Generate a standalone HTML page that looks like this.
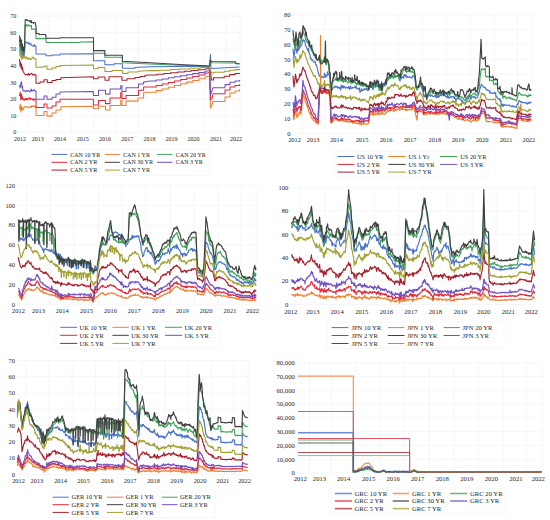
<!DOCTYPE html>
<html><head><meta charset="utf-8"><style>
html,body{margin:0;padding:0;background:#fff;}
svg{display:block;}
text{font-family:"Liberation Serif", serif;}
</style></head><body>
<svg width="550" height="520" viewBox="0 0 550 520">
<rect width="550" height="520" fill="#fff"/>
<line x1="19" y1="132.3" x2="240" y2="132.3" stroke="#f4f4f4" stroke-width="0.8"/>
<line x1="19" y1="115.7" x2="240" y2="115.7" stroke="#f4f4f4" stroke-width="0.8"/>
<line x1="19" y1="99.1" x2="240" y2="99.1" stroke="#f4f4f4" stroke-width="0.8"/>
<line x1="19" y1="82.5" x2="240" y2="82.5" stroke="#f4f4f4" stroke-width="0.8"/>
<line x1="19" y1="65.9" x2="240" y2="65.9" stroke="#f4f4f4" stroke-width="0.8"/>
<line x1="19" y1="49.3" x2="240" y2="49.3" stroke="#f4f4f4" stroke-width="0.8"/>
<line x1="19" y1="32.7" x2="240" y2="32.7" stroke="#f4f4f4" stroke-width="0.8"/>
<line x1="19" y1="16.1" x2="240" y2="16.1" stroke="#f4f4f4" stroke-width="0.8"/>
<line x1="48.9" y1="16.1" x2="48.9" y2="132.3" stroke="#f4f4f4" stroke-width="0.8"/>
<line x1="71.3" y1="16.1" x2="71.3" y2="132.3" stroke="#f4f4f4" stroke-width="0.8"/>
<line x1="93.9" y1="16.1" x2="93.9" y2="132.3" stroke="#f4f4f4" stroke-width="0.8"/>
<line x1="116.2" y1="16.1" x2="116.2" y2="132.3" stroke="#f4f4f4" stroke-width="0.8"/>
<line x1="138.4" y1="16.1" x2="138.4" y2="132.3" stroke="#f4f4f4" stroke-width="0.8"/>
<line x1="160.6" y1="16.1" x2="160.6" y2="132.3" stroke="#f4f4f4" stroke-width="0.8"/>
<line x1="182.5" y1="16.1" x2="182.5" y2="132.3" stroke="#f4f4f4" stroke-width="0.8"/>
<line x1="204.8" y1="16.1" x2="204.8" y2="132.3" stroke="#f4f4f4" stroke-width="0.8"/>
<line x1="226.0" y1="16.1" x2="226.0" y2="132.3" stroke="#f4f4f4" stroke-width="0.8"/>
<line x1="28.8" y1="16.1" x2="28.8" y2="132.3" stroke="#f4f4f4" stroke-width="0.8"/>
<line x1="240.0" y1="16.1" x2="240.0" y2="132.3" stroke="#f4f4f4" stroke-width="0.8"/>
<text x="16.2" y="134.4" text-anchor="end" font-size="6.05" fill="#1e1e1e">0</text>
<text x="16.2" y="117.8" text-anchor="end" font-size="6.05" fill="#1e1e1e">10</text>
<text x="16.2" y="101.2" text-anchor="end" font-size="6.05" fill="#1e1e1e">20</text>
<text x="16.2" y="84.6" text-anchor="end" font-size="6.05" fill="#1e1e1e">30</text>
<text x="16.2" y="68.0" text-anchor="end" font-size="6.05" fill="#1e1e1e">40</text>
<text x="16.2" y="51.4" text-anchor="end" font-size="6.05" fill="#1e1e1e">50</text>
<text x="16.2" y="34.8" text-anchor="end" font-size="6.05" fill="#1e1e1e">60</text>
<text x="16.2" y="18.2" text-anchor="end" font-size="6.05" fill="#1e1e1e">70</text>
<text x="20.0" y="140.6" text-anchor="middle" font-size="6.05" fill="#1e1e1e">2012</text>
<text x="37.7" y="140.6" text-anchor="middle" font-size="6.05" fill="#1e1e1e">2013</text>
<text x="60.0" y="140.6" text-anchor="middle" font-size="6.05" fill="#1e1e1e">2014</text>
<text x="82.7" y="140.6" text-anchor="middle" font-size="6.05" fill="#1e1e1e">2015</text>
<text x="105.1" y="140.6" text-anchor="middle" font-size="6.05" fill="#1e1e1e">2016</text>
<text x="127.3" y="140.6" text-anchor="middle" font-size="6.05" fill="#1e1e1e">2017</text>
<text x="149.6" y="140.6" text-anchor="middle" font-size="6.05" fill="#1e1e1e">2018</text>
<text x="171.5" y="140.6" text-anchor="middle" font-size="6.05" fill="#1e1e1e">2019</text>
<text x="193.5" y="140.6" text-anchor="middle" font-size="6.05" fill="#1e1e1e">2020</text>
<text x="216.0" y="140.6" text-anchor="middle" font-size="6.05" fill="#1e1e1e">2021</text>
<text x="236.0" y="140.6" text-anchor="middle" font-size="6.05" fill="#1e1e1e">2022</text>
<polyline points="19.5,44.0 20.0,50.0 20.5,45.0 21.0,54.0 21.5,47.0 22.0,55.0 22.5,50.0 23.0,56.0 23.5,52.0 24.0,57.0 24.6,52.0 25.2,42.5 25.2,42.5 25.9,41.7 26.6,42.7 27.3,43.0 28.0,42.5 28.0,43.5 28.6,43.9 29.2,42.8 29.8,44.2 30.4,44.0 31.0,43.5 31.0,45.0 31.7,45.5 32.3,45.5 33.0,45.8 33.7,46.6 34.3,44.6 35.0,45.0 35.0,46.3 36.0,46.3 36.0,53.9 46.0,53.9 46.0,55.8 52.0,55.8 52.0,55.0 60.0,55.0 60.0,53.9 93.5,53.7 93.5,60.7 104.9,60.7 104.9,64.7 114.0,64.7 114.0,63.8 122.4,63.8 122.4,68.3 135.0,68.3 135.0,67.5 150.0,66.7 180.0,66.5 209.6,66.5 210.4,54.6 211.0,68.0 211.5,68.5 239.6,66.9" fill="none" stroke="#4a72c8" stroke-width="1.05" stroke-linejoin="round" stroke-opacity="1.0"/>
<polyline points="19.5,109.4 20.2,104.0 20.8,112.0 21.5,106.0 22.0,110.0 22.5,108.0 23.0,110.0 23.7,108.3 24.3,106.4 25.0,106.7 25.0,106.7 25.6,107.1 26.2,107.2 26.9,106.5 27.5,107.0 28.1,107.9 28.8,107.4 29.4,107.2 30.0,107.2 30.6,106.1 31.2,107.4 31.9,105.5 32.5,106.5 33.1,106.4 33.8,105.5 34.4,106.6 35.0,106.7 35.0,106.7 36.0,106.7 36.0,115.5 44.0,115.5 44.0,111.4 47.0,111.4 47.0,116.1 52.0,116.1 52.0,113.0 56.0,113.0 56.0,110.0 61.0,110.0 61.0,106.7 93.4,106.2 93.4,108.7 98.5,108.7 98.5,106.2 105.5,106.2 105.5,110.0 110.0,110.0 110.0,105.5 120.7,105.5 120.7,100.5 122.0,100.5 122.0,105.5 126.0,105.5 126.0,101.1 138.0,101.1 138.0,97.9 143.6,97.9 143.6,92.8 150.0,92.3 156.1,92.3 156.1,90.6 162.2,90.6 162.2,88.9 168.3,88.9 168.3,87.2 174.4,87.2 174.4,85.5 180.6,85.5 180.6,83.8 186.7,83.8 186.7,82.1 192.8,82.1 192.8,80.4 198.9,80.4 198.9,78.7 205.0,78.7 205.0,77.0 209.6,76.0 210.5,108.0 211.5,106.2 213.0,101.5 213.0,101.5 225.0,101.5 225.0,96.9 230.0,96.9 230.0,93.0 235.0,93.0 235.0,91.0 239.6,91.0 239.6,89.2" fill="none" stroke="#ee8030" stroke-width="1.05" stroke-linejoin="round" stroke-opacity="1.0"/>
<polyline points="19.5,40.0 20.0,47.0 20.5,42.0 21.0,50.0 21.5,44.0 22.0,52.0 22.5,47.0 23.0,52.0 23.5,49.0 24.0,53.0 24.6,48.0 25.2,24.6 25.2,24.6 25.8,25.0 26.4,26.1 27.0,24.6 27.0,25.5 27.6,26.2 28.3,24.7 28.9,25.1 29.6,26.1 30.2,25.5 30.9,26.3 31.5,25.5 31.5,29.1 36.0,29.1 36.0,38.6 46.0,38.6 46.0,42.5 80.0,42.5 80.0,42.0 93.5,41.8 93.5,53.3 104.9,53.3 104.9,57.3 122.4,57.3 122.4,62.7 150.0,64.0 180.0,65.2 209.6,66.3 210.4,60.0 211.5,62.8 235.5,63.0 236.0,63.8 239.6,64.0" fill="none" stroke="#3fa45a" stroke-width="1.05" stroke-linejoin="round" stroke-opacity="1.0"/>
<polyline points="19.5,96.0 20.2,92.0 20.8,100.0 21.5,94.0 22.0,99.0 22.5,97.0 23.0,100.0 24.0,99.3 24.0,99.3 24.6,100.1 25.2,98.4 25.8,99.8 26.4,98.5 27.1,100.1 27.7,98.2 28.3,98.8 28.9,98.9 29.5,97.8 30.1,99.9 30.7,98.2 31.3,98.4 31.9,98.9 32.6,99.8 33.2,98.7 33.8,100.7 34.4,99.3 35.0,99.3 35.0,99.3 36.0,99.3 36.0,107.4 44.0,107.4 44.0,104.0 47.0,104.0 47.0,108.0 52.0,108.0 52.0,106.0 56.0,106.0 56.0,102.0 60.0,102.0 60.0,99.3 93.4,99.2 93.4,104.9 98.5,104.9 98.5,100.5 105.5,100.5 105.5,103.6 110.0,103.6 110.0,97.9 120.7,97.9 120.7,92.8 122.0,92.8 122.0,98.5 126.0,98.5 126.0,95.4 138.5,95.4 138.5,90.3 143.6,90.3 143.6,87.1 150.0,87.0 156.1,87.0 156.1,85.5 162.2,85.5 162.2,84.0 168.3,84.0 168.3,82.5 174.4,82.5 174.4,81.0 180.6,81.0 180.6,79.5 186.7,79.5 186.7,78.0 192.8,78.0 192.8,76.5 198.9,76.5 198.9,75.0 205.0,75.0 205.0,73.5 209.6,72.6 210.5,100.0 212.0,98.5 213.0,93.8 213.0,93.8 225.0,93.8 225.0,90.0 230.0,90.0 230.0,86.9 235.0,86.9 235.0,85.5 239.6,85.5 239.6,84.3" fill="none" stroke="#e0283a" stroke-width="1.05" stroke-linejoin="round" stroke-opacity="1.0"/>
<polyline points="19.5,35.5 20.0,42.0 20.5,38.0 21.0,47.0 21.5,40.0 22.0,50.0 22.5,44.0 23.0,51.0 23.5,47.0 24.0,52.0 24.6,46.0 25.2,19.5 25.8,19.9 26.4,19.9 27.0,19.5 27.0,20.8 27.6,20.4 28.3,20.8 28.9,20.8 29.6,20.8 30.2,22.3 30.9,20.6 31.5,20.8 31.5,22.7 32.1,22.5 32.8,22.4 33.5,23.4 34.1,22.4 34.8,22.6 35.4,22.7 35.4,25.3 36.0,25.3 36.0,33.5 39.0,33.5 39.0,34.5 45.5,34.5 45.5,35.5 46.0,35.5 46.0,38.3 60.0,38.3 60.0,37.8 93.5,37.8 93.5,38.2 93.5,50.6 104.9,50.6 104.9,55.3 122.4,55.3 122.4,61.3 150.0,62.7 180.0,64.4 209.6,66.0 210.4,60.0 211.5,61.5 235.5,61.7 236.0,63.5 239.6,63.8" fill="none" stroke="#404040" stroke-width="1.05" stroke-linejoin="round" stroke-opacity="1.0"/>
<polyline points="19.5,85.0 20.2,88.0 20.8,83.0 21.5,81.8 22.0,88.0 22.5,86.0 23.0,91.0 24.0,90.6 24.0,90.6 24.6,90.6 25.2,91.5 25.8,92.0 26.4,90.6 27.1,90.4 27.7,91.3 28.3,90.6 28.9,91.2 29.5,91.7 30.1,91.0 30.7,91.4 31.3,89.0 31.9,91.3 32.6,90.5 33.2,89.9 33.8,90.5 34.4,89.8 35.0,90.6 35.0,91.2 36.0,91.2 36.0,99.3 44.0,99.3 44.0,96.0 47.0,96.0 47.0,99.3 52.0,99.3 52.0,97.3 56.0,97.3 56.0,94.0 60.0,94.0 60.0,91.9 93.4,91.5 93.4,95.4 98.5,95.4 98.5,90.3 105.5,90.3 105.5,94.1 110.0,94.1 110.0,89.0 120.7,89.0 120.7,85.8 122.0,85.8 122.0,91.5 126.0,91.5 126.0,87.7 138.5,87.7 138.5,83.9 143.6,83.9 143.6,82.0 150.0,81.0 156.1,81.0 156.1,79.9 162.2,79.9 162.2,78.9 168.3,78.9 168.3,77.8 174.4,77.8 174.4,76.8 180.6,76.8 180.6,75.7 186.7,75.7 186.7,74.7 192.8,74.7 192.8,73.6 198.9,73.6 198.9,72.6 205.0,72.6 205.0,71.5 209.6,70.6 210.5,95.0 212.0,90.8 213.0,87.7 213.0,87.7 225.0,87.7 225.0,84.6 230.0,84.6 230.0,82.3 235.0,82.3 235.0,81.0 239.6,81.0 239.6,80.0" fill="none" stroke="#7050c0" stroke-width="1.05" stroke-linejoin="round" stroke-opacity="1.0"/>
<polyline points="19.5,59.0 20.0,66.0 20.5,62.0 21.0,68.0 21.5,64.0 22.0,70.0 22.5,67.0 23.0,71.0 24.0,73.0 25.0,74.4 25.0,74.4 25.6,75.0 26.2,74.6 26.8,74.7 27.4,74.3 28.0,75.1 28.6,73.3 29.2,75.2 29.8,74.2 30.4,74.3 31.0,73.7 31.6,73.3 32.2,74.1 32.8,74.9 33.4,74.6 34.0,75.0 34.6,74.2 35.2,74.4 35.2,75.0 36.0,75.0 36.0,83.2 40.0,83.2 40.0,82.0 44.0,82.0 44.0,79.8 47.3,79.8 47.3,82.5 52.0,82.5 52.0,80.5 56.0,80.5 56.0,79.5 60.8,79.5 60.8,77.8 93.5,76.8 93.5,78.8 98.0,78.8 98.0,77.0 105.0,77.0 105.0,80.2 109.0,80.2 109.0,76.8 122.0,76.8 122.0,80.2 127.0,80.2 127.0,78.8 135.0,78.8 135.0,77.5 140.0,77.5 140.0,76.5 145.0,76.5 145.0,75.3 150.0,75.0 156.9,75.0 156.9,74.2 163.8,74.2 163.8,73.5 170.6,73.5 170.6,72.8 177.5,72.8 177.5,72.0 184.4,72.0 184.4,71.2 191.2,71.2 191.2,70.5 198.1,70.5 198.1,69.8 205.0,69.8 205.0,69.0 209.6,68.5 210.4,70.0 211.5,80.0 211.5,80.0 213.5,80.0 213.5,77.7 224.2,77.7 224.2,76.2 229.6,76.2 229.6,74.6 235.0,74.6 235.0,73.5 239.6,73.5 239.6,73.0" fill="none" stroke="#a8202e" stroke-width="1.05" stroke-linejoin="round" stroke-opacity="1.0"/>
<polyline points="19.5,50.0 20.0,56.0 20.5,52.0 21.0,58.0 21.5,54.0 22.0,60.0 22.5,56.0 23.0,57.7 23.0,57.7 23.7,58.0 24.3,56.4 25.0,57.7 25.7,58.9 26.3,56.6 27.0,57.7 27.0,58.5 27.6,58.9 28.2,58.1 28.8,59.6 29.5,58.2 30.1,58.1 30.7,59.7 31.3,59.4 31.9,58.3 32.5,57.1 33.2,57.3 33.8,58.8 34.4,58.8 35.0,58.5 35.0,59.0 36.0,59.0 36.0,67.3 43.0,67.3 43.0,66.8 45.0,66.8 45.0,66.0 47.0,66.0 47.0,69.2 52.0,69.2 52.0,68.0 56.0,68.0 56.0,66.5 60.0,66.5 60.0,65.4 93.5,65.1 93.5,68.7 98.0,68.7 98.0,67.4 104.9,67.4 104.9,71.4 112.0,71.4 112.0,70.5 122.4,70.5 122.4,73.5 128.0,73.5 128.0,72.0 138.0,72.0 138.0,71.2 150.0,70.6 150.0,70.6 160.0,70.6 160.0,70.2 170.0,70.2 170.0,69.5 180.0,69.5 180.0,69.0 190.0,69.0 190.0,68.3 200.0,68.3 200.0,67.8 209.6,67.2 210.4,70.0 211.5,73.0 211.5,73.0 213.5,73.0 213.5,72.2 224.2,72.2 224.2,71.2 229.6,71.2 229.6,70.2 235.0,70.2 235.0,69.6 239.6,69.6 239.6,69.2" fill="none" stroke="#a0a030" stroke-width="1.05" stroke-linejoin="round" stroke-opacity="1.0"/>
<rect x="48" y="149.3" width="162" height="26.5" fill="none" stroke="#f4f4f4" stroke-width="0.8"/>
<line x1="51.5" y1="154.4" x2="67.2" y2="154.4" stroke="#4a72c8" stroke-width="1.0" stroke-opacity="1.0"/>
<text x="70.2" y="156.5" text-anchor="start" font-size="6.05" fill="#1e1e1e">CAN 10 YR</text>
<line x1="104.8" y1="154.4" x2="119.8" y2="154.4" stroke="#ee8030" stroke-width="1.0" stroke-opacity="1.0"/>
<text x="123.0" y="156.5" text-anchor="start" font-size="6.05" fill="#1e1e1e">CAN 1 YR</text>
<line x1="157" y1="154.4" x2="172.5" y2="154.4" stroke="#3fa45a" stroke-width="1.0" stroke-opacity="1.0"/>
<text x="175.8" y="156.5" text-anchor="start" font-size="6.05" fill="#1e1e1e">CAN 20 YR</text>
<line x1="51.5" y1="162.3" x2="67.2" y2="162.3" stroke="#e0283a" stroke-width="1.0" stroke-opacity="1.0"/>
<text x="70.2" y="164.4" text-anchor="start" font-size="6.05" fill="#1e1e1e">CAN 2 YR</text>
<line x1="104.8" y1="162.3" x2="119.8" y2="162.3" stroke="#404040" stroke-width="1.0" stroke-opacity="1.0"/>
<text x="123.0" y="164.4" text-anchor="start" font-size="6.05" fill="#1e1e1e">CAN 30 YR</text>
<line x1="157" y1="162.3" x2="172.5" y2="162.3" stroke="#7050c0" stroke-width="1.0" stroke-opacity="1.0"/>
<text x="175.8" y="164.4" text-anchor="start" font-size="6.05" fill="#1e1e1e">CAN 3 YR</text>
<line x1="51.5" y1="170.1" x2="67.2" y2="170.1" stroke="#a8202e" stroke-width="1.0" stroke-opacity="1.0"/>
<text x="70.2" y="172.2" text-anchor="start" font-size="6.05" fill="#1e1e1e">CAN 5 YR</text>
<line x1="104.8" y1="170.1" x2="119.8" y2="170.1" stroke="#a0a030" stroke-width="1.0" stroke-opacity="1.0"/>
<text x="123.0" y="172.2" text-anchor="start" font-size="6.05" fill="#1e1e1e">CAN 7 YR</text>
<line x1="293" y1="133.6" x2="532" y2="133.6" stroke="#f4f4f4" stroke-width="0.8"/>
<line x1="293" y1="118.8" x2="532" y2="118.8" stroke="#f4f4f4" stroke-width="0.8"/>
<line x1="293" y1="103.9" x2="532" y2="103.9" stroke="#f4f4f4" stroke-width="0.8"/>
<line x1="293" y1="89.0" x2="532" y2="89.0" stroke="#f4f4f4" stroke-width="0.8"/>
<line x1="293" y1="74.2" x2="532" y2="74.2" stroke="#f4f4f4" stroke-width="0.8"/>
<line x1="293" y1="59.3" x2="532" y2="59.3" stroke="#f4f4f4" stroke-width="0.8"/>
<line x1="293" y1="44.5" x2="532" y2="44.5" stroke="#f4f4f4" stroke-width="0.8"/>
<line x1="293" y1="29.6" x2="532" y2="29.6" stroke="#f4f4f4" stroke-width="0.8"/>
<line x1="293" y1="14.8" x2="532" y2="14.8" stroke="#f4f4f4" stroke-width="0.8"/>
<line x1="324.9" y1="14.8" x2="324.9" y2="133.6" stroke="#f4f4f4" stroke-width="0.8"/>
<line x1="349.2" y1="14.8" x2="349.2" y2="133.6" stroke="#f4f4f4" stroke-width="0.8"/>
<line x1="374.0" y1="14.8" x2="374.0" y2="133.6" stroke="#f4f4f4" stroke-width="0.8"/>
<line x1="398.0" y1="14.8" x2="398.0" y2="133.6" stroke="#f4f4f4" stroke-width="0.8"/>
<line x1="422.4" y1="14.8" x2="422.4" y2="133.6" stroke="#f4f4f4" stroke-width="0.8"/>
<line x1="446.4" y1="14.8" x2="446.4" y2="133.6" stroke="#f4f4f4" stroke-width="0.8"/>
<line x1="470.0" y1="14.8" x2="470.0" y2="133.6" stroke="#f4f4f4" stroke-width="0.8"/>
<line x1="494.0" y1="14.8" x2="494.0" y2="133.6" stroke="#f4f4f4" stroke-width="0.8"/>
<line x1="517.4" y1="14.8" x2="517.4" y2="133.6" stroke="#f4f4f4" stroke-width="0.8"/>
<line x1="302.5" y1="14.8" x2="302.5" y2="133.6" stroke="#f4f4f4" stroke-width="0.8"/>
<line x1="532.0" y1="14.8" x2="532.0" y2="133.6" stroke="#f4f4f4" stroke-width="0.8"/>
<text x="290.4" y="135.8" text-anchor="end" font-size="6.35" fill="#1e1e1e">0</text>
<text x="290.4" y="120.9" text-anchor="end" font-size="6.35" fill="#1e1e1e">10</text>
<text x="290.4" y="106.1" text-anchor="end" font-size="6.35" fill="#1e1e1e">20</text>
<text x="290.4" y="91.2" text-anchor="end" font-size="6.35" fill="#1e1e1e">30</text>
<text x="290.4" y="76.4" text-anchor="end" font-size="6.35" fill="#1e1e1e">40</text>
<text x="290.4" y="61.5" text-anchor="end" font-size="6.35" fill="#1e1e1e">50</text>
<text x="290.4" y="46.7" text-anchor="end" font-size="6.35" fill="#1e1e1e">60</text>
<text x="290.4" y="31.8" text-anchor="end" font-size="6.35" fill="#1e1e1e">70</text>
<text x="290.4" y="17.0" text-anchor="end" font-size="6.35" fill="#1e1e1e">80</text>
<text x="294.5" y="142.4" text-anchor="middle" font-size="6.35" fill="#1e1e1e">2012</text>
<text x="313.2" y="142.4" text-anchor="middle" font-size="6.35" fill="#1e1e1e">2013</text>
<text x="336.5" y="142.4" text-anchor="middle" font-size="6.35" fill="#1e1e1e">2014</text>
<text x="362.0" y="142.4" text-anchor="middle" font-size="6.35" fill="#1e1e1e">2015</text>
<text x="386.0" y="142.4" text-anchor="middle" font-size="6.35" fill="#1e1e1e">2016</text>
<text x="410.0" y="142.4" text-anchor="middle" font-size="6.35" fill="#1e1e1e">2017</text>
<text x="434.8" y="142.4" text-anchor="middle" font-size="6.35" fill="#1e1e1e">2018</text>
<text x="458.0" y="142.4" text-anchor="middle" font-size="6.35" fill="#1e1e1e">2019</text>
<text x="482.0" y="142.4" text-anchor="middle" font-size="6.35" fill="#1e1e1e">2020</text>
<text x="506.0" y="142.4" text-anchor="middle" font-size="6.35" fill="#1e1e1e">2021</text>
<text x="528.8" y="142.4" text-anchor="middle" font-size="6.35" fill="#1e1e1e">2022</text>
<polyline points="293.0,48.8 293.5,53.9 294.0,58.0 294.5,52.7 295.0,49.8 295.5,45.4 296.0,48.0 296.5,51.2 297.0,53.3 297.5,49.2 298.0,50.6 298.5,50.1 299.0,49.1 299.5,47.8 300.0,44.3 300.5,46.9 301.0,45.7 301.5,44.7 302.0,43.4 302.5,40.6 303.0,39.4 303.5,40.9 304.0,41.1 304.5,40.6 305.0,42.3 305.5,45.9 306.0,46.2 306.5,47.1 307.0,48.6 307.5,49.7 308.0,51.0 308.5,48.3 309.0,52.9 309.5,53.5 310.0,55.5 310.5,58.7 311.0,58.2 311.5,60.2 312.0,60.2 312.5,59.7 313.0,61.0 313.5,61.8 314.0,62.3 314.5,62.1 315.0,61.0 315.5,64.0 316.0,65.0 316.5,64.9 317.0,67.0 317.5,69.4 318.0,71.3 318.5,73.0 319.0,75.5 319.5,76.3 320.0,76.6 320.5,74.0 321.0,77.7 321.5,77.0 322.0,77.4 322.5,76.8 323.0,76.9 323.5,77.5 324.0,77.8 324.5,73.1 325.0,75.9 325.4,75.0 325.5,76.3 325.8,77.3 326.0,76.4 326.5,75.7 327.0,76.2 327.5,71.8 328.0,74.7 328.5,74.3 329.0,74.0 329.5,75.5 330.0,73.4 330.5,83.5 331.0,90.2 331.5,91.0 332.0,89.5 332.5,89.5 333.0,87.6 333.5,87.6 334.0,87.8 334.5,86.3 335.0,86.4 335.5,86.6 336.0,87.3 336.5,86.3 337.0,86.4 337.5,88.0 338.0,87.5 338.5,87.8 339.0,87.2 339.5,88.3 340.0,87.4 340.5,90.1 341.0,86.8 341.5,85.2 342.0,88.0 342.5,86.0 343.0,85.6 343.5,87.9 344.0,86.6 344.5,86.3 345.0,87.2 345.5,88.4 346.0,87.2 346.5,87.3 347.0,87.5 347.5,88.1 348.0,88.2 348.5,86.5 349.0,87.1 349.5,89.4 350.0,88.0 350.5,86.2 351.0,88.6 351.5,88.1 352.0,88.2 352.5,87.4 353.0,88.0 353.5,87.5 354.0,87.6 354.5,87.0 355.0,86.2 355.5,87.9 356.0,86.2 356.5,88.6 357.0,88.0 357.5,88.2 358.0,88.8 358.5,88.5 359.0,89.6 359.5,87.9 360.0,92.4 360.5,91.3 361.0,91.5 361.5,88.7 362.0,90.5 362.5,90.2 363.0,90.6 363.5,89.6 364.0,88.7 364.5,88.7 365.0,89.9 365.5,88.8 366.0,88.8 366.5,89.6 367.0,87.4 367.5,90.3 368.0,90.3 368.5,90.1 369.0,89.8 369.5,87.4 369.6,87.5 370.0,85.4 370.5,86.9 371.0,86.2 371.5,87.4 372.0,84.2 372.5,88.0 373.0,89.9 373.5,87.3 374.0,86.8 374.5,84.5 375.0,84.6 375.5,87.3 376.0,87.0 376.5,85.7 377.0,83.6 377.3,85.0 377.5,86.5 378.0,84.7 378.5,83.8 379.0,87.4 379.5,87.0 380.0,84.9 380.5,84.4 381.0,85.4 381.5,81.5 382.0,84.7 382.5,84.0 383.0,83.3 383.5,84.0 384.0,84.1 384.5,85.1 385.0,85.9 385.5,84.3 386.0,81.1 386.5,84.7 387.0,80.5 387.5,77.4 388.0,79.4 388.5,79.4 389.0,77.0 389.5,78.4 390.0,76.1 390.5,77.4 391.0,76.1 391.5,76.3 392.0,75.0 392.5,76.0 393.0,76.4 393.5,77.7 394.0,77.1 394.5,74.2 394.6,75.7 395.0,75.0 395.5,75.7 396.0,76.5 396.5,76.0 397.0,75.6 397.5,76.4 398.0,76.9 398.5,76.4 399.0,77.8 399.2,78.2 399.5,78.3 400.0,81.1 400.5,77.8 401.0,76.7 401.5,78.6 402.0,77.6 402.5,77.4 403.0,76.5 403.5,76.3 403.8,78.1 404.0,74.9 404.5,75.2 405.0,74.5 405.5,76.7 405.6,75.6 406.0,74.8 406.5,76.6 407.0,77.3 407.5,76.7 408.0,77.4 408.5,77.2 409.0,77.0 409.5,76.8 410.0,77.7 410.5,77.1 411.0,77.4 411.5,77.7 412.0,78.1 412.5,75.9 413.0,76.4 413.5,75.8 414.0,75.2 414.5,77.0 414.7,76.6 415.0,79.9 415.5,83.0 416.0,87.9 416.5,88.0 417.0,90.1 417.5,88.7 417.8,88.3 418.0,88.3 418.5,86.1 419.0,86.7 419.5,86.0 420.0,84.3 420.2,86.2 420.5,85.2 421.0,83.3 421.5,87.9 422.0,88.8 422.5,90.0 423.0,91.2 423.5,96.1 424.0,94.5 424.5,96.6 424.7,96.2 425.0,96.8 425.5,95.8 426.0,96.9 426.5,97.4 426.6,97.6 427.0,96.2 427.5,95.4 428.0,96.5 428.5,95.7 429.0,95.3 429.5,95.3 430.0,95.6 430.2,94.8 430.5,96.5 431.0,94.9 431.5,94.9 432.0,95.2 432.5,96.3 433.0,96.6 433.5,96.6 434.0,96.2 434.5,95.6 435.0,96.5 435.5,95.2 435.7,96.9 436.0,97.0 436.5,98.1 437.0,96.0 437.5,96.0 438.0,97.0 438.5,97.5 439.0,95.9 439.5,96.3 440.0,95.0 440.5,93.7 441.0,95.4 441.5,95.7 442.0,92.1 442.5,94.8 443.0,94.2 443.5,95.7 444.0,95.5 444.5,93.4 445.0,96.1 445.5,96.1 446.0,96.4 446.5,97.1 446.6,96.5 447.0,98.0 447.5,94.3 448.0,97.1 448.5,96.6 449.0,98.3 449.4,98.2 449.5,98.1 450.0,97.2 450.5,97.2 451.0,96.4 451.5,96.8 452.0,97.4 452.5,96.9 453.0,96.5 453.5,96.8 454.0,98.3 454.5,96.9 455.0,98.8 455.5,98.7 456.0,101.7 456.5,98.9 457.0,98.3 457.5,97.8 458.0,98.7 458.5,99.0 459.0,97.8 459.4,99.1 459.5,99.0 460.0,99.1 460.5,99.3 461.0,99.3 461.5,101.3 462.0,100.3 462.5,100.9 462.7,101.9 463.0,101.7 463.5,102.4 464.0,103.1 464.5,103.0 465.0,104.3 465.5,102.8 466.0,101.5 466.5,100.0 467.0,99.7 467.5,99.2 468.0,98.9 468.5,98.4 469.0,95.4 469.4,96.5 469.5,95.6 470.0,96.8 470.5,99.1 471.0,99.1 471.5,96.8 472.0,96.8 472.5,96.8 473.0,97.1 473.5,97.6 474.0,96.0 474.5,96.9 475.0,96.9 475.5,98.6 476.0,98.1 476.5,97.7 477.0,97.6 477.5,97.2 478.0,96.2 478.5,92.8 479.0,93.3 479.2,91.7 479.5,91.6 480.0,86.7 480.5,88.0 481.0,85.4 481.1,85.5 481.5,84.4 481.7,84.8 482.0,85.0 482.5,85.7 483.0,86.1 483.5,87.3 484.0,87.2 484.5,87.2 485.0,87.9 485.3,87.2 485.5,87.9 486.0,88.9 486.2,89.7 486.5,90.2 487.0,89.8 487.5,90.3 488.0,90.4 488.5,90.4 489.0,90.8 489.3,91.1 489.5,90.8 489.7,90.6 489.8,93.3 490.0,92.6 490.5,92.7 491.0,92.3 491.5,93.2 492.0,93.2 492.5,93.2 493.0,93.3 493.2,93.0 493.3,93.6 493.5,93.2 494.0,93.2 494.5,92.2 495.0,93.6 495.5,93.3 495.7,92.6 495.8,95.4 496.0,96.8 496.5,96.4 497.0,97.4 497.4,97.6 497.5,97.8 497.6,98.0 498.0,98.6 498.5,98.9 499.0,98.8 499.5,99.9 500.0,98.6 500.3,101.1 500.5,100.3 500.8,100.7 501.0,100.8 501.2,106.3 501.5,104.8 502.0,104.6 502.5,104.0 503.0,106.7 503.5,105.4 504.0,104.6 504.5,105.4 505.0,104.8 505.5,104.9 506.0,105.1 506.5,105.5 507.0,105.2 507.5,105.3 508.0,105.2 508.5,105.3 509.0,104.9 509.5,105.9 510.0,105.8 510.5,106.0 511.0,106.0 511.5,106.3 511.9,106.0 512.0,107.0 512.4,105.6 512.5,106.3 513.0,106.4 513.5,106.5 514.0,106.7 514.5,106.3 515.0,106.5 515.5,107.1 516.0,106.9 516.5,106.2 516.6,107.1 517.0,104.9 517.5,103.8 517.7,104.4 518.0,104.6 518.3,102.4 518.5,102.0 518.8,101.8 519.0,100.7 519.5,100.5 519.8,101.2 520.0,101.3 520.5,101.5 520.9,102.3 521.0,101.5 521.4,101.8 521.5,101.7 522.0,102.5 522.5,102.7 523.0,102.5 523.5,102.3 524.0,102.8 524.5,102.6 525.0,102.8 525.5,102.6 526.0,102.9 526.5,103.6 527.0,102.9 527.2,103.0 527.5,104.1 528.0,103.0 528.5,103.5 528.8,103.3 529.0,102.0 529.5,102.9 530.0,103.0 530.5,102.2 531.0,102.7 531.3,102.9" fill="none" stroke="#4a72c8" stroke-width="1.15" stroke-linejoin="round" stroke-opacity="1.0"/>
<polyline points="293.0,115.3 293.5,117.7 294.0,119.8 294.5,114.6 295.0,112.9 295.5,109.2 296.0,111.7 296.5,115.3 297.0,117.6 297.5,114.8 298.0,116.2 298.5,113.8 299.0,112.6 299.5,112.2 300.0,111.4 300.5,114.2 301.0,113.9 301.5,109.1 302.0,104.0 302.5,98.9 303.0,93.8 303.5,95.2 304.0,96.8 304.5,98.4 305.0,98.8 305.5,101.9 306.0,102.5 306.5,104.1 307.0,106.1 307.5,107.1 308.0,108.9 308.5,110.3 309.0,111.9 309.5,113.1 310.0,113.8 310.5,112.7 311.0,116.2 311.5,118.0 312.0,118.2 312.5,118.4 313.0,119.9 313.5,120.6 314.0,120.5 314.5,121.2 315.0,120.9 315.5,122.1 316.0,122.9 316.5,123.1 317.0,123.9 317.5,124.1 318.0,124.0 318.5,123.7 319.0,108.0 319.5,91.9 320.0,92.1 320.5,92.0 320.5,35.5 320.6,92.0 321.0,93.0 321.5,92.2 322.0,92.6 322.5,92.3 323.0,92.8 323.5,93.1 324.0,92.9 324.5,90.4 325.0,92.3 325.4,91.7 325.5,92.6 325.8,93.5 326.0,93.5 326.5,93.4 327.0,94.0 327.5,93.6 328.0,93.8 328.5,93.9 329.0,94.6 329.5,95.9 330.0,94.3 330.5,109.8 331.0,123.2 331.5,123.0 332.0,122.5 332.5,121.5 333.0,121.0 333.5,120.3 334.0,119.8 334.5,119.7 335.0,119.6 335.5,119.3 336.0,119.9 336.5,118.9 337.0,119.9 337.5,119.8 338.0,120.4 338.5,121.0 339.0,120.8 339.5,121.2 340.0,120.6 340.5,120.6 341.0,120.3 341.5,119.7 342.0,121.2 342.5,119.8 343.0,119.5 343.5,121.0 344.0,120.7 344.5,121.6 345.0,120.7 345.5,121.8 346.0,121.1 346.5,121.3 347.0,121.9 347.5,122.2 348.0,122.3 348.5,121.5 349.0,121.4 349.5,121.9 350.0,121.3 350.5,121.0 351.0,122.5 351.5,121.1 352.0,120.6 352.5,122.9 353.0,123.2 353.5,122.3 354.0,122.4 354.5,122.8 355.0,122.5 355.5,123.3 356.0,122.8 356.5,123.5 357.0,123.2 357.5,123.2 358.0,124.0 358.5,123.2 359.0,123.9 359.5,121.4 360.0,124.2 360.5,124.4 361.0,124.7 361.5,123.2 362.0,124.4 362.5,124.0 363.0,124.2 363.5,124.2 364.0,123.2 364.5,123.5 365.0,123.8 365.5,123.8 366.0,124.0 366.5,124.1 367.0,124.2 367.5,124.3 368.0,123.7 368.5,123.5 369.0,120.4 369.5,117.3 369.6,116.5 370.0,113.5 370.5,114.7 371.0,114.2 371.5,113.9 372.0,114.1 372.5,114.3 373.0,115.4 373.5,113.8 374.0,114.6 374.5,113.1 375.0,114.2 375.5,115.0 376.0,114.7 376.5,113.7 377.0,112.7 377.3,113.8 377.5,114.0 378.0,113.0 378.5,112.8 379.0,115.4 379.5,113.7 380.0,113.7 380.5,113.5 381.0,114.3 381.5,111.6 382.0,114.0 382.5,114.1 383.0,112.7 383.5,113.4 384.0,113.9 384.5,114.1 385.0,114.2 385.5,113.3 386.0,112.4 386.5,112.7 387.0,112.1 387.5,109.8 388.0,111.3 388.5,111.5 389.0,110.3 389.5,110.9 390.0,110.1 390.5,110.5 391.0,110.3 391.5,110.0 392.0,110.0 392.5,110.1 393.0,110.5 393.5,111.1 394.0,111.3 394.5,109.6 394.6,110.6 395.0,110.0 395.5,109.4 396.0,110.9 396.5,109.6 397.0,109.2 397.5,109.6 398.0,109.4 398.5,109.4 399.0,109.8 399.2,109.9 399.5,110.1 400.0,110.0 400.5,109.0 401.0,108.4 401.5,109.5 402.0,107.3 402.5,109.7 403.0,109.1 403.5,109.5 403.8,108.9 404.0,109.0 404.5,109.1 405.0,109.2 405.5,110.5 405.6,110.3 406.0,108.7 406.5,110.5 407.0,110.3 407.5,109.5 408.0,109.9 408.5,109.7 409.0,109.4 409.5,109.3 410.0,109.7 410.5,109.5 411.0,109.7 411.5,109.6 412.0,110.2 412.5,108.0 413.0,108.4 413.5,107.9 414.0,107.5 414.5,109.3 414.7,111.3 415.0,111.5 415.5,113.6 416.0,116.3 416.5,117.4 417.0,120.1 417.5,115.2 417.8,112.7 418.0,111.4 418.5,111.3 419.0,110.9 419.5,111.9 420.0,111.1 420.2,111.7 420.5,111.0 421.0,111.5 421.5,111.5 422.0,112.1 422.5,112.3 423.0,112.4 423.5,114.9 424.0,113.4 424.5,114.3 424.7,114.0 425.0,114.9 425.5,114.5 426.0,114.5 426.5,114.3 426.6,114.4 427.0,113.7 427.5,113.6 428.0,113.7 428.5,113.6 429.0,113.7 429.5,113.5 430.0,114.1 430.2,113.3 430.5,114.4 431.0,112.8 431.5,113.3 432.0,113.6 432.5,113.9 433.0,113.9 433.5,113.9 434.0,114.2 434.5,113.6 435.0,114.0 435.5,113.3 435.7,113.6 436.0,114.2 436.5,114.3 437.0,113.5 437.5,113.3 438.0,113.7 438.5,114.3 439.0,113.9 439.5,114.1 440.0,113.6 440.5,113.1 441.0,113.6 441.5,114.0 442.0,113.5 442.5,113.6 443.0,112.6 443.5,113.4 444.0,113.9 444.5,113.2 445.0,114.2 445.5,113.7 446.0,113.9 446.5,114.3 446.6,113.9 447.0,114.3 447.5,113.6 448.0,114.1 448.5,113.9 449.0,114.7 449.4,115.1 449.5,115.2 450.0,114.6 450.5,114.9 451.0,114.9 451.5,114.6 452.0,115.3 452.5,115.6 453.0,115.5 453.5,116.5 454.0,117.1 454.5,117.4 455.0,117.2 455.5,117.6 456.0,116.5 456.5,118.2 457.0,118.2 457.5,119.0 458.0,119.1 458.5,119.2 459.0,118.0 459.4,118.8 459.5,118.9 460.0,119.1 460.5,118.9 461.0,119.4 461.5,119.9 462.0,119.0 462.5,119.3 462.7,119.9 463.0,119.7 463.5,119.4 464.0,120.3 464.5,120.8 465.0,120.9 465.5,120.4 466.0,119.9 466.5,119.7 467.0,119.9 467.5,119.4 468.0,120.8 468.5,120.5 469.0,119.9 469.4,120.1 469.5,119.9 470.0,121.3 470.5,122.2 471.0,122.1 471.5,121.0 472.0,121.0 472.5,120.3 473.0,120.4 473.5,120.9 474.0,119.4 474.5,120.2 475.0,120.5 475.5,121.1 476.0,121.0 476.5,120.4 477.0,121.0 477.5,121.0 478.0,120.3 478.5,116.9 479.0,119.6 479.2,118.7 479.5,118.8 480.0,116.5 480.5,115.7 481.0,114.3 481.1,114.4 481.5,112.3 481.7,112.5 482.0,112.9 482.5,113.4 483.0,113.4 483.5,113.7 484.0,114.0 484.5,114.0 485.0,116.4 485.3,117.0 485.5,118.2 486.0,120.3 486.2,121.3 486.5,121.5 487.0,121.3 487.5,121.4 488.0,122.0 488.5,121.5 489.0,121.6 489.3,121.7 489.5,121.6 489.7,121.7 489.8,121.5 490.0,121.6 490.5,121.7 491.0,121.7 491.5,122.0 492.0,122.0 492.5,122.0 493.0,122.2 493.2,122.1 493.3,122.2 493.5,122.1 494.0,122.4 494.5,122.3 495.0,122.7 495.5,122.8 495.7,122.5 495.8,122.0 496.0,122.9 496.5,122.9 497.0,122.7 497.4,122.6 497.5,122.1 497.6,122.7 498.0,122.9 498.5,122.9 499.0,122.6 499.5,122.9 500.0,121.9 500.3,123.0 500.5,122.8 500.8,122.9 501.0,123.0 501.2,126.9 501.5,126.1 502.0,126.2 502.5,126.5 503.0,127.4 503.5,126.7 504.0,126.5 504.5,126.8 505.0,126.6 505.5,126.6 506.0,126.5 506.5,126.8 507.0,126.7 507.5,126.6 508.0,126.8 508.5,126.6 509.0,126.3 509.5,127.1 510.0,126.8 510.5,127.3 511.0,127.1 511.5,126.5 511.9,127.1 512.0,127.6 512.4,127.0 512.5,127.3 513.0,127.5 513.5,127.3 514.0,127.3 514.5,128.1 515.0,127.9 515.5,128.1 516.0,128.0 516.5,127.7 516.6,128.4 517.0,125.8 517.5,123.5 517.7,122.7 518.0,120.9 518.3,119.2 518.5,117.9 518.8,116.7 519.0,114.9 519.5,112.2 519.8,110.3 520.0,109.2 520.5,106.3 520.9,104.2 521.0,107.2 521.4,120.5 521.5,120.4 522.0,120.3 522.5,120.9 523.0,120.9 523.5,120.3 524.0,121.1 524.5,121.0 525.0,121.0 525.5,120.8 526.0,121.0 526.5,121.5 527.0,121.2 527.2,121.5 527.5,121.7 528.0,120.5 528.5,121.3 528.8,121.3 529.0,120.2 529.5,120.9 530.0,120.8 530.5,120.6 531.0,120.8 531.3,120.9" fill="none" stroke="#ee8030" stroke-width="1.15" stroke-linejoin="round" stroke-opacity="1.0"/>
<polyline points="293.0,38.3 293.5,41.6 294.0,44.1 294.5,46.6 295.0,49.4 295.5,46.1 296.0,43.9 296.5,45.7 297.0,39.6 297.5,38.5 298.0,42.0 298.5,43.3 299.0,45.2 299.5,43.6 300.0,40.6 300.5,43.1 301.0,41.4 301.5,39.0 302.0,36.0 302.5,33.0 303.0,30.2 303.5,32.5 304.0,34.6 304.5,35.2 305.0,35.4 305.5,40.0 306.0,39.9 306.5,40.7 307.0,42.3 307.5,41.9 308.0,43.4 308.5,43.8 309.0,44.8 309.5,45.4 310.0,46.7 310.5,48.0 311.0,48.6 311.5,51.1 312.0,50.7 312.5,51.8 313.0,53.1 313.5,54.3 314.0,55.3 314.5,55.4 315.0,55.3 315.5,58.5 316.0,58.5 316.5,59.0 317.0,60.1 317.5,59.8 318.0,59.8 318.5,60.1 319.0,59.6 319.5,58.9 320.0,59.8 320.5,57.8 321.0,60.7 321.5,60.4 322.0,61.2 322.5,60.5 323.0,60.6 323.5,60.1 324.0,62.4 324.5,56.6 325.0,60.9 325.4,59.8 325.5,63.6 325.8,64.5 326.0,61.1 326.5,64.8 327.0,61.2 327.5,60.3 328.0,61.1 328.5,64.8 329.0,69.9 329.5,75.9 330.0,77.4 330.5,84.6 331.0,88.4 331.5,87.9 332.0,84.1 332.1,84.0 332.3,84.0 332.5,83.0 333.0,82.1 333.5,80.6 334.0,80.4 334.5,79.8 335.0,79.4 335.5,79.5 335.6,78.1 335.8,78.1 336.0,80.2 336.5,78.8 337.0,80.7 337.5,81.0 338.0,80.4 338.5,81.1 339.0,80.3 339.5,80.1 340.0,76.3 340.1,78.2 340.3,78.2 340.5,80.7 341.0,78.9 341.5,78.6 342.0,81.8 342.5,78.7 343.0,78.9 343.5,82.4 344.0,79.7 344.5,81.1 345.0,79.3 345.1,79.7 345.3,79.7 345.5,81.6 346.0,80.1 346.5,80.9 347.0,81.3 347.5,82.9 348.0,82.3 348.5,81.8 349.0,82.3 349.5,81.3 349.6,80.6 349.8,80.6 350.0,81.6 350.5,81.1 351.0,83.4 351.5,82.7 352.0,83.1 352.5,82.6 352.6,82.4 352.8,82.4 353.0,82.6 353.5,81.4 354.0,82.7 354.5,82.1 355.0,81.0 355.5,83.6 356.0,82.7 356.5,83.4 356.6,85.0 356.8,85.0 357.0,83.2 357.5,83.8 358.0,83.8 358.5,83.1 359.0,84.9 359.5,83.2 360.0,85.1 360.1,84.8 360.3,84.8 360.5,85.7 361.0,85.8 361.5,83.7 362.0,85.5 362.5,85.1 363.0,86.6 363.5,85.3 363.6,83.1 363.8,83.1 364.0,84.9 364.5,84.8 365.0,86.4 365.5,86.1 366.0,85.7 366.1,83.9 366.3,83.9 366.5,86.5 367.0,86.4 367.5,85.4 368.0,85.7 368.5,86.4 369.0,86.7 369.5,86.1 369.6,86.2 370.0,85.8 370.5,87.1 371.0,85.5 371.5,86.4 372.0,85.5 372.5,86.2 373.0,88.5 373.5,86.2 374.0,86.1 374.5,83.7 375.0,84.0 375.5,87.0 376.0,86.1 376.5,85.4 377.0,82.5 377.3,84.3 377.5,85.6 378.0,85.2 378.5,85.5 379.0,90.5 379.5,88.7 380.0,89.1 380.5,89.2 381.0,90.7 381.5,87.3 382.0,90.0 382.5,88.8 383.0,87.1 383.5,86.3 384.0,86.0 384.5,85.7 385.0,85.1 385.5,83.5 386.0,81.0 386.5,81.8 387.0,81.1 387.5,77.4 388.0,80.2 388.5,78.9 389.0,76.6 389.5,78.6 390.0,78.0 390.5,78.5 391.0,77.5 391.5,76.9 392.0,76.2 392.5,76.2 393.0,77.8 393.5,78.3 394.0,76.9 394.5,74.4 394.6,76.8 395.0,75.3 395.5,77.5 396.0,77.0 396.5,76.3 397.0,76.5 397.5,76.6 398.0,74.0 398.5,76.6 399.0,79.3 399.2,80.0 399.5,78.8 400.0,77.6 400.5,76.1 401.0,74.2 401.5,75.5 402.0,72.8 402.5,72.9 403.0,70.9 403.5,70.1 403.8,69.9 404.0,69.7 404.5,70.0 405.0,69.8 405.5,70.9 405.6,71.5 406.0,69.1 406.5,72.1 407.0,72.2 407.5,71.1 408.0,71.5 408.5,71.4 409.0,70.6 409.5,70.6 410.0,72.2 410.5,70.5 411.0,70.9 411.5,71.3 412.0,72.4 412.5,70.9 413.0,72.0 413.5,72.6 414.0,72.8 414.5,73.2 414.7,75.4 415.0,76.5 415.5,80.8 416.0,87.5 416.5,88.6 417.0,89.3 417.5,87.6 417.8,86.2 418.0,86.4 418.5,85.8 419.0,85.0 419.5,85.2 420.0,83.1 420.2,84.2 420.5,82.4 421.0,83.4 421.5,82.9 422.0,83.9 422.5,84.8 423.0,85.2 423.5,92.5 424.0,87.1 424.5,88.6 424.7,88.5 425.0,90.5 425.5,91.9 426.0,95.4 426.5,97.4 426.6,100.0 427.0,99.6 427.5,95.6 428.0,94.6 428.5,94.1 429.0,94.2 429.5,93.2 430.0,92.3 430.2,91.1 430.5,93.0 431.0,90.9 431.5,91.9 432.0,91.1 432.5,92.4 433.0,93.8 433.5,92.3 434.0,93.1 434.5,93.2 435.0,93.6 435.5,93.7 435.7,93.6 436.0,91.7 436.5,95.6 437.0,92.5 437.5,93.2 438.0,94.7 438.5,95.5 439.0,94.3 439.5,93.4 440.0,93.6 440.5,93.5 441.0,93.7 441.5,93.9 442.0,93.6 442.5,92.8 443.0,91.4 443.5,92.9 444.0,92.5 444.5,91.3 445.0,93.0 445.5,93.4 446.0,93.8 446.5,94.4 446.6,94.2 447.0,94.1 447.5,93.3 448.0,93.7 448.5,92.9 449.0,94.0 449.4,94.9 449.5,95.7 450.0,94.2 450.5,93.4 451.0,92.9 451.5,91.8 452.0,92.4 452.5,93.0 453.0,91.6 453.5,92.4 454.0,93.2 454.5,94.9 455.0,95.4 455.5,95.9 456.0,96.6 456.5,96.1 457.0,95.7 457.5,95.5 458.0,96.6 458.5,98.2 459.0,96.4 459.4,96.6 459.5,96.6 460.0,96.6 460.5,96.8 461.0,97.1 461.5,97.6 462.0,96.9 462.5,97.5 462.7,98.4 463.0,98.1 463.5,98.7 464.0,99.8 464.5,100.4 465.0,100.6 465.5,98.6 466.0,98.8 466.5,97.3 467.0,99.7 467.5,96.5 468.0,95.6 468.5,96.6 469.0,94.7 469.4,93.6 469.5,93.7 470.0,94.7 470.5,96.8 471.0,96.4 471.5,95.4 472.0,95.0 472.5,94.2 473.0,94.1 473.5,93.6 474.0,93.3 474.5,93.5 475.0,94.0 475.5,95.1 476.0,95.0 476.5,94.7 477.0,95.2 477.5,92.8 478.0,90.2 478.5,84.8 479.0,85.0 479.2,82.8 479.5,85.8 480.0,77.3 480.5,74.3 481.0,70.2 481.1,70.1 481.5,68.8 481.7,68.8 482.0,69.2 482.5,69.6 483.0,69.3 483.5,69.7 484.0,69.1 484.5,68.9 485.0,69.9 485.3,68.5 485.5,76.1 486.0,76.3 486.2,76.9 486.5,77.2 487.0,76.4 487.5,76.4 488.0,76.6 488.5,76.7 489.0,76.9 489.3,77.0 489.5,80.6 489.7,80.7 489.8,80.0 490.0,80.1 490.5,80.2 491.0,80.0 491.5,80.5 492.0,80.6 492.5,80.6 493.0,80.6 493.2,80.3 493.3,80.7 493.5,84.0 494.0,84.3 494.5,84.2 495.0,84.5 495.5,84.4 495.7,83.8 495.8,83.0 496.0,84.1 496.5,84.3 497.0,84.0 497.4,83.9 497.5,87.4 497.6,90.3 498.0,90.9 498.5,91.9 499.0,91.9 499.5,93.3 500.0,92.3 500.3,94.2 500.5,94.4 500.8,94.3 501.0,94.3 501.2,95.2 501.5,94.1 502.0,94.6 502.5,95.2 503.0,98.3 503.5,96.2 504.0,96.3 504.5,97.1 505.0,96.1 505.5,96.9 506.0,97.4 506.5,98.9 507.0,97.7 507.5,98.0 508.0,97.8 508.5,97.8 509.0,96.9 509.5,98.3 510.0,97.8 510.5,98.4 511.0,98.0 511.5,98.5 511.9,98.8 512.0,99.5 512.4,98.6 512.5,98.9 513.0,99.3 513.5,99.3 514.0,99.3 514.5,99.6 515.0,100.0 515.5,100.4 516.0,100.3 516.5,100.3 516.6,101.1 517.0,98.6 517.5,97.2 517.7,96.8 518.0,95.7 518.3,94.2 518.5,93.7 518.8,93.3 519.0,92.2 519.5,92.9 519.8,93.2 520.0,93.7 520.5,94.0 520.9,94.7 521.0,94.3 521.4,94.4 521.5,94.4 522.0,95.5 522.5,95.3 523.0,95.0 523.5,95.1 524.0,95.2 524.5,95.0 525.0,95.0 525.5,94.8 526.0,95.4 526.5,96.1 527.0,95.7 527.2,96.0 527.5,96.9 528.0,95.8 528.5,95.9 528.8,96.3 529.0,94.5 529.5,95.1 530.0,95.5 530.5,94.8 531.0,95.3 531.3,96.0" fill="none" stroke="#3fa45a" stroke-width="1.15" stroke-linejoin="round" stroke-opacity="1.0"/>
<polyline points="293.0,108.8 293.5,112.3 294.0,115.4 294.5,111.2 295.0,107.5 295.5,102.7 296.0,105.9 296.5,109.6 297.0,111.7 297.5,108.4 298.0,109.0 298.5,107.3 299.0,106.6 299.5,106.9 300.0,106.3 300.5,110.1 301.0,110.5 301.5,105.3 302.0,100.5 302.5,94.9 303.0,90.0 303.5,90.9 304.0,92.5 304.5,93.7 305.0,93.8 305.5,97.4 306.0,97.4 306.5,99.4 307.0,101.1 307.5,102.4 308.0,104.8 308.5,106.2 309.0,107.4 309.5,108.2 310.0,109.3 310.5,110.5 311.0,111.6 311.5,113.8 312.0,114.8 312.5,115.2 313.0,116.3 313.5,117.7 314.0,117.5 314.5,118.5 315.0,117.7 315.5,119.9 316.0,120.5 316.5,121.1 317.0,121.9 317.5,122.0 318.0,122.1 318.5,111.5 319.0,101.4 319.5,90.6 320.0,90.7 320.5,89.3 321.0,91.2 321.5,91.2 322.0,90.7 322.5,90.8 323.0,91.0 323.5,91.2 324.0,90.9 324.5,88.0 325.0,90.7 325.4,90.7 325.5,91.1 325.8,92.3 326.0,91.6 326.5,92.5 327.0,92.2 327.5,92.2 328.0,92.4 328.5,92.4 329.0,93.1 329.5,94.0 330.0,92.7 330.5,108.5 331.0,121.8 331.5,121.9 332.0,120.8 332.5,119.7 333.0,118.3 333.5,117.9 334.0,118.4 334.5,118.0 335.0,117.9 335.5,117.5 336.0,118.5 336.5,117.6 337.0,119.0 337.5,119.5 338.0,119.4 338.5,120.2 339.0,119.9 339.5,119.9 340.0,119.0 340.5,119.2 341.0,118.8 341.5,117.4 342.0,120.0 342.5,118.3 343.0,118.5 343.5,119.2 344.0,118.9 344.5,118.8 345.0,119.3 345.5,120.1 346.0,119.2 346.5,119.2 347.0,119.6 347.5,120.3 348.0,120.0 348.5,118.7 349.0,119.1 349.5,119.5 350.0,119.7 350.5,119.5 351.0,121.0 351.5,121.3 352.0,121.3 352.5,120.8 353.0,122.0 353.5,121.2 354.0,121.5 354.5,121.0 355.0,120.7 355.5,120.8 356.0,120.1 356.5,120.7 357.0,120.8 357.5,120.4 358.0,121.2 358.5,120.4 359.0,121.5 359.5,120.3 360.0,121.8 360.5,122.0 361.0,122.5 361.5,120.6 362.0,121.5 362.5,121.0 363.0,121.9 363.5,122.6 364.0,120.4 364.5,120.4 365.0,121.3 365.5,120.9 366.0,120.8 366.5,121.1 367.0,121.1 367.5,120.3 368.0,120.7 368.5,121.1 369.0,117.9 369.5,114.1 369.6,113.4 370.0,110.6 370.5,112.1 371.0,111.2 371.5,111.7 372.0,111.3 372.5,111.7 373.0,113.3 373.5,111.2 374.0,110.7 374.5,109.4 375.0,109.9 375.5,112.1 376.0,111.6 376.5,110.8 377.0,109.5 377.3,110.5 377.5,111.2 378.0,110.2 378.5,110.1 379.0,112.3 379.5,110.8 380.0,110.8 380.5,110.4 381.0,111.0 381.5,108.4 382.0,110.7 382.5,111.0 383.0,109.7 383.5,109.0 384.0,110.4 384.5,110.9 385.0,111.1 385.5,110.5 386.0,108.6 386.5,109.5 387.0,108.8 387.5,106.2 388.0,108.0 388.5,108.4 389.0,107.7 389.5,108.4 390.0,107.2 390.5,110.6 391.0,107.5 391.5,107.9 392.0,107.9 392.5,107.9 393.0,108.6 393.5,108.7 394.0,108.3 394.5,106.7 394.6,108.2 395.0,107.0 395.5,105.8 396.0,107.2 396.5,106.9 397.0,106.3 397.5,106.7 398.0,107.2 398.5,107.0 399.0,107.9 399.2,108.3 399.5,107.3 400.0,107.3 400.5,106.8 401.0,106.3 401.5,106.9 402.0,106.8 402.5,107.5 403.0,106.8 403.5,107.1 403.8,106.9 404.0,106.6 404.5,106.6 405.0,106.4 405.5,107.5 405.6,107.4 406.0,105.8 406.5,107.5 407.0,107.2 407.5,107.2 408.0,107.4 408.5,107.5 409.0,106.7 409.5,107.3 410.0,107.7 410.5,107.6 411.0,104.9 411.5,107.2 412.0,107.8 412.5,105.5 413.0,105.8 413.5,105.4 414.0,104.6 414.5,105.9 414.7,107.1 415.0,107.3 415.5,109.0 416.0,111.5 416.5,111.0 417.0,112.7 417.5,111.6 417.8,110.9 418.0,111.5 418.5,110.1 419.0,110.0 419.5,110.3 420.0,108.7 420.2,109.6 420.5,109.2 421.0,109.5 421.5,109.8 422.0,110.1 422.5,110.3 423.0,110.5 423.5,114.2 424.0,111.8 424.5,112.9 424.7,112.4 425.0,112.9 425.5,112.4 426.0,112.3 426.5,112.4 426.6,112.8 427.0,112.2 427.5,112.1 428.0,111.5 428.5,111.3 429.0,112.4 429.5,112.0 430.0,112.5 430.2,111.6 430.5,112.6 431.0,111.4 431.5,111.6 432.0,112.0 432.5,112.8 433.0,113.0 433.5,113.4 434.0,112.9 434.5,112.4 435.0,112.6 435.5,111.7 435.7,112.4 436.0,112.8 436.5,113.8 437.0,112.0 437.5,111.8 438.0,112.3 438.5,112.6 439.0,112.1 439.5,112.6 440.0,109.9 440.5,111.1 441.0,112.6 441.5,112.6 442.0,112.0 442.5,111.9 443.0,110.7 443.5,112.2 444.0,111.9 444.5,110.8 445.0,111.7 445.5,111.4 446.0,112.0 446.5,112.2 446.6,112.2 447.0,112.6 447.5,112.1 448.0,112.9 448.5,112.3 449.0,113.7 449.4,114.1 449.5,114.1 450.0,113.9 450.5,114.1 451.0,113.5 451.5,113.8 452.0,114.6 452.5,114.3 453.0,113.8 453.5,114.6 454.0,115.2 454.5,115.6 455.0,115.6 455.5,116.1 456.0,116.6 456.5,116.4 457.0,115.6 457.5,116.3 458.0,116.5 458.5,117.1 459.0,116.5 459.4,117.0 459.5,116.9 460.0,116.4 460.5,115.9 461.0,116.6 461.5,116.8 462.0,114.2 462.5,116.2 462.7,117.1 463.0,119.3 463.5,117.3 464.0,117.8 464.5,117.6 465.0,118.1 465.5,117.2 466.0,117.3 466.5,117.0 467.0,116.5 467.5,116.6 468.0,117.5 468.5,118.2 469.0,117.3 469.4,117.2 469.5,117.4 470.0,117.9 470.5,119.0 471.0,118.6 471.5,118.4 472.0,115.8 472.5,117.1 473.0,116.9 473.5,118.7 474.0,116.0 474.5,116.5 475.0,116.6 475.5,119.5 476.0,117.5 476.5,117.1 477.0,118.1 477.5,118.6 478.0,117.7 478.5,115.9 479.0,117.0 479.2,116.3 479.5,116.9 480.0,115.4 480.5,113.9 481.0,112.3 481.1,113.0 481.5,110.2 481.7,110.4 482.0,110.8 482.5,111.2 483.0,111.3 483.5,112.0 484.0,111.7 484.5,111.9 485.0,113.9 485.3,114.0 485.5,115.0 486.0,117.0 486.2,117.8 486.5,118.2 487.0,118.1 487.5,117.9 488.0,117.7 488.5,118.0 489.0,118.1 489.3,118.2 489.5,118.0 489.7,118.0 489.8,117.9 490.0,117.6 490.5,117.7 491.0,117.6 491.5,117.9 492.0,118.4 492.5,118.0 493.0,118.2 493.2,120.1 493.3,120.1 493.5,118.9 494.0,120.1 494.5,120.1 495.0,120.3 495.5,120.4 495.7,119.9 495.8,119.2 496.0,120.2 496.5,120.5 497.0,120.5 497.4,120.4 497.5,120.5 497.6,120.5 498.0,120.7 498.5,120.9 499.0,120.5 499.5,121.3 500.0,119.9 500.3,121.3 500.5,120.9 500.8,121.2 501.0,121.4 501.2,125.4 501.5,124.6 502.0,124.4 502.5,124.7 503.0,125.4 503.5,124.3 504.0,124.0 504.5,124.4 505.0,124.0 505.5,123.6 506.0,123.9 506.5,124.0 507.0,123.6 507.5,123.1 508.0,123.3 508.5,122.9 509.0,122.6 509.5,123.4 510.0,123.1 510.5,123.6 511.0,123.4 511.5,123.6 511.9,123.6 512.0,124.3 512.4,123.6 512.5,123.8 513.0,124.1 513.5,124.2 514.0,124.0 514.5,124.3 515.0,124.5 515.5,124.8 516.0,124.5 516.5,124.3 516.6,124.9 517.0,117.9 517.5,110.4 517.7,112.7 518.0,115.7 518.3,118.2 518.5,118.4 518.8,118.7 519.0,118.0 519.5,118.2 519.8,118.2 520.0,118.4 520.5,118.5 520.9,118.6 521.0,117.9 521.4,118.1 521.5,118.3 522.0,118.8 522.5,119.5 523.0,118.9 523.5,118.9 524.0,119.1 524.5,119.0 525.0,118.9 525.5,118.8 526.0,119.2 526.5,119.7 527.0,119.3 527.2,119.6 527.5,120.2 528.0,119.6 528.5,119.6 528.8,119.9 529.0,118.7 529.5,119.3 530.0,119.3 530.5,118.9 531.0,119.2 531.3,119.3" fill="none" stroke="#e0283a" stroke-width="1.15" stroke-linejoin="round" stroke-opacity="1.0"/>
<polyline points="293.0,30.4 293.5,36.2 294.0,38.5 294.1,41.3 294.3,41.3 294.5,40.4 295.0,45.3 295.5,37.9 296.0,31.9 296.5,36.8 297.0,40.3 297.1,39.4 297.3,39.4 297.5,41.7 298.0,49.5 298.5,41.3 299.0,33.3 299.5,32.8 299.6,33.1 299.8,33.1 300.0,31.9 300.5,37.9 301.0,38.7 301.5,36.7 302.0,33.2 302.1,35.7 302.3,35.7 302.5,29.3 303.0,25.9 303.5,26.1 304.0,27.5 304.1,29.7 304.3,29.7 304.5,29.5 305.0,28.8 305.5,34.3 306.0,35.4 306.1,32.0 306.3,32.0 306.5,35.1 307.0,38.2 307.5,39.5 307.6,39.6 307.8,39.6 308.0,39.9 308.5,42.4 309.0,41.1 309.1,46.4 309.3,46.4 309.5,41.1 310.0,45.7 310.5,46.5 311.0,47.2 311.5,48.9 311.6,45.1 311.8,45.1 312.0,48.8 312.5,49.7 313.0,51.3 313.5,53.4 314.0,54.1 314.1,55.2 314.3,55.2 314.5,54.5 315.0,53.7 315.5,57.4 316.0,58.0 316.1,54.8 316.3,54.8 316.5,58.6 317.0,59.9 317.5,59.4 318.0,60.5 318.5,57.9 319.0,56.9 319.5,55.2 320.0,62.8 320.5,61.4 321.0,64.2 321.5,63.6 322.0,63.7 322.5,62.5 323.0,62.0 323.5,61.8 324.0,61.9 324.5,57.7 325.0,61.8 325.4,41.1 325.5,44.6 325.8,62.6 326.0,61.6 326.5,61.9 327.0,58.8 327.5,60.7 328.0,60.5 328.5,62.7 329.0,63.9 329.5,72.4 330.0,72.0 330.5,85.7 331.0,97.1 331.5,90.3 332.0,82.3 332.5,80.8 333.0,77.6 333.5,78.5 333.6,73.2 333.8,73.2 334.0,77.1 334.5,75.2 335.0,73.0 335.5,71.8 336.0,71.1 336.5,74.2 336.6,72.4 336.8,72.4 337.0,79.3 337.5,80.0 338.0,78.2 338.5,79.3 339.0,78.6 339.5,78.2 339.6,72.6 339.8,72.6 340.0,77.5 340.5,77.7 341.0,76.4 341.5,75.9 341.6,71.4 341.8,71.4 342.0,79.9 342.5,78.0 343.0,77.2 343.5,78.1 344.0,78.6 344.5,78.9 345.0,78.7 345.5,79.5 345.6,76.3 345.8,76.3 346.0,76.9 346.5,77.3 347.0,78.4 347.5,79.1 348.0,78.3 348.5,77.2 348.6,80.1 348.8,80.1 349.0,78.0 349.5,78.2 350.0,78.0 350.5,78.1 351.0,81.7 351.5,81.1 352.0,81.6 352.1,77.5 352.3,77.5 352.5,81.2 353.0,82.3 353.5,80.0 354.0,80.7 354.5,79.8 354.6,74.8 354.8,74.8 355.0,78.5 355.5,80.2 356.0,79.3 356.5,80.6 357.0,79.6 357.1,76.3 357.3,76.3 357.5,80.6 358.0,82.5 358.5,80.8 359.0,81.9 359.1,83.5 359.3,83.5 359.5,80.3 360.0,83.1 360.5,84.0 361.0,84.0 361.5,82.1 362.0,83.8 362.5,83.6 362.6,82.3 362.8,82.3 363.0,84.7 363.5,83.9 364.0,83.4 364.5,83.8 365.0,85.0 365.5,84.8 365.6,84.2 365.8,84.2 366.0,84.9 366.5,85.6 367.0,86.0 367.5,85.5 368.0,86.5 368.5,86.5 368.6,89.4 368.8,89.4 369.0,85.7 369.5,84.4 369.6,83.6 370.0,81.5 370.5,84.1 370.6,87.1 370.8,87.1 371.0,81.9 371.5,83.3 372.0,83.4 372.5,82.8 373.0,86.0 373.5,83.2 373.6,84.4 373.8,84.4 374.0,83.2 374.5,80.1 375.0,81.4 375.5,84.9 376.0,84.0 376.5,81.8 377.0,79.9 377.1,82.2 377.3,82.2 377.3,81.7 377.5,82.9 378.0,80.9 378.5,81.4 379.0,87.4 379.5,84.6 380.0,85.9 380.5,86.9 381.0,89.1 381.5,83.6 382.0,87.4 382.1,90.6 382.3,90.6 382.5,86.2 383.0,84.3 383.5,84.6 384.0,84.4 384.5,84.0 385.0,82.5 385.5,81.6 386.0,79.3 386.1,83.0 386.3,83.0 386.5,78.2 387.0,77.9 387.5,72.9 388.0,74.4 388.5,73.5 389.0,72.8 389.5,76.8 390.0,74.6 390.5,75.2 391.0,74.7 391.1,76.1 391.3,76.1 391.5,74.1 392.0,72.6 392.5,73.5 393.0,73.4 393.5,74.3 394.0,73.4 394.5,71.1 394.6,72.1 395.0,70.3 395.5,71.8 395.6,69.2 395.8,69.2 396.0,73.2 396.5,72.3 397.0,71.7 397.5,72.6 398.0,73.8 398.5,73.8 399.0,76.1 399.2,76.5 399.5,75.9 400.0,74.1 400.5,73.5 400.6,77.5 400.8,77.5 401.0,70.2 401.5,71.1 402.0,69.8 402.5,69.1 403.0,68.4 403.5,68.1 403.8,67.4 404.0,66.3 404.5,67.5 405.0,66.9 405.5,69.9 405.6,66.8 405.6,67.7 405.8,66.8 406.0,66.3 406.5,68.9 407.0,69.6 407.5,68.0 408.0,66.9 408.5,67.8 409.0,67.4 409.1,70.8 409.3,70.8 409.5,68.0 410.0,69.2 410.5,68.5 411.0,68.1 411.5,68.2 411.6,66.7 411.8,66.7 412.0,68.7 412.5,67.5 413.0,69.4 413.5,69.7 414.0,69.3 414.5,71.2 414.7,73.4 415.0,74.1 415.5,79.1 415.6,80.1 415.8,80.1 416.0,86.4 416.5,86.9 417.0,87.3 417.5,87.2 417.8,86.4 418.0,87.4 418.5,85.7 418.6,87.5 418.8,87.5 419.0,84.5 419.5,83.0 420.0,80.2 420.2,80.3 420.5,76.9 421.0,81.6 421.1,84.4 421.3,84.4 421.5,82.9 422.0,83.4 422.5,85.2 423.0,87.1 423.5,90.8 424.0,86.9 424.5,88.2 424.7,88.7 425.0,90.4 425.1,86.6 425.3,86.6 425.5,91.3 426.0,95.1 426.5,97.3 426.6,98.6 427.0,96.5 427.5,94.9 428.0,94.1 428.5,92.3 429.0,91.7 429.1,90.9 429.3,90.9 429.5,90.7 430.0,90.4 430.2,88.5 430.5,89.7 431.0,88.0 431.5,88.6 432.0,89.7 432.5,91.3 433.0,92.3 433.1,92.1 433.3,92.1 433.5,91.7 434.0,89.0 434.5,91.0 435.0,91.2 435.5,91.6 435.7,92.6 436.0,94.0 436.1,93.1 436.3,93.1 436.5,94.9 437.0,92.4 437.5,93.0 438.0,93.2 438.5,93.8 439.0,92.0 439.5,92.3 440.0,92.6 440.1,89.9 440.3,89.9 440.5,91.9 441.0,93.0 441.5,92.6 442.0,91.1 442.5,91.6 443.0,89.8 443.5,91.8 443.6,95.4 443.8,95.4 444.0,91.4 444.5,91.0 445.0,92.2 445.5,93.2 446.0,92.7 446.1,93.5 446.3,93.5 446.5,93.5 446.6,93.2 447.0,93.1 447.5,92.4 448.0,92.1 448.5,91.2 449.0,93.1 449.4,93.5 449.5,92.8 450.0,91.0 450.5,90.4 451.0,89.6 451.1,88.7 451.3,88.7 451.5,89.7 452.0,90.4 452.5,91.3 453.0,90.5 453.5,91.6 454.0,90.9 454.5,93.6 454.6,94.0 454.8,94.0 455.0,94.1 455.5,94.5 456.0,95.0 456.5,94.7 457.0,94.7 457.5,95.3 457.6,91.6 457.8,91.6 458.0,95.5 458.5,96.7 459.0,95.5 459.4,96.4 459.5,96.5 460.0,93.8 460.5,89.7 461.0,89.8 461.5,90.2 462.0,89.5 462.1,89.7 462.3,89.7 462.5,90.0 462.7,90.7 463.0,91.2 463.5,91.6 464.0,94.5 464.5,95.8 465.0,97.5 465.5,95.2 466.0,94.8 466.5,93.3 467.0,91.9 467.1,90.7 467.3,90.7 467.5,91.2 468.0,91.8 468.5,91.7 469.0,89.5 469.4,89.0 469.5,88.4 470.0,90.2 470.5,92.9 471.0,92.6 471.1,90.0 471.3,90.0 471.5,90.4 472.0,90.5 472.5,89.9 473.0,89.8 473.5,90.5 474.0,88.2 474.5,89.3 475.0,89.6 475.1,87.2 475.3,87.2 475.5,91.9 476.0,91.9 476.5,90.8 477.0,91.5 477.5,88.8 478.0,86.0 478.5,79.3 478.6,78.2 478.8,78.2 479.0,75.5 479.2,74.7 479.5,70.1 480.0,59.9 480.5,50.5 481.0,40.5 481.1,39.2 481.5,51.3 481.7,57.9 482.0,58.4 482.5,58.6 483.0,58.3 483.5,59.2 484.0,58.5 484.5,57.8 485.0,58.2 485.3,56.8 485.5,65.4 486.0,66.0 486.2,66.8 486.5,66.8 487.0,66.6 487.5,65.5 488.0,66.1 488.5,66.3 489.0,66.5 489.3,66.5 489.5,77.1 489.7,77.1 489.8,76.7 490.0,76.7 490.5,77.2 491.0,76.9 491.5,77.5 492.0,77.2 492.5,77.2 493.0,76.0 493.2,77.5 493.3,77.7 493.5,79.6 494.0,79.9 494.5,79.5 495.0,79.9 495.5,79.8 495.7,79.3 495.8,78.1 496.0,79.5 496.5,79.8 497.0,79.9 497.4,79.2 497.5,84.1 497.6,88.4 498.0,88.4 498.5,88.6 499.0,88.2 499.5,89.1 500.0,86.4 500.3,88.8 500.5,90.0 500.8,91.4 501.0,93.5 501.2,93.3 501.5,91.8 502.0,91.3 502.5,91.9 503.0,94.4 503.5,92.0 504.0,91.3 504.5,92.1 505.0,91.6 505.5,91.6 506.0,92.0 506.5,91.2 507.0,92.3 507.5,92.3 508.0,92.6 508.5,92.7 509.0,92.2 509.5,93.7 510.0,93.2 510.5,93.3 511.0,93.5 511.5,94.0 511.9,94.1 512.0,87.7 512.4,94.0 512.5,94.2 513.0,95.0 513.5,94.6 514.0,94.5 514.5,95.3 515.0,95.5 515.5,96.0 516.0,95.8 516.5,95.7 516.6,96.0 517.0,91.0 517.5,86.2 517.7,85.2 518.0,84.7 518.3,84.7 518.5,84.7 518.8,85.3 519.0,84.9 519.5,86.1 519.8,86.8 520.0,87.0 520.5,87.1 520.9,88.0 521.0,87.2 521.4,87.3 521.5,87.2 522.0,88.1 522.5,88.6 523.0,88.7 523.5,88.3 524.0,88.8 524.5,88.6 525.0,88.9 525.5,88.9 526.0,89.2 526.5,90.2 527.0,89.6 527.2,89.8 527.5,89.7 528.0,86.4 528.5,84.9 528.8,83.9 529.0,84.1 529.5,89.9 530.0,90.2 530.5,89.4 531.0,90.2 531.3,90.4" fill="none" stroke="#404040" stroke-width="1.15" stroke-linejoin="round" stroke-opacity="1.0"/>
<polyline points="293.0,101.9 293.5,106.2 294.0,110.1 294.5,105.2 295.0,100.7 295.5,95.9 296.0,99.4 296.5,103.1 297.0,105.7 297.5,102.2 298.0,102.7 298.5,101.6 299.0,100.4 299.5,100.0 300.0,99.6 300.5,103.6 301.0,103.8 301.5,98.9 302.0,92.8 302.5,88.0 303.0,80.4 303.5,84.0 304.0,85.7 304.5,86.8 305.0,87.1 305.5,90.3 306.0,90.8 306.5,92.3 307.0,94.8 307.5,96.3 308.0,98.4 308.5,99.0 309.0,100.8 309.5,102.3 310.0,103.4 310.5,104.8 311.0,106.8 311.5,107.6 312.0,108.8 312.5,110.0 313.0,111.7 313.5,113.4 314.0,113.3 314.5,114.4 315.0,114.3 315.5,116.8 316.0,118.0 316.5,118.8 317.0,119.5 317.5,119.5 318.0,119.9 318.5,108.5 319.0,97.6 319.5,86.7 320.0,86.8 320.5,86.6 321.0,88.2 321.5,88.1 322.0,88.7 322.5,88.1 323.0,88.3 323.5,89.5 324.0,89.3 324.5,86.6 325.0,91.8 325.4,88.7 325.5,89.5 325.8,90.8 326.0,90.2 326.5,89.9 327.0,90.9 327.5,90.8 328.0,91.1 328.5,90.7 329.0,91.0 329.5,92.1 330.0,90.5 330.5,105.7 331.0,118.9 331.5,119.5 332.0,118.0 332.5,117.1 333.0,116.0 333.5,116.0 334.0,113.9 334.5,114.7 335.0,116.7 335.5,114.6 336.0,115.3 336.5,114.6 337.0,115.6 337.5,116.4 338.0,116.4 338.5,116.9 339.0,116.2 339.5,116.2 340.0,116.2 340.5,116.1 341.0,115.1 341.5,114.5 342.0,116.9 342.5,114.9 343.0,114.6 343.5,115.9 344.0,115.4 344.5,117.6 345.0,115.1 345.5,116.4 346.0,115.4 346.5,115.8 347.0,116.4 347.5,117.4 348.0,117.5 348.5,117.0 349.0,116.3 349.5,116.7 350.0,116.4 350.5,115.7 351.0,117.1 351.5,117.4 352.0,117.5 352.5,116.9 353.0,117.4 353.5,116.6 354.0,116.5 354.5,116.3 355.0,116.2 355.5,117.2 356.0,116.7 356.5,117.4 357.0,117.0 357.5,116.6 358.0,117.6 358.5,117.0 359.0,118.6 359.5,116.7 360.0,119.0 360.5,118.8 361.0,119.8 361.5,117.7 362.0,118.3 362.5,118.8 363.0,119.7 363.5,118.7 364.0,120.4 364.5,118.0 365.0,118.7 365.5,118.1 366.0,118.3 366.5,118.4 367.0,118.8 367.5,117.5 368.0,117.7 368.5,117.6 369.0,115.0 369.5,111.8 369.6,111.2 370.0,107.8 370.5,108.7 371.0,107.9 371.5,108.6 372.0,108.8 372.5,109.5 373.0,111.1 373.5,109.2 374.0,108.9 374.5,107.4 375.0,107.7 375.5,109.9 376.0,109.6 376.5,108.7 377.0,107.3 377.3,109.3 377.5,109.0 378.0,108.5 378.5,106.6 379.0,110.3 379.5,107.8 380.0,108.8 380.5,107.8 381.0,109.2 381.5,106.1 382.0,108.4 382.5,108.4 383.0,107.3 383.5,107.9 384.0,108.8 384.5,108.5 385.0,109.4 385.5,107.9 386.0,106.3 386.5,107.2 387.0,106.4 387.5,104.1 388.0,105.4 388.5,105.4 389.0,104.3 389.5,104.9 390.0,104.2 390.5,105.2 391.0,104.7 391.5,104.7 392.0,102.6 392.5,104.5 393.0,105.8 393.5,106.3 394.0,106.1 394.5,104.2 394.6,105.6 395.0,104.4 395.5,105.0 396.0,104.8 396.5,104.1 397.0,103.5 397.5,103.7 398.0,104.1 398.5,104.0 399.0,104.7 399.2,104.9 399.5,104.6 400.0,104.0 400.5,103.8 401.0,102.8 401.5,103.6 402.0,103.7 402.5,104.1 403.0,105.9 403.5,104.0 403.8,103.1 404.0,103.2 404.5,103.3 405.0,103.7 405.5,105.0 405.6,103.3 406.0,103.4 406.5,104.9 407.0,106.0 407.5,105.5 408.0,105.7 408.5,107.4 409.0,105.3 409.5,105.8 410.0,105.6 410.5,105.0 411.0,104.8 411.5,105.8 412.0,105.5 412.5,103.1 413.0,103.5 413.5,102.9 414.0,101.9 414.5,103.0 414.7,104.2 415.0,104.2 415.5,106.2 416.0,108.8 416.5,107.8 417.0,110.1 417.5,108.8 417.8,108.2 418.0,108.6 418.5,107.9 419.0,108.1 419.5,107.1 420.0,106.4 420.2,105.3 420.5,106.9 421.0,107.3 421.5,107.5 422.0,108.0 422.5,107.8 423.0,108.1 423.5,111.1 424.0,109.0 424.5,109.8 424.7,110.1 425.0,110.7 425.5,110.6 426.0,110.3 426.5,109.7 426.6,110.3 427.0,109.4 427.5,109.6 428.0,109.2 428.5,108.8 429.0,108.9 429.5,109.5 430.0,109.2 430.2,108.1 430.5,109.5 431.0,108.4 431.5,108.6 432.0,108.8 432.5,109.4 433.0,109.9 433.5,109.0 434.0,109.1 434.5,108.4 435.0,109.4 435.5,109.1 435.7,110.3 436.0,110.2 436.5,111.1 437.0,109.3 437.5,109.4 438.0,110.0 438.5,110.4 439.0,109.3 439.5,109.8 440.0,109.4 440.5,108.3 441.0,108.9 441.5,109.5 442.0,109.5 442.5,109.5 443.0,108.9 443.5,109.9 444.0,109.9 444.5,109.1 445.0,110.3 445.5,110.5 446.0,110.7 446.5,110.8 446.6,110.6 447.0,110.8 447.5,114.0 448.0,113.3 448.5,114.9 449.0,117.4 449.4,120.1 449.5,119.0 450.0,112.1 450.5,114.1 451.0,111.6 451.5,111.5 452.0,112.5 452.5,112.0 453.0,112.0 453.5,112.4 454.0,113.5 454.5,113.7 455.0,113.6 455.5,113.9 456.0,114.4 456.5,114.5 457.0,114.2 457.5,114.4 458.0,115.2 458.5,115.9 459.0,115.1 459.4,115.8 459.5,115.9 460.0,115.5 460.5,115.2 461.0,113.4 461.5,115.8 462.0,114.8 462.5,114.9 462.7,115.2 463.0,115.2 463.5,115.7 464.0,116.8 464.5,116.2 465.0,116.2 465.5,115.6 466.0,115.0 466.5,114.5 467.0,114.4 467.5,116.2 468.0,115.3 468.5,115.0 469.0,116.2 469.4,114.9 469.5,113.9 470.0,115.5 470.5,116.5 471.0,116.3 471.5,115.0 472.0,114.5 472.5,114.3 473.0,115.6 473.5,115.3 474.0,114.6 474.5,114.9 475.0,114.7 475.5,115.8 476.0,115.8 476.5,115.3 477.0,115.5 477.5,116.5 478.0,116.4 478.5,114.6 479.0,116.5 479.2,115.9 479.5,116.4 480.0,114.7 480.5,112.2 481.0,110.3 481.1,111.1 481.5,107.7 481.7,107.9 482.0,108.3 482.5,108.6 483.0,108.7 483.5,109.6 484.0,109.3 484.5,109.2 485.0,111.4 485.3,111.4 485.5,112.3 486.0,114.1 486.2,114.5 486.5,115.5 487.0,115.1 487.5,115.0 488.0,114.8 488.5,115.8 489.0,115.2 489.3,115.5 489.5,115.2 489.7,115.1 489.8,117.2 490.0,117.9 490.5,117.7 491.0,117.4 491.5,117.9 492.0,117.8 492.5,117.9 493.0,117.8 493.2,118.0 493.3,118.6 493.5,118.2 494.0,118.3 494.5,118.3 495.0,118.4 495.5,118.2 495.7,117.7 495.8,117.1 496.0,118.5 496.5,118.3 497.0,118.4 497.4,118.3 497.5,118.5 497.6,118.6 498.0,118.7 498.5,118.9 499.0,118.5 499.5,119.2 500.0,118.1 500.3,119.4 500.5,119.3 500.8,119.3 501.0,119.6 501.2,123.4 501.5,123.2 502.0,122.0 502.5,122.4 503.0,123.4 503.5,122.6 504.0,122.2 504.5,122.5 505.0,122.2 505.5,122.0 506.0,122.3 506.5,122.3 507.0,122.0 507.5,122.1 508.0,121.9 508.5,120.8 509.0,120.8 509.5,122.0 510.0,121.8 510.5,122.4 511.0,122.3 511.5,122.7 511.9,122.4 512.0,123.1 512.4,122.6 512.5,122.7 513.0,122.9 513.5,123.2 514.0,122.9 514.5,123.0 515.0,123.4 515.5,123.7 516.0,123.7 516.5,123.5 516.6,124.1 517.0,122.2 517.5,120.4 517.7,120.2 518.0,119.0 518.3,117.9 518.5,117.0 518.8,116.3 519.0,115.6 519.5,115.7 519.8,116.0 520.0,116.3 520.5,116.2 520.9,116.6 521.0,116.1 521.4,116.2 521.5,116.3 522.0,116.7 522.5,116.8 523.0,116.7 523.5,116.5 524.0,116.6 524.5,116.5 525.0,116.6 525.5,116.6 526.0,116.9 526.5,117.4 527.0,116.7 527.2,117.0 527.5,117.5 528.0,117.1 528.5,117.3 528.8,117.3 529.0,116.1 529.5,117.0 530.0,116.8 530.5,115.9 531.0,116.8 531.3,116.4" fill="none" stroke="#7050c0" stroke-width="1.15" stroke-linejoin="round" stroke-opacity="1.0"/>
<polyline points="293.0,75.8 293.5,82.8 294.0,87.0 294.5,83.0 295.0,78.3 295.5,74.2 296.0,76.8 296.5,81.1 297.0,83.0 297.5,79.7 298.0,80.1 298.5,79.3 299.0,78.2 299.5,76.0 300.0,73.6 300.5,75.9 301.0,75.4 301.5,73.3 302.0,70.9 302.5,69.0 303.0,67.1 303.5,68.6 304.0,69.6 304.5,71.0 305.0,70.7 305.5,72.8 306.0,74.4 306.5,76.5 307.0,78.2 307.5,78.7 308.0,80.9 308.5,81.6 309.0,83.2 309.5,84.7 310.0,86.4 310.5,87.2 311.0,89.5 311.5,91.6 312.0,92.0 312.5,91.9 313.0,93.7 313.5,95.2 314.0,95.6 314.5,95.8 315.0,95.1 315.5,97.9 316.0,98.6 316.5,98.2 317.0,98.4 317.5,96.1 318.0,94.8 318.5,92.5 319.0,91.7 319.5,89.2 320.0,90.2 320.5,88.9 321.0,92.3 321.5,92.4 322.0,93.7 322.5,92.8 323.0,91.6 323.5,91.6 324.0,91.3 324.5,86.7 325.0,89.4 325.4,88.8 325.5,89.3 325.8,89.5 326.0,90.1 326.5,90.0 327.0,90.4 327.5,89.7 328.0,89.7 328.5,89.9 329.0,90.2 329.5,92.4 330.0,90.0 330.5,98.6 331.0,107.7 331.5,107.0 332.0,109.0 332.5,107.9 333.0,107.4 333.5,108.1 334.0,107.7 334.5,106.6 335.0,106.4 335.5,106.1 336.0,107.2 336.5,106.2 337.0,107.8 337.5,107.9 338.0,107.7 338.5,107.7 339.0,108.2 339.5,107.9 340.0,107.4 340.5,107.3 341.0,106.0 341.5,104.8 342.0,108.1 342.5,105.5 343.0,105.1 343.5,106.7 344.0,107.2 344.5,107.2 345.0,107.0 345.5,107.9 346.0,107.2 346.5,107.3 347.0,108.0 347.5,108.7 348.0,108.1 348.5,107.5 349.0,108.1 349.5,108.1 350.0,108.4 350.5,108.0 351.0,109.2 351.5,108.8 352.0,109.4 352.5,108.7 353.0,109.2 353.5,107.6 354.0,107.4 354.5,107.6 355.0,107.2 355.5,107.8 356.0,107.3 356.5,108.6 357.0,108.0 357.5,108.3 358.0,108.3 358.5,107.4 359.0,109.2 359.5,107.4 360.0,109.2 360.5,110.0 361.0,111.1 361.5,107.9 362.0,109.3 362.5,109.2 363.0,110.1 363.5,109.0 364.0,108.3 364.5,108.2 365.0,110.2 365.5,108.7 366.0,109.0 366.5,109.4 367.0,109.8 367.5,109.4 368.0,109.1 368.5,109.9 369.0,108.6 369.5,107.1 369.6,106.6 370.0,104.1 370.5,105.4 371.0,104.7 371.5,105.5 372.0,104.9 372.5,106.1 373.0,107.6 373.5,104.9 374.0,104.2 374.5,103.0 375.0,103.8 375.5,105.7 376.0,104.7 376.5,104.2 377.0,104.8 377.3,103.9 377.5,105.3 378.0,103.5 378.5,103.4 379.0,106.9 379.5,103.8 380.0,104.1 380.5,103.2 381.0,103.8 381.5,101.7 382.0,103.8 382.5,103.5 383.0,102.5 383.5,103.7 384.0,105.1 384.5,105.0 385.0,105.1 385.5,103.6 386.0,101.2 386.5,102.1 387.0,100.8 387.5,97.2 388.0,99.2 388.5,99.0 389.0,97.4 389.5,98.3 390.0,98.1 390.5,98.5 391.0,98.1 391.5,97.3 392.0,97.0 392.5,97.2 393.0,97.7 393.5,97.9 394.0,97.4 394.5,97.7 394.6,96.0 395.0,94.2 395.5,94.9 396.0,95.0 396.5,94.3 397.0,94.5 397.5,94.9 398.0,94.7 398.5,94.6 399.0,95.8 399.2,96.4 399.5,95.9 400.0,95.3 400.5,95.6 401.0,94.0 401.5,96.2 402.0,96.1 402.5,96.1 403.0,96.0 403.5,95.9 403.8,95.4 404.0,95.4 404.5,95.6 405.0,96.0 405.5,97.4 405.6,96.9 406.0,95.0 406.5,96.1 407.0,96.8 407.5,96.2 408.0,95.9 408.5,95.9 409.0,94.5 409.5,94.7 410.0,95.5 410.5,94.6 411.0,94.5 411.5,94.8 412.0,96.0 412.5,92.9 413.0,93.5 413.5,92.4 414.0,91.3 414.5,93.7 414.7,95.8 415.0,96.2 415.5,97.6 416.0,100.6 416.5,100.5 417.0,103.6 417.5,101.4 417.8,100.6 418.0,101.9 418.5,101.0 419.0,100.6 419.5,101.1 420.0,100.3 420.2,101.3 420.5,99.9 421.0,100.9 421.5,101.7 422.0,102.2 422.5,102.8 423.0,103.4 423.5,107.0 424.0,105.7 424.5,106.9 424.7,107.4 425.0,108.1 425.5,107.2 426.0,108.2 426.5,107.4 426.6,108.4 427.0,107.6 427.5,107.6 428.0,105.3 428.5,106.1 429.0,107.5 429.5,106.9 430.0,107.7 430.2,105.3 430.5,107.0 431.0,104.5 431.5,105.3 432.0,105.2 432.5,107.0 433.0,106.9 433.5,106.4 434.0,107.3 434.5,107.4 435.0,107.6 435.5,104.7 435.7,107.3 436.0,107.6 436.5,108.3 437.0,106.5 437.5,105.9 438.0,106.2 438.5,107.8 439.0,106.7 439.5,107.0 440.0,106.1 440.5,106.5 441.0,107.0 441.5,107.3 442.0,106.4 442.5,107.1 443.0,105.6 443.5,106.8 444.0,106.2 444.5,105.3 445.0,107.2 445.5,107.9 446.0,108.1 446.5,108.7 446.6,107.9 447.0,108.7 447.5,107.9 448.0,107.7 448.5,106.8 449.0,108.2 449.4,108.1 449.5,107.5 450.0,107.0 450.5,106.5 451.0,105.6 451.5,105.5 452.0,106.2 452.5,106.0 453.0,104.8 453.5,105.5 454.0,106.9 454.5,107.4 455.0,107.1 455.5,107.7 456.0,108.5 456.5,108.4 457.0,108.5 457.5,109.4 458.0,110.5 458.5,110.6 459.0,110.1 459.4,109.9 459.5,110.4 460.0,109.6 460.5,109.9 461.0,109.7 461.5,110.7 462.0,109.4 462.5,109.0 462.7,109.2 463.0,109.3 463.5,108.8 464.0,109.9 464.5,109.9 465.0,109.6 465.5,108.5 466.0,106.3 466.5,107.5 467.0,107.4 467.5,107.4 468.0,107.3 468.5,107.8 469.0,106.0 469.4,106.6 469.5,106.0 470.0,107.2 470.5,108.9 471.0,108.8 471.5,107.4 472.0,107.7 472.5,107.3 473.0,107.2 473.5,107.3 474.0,105.9 474.5,107.6 475.0,106.9 475.5,106.4 476.0,108.5 476.5,107.4 477.0,107.9 477.5,108.8 478.0,109.3 478.5,107.1 479.0,108.8 479.2,108.5 479.5,108.4 480.0,106.2 480.5,104.3 481.0,102.1 481.1,102.3 481.5,99.3 481.7,100.9 482.0,100.0 482.5,100.2 483.0,100.1 483.5,100.8 484.0,100.3 484.5,100.5 485.0,102.8 485.3,103.0 485.5,104.2 486.0,106.7 486.2,107.7 486.5,108.1 487.0,107.7 487.5,107.6 488.0,107.5 488.5,107.9 489.0,108.5 489.3,108.0 489.5,107.9 489.7,107.9 489.8,107.9 490.0,106.9 490.5,108.0 491.0,108.0 491.5,108.5 492.0,108.2 492.5,108.3 493.0,108.2 493.2,107.8 493.3,108.1 493.5,107.6 494.0,108.1 494.5,107.9 495.0,108.0 495.5,107.9 495.7,107.3 495.8,109.2 496.0,110.6 496.5,111.0 497.0,111.4 497.4,110.9 497.5,111.5 497.6,111.8 498.0,112.1 498.5,112.4 499.0,112.2 499.5,112.9 500.0,111.7 500.3,113.3 500.5,113.2 500.8,113.5 501.0,113.6 501.2,115.9 501.5,114.7 502.0,114.7 502.5,115.6 503.0,117.0 503.5,117.3 504.0,116.6 504.5,117.3 505.0,117.5 505.5,117.1 506.0,117.5 506.5,117.9 507.0,117.6 507.5,117.7 508.0,117.7 508.5,117.6 509.0,117.0 509.5,117.2 510.0,118.0 510.5,118.3 511.0,117.9 511.5,118.2 511.9,118.4 512.0,119.1 512.4,118.1 512.5,118.1 513.0,118.6 513.5,118.7 514.0,118.7 514.5,118.7 515.0,119.1 515.5,119.4 516.0,119.2 516.5,118.7 516.6,119.4 517.0,117.0 517.5,114.8 517.7,114.9 518.0,113.6 518.3,112.5 518.5,111.9 518.8,111.4 519.0,111.2 519.5,112.3 519.8,112.9 520.0,113.4 520.5,113.4 520.9,113.8 521.0,113.3 521.4,113.5 521.5,113.4 522.0,114.2 522.5,114.1 523.0,114.1 523.5,114.2 524.0,114.5 524.5,114.5 525.0,114.3 525.5,114.6 526.0,114.4 526.5,115.4 527.0,114.8 527.2,115.3 527.5,115.8 528.0,115.3 528.5,114.8 528.8,115.2 529.0,113.9 529.5,114.3 530.0,114.4 530.5,114.1 531.0,114.5 531.3,114.7" fill="none" stroke="#a8202e" stroke-width="1.15" stroke-linejoin="round" stroke-opacity="1.0"/>
<polyline points="293.0,57.3 293.5,61.5 294.0,67.4 294.5,63.3 295.0,60.3 295.5,56.5 296.0,59.0 296.5,61.2 297.0,63.0 297.5,59.3 298.0,61.1 298.5,60.9 299.0,60.6 299.5,58.1 300.0,54.5 300.5,58.1 301.0,57.5 301.5,55.4 302.0,54.9 302.5,51.7 303.0,50.7 303.5,51.1 304.0,52.7 304.5,53.3 305.0,53.2 305.5,56.4 306.0,58.0 306.5,58.1 307.0,60.6 307.5,61.9 308.0,63.2 308.5,64.3 309.0,65.4 309.5,66.5 310.0,68.2 310.5,68.5 311.0,69.9 311.5,70.7 312.0,72.2 312.5,72.5 313.0,74.6 313.5,75.9 314.0,75.9 314.5,76.3 315.0,75.5 315.5,76.8 316.0,78.5 316.5,78.8 317.0,80.8 317.5,82.1 318.0,83.8 318.5,82.8 319.0,85.0 319.5,85.5 320.0,83.8 320.5,84.9 321.0,86.4 321.5,85.4 322.0,87.0 322.5,85.3 323.0,84.3 323.5,84.7 324.0,84.8 324.5,80.6 325.0,84.5 325.4,86.7 325.5,84.5 325.8,85.2 326.0,84.7 326.5,84.9 327.0,85.4 327.5,84.0 328.0,85.0 328.5,84.6 329.0,84.3 329.5,87.4 330.0,84.6 330.5,92.1 331.0,96.7 331.5,97.2 332.0,97.2 332.5,96.0 333.0,95.6 333.5,96.5 334.0,96.8 334.5,95.7 335.0,95.5 335.5,96.6 336.0,97.2 336.5,95.4 337.0,96.7 337.5,96.4 338.0,96.6 338.5,97.2 339.0,98.1 339.5,97.0 340.0,96.5 340.5,97.0 341.0,95.5 341.5,95.2 342.0,98.0 342.5,96.7 343.0,95.8 343.5,97.4 344.0,96.4 344.5,97.0 345.0,96.3 345.5,98.2 346.0,99.3 346.5,97.1 347.0,97.7 347.5,98.5 348.0,98.1 348.5,97.3 349.0,97.7 349.5,97.9 350.0,97.6 350.5,95.7 351.0,100.2 351.5,98.3 352.0,98.5 352.5,97.0 353.0,98.1 353.5,97.1 354.0,97.2 354.5,97.2 355.0,96.8 355.5,98.4 356.0,98.1 356.5,99.0 357.0,98.2 357.5,98.1 358.0,99.7 358.5,99.3 359.0,100.3 359.5,98.2 360.0,99.8 360.5,100.4 361.0,101.3 361.5,99.4 362.0,100.3 362.5,99.7 363.0,100.6 363.5,99.3 364.0,99.5 364.5,99.1 365.0,100.2 365.5,100.4 366.0,100.9 366.5,101.3 367.0,101.8 367.5,101.2 368.0,102.1 368.5,103.1 369.0,101.2 369.5,99.0 369.6,98.7 370.0,96.4 370.5,97.9 371.0,96.8 371.5,97.8 372.0,97.2 372.5,97.8 373.0,100.0 373.5,96.8 374.0,96.2 374.5,95.1 375.0,95.7 375.5,98.1 376.0,97.2 376.5,96.7 377.0,94.7 377.3,95.7 377.5,96.6 378.0,94.6 378.5,94.2 379.0,96.9 379.5,94.2 380.0,95.6 380.5,93.8 381.0,94.8 381.5,91.7 382.0,94.9 382.5,94.7 383.0,92.5 383.5,93.8 384.0,93.7 384.5,93.9 385.0,95.2 385.5,93.3 386.0,90.6 386.5,91.6 387.0,90.7 387.5,87.1 388.0,88.6 388.5,89.0 389.0,87.5 389.5,88.5 390.0,86.3 390.5,86.9 391.0,86.7 391.5,85.6 392.0,84.6 392.5,85.1 393.0,85.6 393.5,86.7 394.0,85.0 394.5,83.6 394.6,85.4 395.0,83.2 395.5,84.8 396.0,85.2 396.5,85.6 397.0,85.2 397.5,85.6 398.0,85.8 398.5,86.7 399.0,88.8 399.2,89.4 399.5,88.5 400.0,89.7 400.5,88.2 401.0,86.7 401.5,87.8 402.0,86.7 402.5,86.5 403.0,86.1 403.5,86.4 403.8,85.4 404.0,84.9 404.5,85.4 405.0,84.7 405.5,86.6 405.6,86.0 406.0,84.9 406.5,86.8 407.0,88.2 407.5,87.0 408.0,86.8 408.5,87.3 409.0,86.1 409.5,88.0 410.0,88.9 410.5,87.8 411.0,88.8 411.5,89.2 412.0,89.6 412.5,87.1 413.0,88.0 413.5,87.4 414.0,87.6 414.5,89.4 414.7,91.2 415.0,91.4 415.5,93.1 416.0,96.1 416.5,96.9 417.0,100.1 417.5,97.6 417.8,96.5 418.0,96.5 418.5,95.1 419.0,95.1 419.5,93.7 420.0,92.1 420.2,93.5 420.5,93.4 421.0,94.1 421.5,94.9 422.0,95.8 422.5,96.6 423.0,97.6 423.5,102.4 424.0,100.8 424.5,102.3 424.7,102.5 425.0,102.7 425.5,102.0 426.0,104.0 426.5,103.1 426.6,103.8 427.0,103.3 427.5,102.8 428.0,101.9 428.5,101.2 429.0,101.1 429.5,100.9 430.0,100.3 430.2,99.9 430.5,100.5 431.0,100.1 431.5,100.0 432.0,100.5 432.5,101.9 433.0,102.3 433.5,102.0 434.0,103.0 434.5,102.9 435.0,102.6 435.5,103.0 435.7,103.0 436.0,103.6 436.5,104.8 437.0,102.9 437.5,102.6 438.0,102.9 438.5,103.8 439.0,102.6 439.5,102.8 440.0,101.5 440.5,101.2 441.0,101.6 441.5,101.5 442.0,101.0 442.5,101.8 443.0,101.2 443.5,102.4 444.0,101.9 444.5,101.4 445.0,102.4 445.5,103.0 446.0,103.6 446.5,103.6 446.6,103.0 447.0,103.3 447.5,102.2 448.0,102.0 448.5,101.8 449.0,103.6 449.4,104.0 449.5,103.8 450.0,102.9 450.5,103.2 451.0,102.7 451.5,101.6 452.0,101.5 452.5,102.1 453.0,100.6 453.5,101.6 454.0,102.6 454.5,102.7 455.0,101.2 455.5,101.9 456.0,105.4 456.5,103.4 457.0,103.4 457.5,104.6 458.0,104.8 458.5,106.6 459.0,104.7 459.4,105.0 459.5,104.5 460.0,104.4 460.5,103.6 461.0,106.2 461.5,104.4 462.0,102.1 462.5,103.2 462.7,103.2 463.0,103.2 463.5,102.7 464.0,103.7 464.5,104.2 465.0,104.0 465.5,103.7 466.0,103.1 466.5,102.1 467.0,101.4 467.5,101.6 468.0,101.2 468.5,101.9 469.0,100.5 469.4,100.8 469.5,99.7 470.0,101.8 470.5,103.6 471.0,103.5 471.5,104.4 472.0,101.8 472.5,102.0 473.0,101.7 473.5,102.4 474.0,101.0 474.5,101.7 475.0,102.0 475.5,103.1 476.0,103.9 476.5,102.3 477.0,103.1 477.5,102.9 478.0,101.9 478.5,100.0 479.0,101.5 479.2,101.2 479.5,102.0 480.0,99.1 480.5,97.0 481.0,95.3 481.1,95.3 481.5,92.7 481.7,92.7 482.0,94.2 482.5,93.5 483.0,93.5 483.5,94.8 484.0,94.3 484.5,94.1 485.0,96.1 485.3,95.5 485.5,96.6 486.0,98.4 486.2,99.3 486.5,99.6 487.0,99.4 487.5,99.3 488.0,99.0 488.5,99.6 489.0,99.7 489.3,99.9 489.5,99.5 489.7,99.5 489.8,99.3 490.0,99.3 490.5,99.3 491.0,99.2 491.5,99.7 492.0,99.5 492.5,99.8 493.0,99.7 493.2,99.4 493.3,99.7 493.5,99.1 494.0,99.2 494.5,99.1 495.0,99.3 495.5,99.1 495.7,98.9 495.8,101.8 496.0,103.1 496.5,103.4 497.0,103.8 497.4,104.0 497.5,103.4 497.6,104.5 498.0,105.0 498.5,105.4 499.0,105.3 499.5,106.3 500.0,105.2 500.3,108.3 500.5,107.0 500.8,107.1 501.0,107.6 501.2,111.6 501.5,110.4 502.0,110.3 502.5,111.1 503.0,112.3 503.5,111.5 504.0,111.7 504.5,111.0 505.0,110.9 505.5,110.8 506.0,111.4 506.5,112.0 507.0,111.5 507.5,111.6 508.0,111.3 508.5,111.3 509.0,110.6 509.5,111.6 510.0,111.3 510.5,111.4 511.0,111.5 511.5,111.7 511.9,111.6 512.0,112.1 512.4,111.2 512.5,111.4 513.0,110.7 513.5,112.1 514.0,111.9 514.5,112.0 515.0,112.1 515.5,112.3 516.0,111.9 516.5,111.9 516.6,112.5 517.0,110.5 517.5,109.3 517.7,109.8 518.0,108.9 518.3,108.0 518.5,107.3 518.8,107.2 519.0,106.6 519.5,107.9 519.8,107.9 520.0,108.5 520.5,109.0 520.9,109.3 521.0,108.6 521.4,109.3 521.5,109.1 522.0,109.5 522.5,109.6 523.0,109.7 523.5,109.8 524.0,110.2 524.5,110.0 525.0,110.1 525.5,110.1 526.0,110.6 526.5,111.3 527.0,111.0 527.2,111.0 527.5,111.8 528.0,111.2 528.5,111.1 528.8,111.0 529.0,109.1 529.5,110.0 530.0,110.1 530.5,109.6 531.0,109.8 531.3,109.8" fill="none" stroke="#a0a030" stroke-width="1.15" stroke-linejoin="round" stroke-opacity="1.0"/>
<rect x="334" y="151.2" width="154" height="25.80000000000001" fill="none" stroke="#f4f4f4" stroke-width="0.8"/>
<line x1="337.4" y1="156.5" x2="354.4" y2="156.5" stroke="#4a72c8" stroke-width="1.0" stroke-opacity="1.0"/>
<text x="357.0" y="158.7" text-anchor="start" font-size="6.35" fill="#1e1e1e">US 10 YR</text>
<line x1="388.3" y1="156.5" x2="405.6" y2="156.5" stroke="#ee8030" stroke-width="1.0" stroke-opacity="1.0"/>
<text x="408.4" y="158.7" text-anchor="start" font-size="6.35" fill="#1e1e1e">US 1 Yr</text>
<line x1="440" y1="156.5" x2="457.2" y2="156.5" stroke="#3fa45a" stroke-width="1.0" stroke-opacity="1.0"/>
<text x="460.2" y="158.7" text-anchor="start" font-size="6.35" fill="#1e1e1e">US 20 YR</text>
<line x1="337.4" y1="164.4" x2="354.4" y2="164.4" stroke="#e0283a" stroke-width="1.0" stroke-opacity="1.0"/>
<text x="357.0" y="166.6" text-anchor="start" font-size="6.35" fill="#1e1e1e">US 2 YR</text>
<line x1="388.3" y1="164.4" x2="405.6" y2="164.4" stroke="#404040" stroke-width="1.0" stroke-opacity="1.0"/>
<text x="408.4" y="166.6" text-anchor="start" font-size="6.35" fill="#1e1e1e">US 30 YR</text>
<line x1="440" y1="164.4" x2="457.2" y2="164.4" stroke="#7050c0" stroke-width="1.0" stroke-opacity="1.0"/>
<text x="460.2" y="166.6" text-anchor="start" font-size="6.35" fill="#1e1e1e">US 3 YR</text>
<line x1="337.4" y1="172.1" x2="354.4" y2="172.1" stroke="#a8202e" stroke-width="1.0" stroke-opacity="1.0"/>
<text x="357.0" y="174.3" text-anchor="start" font-size="6.35" fill="#1e1e1e">US 5 YR</text>
<line x1="388.3" y1="172.1" x2="405.6" y2="172.1" stroke="#a0a030" stroke-width="1.0" stroke-opacity="1.0"/>
<text x="408.4" y="174.3" text-anchor="start" font-size="6.35" fill="#1e1e1e">US 7 YR</text>
<line x1="18" y1="304.8" x2="256" y2="304.8" stroke="#f4f4f4" stroke-width="0.8"/>
<line x1="18" y1="284.9" x2="256" y2="284.9" stroke="#f4f4f4" stroke-width="0.8"/>
<line x1="18" y1="265.0" x2="256" y2="265.0" stroke="#f4f4f4" stroke-width="0.8"/>
<line x1="18" y1="245.1" x2="256" y2="245.1" stroke="#f4f4f4" stroke-width="0.8"/>
<line x1="18" y1="225.2" x2="256" y2="225.2" stroke="#f4f4f4" stroke-width="0.8"/>
<line x1="18" y1="205.3" x2="256" y2="205.3" stroke="#f4f4f4" stroke-width="0.8"/>
<line x1="18" y1="185.4" x2="256" y2="185.4" stroke="#f4f4f4" stroke-width="0.8"/>
<line x1="50.4" y1="185.4" x2="50.4" y2="304.8" stroke="#f4f4f4" stroke-width="0.8"/>
<line x1="74.3" y1="185.4" x2="74.3" y2="304.8" stroke="#f4f4f4" stroke-width="0.8"/>
<line x1="98.5" y1="185.4" x2="98.5" y2="304.8" stroke="#f4f4f4" stroke-width="0.8"/>
<line x1="122.3" y1="185.4" x2="122.3" y2="304.8" stroke="#f4f4f4" stroke-width="0.8"/>
<line x1="146.3" y1="185.4" x2="146.3" y2="304.8" stroke="#f4f4f4" stroke-width="0.8"/>
<line x1="170.4" y1="185.4" x2="170.4" y2="304.8" stroke="#f4f4f4" stroke-width="0.8"/>
<line x1="194.2" y1="185.4" x2="194.2" y2="304.8" stroke="#f4f4f4" stroke-width="0.8"/>
<line x1="218.1" y1="185.4" x2="218.1" y2="304.8" stroke="#f4f4f4" stroke-width="0.8"/>
<line x1="241.2" y1="185.4" x2="241.2" y2="304.8" stroke="#f4f4f4" stroke-width="0.8"/>
<line x1="26.5" y1="185.4" x2="26.5" y2="304.8" stroke="#f4f4f4" stroke-width="0.8"/>
<line x1="256.0" y1="185.4" x2="256.0" y2="304.8" stroke="#f4f4f4" stroke-width="0.8"/>
<text x="15.0" y="307.0" text-anchor="end" font-size="6.4" fill="#1e1e1e">0</text>
<text x="15.0" y="287.1" text-anchor="end" font-size="6.4" fill="#1e1e1e">20</text>
<text x="15.0" y="267.2" text-anchor="end" font-size="6.4" fill="#1e1e1e">40</text>
<text x="15.0" y="247.3" text-anchor="end" font-size="6.4" fill="#1e1e1e">60</text>
<text x="15.0" y="227.4" text-anchor="end" font-size="6.4" fill="#1e1e1e">80</text>
<text x="15.0" y="207.5" text-anchor="end" font-size="6.4" fill="#1e1e1e">100</text>
<text x="15.0" y="187.6" text-anchor="end" font-size="6.4" fill="#1e1e1e">120</text>
<text x="18.5" y="313.0" text-anchor="middle" font-size="6.4" fill="#1e1e1e">2012</text>
<text x="38.5" y="313.0" text-anchor="middle" font-size="6.4" fill="#1e1e1e">2013</text>
<text x="62.2" y="313.0" text-anchor="middle" font-size="6.4" fill="#1e1e1e">2014</text>
<text x="86.5" y="313.0" text-anchor="middle" font-size="6.4" fill="#1e1e1e">2015</text>
<text x="110.5" y="313.0" text-anchor="middle" font-size="6.4" fill="#1e1e1e">2016</text>
<text x="134.2" y="313.0" text-anchor="middle" font-size="6.4" fill="#1e1e1e">2017</text>
<text x="158.4" y="313.0" text-anchor="middle" font-size="6.4" fill="#1e1e1e">2018</text>
<text x="182.3" y="313.0" text-anchor="middle" font-size="6.4" fill="#1e1e1e">2019</text>
<text x="206.1" y="313.0" text-anchor="middle" font-size="6.4" fill="#1e1e1e">2020</text>
<text x="230.0" y="313.0" text-anchor="middle" font-size="6.4" fill="#1e1e1e">2021</text>
<text x="252.5" y="313.0" text-anchor="middle" font-size="6.4" fill="#1e1e1e">2022</text>
<polyline points="18.2,235.4 18.7,235.1 19.2,236.1 19.7,237.8 20.0,238.4 20.2,239.9 20.7,238.5 21.0,238.9 21.2,238.4 21.6,239.1 21.7,239.3 22.2,239.3 22.7,238.0 23.0,240.7 23.2,240.4 23.7,239.4 24.0,240.4 24.2,240.3 24.7,238.9 25.0,238.2 25.2,238.8 25.7,236.5 26.2,238.3 26.7,236.0 27.0,237.6 27.2,237.3 27.7,235.5 28.0,237.0 28.2,233.4 28.7,235.9 29.0,234.8 29.2,234.6 29.4,234.8 29.7,235.9 30.2,235.4 30.7,236.0 31.0,234.2 31.2,237.5 31.7,237.9 32.2,238.4 32.7,239.7 33.0,240.3 33.2,239.7 33.7,239.9 34.0,240.2 34.2,240.5 34.7,241.1 35.0,241.2 35.2,240.9 35.7,241.0 36.0,239.6 36.2,239.6 36.7,239.3 37.0,240.0 37.2,238.9 37.7,239.0 38.0,239.3 38.2,239.8 38.7,240.9 39.2,243.0 39.7,241.7 40.0,244.4 40.2,245.3 40.7,246.1 41.2,246.8 41.7,247.3 42.2,248.2 42.7,250.1 43.0,248.5 43.2,249.3 43.7,252.7 44.2,249.7 44.7,249.6 45.0,249.1 45.2,248.4 45.7,248.9 46.2,249.4 46.7,249.4 47.0,249.5 47.2,250.2 47.7,249.5 48.2,249.9 48.7,250.1 49.2,250.9 49.7,250.1 50.0,251.6 50.2,250.7 50.7,250.3 51.2,251.4 51.7,249.2 52.2,250.8 52.7,251.5 53.0,252.0 53.2,253.3 53.7,252.6 54.2,251.9 54.7,254.1 54.8,251.4 55.0,252.3 55.2,252.1 55.7,255.9 55.8,253.6 56.2,254.9 56.7,254.7 57.0,253.7 57.2,255.5 57.7,253.9 58.2,256.5 58.7,255.7 59.0,253.4 59.0,257.8 59.2,255.8 59.3,257.8 59.7,255.7 60.0,256.4 60.2,256.8 60.6,254.7 60.7,259.8 61.2,258.4 61.2,260.6 61.5,260.6 61.7,256.6 62.0,258.8 62.2,257.8 62.7,259.3 63.2,260.2 63.7,260.4 64.2,261.9 64.2,264.3 64.5,264.3 64.7,262.2 65.0,262.1 65.2,261.4 65.7,261.5 66.2,262.0 66.7,263.3 67.2,262.3 67.2,265.3 67.5,265.3 67.7,262.0 68.2,260.3 68.7,261.7 69.2,261.3 69.7,261.9 69.8,266.8 70.0,266.8 70.0,262.2 70.2,262.3 70.7,261.6 71.2,262.4 71.7,262.8 72.2,262.6 72.7,263.7 73.2,262.2 73.2,266.8 73.5,266.8 73.7,263.3 74.2,263.1 74.7,262.3 75.0,261.6 75.2,263.0 75.7,263.3 76.2,264.1 76.2,268.9 76.5,268.9 76.7,263.4 77.2,263.0 77.7,263.4 78.2,263.8 78.2,268.5 78.5,268.5 78.7,263.0 79.2,263.8 79.7,263.0 80.0,262.9 80.2,262.9 80.7,262.8 80.8,265.5 81.0,265.5 81.2,262.2 81.7,261.4 82.2,261.9 82.7,263.1 83.2,262.3 83.7,262.7 83.8,267.5 84.0,267.5 84.2,263.7 84.7,261.7 85.0,262.8 85.2,263.8 85.7,263.2 86.2,263.6 86.2,268.4 86.5,268.4 86.7,264.0 87.2,263.0 87.7,263.8 88.2,263.0 88.7,263.3 88.8,268.2 89.0,268.2 89.0,264.5 89.2,263.7 89.7,262.7 90.2,262.8 90.4,261.2 90.7,265.9 91.0,270.9 91.2,270.1 91.7,270.8 92.2,272.6 92.7,271.2 93.0,272.3 93.2,273.9 93.7,271.3 94.0,273.1 94.2,270.7 94.7,267.6 95.0,265.6 95.2,266.1 95.7,267.7 96.2,267.9 96.7,268.6 97.0,269.4 97.2,266.5 97.5,262.7 97.7,262.0 98.2,259.5 98.7,258.6 99.2,256.5 99.4,255.3 99.7,253.3 100.2,250.5 100.7,248.3 101.2,246.3 101.6,243.3 101.7,243.2 102.2,241.8 102.7,245.1 103.2,242.9 103.7,243.8 104.0,244.2 104.2,244.2 104.7,245.0 105.2,244.9 105.7,244.0 106.0,244.1 106.2,244.9 106.7,243.8 107.2,242.5 107.7,239.0 108.0,240.2 108.2,239.5 108.7,238.2 109.2,240.2 109.7,236.7 110.2,235.6 110.5,235.6 110.7,235.2 111.2,235.7 111.7,235.2 112.0,235.4 112.2,234.3 112.7,233.2 113.2,233.7 113.7,233.1 113.8,232.4 114.2,232.9 114.7,232.1 115.2,231.9 115.7,232.2 116.2,232.3 116.7,232.3 117.0,233.0 117.2,233.0 117.7,232.8 118.2,234.1 118.7,235.4 119.2,234.2 119.7,234.5 120.0,235.4 120.2,234.7 120.7,236.8 121.2,236.3 121.7,234.3 122.2,238.4 122.7,240.7 123.0,239.7 123.2,241.0 123.7,242.4 124.2,243.1 124.7,243.9 125.2,241.1 125.7,246.4 126.0,245.1 126.2,245.0 126.7,244.7 127.2,244.3 127.7,243.6 128.2,242.3 128.7,241.3 129.2,240.8 129.3,240.1 129.7,239.7 130.2,238.7 130.7,239.7 131.0,239.5 131.2,239.6 131.7,237.4 132.2,235.1 132.6,238.5 132.7,236.9 133.2,236.9 133.7,236.0 134.2,237.7 134.7,236.2 134.8,236.9 135.2,236.4 135.7,236.3 136.0,236.3 136.2,237.1 136.7,236.0 137.2,235.6 137.7,236.1 138.2,236.9 138.7,235.8 139.2,239.1 139.7,240.9 140.2,242.3 140.7,243.7 141.2,250.0 141.7,250.9 142.2,253.3 142.6,256.6 142.7,255.6 143.2,256.1 143.7,255.6 144.2,252.0 144.7,251.2 145.2,250.4 145.7,248.3 145.9,247.9 146.2,248.2 146.7,247.5 147.2,247.5 147.7,251.9 148.2,251.0 148.7,250.4 149.2,251.5 149.7,252.5 150.2,253.4 150.3,252.2 150.7,252.9 151.2,254.5 151.7,252.4 152.2,255.7 152.7,256.3 153.2,257.7 153.7,258.0 154.2,260.6 154.7,261.1 155.2,264.4 155.7,262.1 156.2,263.2 156.7,260.6 157.2,260.5 157.7,260.5 158.2,260.1 158.7,261.5 159.2,260.7 159.7,259.5 160.2,259.3 160.7,256.6 161.2,256.0 161.7,256.2 162.2,255.0 162.5,254.5 162.7,252.9 163.2,253.7 163.7,254.0 164.2,254.7 164.7,253.3 165.2,253.6 165.7,253.3 166.0,252.7 166.2,253.3 166.7,253.5 167.2,252.7 167.7,251.8 168.2,248.6 168.7,251.4 169.2,251.3 169.7,253.9 170.2,250.6 170.7,248.6 171.2,250.3 171.7,250.1 172.2,247.9 172.7,247.5 173.2,247.5 173.7,246.3 174.0,246.4 174.2,247.2 174.7,248.2 175.2,246.4 175.7,245.4 176.2,245.1 176.7,248.7 176.9,244.6 177.2,246.2 177.7,246.6 178.0,247.5 178.2,248.0 178.7,249.2 179.2,250.2 179.7,250.1 180.2,251.3 180.7,253.0 181.2,254.8 181.6,253.7 181.7,254.1 182.2,253.7 182.7,256.9 183.2,253.7 183.5,254.1 183.7,254.1 184.2,253.9 184.7,253.2 185.2,255.9 185.7,253.9 186.0,255.4 186.2,254.3 186.7,255.2 187.2,253.6 187.7,252.4 188.2,252.5 188.7,250.7 189.2,250.3 189.7,250.5 190.2,249.8 190.7,248.8 191.2,248.7 191.6,249.5 191.7,248.6 192.2,248.4 192.7,251.3 193.2,249.8 193.7,250.4 194.2,249.2 194.7,250.4 195.2,250.9 195.7,250.0 196.0,250.7 196.2,253.4 196.7,260.1 197.0,264.7 197.2,263.5 197.7,271.3 198.2,272.2 198.7,272.3 199.2,271.9 199.7,273.4 200.2,273.7 200.4,273.4 200.7,273.5 201.2,274.2 201.7,275.1 202.2,276.0 202.7,274.6 203.2,273.2 203.7,274.6 203.8,274.1 204.2,267.4 204.7,261.6 205.2,253.9 205.7,244.9 206.0,242.4 206.2,242.2 206.7,243.0 207.2,243.8 207.7,243.8 208.2,247.3 208.7,248.8 209.2,250.2 209.7,251.1 210.2,253.5 210.4,253.3 210.7,252.9 211.2,253.4 211.7,254.6 212.2,255.7 212.6,256.4 212.7,257.3 213.2,260.0 213.7,262.3 214.2,266.2 214.7,269.3 214.8,269.9 215.2,268.3 215.7,269.3 216.0,268.3 216.2,267.5 216.7,264.8 217.2,263.8 217.7,263.9 218.1,263.2 218.2,262.9 218.7,262.0 219.0,262.1 219.2,261.9 219.7,261.8 220.2,262.5 220.7,261.9 221.2,262.1 221.5,262.1 221.7,263.2 222.2,263.1 222.7,263.2 223.2,264.0 223.7,263.8 224.2,264.1 224.7,264.7 225.2,265.0 225.7,264.8 225.9,265.6 226.2,267.9 226.7,269.6 227.2,268.3 227.7,268.3 228.2,272.2 228.7,271.4 229.2,273.7 229.7,274.7 230.2,275.4 230.3,276.0 230.7,274.9 231.2,275.9 231.7,276.2 232.2,276.1 232.7,276.9 233.2,277.3 233.7,277.0 234.2,276.8 234.7,276.8 235.2,278.0 235.7,278.8 236.0,279.0 236.2,278.4 236.7,280.3 237.2,280.4 237.7,279.6 238.0,279.9 238.2,280.2 238.7,280.2 239.0,279.9 239.2,281.6 239.7,281.8 240.2,282.4 240.7,281.6 241.2,282.9 241.4,281.7 241.7,283.1 242.2,282.6 242.7,283.4 243.2,283.8 243.7,283.0 244.2,282.5 244.7,281.8 245.0,281.0 245.2,282.4 245.7,282.1 246.2,282.5 246.7,282.9 247.2,281.8 247.7,282.0 248.2,283.4 248.7,282.8 249.2,283.0 249.7,281.2 250.2,283.6 250.7,283.7 251.2,284.3 251.7,284.1 252.2,283.1 252.4,282.4 252.7,283.1 253.2,282.2 253.7,280.7 254.2,278.7 254.6,280.6 254.7,278.1 255.2,280.1 255.7,280.9 255.8,279.5" fill="none" stroke="#4a72c8" stroke-width="1.15" stroke-linejoin="round" stroke-opacity="1.0"/>
<polyline points="18.2,294.4 18.7,295.0 19.2,295.7 19.7,297.0 20.0,297.6 20.2,298.0 20.7,298.1 21.0,298.8 21.2,298.8 21.6,300.0 21.7,299.7 22.2,298.3 22.7,296.3 23.0,296.1 23.2,295.7 23.7,294.4 24.0,294.1 24.2,293.4 24.7,292.6 25.0,291.9 25.2,292.1 25.7,290.7 26.2,291.0 26.7,289.9 27.0,290.3 27.2,289.6 27.7,289.0 28.0,289.0 28.2,288.7 28.7,288.9 29.0,289.1 29.2,288.7 29.4,289.6 29.7,289.8 30.2,289.6 30.7,290.1 31.0,289.0 31.2,290.4 31.7,290.3 32.2,290.4 32.7,290.4 33.0,290.9 33.2,290.2 33.7,289.9 34.0,289.8 34.2,289.7 34.7,289.7 35.0,290.1 35.2,289.8 35.7,289.0 36.0,288.0 36.2,287.7 36.7,287.4 37.0,287.3 37.2,287.0 37.7,287.5 38.0,287.8 38.2,288.1 38.7,288.7 39.2,289.6 39.7,289.1 40.0,290.5 40.2,291.5 40.7,291.1 41.2,291.3 41.7,291.4 42.2,290.6 42.7,292.6 43.0,292.0 43.2,292.4 43.7,293.1 44.2,292.6 44.7,292.8 45.0,293.5 45.2,292.7 45.7,293.0 46.2,293.6 46.7,293.3 47.0,293.9 47.2,294.0 47.7,294.0 48.2,294.0 48.7,294.3 49.2,294.6 49.7,294.6 50.0,295.2 50.2,295.1 50.7,294.8 51.2,295.1 51.7,294.5 52.2,294.8 52.7,295.2 53.0,295.4 53.2,295.6 53.7,295.4 54.2,295.5 54.7,295.7 54.8,295.6 55.0,295.7 55.2,295.6 55.7,296.7 55.8,295.6 56.2,296.4 56.7,296.9 57.0,296.3 57.2,297.3 57.7,296.9 58.2,298.1 58.7,297.7 59.0,298.3 59.2,298.2 59.7,297.9 60.0,298.6 60.2,299.1 60.6,298.7 60.7,300.0 61.2,298.8 61.7,298.1 62.0,299.0 62.2,298.5 62.7,299.2 63.2,299.0 63.7,298.7 64.2,298.6 64.7,298.6 65.0,298.9 65.2,298.7 65.7,298.6 66.2,298.8 66.7,299.2 67.2,299.3 67.7,299.3 68.2,298.2 68.7,298.9 69.2,298.9 69.7,298.9 70.0,298.8 70.2,299.2 70.7,299.1 71.2,299.1 71.7,299.2 72.2,299.1 72.7,299.8 73.2,298.8 73.7,299.4 74.2,299.4 74.7,299.0 75.0,299.0 75.2,299.3 75.7,299.3 76.2,299.3 76.7,299.6 77.2,300.1 77.7,299.9 78.2,300.4 78.7,299.8 79.2,299.9 79.7,299.7 80.0,299.6 80.2,299.7 80.7,299.4 81.2,299.6 81.7,299.3 82.2,299.8 82.7,300.0 83.2,299.9 83.7,299.9 84.2,300.6 84.7,299.6 85.0,299.9 85.2,300.2 85.7,300.1 86.2,300.3 86.7,299.7 87.2,300.2 87.7,300.1 88.2,299.8 88.7,300.0 89.0,300.6 89.2,300.2 89.7,299.6 90.2,299.8 90.4,299.0 90.7,299.6 91.0,299.6 91.2,299.8 91.7,300.6 92.2,301.0 92.7,301.5 93.0,302.1 93.2,302.4 93.7,300.5 94.0,300.1 94.2,299.5 94.7,298.3 95.0,297.1 95.2,297.5 95.7,297.5 96.2,297.6 96.7,296.7 97.0,296.9 97.2,296.8 97.5,296.2 97.7,296.2 98.2,295.7 98.7,295.7 99.2,295.0 99.4,294.8 99.7,294.4 100.2,293.9 100.7,293.7 101.2,293.5 101.6,293.3 101.7,292.9 102.2,292.4 102.7,293.9 103.2,293.2 103.7,293.9 104.0,293.8 104.2,294.1 104.7,294.9 105.2,294.4 105.7,295.1 106.0,294.5 106.2,294.5 106.7,294.7 107.2,294.0 107.7,293.1 108.0,293.8 108.2,293.7 108.7,293.5 109.2,294.0 109.7,293.0 110.2,293.0 110.5,292.9 110.7,292.8 111.2,293.1 111.7,293.1 112.0,293.2 112.2,293.4 112.7,293.0 113.2,293.8 113.7,293.5 113.8,293.2 114.2,293.7 114.7,293.5 115.2,293.8 115.7,294.5 116.2,294.7 116.7,294.8 117.0,295.6 117.2,295.2 117.7,295.0 118.2,295.8 118.7,296.1 119.2,295.8 119.7,296.1 120.0,296.1 120.2,296.1 120.7,296.7 121.2,296.5 121.7,295.6 122.2,297.5 122.7,297.3 123.0,297.7 123.2,298.0 123.7,298.0 124.2,298.1 124.7,298.1 125.2,297.5 125.7,298.3 126.0,298.0 126.2,297.8 126.7,298.2 127.2,298.4 127.7,298.2 128.2,297.9 128.7,297.2 129.2,296.8 129.3,296.3 129.7,296.0 130.2,295.9 130.7,296.1 131.0,295.9 131.2,296.1 131.7,295.6 132.2,295.8 132.6,295.1 132.7,295.3 133.2,295.3 133.7,294.9 134.2,295.4 134.7,294.8 134.8,295.1 135.2,293.9 135.7,295.1 136.0,295.2 136.2,295.4 136.7,295.3 137.2,294.8 137.7,294.9 138.2,295.1 138.7,295.1 139.2,295.8 139.7,296.3 140.2,296.0 140.7,296.7 141.2,297.7 141.7,296.8 142.2,296.5 142.6,297.2 142.7,297.0 143.2,297.6 143.7,298.1 144.2,297.0 144.7,297.4 145.2,297.7 145.7,297.3 145.9,296.9 146.2,297.3 146.7,297.1 147.2,296.5 147.7,298.3 148.2,297.7 148.7,297.5 149.2,297.6 149.7,297.7 150.2,298.1 150.3,297.5 150.7,298.0 151.2,298.3 151.7,298.5 152.2,298.4 152.7,298.7 153.2,298.6 153.7,298.5 154.2,299.1 154.7,299.0 155.2,300.4 155.7,299.0 156.2,298.9 156.7,298.2 157.2,298.0 157.7,298.3 158.2,297.5 158.7,297.8 159.2,297.3 159.7,296.7 160.2,296.8 160.7,296.2 161.2,295.5 161.7,296.1 162.2,295.8 162.5,295.6 162.7,295.5 163.2,295.4 163.7,294.8 164.2,294.7 164.7,293.9 165.2,294.1 165.7,294.5 166.0,293.7 166.2,293.8 166.7,294.0 167.2,293.2 167.7,292.8 168.2,292.3 168.7,292.6 169.2,292.1 169.7,293.5 170.2,291.7 170.7,290.5 171.2,291.2 171.7,291.5 172.2,289.7 172.7,289.2 173.2,289.1 173.7,288.0 174.0,288.1 174.2,288.1 174.7,287.5 175.2,287.5 175.7,286.8 176.2,286.3 176.7,286.7 176.9,286.3 177.2,287.0 177.7,286.9 178.0,287.5 178.2,287.3 178.7,287.9 179.2,288.5 179.7,288.0 180.2,288.0 180.7,288.9 181.2,289.8 181.6,289.3 181.7,289.8 182.2,289.6 182.7,289.9 183.2,290.0 183.5,289.8 183.7,288.7 184.2,290.0 184.7,291.2 185.2,290.7 185.7,290.2 186.0,291.2 186.2,290.5 186.7,291.1 187.2,291.0 187.7,290.5 188.2,290.9 188.7,290.7 189.2,290.5 189.7,290.7 190.2,290.8 190.7,290.9 191.2,291.0 191.6,290.2 191.7,290.8 192.2,290.5 192.7,290.9 193.2,291.4 193.7,290.9 194.2,290.8 194.7,290.9 195.2,291.1 195.7,291.2 196.0,292.2 196.2,291.7 196.7,292.3 197.0,292.6 197.2,292.8 197.7,294.7 198.2,294.1 198.7,293.7 199.2,293.8 199.7,294.3 200.2,294.3 200.4,294.6 200.7,294.3 201.2,294.1 201.7,294.9 202.2,294.9 202.7,294.6 203.2,294.1 203.7,294.8 203.8,294.7 204.2,293.1 204.7,292.1 205.2,291.7 205.7,289.0 206.0,288.5 206.2,288.6 206.7,289.1 207.2,289.0 207.7,290.1 208.2,290.6 208.7,291.4 209.2,292.1 209.7,292.3 210.2,293.2 210.4,293.4 210.7,292.8 211.2,293.0 211.7,293.7 212.2,293.6 212.6,293.7 212.7,294.1 213.2,294.4 213.7,295.0 214.2,295.5 214.7,295.9 214.8,295.7 215.2,295.0 215.7,296.2 216.0,295.5 216.2,295.4 216.7,294.8 217.2,295.1 217.7,295.5 218.1,295.2 218.2,295.3 218.7,295.4 219.0,295.4 219.2,295.1 219.7,295.1 220.2,295.2 220.7,295.6 221.2,295.5 221.5,296.2 221.7,295.7 222.2,296.1 222.7,296.0 223.2,295.9 223.7,295.7 224.2,296.1 224.7,296.2 225.2,295.9 225.7,296.0 225.9,296.2 226.2,296.5 226.7,296.9 227.2,296.8 227.7,296.7 228.2,297.8 228.7,297.1 229.2,297.3 229.7,297.1 230.2,297.2 230.3,297.3 230.7,297.1 231.2,297.5 231.7,297.9 232.2,297.4 232.7,297.7 233.2,298.0 233.7,297.9 234.2,297.8 234.7,297.9 235.2,298.5 235.7,298.4 236.0,298.8 236.2,298.5 236.7,298.9 237.2,299.3 237.7,298.7 238.0,298.5 238.2,298.5 238.7,298.8 239.0,299.0 239.2,299.4 239.7,299.8 240.2,299.6 240.7,299.6 241.2,299.9 241.4,299.8 241.7,300.2 242.2,299.8 242.7,299.8 243.2,300.1 243.7,299.7 244.2,299.9 244.7,300.1 245.0,300.0 245.2,300.2 245.7,299.6 246.2,300.0 246.7,300.1 247.2,299.7 247.7,300.0 248.2,300.4 248.7,300.3 249.2,300.1 249.7,299.9 250.2,300.7 250.7,300.7 251.2,300.8 251.7,300.7 252.2,300.4 252.4,299.9 252.7,300.5 253.2,300.3 253.7,300.0 254.2,299.6 254.6,300.6 254.7,299.3 255.2,299.7 255.7,300.1 255.8,299.6" fill="none" stroke="#ee8030" stroke-width="1.15" stroke-linejoin="round" stroke-opacity="1.0"/>
<polyline points="18.2,224.4 18.7,224.6 19.2,225.3 19.2,238.9 19.5,238.9 19.7,226.9 20.0,227.6 20.2,228.5 20.7,227.7 21.0,227.4 21.2,227.9 21.6,227.8 21.7,228.3 22.2,228.0 22.2,235.4 22.5,235.4 22.7,226.5 23.0,228.6 23.2,229.5 23.7,229.0 24.0,229.7 24.2,230.1 24.7,229.8 25.0,229.8 25.2,230.5 25.7,227.9 25.8,235.7 26.0,235.7 26.2,229.7 26.7,228.0 27.0,229.0 27.2,228.5 27.7,227.1 28.0,229.3 28.2,226.3 28.7,225.5 29.0,223.3 29.2,224.4 29.4,224.6 29.7,225.1 29.8,232.0 30.0,232.0 30.2,224.3 30.7,225.2 31.0,223.0 31.2,226.2 31.7,228.9 32.2,226.9 32.7,228.5 33.0,228.4 33.2,227.9 33.7,228.0 34.0,228.3 34.2,228.3 34.7,229.4 34.8,242.2 35.0,242.2 35.0,229.8 35.2,229.2 35.7,229.7 36.0,229.2 36.2,228.6 36.7,229.1 37.0,229.9 37.0,240.2 37.2,228.7 37.3,240.2 37.7,231.4 38.0,229.1 38.2,229.3 38.7,229.8 39.2,230.4 39.7,228.9 39.8,237.0 40.0,237.0 40.0,231.2 40.2,232.2 40.7,232.6 41.2,232.6 41.7,231.7 42.2,232.7 42.7,233.7 43.0,232.2 43.0,241.8 43.2,232.8 43.3,241.8 43.7,233.8 44.2,231.7 44.7,232.1 45.0,231.7 45.2,230.4 45.7,230.1 46.2,230.9 46.7,230.4 46.8,243.8 47.0,243.8 47.0,232.4 47.2,232.5 47.7,232.1 48.2,232.5 48.7,232.5 49.2,233.1 49.7,232.9 49.8,240.4 50.0,240.4 50.0,234.3 50.2,233.8 50.7,234.1 51.2,234.4 51.7,232.5 52.2,233.4 52.7,234.6 53.0,234.5 53.2,236.1 53.7,237.6 53.8,251.2 54.0,251.2 54.2,238.4 54.7,240.4 54.8,239.8 55.0,242.3 55.2,245.5 55.7,254.7 55.8,253.5 56.2,256.0 56.7,256.6 57.0,256.0 57.2,258.0 57.7,255.5 58.2,259.3 58.7,258.3 59.0,259.1 59.2,259.7 59.7,258.1 60.0,258.3 60.2,259.4 60.6,259.4 60.7,262.3 61.2,259.7 61.7,258.5 62.0,260.4 62.2,259.5 62.7,260.7 63.2,261.0 63.7,260.0 64.2,260.1 64.7,260.1 65.0,259.9 65.2,259.3 65.7,259.9 66.2,259.7 66.7,261.1 67.2,260.3 67.7,259.9 68.2,258.5 68.7,260.5 69.2,259.4 69.7,261.0 70.0,261.2 70.2,261.3 70.7,260.3 71.2,260.2 71.7,260.7 72.2,260.4 72.7,261.4 73.2,259.6 73.7,261.2 74.2,261.2 74.7,258.7 75.0,260.2 75.2,260.8 75.7,261.0 76.2,260.5 76.7,260.7 77.2,261.5 77.7,262.7 78.2,262.9 78.7,261.4 79.2,262.0 79.7,261.6 80.0,261.0 80.2,261.7 80.7,262.2 81.2,262.1 81.7,261.3 82.2,261.0 82.7,263.3 83.2,261.9 83.7,262.7 84.2,263.8 84.7,261.0 85.0,262.0 85.2,261.6 85.7,262.0 86.2,262.3 86.7,261.7 87.2,261.3 87.7,262.4 88.2,261.5 88.7,263.0 89.0,264.3 89.2,263.6 89.7,263.4 90.2,264.1 90.4,262.0 90.7,267.1 91.0,270.0 91.2,269.2 91.7,269.9 92.2,270.5 92.7,270.1 93.0,271.7 93.2,273.8 93.7,271.3 94.0,272.3 94.2,271.5 94.7,271.2 95.0,269.7 95.2,270.5 95.7,270.6 96.2,270.7 96.7,270.6 97.0,270.6 97.2,269.9 97.5,268.7 97.7,267.4 98.2,262.9 98.7,259.9 99.2,255.4 99.4,253.6 99.7,251.0 100.2,248.7 100.7,248.0 101.2,245.7 101.6,243.8 101.7,244.1 102.2,241.6 102.7,244.8 103.2,242.6 103.7,243.8 104.0,244.1 104.2,244.0 104.7,244.8 105.2,244.2 105.7,244.2 106.0,243.4 106.2,243.8 106.7,242.3 107.2,239.2 107.7,236.4 108.0,236.4 108.2,235.9 108.7,234.1 109.2,233.0 109.7,229.7 110.2,227.0 110.5,225.9 110.7,225.5 111.2,228.8 111.7,231.1 112.0,232.7 112.2,233.0 112.7,234.1 113.2,237.5 113.7,239.4 113.8,239.7 114.2,240.2 114.7,239.1 115.2,239.1 115.7,240.8 116.2,240.6 116.7,241.2 117.0,242.2 117.2,241.7 117.7,241.7 118.2,242.0 118.7,243.0 119.2,241.6 119.7,242.0 120.0,242.8 120.2,241.8 120.7,242.6 121.2,241.1 121.7,238.3 122.2,242.6 122.7,242.0 123.0,240.3 123.2,243.4 123.7,242.7 124.2,241.8 124.7,242.8 125.2,242.1 125.7,243.2 126.0,241.3 126.2,241.7 126.7,241.7 127.2,241.3 127.7,240.9 128.2,240.2 128.7,229.2 129.2,219.0 129.3,216.7 129.7,216.2 130.2,215.8 130.7,216.4 131.0,215.9 131.2,216.4 131.7,214.5 132.2,215.2 132.6,213.0 132.7,214.1 133.2,214.2 133.7,213.8 134.2,214.3 134.7,213.1 134.8,213.8 135.2,214.3 135.7,214.4 136.0,215.0 136.2,215.7 136.7,217.5 137.2,217.4 137.7,219.3 138.2,220.8 138.7,221.5 139.2,225.1 139.7,228.4 140.2,230.9 140.7,234.6 141.2,237.0 141.7,239.4 142.2,242.2 142.6,244.9 142.7,244.3 143.2,245.3 143.7,242.3 144.2,240.3 144.7,241.3 145.2,240.3 145.7,238.7 145.9,238.1 146.2,238.9 146.7,238.5 147.2,238.4 147.7,243.1 148.2,241.5 148.7,242.3 149.2,242.9 149.7,245.0 150.2,246.1 150.3,244.9 150.7,246.7 151.2,248.2 151.7,249.3 152.2,250.9 152.7,252.0 153.2,252.8 153.7,253.1 154.2,255.9 154.7,255.9 155.2,259.9 155.7,257.9 156.2,257.9 156.7,256.4 157.2,257.1 157.7,256.8 158.2,255.5 158.7,257.3 159.2,256.8 159.7,255.0 160.2,254.8 160.7,253.0 161.2,251.1 161.7,251.7 162.2,250.4 162.5,250.2 162.7,248.8 163.2,249.3 163.7,248.6 164.2,248.9 164.7,247.3 165.2,246.7 165.7,247.4 166.0,247.1 166.2,246.8 166.7,247.2 167.2,246.0 167.7,244.7 168.2,243.8 168.7,244.8 169.2,244.0 169.7,247.4 170.2,243.4 170.7,240.7 171.2,241.5 171.7,242.0 172.2,239.0 172.7,237.4 173.2,237.6 173.7,235.5 174.0,236.0 174.2,236.4 174.7,234.8 175.2,234.6 175.7,234.2 176.2,233.0 176.7,233.6 176.9,232.3 177.2,233.4 177.7,234.5 178.0,236.8 178.2,236.5 178.7,238.1 179.2,239.6 179.7,240.5 180.2,241.1 180.7,243.1 181.2,245.0 181.6,244.9 181.7,245.1 182.2,245.8 182.7,246.9 183.2,246.9 183.5,246.8 183.7,246.7 184.2,246.4 184.7,245.8 185.2,247.5 185.7,246.0 186.0,247.7 186.2,246.3 186.7,250.2 187.2,246.0 187.7,244.3 188.2,243.8 188.7,242.3 189.2,241.2 189.7,241.5 190.2,239.3 190.7,239.9 191.2,239.1 191.6,240.1 191.7,237.3 192.2,237.7 192.7,237.0 193.2,238.2 193.7,237.5 194.2,237.2 194.7,237.7 195.2,238.1 195.7,237.9 196.0,238.0 196.2,243.7 196.7,254.0 197.0,261.5 197.2,263.5 197.7,269.9 198.2,270.9 198.7,270.5 199.2,269.9 199.7,271.8 200.2,272.0 200.4,271.2 200.7,271.9 201.2,273.0 201.7,272.8 202.2,272.5 202.7,273.7 203.2,270.1 203.7,271.6 203.8,271.9 204.2,263.1 204.7,255.6 205.2,245.4 205.7,238.4 206.0,231.0 206.2,231.0 206.7,232.2 207.2,232.6 207.7,234.0 208.2,235.4 208.7,240.7 209.2,239.3 209.7,241.3 210.2,244.6 210.4,245.0 210.7,244.1 211.2,245.1 211.7,246.2 212.2,246.1 212.6,247.6 212.7,248.9 213.2,252.3 213.7,256.0 214.2,260.1 214.7,267.3 214.8,265.6 215.2,262.3 215.7,263.2 216.0,261.2 216.2,260.0 216.7,256.4 217.2,254.6 217.7,253.6 218.1,252.6 218.2,252.1 218.7,252.8 219.0,252.9 219.2,252.7 219.7,252.0 220.2,251.2 220.7,253.3 221.2,253.1 221.5,254.6 221.7,255.3 222.2,256.0 222.7,256.5 223.2,256.7 223.7,256.1 224.2,258.2 224.7,258.2 225.2,258.2 225.7,258.7 225.9,259.6 226.2,261.1 226.7,262.3 227.2,263.5 227.7,264.5 228.2,268.9 228.7,268.3 229.2,270.5 229.7,270.8 230.2,272.5 230.3,271.2 230.7,271.1 231.2,271.1 231.7,271.8 232.2,270.8 232.7,271.7 233.2,273.3 233.7,272.7 234.2,272.8 234.7,273.4 235.2,274.4 235.7,274.6 236.0,274.9 236.2,274.8 236.7,276.4 237.2,276.0 237.7,275.2 238.0,275.5 238.2,275.3 238.7,276.0 239.0,275.6 239.2,277.2 239.7,277.7 240.2,277.1 240.7,277.9 241.2,278.3 241.4,276.9 241.7,278.2 242.2,278.5 242.7,279.1 243.2,280.4 243.7,279.5 244.2,279.0 244.7,278.4 245.0,279.7 245.2,277.9 245.7,279.6 246.2,280.0 246.7,280.2 247.2,279.6 247.7,280.2 248.2,281.5 248.7,281.3 249.2,280.8 249.7,280.0 250.2,281.7 250.7,281.9 251.2,282.3 251.7,281.2 252.2,280.3 252.4,279.8 252.7,278.1 253.2,278.2 253.7,276.2 254.2,273.8 254.6,276.0 254.7,272.5 255.2,276.3 255.7,274.3 255.8,272.9" fill="none" stroke="#3fa45a" stroke-width="1.15" stroke-linejoin="round" stroke-opacity="1.0"/>
<polyline points="18.2,291.2 18.7,291.5 19.2,292.4 19.7,294.1 20.0,294.8 20.2,295.3 20.7,296.0 21.0,296.4 21.2,297.1 21.6,298.5 21.7,297.7 22.2,295.5 22.7,292.3 23.0,291.4 23.2,291.7 23.7,290.7 24.0,289.6 24.2,289.2 24.7,287.7 25.0,286.6 25.2,287.1 25.7,285.7 26.2,285.9 26.7,284.7 27.0,285.1 27.2,284.3 27.7,282.8 28.0,282.8 28.2,282.4 28.7,281.4 29.0,283.0 29.2,283.3 29.4,284.0 29.7,284.2 30.2,284.1 30.7,285.1 31.0,283.7 31.2,285.6 31.7,285.5 32.2,285.3 32.7,285.4 33.0,285.6 33.2,285.1 33.7,285.1 34.0,285.0 34.2,284.9 34.7,285.2 35.0,285.5 35.2,284.8 35.7,283.5 36.0,282.8 36.2,282.6 36.7,281.8 37.0,281.1 37.2,280.9 37.7,281.6 38.0,282.1 38.2,282.3 38.7,283.5 39.2,284.8 39.7,284.6 40.0,286.1 40.2,286.4 40.7,287.2 41.2,287.4 41.7,287.4 42.2,287.6 42.7,288.7 43.0,288.1 43.2,288.7 43.7,289.3 44.2,288.7 44.7,289.5 45.0,289.4 45.2,288.5 45.7,288.7 46.2,289.4 46.7,289.2 47.0,290.3 47.2,290.2 47.7,290.1 48.2,290.1 48.7,290.3 49.2,290.6 49.7,290.4 50.0,291.4 50.2,291.2 50.7,291.3 51.2,291.6 51.7,290.7 52.2,291.9 52.7,291.8 53.0,292.2 53.2,293.0 53.7,292.7 54.2,292.6 54.7,293.1 54.8,293.0 55.0,293.3 55.2,293.2 55.7,294.6 55.8,293.2 56.2,294.2 56.7,294.3 57.0,293.9 57.2,295.2 57.7,294.6 58.2,296.1 58.7,295.6 59.0,296.1 59.2,296.1 59.7,295.6 60.0,295.7 60.2,296.8 60.6,296.7 60.7,298.2 61.2,297.0 61.7,296.2 62.0,298.5 62.2,297.0 62.7,297.2 63.2,298.4 63.7,297.7 64.2,296.8 64.7,296.9 65.0,296.7 65.2,296.3 65.7,296.0 66.2,297.3 66.7,297.6 67.2,296.9 67.7,296.9 68.2,295.9 68.7,296.4 69.2,296.5 69.7,295.3 70.0,297.1 70.2,297.2 70.7,296.8 71.2,296.7 71.7,297.2 72.2,297.1 72.7,297.3 73.2,296.7 73.7,297.4 74.2,297.7 74.7,297.1 75.0,296.9 75.2,297.6 75.7,297.7 76.2,297.7 76.7,297.8 77.2,297.5 77.7,298.1 78.2,298.0 78.7,297.3 79.2,297.5 79.7,297.6 80.0,297.5 80.2,297.6 80.7,297.4 81.2,297.8 81.7,297.4 82.2,297.3 82.7,297.8 83.2,297.1 83.7,297.6 84.2,297.9 84.7,296.7 85.0,297.3 85.2,297.3 85.7,298.0 86.2,297.7 86.7,297.4 87.2,297.2 87.7,297.6 88.2,297.3 88.7,297.5 89.0,298.0 89.2,298.3 89.7,297.5 90.2,297.7 90.4,296.2 90.7,297.4 91.0,297.4 91.2,297.3 91.7,298.3 92.2,299.6 92.7,299.8 93.0,300.6 93.2,301.2 93.7,298.1 94.0,297.2 94.2,296.3 94.7,293.5 95.0,292.2 95.2,292.8 95.7,292.9 96.2,292.4 96.7,291.8 97.0,291.5 97.2,291.4 97.5,289.1 97.7,290.1 98.2,289.4 98.7,289.3 99.2,288.6 99.4,288.3 99.7,288.2 100.2,287.2 100.7,287.1 101.2,286.7 101.6,286.0 101.7,286.1 102.2,285.3 102.7,286.9 103.2,285.7 103.7,286.3 104.0,286.5 104.2,286.8 104.7,287.3 105.2,287.4 105.7,287.3 106.0,287.2 106.2,287.6 106.7,287.3 107.2,286.5 107.7,285.4 108.0,286.5 108.2,285.7 108.7,285.7 109.2,286.1 109.7,285.1 110.2,284.6 110.5,284.3 110.7,284.5 111.2,285.3 111.7,285.7 112.0,285.6 112.2,285.5 112.7,285.3 113.2,286.2 113.7,286.0 113.8,285.6 114.2,286.6 114.7,286.4 115.2,286.5 115.7,287.7 116.2,287.7 116.7,288.6 117.0,288.9 117.2,289.2 117.7,289.1 118.2,289.1 118.7,289.8 119.2,289.5 119.7,290.1 120.0,290.5 120.2,290.1 120.7,291.0 121.2,290.6 121.7,289.8 122.2,291.6 122.7,291.8 123.0,292.2 123.2,292.4 123.7,292.4 124.2,292.6 124.7,292.8 125.2,292.3 125.7,293.8 126.0,293.0 126.2,293.0 126.7,293.2 127.2,293.8 127.7,293.5 128.2,293.2 128.7,291.7 129.2,290.7 129.3,290.2 129.7,289.0 130.2,291.6 130.7,290.5 131.0,289.8 131.2,290.5 131.7,289.9 132.2,289.4 132.6,289.0 132.7,289.2 133.2,289.3 133.7,289.2 134.2,289.4 134.7,288.8 134.8,289.5 135.2,289.1 135.7,289.5 136.0,289.7 136.2,289.8 136.7,289.5 137.2,288.8 137.7,289.0 138.2,289.0 138.7,288.9 139.2,290.2 139.7,290.4 140.2,290.0 140.7,291.7 141.2,292.3 141.7,291.2 142.2,291.7 142.6,292.1 142.7,292.2 143.2,293.7 143.7,294.2 144.2,292.8 144.7,293.3 145.2,293.3 145.7,293.0 145.9,293.2 146.2,293.4 146.7,292.9 147.2,291.9 147.7,294.6 148.2,293.7 148.7,293.5 149.2,293.9 149.7,293.9 150.2,294.3 150.3,293.6 150.7,293.7 151.2,294.4 151.7,294.5 152.2,294.7 152.7,295.1 153.2,295.4 153.7,296.7 154.2,296.0 154.7,295.6 155.2,297.1 155.7,295.2 156.2,294.0 156.7,294.2 157.2,294.4 157.7,294.6 158.2,293.8 158.7,294.2 159.2,293.6 159.7,292.9 160.2,292.9 160.7,291.9 161.2,291.7 161.7,291.8 162.2,291.6 162.5,291.6 162.7,291.3 163.2,291.2 163.7,290.9 164.2,290.8 164.7,290.2 165.2,290.2 165.7,290.5 166.0,290.0 166.2,290.0 166.7,290.0 167.2,288.8 167.7,288.7 168.2,288.3 168.7,288.6 169.2,288.0 169.7,289.8 170.2,287.4 170.7,285.9 171.2,286.3 171.7,286.6 172.2,285.0 172.7,286.0 173.2,284.5 173.7,283.1 174.0,283.1 174.2,283.9 174.7,283.2 175.2,282.8 175.7,282.4 176.2,283.6 176.7,283.0 176.9,281.7 177.2,283.0 177.7,284.2 178.0,283.4 178.2,283.5 178.7,284.1 179.2,284.2 179.7,284.0 180.2,283.9 180.7,285.0 181.2,286.1 181.6,285.2 181.7,286.1 182.2,286.1 182.7,286.6 183.2,286.4 183.5,286.7 183.7,286.5 184.2,286.6 184.7,286.3 185.2,287.4 185.7,286.7 186.0,287.6 186.2,286.0 186.7,287.8 187.2,287.3 187.7,286.4 188.2,286.9 188.7,286.3 189.2,286.5 189.7,286.7 190.2,286.5 190.7,287.0 191.2,286.9 191.6,287.5 191.7,287.0 192.2,286.9 192.7,286.5 193.2,287.6 193.7,287.0 194.2,286.9 194.7,287.0 195.2,287.3 195.7,287.0 196.0,287.2 196.2,287.8 196.7,288.5 197.0,289.1 197.2,289.6 197.7,291.5 198.2,291.3 198.7,290.7 199.2,290.7 199.7,291.6 200.2,291.2 200.4,291.4 200.7,291.6 201.2,291.9 201.7,291.6 202.2,291.6 202.7,292.4 203.2,290.4 203.7,291.1 203.8,291.4 204.2,289.7 204.7,288.6 205.2,286.7 205.7,284.5 206.0,283.4 206.2,283.8 206.7,284.2 207.2,284.3 207.7,285.2 208.2,286.2 208.7,286.8 209.2,287.4 209.7,288.3 210.2,288.9 210.4,289.8 210.7,289.3 211.2,289.8 211.7,290.0 212.2,290.2 212.6,290.9 212.7,290.8 213.2,290.9 213.7,291.5 214.2,292.4 214.7,293.7 214.8,293.5 215.2,292.2 215.7,293.4 216.0,292.8 216.2,292.3 216.7,291.4 217.2,292.0 217.7,292.0 218.1,292.7 218.2,291.8 218.7,292.2 219.0,291.9 219.2,291.8 219.7,291.6 220.2,292.1 220.7,292.1 221.2,292.0 221.5,292.8 221.7,292.8 222.2,292.5 222.7,292.5 223.2,292.1 223.7,291.9 224.2,292.7 224.7,292.8 225.2,293.2 225.7,293.0 225.9,293.2 226.2,293.6 226.7,293.9 227.2,293.9 227.7,293.8 228.2,295.5 228.7,294.1 229.2,295.2 229.7,295.0 230.2,295.3 230.3,295.0 230.7,294.7 231.2,295.3 231.7,294.9 232.2,294.6 232.7,295.0 233.2,295.3 233.7,295.2 234.2,295.5 234.7,295.1 235.2,295.8 235.7,295.9 236.0,296.2 236.2,295.9 236.7,296.8 237.2,296.7 237.7,296.4 238.0,296.3 238.2,296.6 238.7,296.5 239.0,296.7 239.2,297.6 239.7,297.8 240.2,297.2 240.7,297.1 241.2,297.5 241.4,297.3 241.7,297.9 242.2,297.7 242.7,297.6 243.2,298.1 243.7,297.5 244.2,297.9 244.7,297.7 245.0,297.6 245.2,297.7 245.7,297.4 246.2,297.8 246.7,297.9 247.2,297.1 247.7,297.0 248.2,297.6 248.7,297.6 249.2,297.4 249.7,297.1 250.2,298.1 250.7,298.2 251.2,298.2 251.7,297.9 252.2,297.6 252.4,299.0 252.7,298.1 253.2,298.0 253.7,297.5 254.2,297.1 254.6,298.3 254.7,296.6 255.2,297.2 255.7,297.5 255.8,296.9" fill="none" stroke="#e0283a" stroke-width="1.15" stroke-linejoin="round" stroke-opacity="1.0"/>
<polyline points="18.2,220.5 18.7,219.8 18.8,241.3 19.0,241.3 19.2,220.0 19.7,221.0 20.0,221.3 20.2,222.5 20.7,220.9 21.0,221.6 21.2,221.0 21.6,221.4 21.7,222.0 22.2,221.3 22.7,218.7 23.0,221.0 23.2,220.8 23.2,237.1 23.5,237.1 23.7,220.7 24.0,220.5 24.2,221.1 24.7,222.1 25.0,221.1 25.2,222.3 25.7,219.8 26.2,222.2 26.2,248.4 26.5,248.4 26.7,221.3 27.0,223.0 27.2,221.8 27.7,219.8 28.0,221.7 28.2,220.8 28.7,220.3 29.0,219.2 29.1,236.6 29.2,219.4 29.3,236.6 29.4,220.9 29.7,221.2 30.2,220.1 30.7,220.0 31.0,217.5 31.2,220.1 31.7,220.1 32.2,222.3 32.7,221.1 33.0,221.7 33.2,220.5 33.7,221.1 34.0,221.4 34.2,220.7 34.7,220.8 34.8,243.6 35.0,243.6 35.0,222.5 35.2,221.9 35.7,221.8 36.0,221.1 36.2,220.2 36.7,221.6 37.0,222.8 37.2,221.1 37.7,221.8 38.0,221.5 38.2,221.9 38.7,222.3 38.8,243.9 39.0,243.9 39.2,223.8 39.7,221.6 40.0,223.9 40.2,225.0 40.7,225.6 41.2,225.5 41.7,224.4 42.2,224.7 42.7,225.8 43.0,223.9 43.2,224.4 43.7,225.5 43.8,244.6 44.0,244.6 44.2,223.4 44.7,222.9 45.0,223.5 45.2,222.2 45.7,221.7 46.2,222.8 46.7,222.6 46.8,247.3 47.0,247.3 47.0,223.9 47.2,224.4 47.7,223.5 48.2,223.7 48.7,223.7 49.2,224.3 49.7,227.2 50.0,224.6 50.2,223.9 50.7,224.7 51.2,225.2 51.7,222.3 51.8,244.0 52.0,244.0 52.2,223.9 52.7,224.3 53.0,225.6 53.2,226.6 53.7,227.5 54.2,227.6 54.7,228.9 54.8,228.0 55.0,232.2 55.2,234.1 55.7,254.1 55.8,250.2 56.2,254.0 56.7,255.4 57.0,256.0 57.2,258.9 57.7,257.9 58.2,257.9 58.7,255.2 59.0,256.8 59.0,264.1 59.2,257.3 59.3,264.1 59.7,256.7 60.0,257.3 60.2,258.2 60.6,258.7 60.7,261.9 61.2,260.0 61.7,257.8 62.0,259.9 62.0,264.2 62.2,259.5 62.3,264.2 62.7,260.0 63.2,260.0 63.7,258.6 63.8,266.3 64.0,266.3 64.2,259.4 64.7,260.0 65.0,259.3 65.2,259.4 65.7,260.0 66.2,259.1 66.2,262.1 66.5,262.1 66.7,260.7 67.2,260.5 67.7,259.8 68.2,257.2 68.7,258.9 69.2,258.4 69.2,266.3 69.5,266.3 69.7,259.4 70.0,259.9 70.2,260.4 70.7,259.8 71.2,260.9 71.2,267.9 71.5,267.9 71.7,261.5 72.2,260.7 72.7,261.8 72.8,267.0 73.0,267.0 73.2,260.4 73.7,261.4 74.2,263.6 74.7,260.4 75.0,259.5 75.2,260.0 75.7,260.6 75.8,265.7 76.0,265.7 76.2,260.6 76.7,260.6 77.2,260.7 77.7,261.2 78.2,261.6 78.2,265.1 78.5,265.1 78.7,261.0 79.2,261.0 79.7,261.9 80.0,263.8 80.2,261.6 80.7,260.9 81.2,260.3 81.2,265.8 81.5,265.8 81.7,259.9 82.2,259.2 82.7,260.2 83.2,260.5 83.2,267.4 83.5,267.4 83.7,260.2 84.2,262.0 84.7,259.9 85.0,261.2 85.2,261.9 85.7,261.3 86.2,261.8 86.7,262.0 86.8,267.7 87.0,267.7 87.2,261.8 87.7,262.5 88.2,261.9 88.7,262.7 89.0,264.0 89.2,263.1 89.7,263.3 89.8,271.3 90.0,271.3 90.2,263.0 90.4,260.4 90.7,264.6 91.0,270.9 91.2,267.6 91.7,267.8 92.2,269.0 92.7,268.2 93.0,270.1 93.2,271.5 93.7,270.6 94.0,271.4 94.2,270.9 94.7,270.1 95.0,269.1 95.2,269.8 95.7,269.8 96.2,269.2 96.7,269.3 97.0,270.0 97.2,270.5 97.5,269.4 97.7,267.7 98.2,261.8 98.7,258.0 99.2,252.7 99.4,249.7 99.7,249.1 100.2,245.7 100.7,244.2 101.2,241.9 101.6,240.1 101.7,238.8 102.2,236.9 102.7,240.6 103.2,236.8 103.7,238.7 104.0,238.3 104.2,238.7 104.7,240.4 105.2,241.5 105.7,242.3 106.0,243.2 106.2,242.7 106.7,239.8 107.2,236.9 107.7,231.9 108.0,231.8 108.2,230.7 108.7,228.9 109.2,226.9 109.7,224.4 110.2,222.1 110.5,220.7 110.7,220.8 111.2,226.0 111.7,229.8 112.0,231.5 112.2,232.6 112.7,233.3 113.2,235.8 113.7,237.8 113.8,236.3 114.2,237.6 114.7,237.2 115.2,236.4 115.7,237.8 116.2,236.9 116.7,235.8 117.0,237.2 117.2,235.7 117.7,235.8 118.2,236.9 118.7,240.6 119.2,237.9 119.7,238.0 120.0,238.6 120.2,238.3 120.7,239.2 121.2,237.8 121.7,234.2 122.2,237.2 122.7,236.5 123.0,236.0 123.2,237.6 123.7,238.9 124.2,238.8 124.7,240.0 125.2,240.1 125.7,243.3 126.0,242.1 126.2,242.1 126.7,241.4 127.2,240.1 127.7,239.2 128.2,239.3 128.7,226.2 129.2,215.9 129.3,213.0 129.7,212.9 130.2,213.9 130.7,212.7 131.0,215.0 131.2,215.3 131.7,213.3 132.2,211.6 132.6,210.2 132.7,209.7 133.2,209.1 133.7,206.6 134.2,206.8 134.7,204.7 134.8,205.9 135.2,205.9 135.7,209.2 136.0,209.6 136.2,211.8 136.7,213.7 137.2,213.8 137.7,214.7 138.2,217.8 138.7,218.9 139.2,223.1 139.7,226.4 140.2,228.4 140.7,234.8 141.2,236.2 141.7,237.4 142.2,240.1 142.6,243.0 142.7,241.7 143.2,243.0 143.7,242.1 144.2,238.5 144.7,237.5 145.2,237.0 145.7,235.4 145.9,234.3 146.2,235.6 146.7,236.1 147.2,235.3 147.7,240.7 148.2,239.5 148.7,237.7 149.2,241.9 149.7,242.3 150.2,244.2 150.3,243.0 150.7,244.3 151.2,246.3 151.7,247.3 152.2,248.5 152.7,250.8 153.2,252.2 153.7,252.9 154.2,255.7 154.7,256.7 155.2,260.0 155.7,257.1 156.2,257.2 156.7,255.8 157.2,255.3 157.7,255.4 158.2,254.0 158.7,255.5 159.2,254.0 159.7,252.3 160.2,251.1 160.7,249.5 161.2,249.6 161.7,247.6 162.2,246.0 162.5,245.3 162.7,244.0 163.2,244.6 163.7,243.6 164.2,243.7 164.7,242.7 165.2,243.1 165.7,242.9 166.0,242.0 166.2,241.8 166.7,243.0 167.2,240.9 167.7,240.0 168.2,240.6 168.7,241.0 169.2,239.9 169.7,243.5 170.2,237.6 170.7,237.0 171.2,237.2 171.7,235.9 172.2,233.4 172.7,231.9 173.2,231.6 173.7,228.9 174.0,228.0 174.2,229.2 174.7,228.4 175.2,228.6 175.7,227.6 176.2,227.3 176.7,228.1 176.9,226.6 177.2,229.1 177.7,228.2 178.0,229.3 178.2,230.1 178.7,231.6 179.2,232.7 179.7,233.2 180.2,234.6 180.7,237.1 181.2,240.7 181.6,240.0 181.7,240.8 182.2,240.2 182.7,240.4 183.2,239.1 183.5,239.1 183.7,239.4 184.2,240.4 184.7,240.9 185.2,243.3 185.7,242.4 186.0,244.4 186.2,243.1 186.7,244.8 187.2,241.6 187.7,240.2 188.2,239.4 188.7,237.5 189.2,237.0 189.7,237.2 190.2,235.0 190.7,235.0 191.2,233.5 191.6,233.8 191.7,232.5 192.2,232.3 192.7,232.8 193.2,233.0 193.7,232.4 194.2,231.7 194.7,232.6 195.2,232.7 195.7,232.5 196.0,232.2 196.2,237.4 196.7,250.7 197.0,258.3 197.2,260.7 197.7,266.4 198.2,268.5 198.7,268.0 199.2,268.4 199.7,270.2 200.2,270.0 200.4,270.6 200.7,270.2 201.2,270.6 201.7,272.0 202.2,272.0 202.7,273.6 203.2,268.8 203.7,269.5 203.8,270.4 204.2,259.3 204.7,248.4 205.2,236.6 205.7,223.8 206.0,216.8 206.2,218.7 206.7,221.5 207.2,223.5 207.7,227.9 208.2,231.2 208.7,233.5 209.2,236.1 209.7,237.7 210.2,237.7 210.4,240.9 210.7,240.2 211.2,240.8 211.7,242.7 212.2,242.2 212.6,243.6 212.7,244.6 213.2,247.9 213.7,252.8 214.2,257.6 214.7,262.0 214.8,262.5 215.2,256.7 215.7,253.9 216.0,249.3 216.2,248.8 216.7,245.0 217.2,245.1 217.7,244.7 218.1,243.7 218.2,242.8 218.7,244.2 219.0,244.7 219.2,244.2 219.7,244.1 220.2,245.0 220.7,245.3 221.2,245.4 221.5,246.0 221.7,246.4 222.2,247.3 222.7,248.7 223.2,248.9 223.7,249.3 224.2,251.2 224.7,251.2 225.2,251.5 225.7,252.0 225.9,253.4 226.2,255.6 226.7,258.0 227.2,259.6 227.7,261.5 228.2,264.0 228.7,263.0 229.2,265.5 229.7,265.8 230.2,267.2 230.3,266.9 230.7,266.4 231.2,266.7 231.7,267.1 232.2,266.8 232.7,268.3 233.2,268.8 233.7,268.6 234.2,269.5 234.7,269.3 235.2,268.5 235.7,267.8 236.0,266.4 236.2,267.0 236.7,270.0 237.2,272.0 237.7,272.5 238.0,273.7 238.2,272.0 238.7,267.8 239.0,266.0 239.2,267.3 239.7,269.8 240.2,270.1 240.7,271.9 241.2,274.0 241.4,273.7 241.7,275.5 242.2,275.6 242.7,275.9 243.2,277.6 243.7,276.5 244.2,277.2 244.7,276.7 245.0,277.7 245.2,277.8 245.7,277.0 246.2,278.5 246.7,278.6 247.2,278.0 247.7,277.2 248.2,278.6 248.7,277.7 249.2,276.9 249.7,276.7 250.2,278.2 250.7,278.5 251.2,279.6 251.7,278.8 252.2,277.6 252.4,277.1 252.7,277.3 253.2,274.3 253.7,270.6 254.2,267.2 254.6,268.2 254.7,265.4 255.2,267.4 255.7,269.8 255.8,267.4" fill="none" stroke="#404040" stroke-width="1.15" stroke-linejoin="round" stroke-opacity="1.0"/>
<polyline points="18.2,288.3 18.7,288.3 19.2,289.9 19.7,291.0 20.0,292.2 20.2,292.9 20.7,293.6 21.0,294.4 21.2,295.2 21.6,296.7 21.7,296.2 22.2,293.6 22.7,289.7 23.0,289.3 23.2,289.0 23.7,287.2 24.0,286.3 24.2,285.3 24.7,284.3 25.0,282.9 25.2,283.3 25.7,281.2 26.2,281.9 26.7,279.9 27.0,280.5 27.2,279.8 27.7,278.2 28.0,279.9 28.2,277.8 28.7,278.3 29.0,278.2 29.2,279.0 29.4,279.5 29.7,279.5 30.2,279.3 30.7,281.1 31.0,278.2 31.2,280.1 31.7,280.3 32.2,279.9 32.7,279.6 33.0,280.4 33.2,280.0 33.7,279.9 34.0,279.4 34.2,279.5 34.7,279.7 35.0,280.1 35.2,279.5 35.7,277.9 36.0,276.9 36.2,276.0 36.7,275.1 37.0,274.7 37.2,274.3 37.7,275.3 38.0,276.9 38.2,276.0 38.7,277.0 39.2,278.8 39.7,278.4 40.0,281.0 40.2,281.6 40.7,282.1 41.2,282.5 41.7,282.4 42.2,282.6 42.7,284.0 43.0,283.1 43.2,283.6 43.7,284.9 44.2,284.9 44.7,285.5 45.0,285.7 45.2,285.1 45.7,286.1 46.2,286.3 46.7,286.4 47.0,287.2 47.2,287.3 47.7,286.7 48.2,287.0 48.7,287.8 49.2,288.2 49.7,288.4 50.0,289.1 50.2,288.4 50.7,288.5 51.2,289.4 51.7,286.0 52.2,289.4 52.7,289.1 53.0,289.8 53.2,290.1 53.7,289.7 54.2,289.9 54.7,290.3 54.8,289.9 55.0,290.4 55.2,289.9 55.7,292.1 55.8,290.7 56.2,291.5 56.7,291.7 57.0,289.9 57.2,292.6 57.7,291.5 58.2,293.9 58.7,293.2 59.0,294.1 59.2,294.2 59.7,293.7 60.0,294.4 60.2,295.3 60.6,294.6 60.7,297.1 61.2,295.3 61.7,293.9 62.0,295.6 62.2,294.9 62.7,295.1 63.2,295.8 63.7,295.3 64.2,295.0 64.7,295.2 65.0,294.9 65.2,294.7 65.7,295.2 66.2,295.3 66.7,296.1 67.2,296.1 67.7,295.3 68.2,293.4 68.7,294.9 69.2,293.9 69.7,294.2 70.0,294.3 70.2,294.6 70.7,294.5 71.2,294.4 71.7,294.8 72.2,294.5 72.7,294.9 73.2,293.9 73.7,294.6 74.2,294.6 74.7,294.6 75.0,294.0 75.2,294.7 75.7,294.6 76.2,294.3 76.7,294.8 77.2,294.7 77.7,294.7 78.2,294.8 78.7,294.3 79.2,293.9 79.7,293.8 80.0,294.1 80.2,295.6 80.7,294.2 81.2,293.8 81.7,293.9 82.2,294.1 82.7,294.2 83.2,294.4 83.7,294.8 84.2,295.3 84.7,293.8 85.0,294.4 85.2,294.1 85.7,294.7 86.2,295.5 86.7,295.0 87.2,295.1 87.7,294.4 88.2,294.6 88.7,294.8 89.0,295.9 89.2,296.9 89.7,295.4 90.2,294.7 90.4,293.6 90.7,294.3 91.0,294.6 91.2,294.4 91.7,296.0 92.2,297.4 92.7,298.1 93.0,299.8 93.2,299.8 93.7,295.7 94.0,294.6 94.2,293.0 94.7,290.1 95.0,286.0 95.2,287.8 95.7,287.6 96.2,286.7 96.7,286.7 97.0,286.4 97.2,285.8 97.5,285.4 97.7,285.0 98.2,284.0 98.7,283.7 99.2,282.7 99.4,282.0 99.7,281.6 100.2,279.9 100.7,280.1 101.2,279.4 101.6,278.0 101.7,278.1 102.2,277.5 102.7,279.6 103.2,277.9 103.7,279.5 104.0,278.9 104.2,279.2 104.7,280.0 105.2,280.0 105.7,279.9 106.0,279.7 106.2,280.0 106.7,279.8 107.2,278.7 107.7,276.8 108.0,277.7 108.2,277.2 108.7,276.7 109.2,276.2 109.7,273.0 110.2,273.7 110.5,274.3 110.7,273.0 111.2,275.0 111.7,275.1 112.0,275.5 112.2,275.6 112.7,275.2 113.2,276.6 113.7,276.8 113.8,275.9 114.2,277.2 114.7,276.8 115.2,277.0 115.7,278.1 116.2,278.3 116.7,279.5 117.0,280.0 117.2,280.2 117.7,279.7 118.2,280.5 118.7,281.3 119.2,281.3 119.7,282.2 120.0,282.4 120.2,282.0 120.7,283.5 121.2,285.0 121.7,281.5 122.2,284.4 122.7,284.1 123.0,284.4 123.2,287.3 123.7,287.4 124.2,285.9 124.7,286.5 125.2,286.0 125.7,287.4 126.0,286.3 126.2,286.4 126.7,286.7 127.2,287.1 127.7,286.8 128.2,286.7 128.7,285.2 129.2,282.9 129.3,283.0 129.7,282.3 130.2,282.1 130.7,283.9 131.0,281.8 131.2,282.4 131.7,281.9 132.2,282.2 132.6,281.6 132.7,281.9 133.2,282.0 133.7,282.0 134.2,282.4 134.7,283.1 134.8,282.3 135.2,281.4 135.7,281.9 136.0,282.1 136.2,282.6 136.7,282.2 137.2,281.7 137.7,281.5 138.2,282.5 138.7,282.4 139.2,284.0 139.7,284.6 140.2,284.2 140.7,285.8 141.2,287.4 141.7,286.0 142.2,287.0 142.6,288.0 142.7,287.2 143.2,289.0 143.7,289.8 144.2,288.3 144.7,288.5 145.2,289.2 145.7,290.3 145.9,288.4 146.2,288.4 146.7,288.1 147.2,287.0 147.7,290.0 148.2,289.2 148.7,289.1 149.2,290.1 149.7,289.9 150.2,290.3 150.3,289.0 150.7,289.8 151.2,290.4 151.7,290.4 152.2,290.4 152.7,291.0 153.2,291.2 153.7,291.2 154.2,292.1 154.7,291.7 155.2,294.0 155.7,291.9 156.2,291.7 156.7,290.6 157.2,290.7 157.7,291.1 158.2,290.3 158.7,290.0 159.2,288.5 159.7,289.0 160.2,289.0 160.7,287.9 161.2,287.7 161.7,290.2 162.2,288.4 162.5,288.0 162.7,287.6 163.2,287.5 163.7,287.3 164.2,287.2 164.7,286.3 165.2,286.2 165.7,286.0 166.0,286.0 166.2,286.0 166.7,286.3 167.2,285.0 167.7,284.2 168.2,283.5 168.7,283.9 169.2,283.0 169.7,285.7 170.2,282.7 170.7,281.3 171.2,281.5 171.7,281.7 172.2,280.3 172.7,279.7 173.2,279.4 173.7,278.6 174.0,278.1 174.2,278.5 174.7,277.9 175.2,277.8 175.7,277.1 176.2,276.8 176.7,277.1 176.9,276.1 177.2,276.8 177.7,276.8 178.0,277.8 178.2,277.7 178.7,278.1 179.2,278.6 179.7,278.4 180.2,278.9 180.7,280.7 181.2,282.3 181.6,280.7 181.7,281.2 182.2,281.4 182.7,282.2 183.2,281.9 183.5,282.0 183.7,281.5 184.2,282.1 184.7,281.6 185.2,283.0 185.7,282.1 186.0,283.5 186.2,282.8 186.7,284.0 187.2,283.1 187.7,282.2 188.2,282.5 188.7,281.7 189.2,281.9 189.7,282.2 190.2,281.9 190.7,282.6 191.2,282.3 191.6,283.4 191.7,282.1 192.2,282.1 192.7,283.3 193.2,282.9 193.7,283.2 194.2,282.4 194.7,282.3 195.2,283.9 195.7,282.6 196.0,282.7 196.2,282.8 196.7,283.7 197.0,284.4 197.2,285.1 197.7,285.9 198.2,287.0 198.7,286.4 199.2,286.6 199.7,287.7 200.2,286.7 200.4,287.3 200.7,287.2 201.2,287.8 201.7,288.5 202.2,288.6 202.7,289.1 203.2,286.4 203.7,287.0 203.8,287.5 204.2,284.6 204.7,283.2 205.2,280.4 205.7,277.5 206.0,276.6 206.2,276.9 206.7,278.1 207.2,278.3 207.7,279.8 208.2,280.9 208.7,282.3 209.2,282.7 209.7,283.5 210.2,284.9 210.4,284.9 210.7,284.3 211.2,284.9 211.7,285.4 212.2,285.1 212.6,285.6 212.7,285.9 213.2,286.3 213.7,286.9 214.2,288.0 214.7,289.2 214.8,289.1 215.2,287.7 215.7,289.8 216.0,288.8 216.2,288.6 216.7,287.2 217.2,287.7 217.7,287.9 218.1,288.2 218.2,287.3 218.7,288.0 219.0,289.5 219.2,287.7 219.7,287.5 220.2,288.1 220.7,288.3 221.2,288.3 221.5,288.5 221.7,288.9 222.2,288.7 222.7,288.9 223.2,288.9 223.7,288.7 224.2,289.1 224.7,289.1 225.2,289.5 225.7,289.1 225.9,289.6 226.2,290.1 226.7,290.3 227.2,291.1 227.7,290.5 228.2,292.9 228.7,291.5 229.2,292.4 229.7,292.3 230.2,292.0 230.3,292.1 230.7,291.8 231.2,292.7 231.7,292.5 232.2,291.6 232.7,292.1 233.2,293.1 233.7,292.8 234.2,292.8 234.7,293.3 235.2,293.6 235.7,294.2 236.0,294.7 236.2,294.2 236.7,294.8 237.2,295.0 237.7,294.5 238.0,294.2 238.2,294.3 238.7,294.9 239.0,294.4 239.2,295.3 239.7,295.2 240.2,294.8 240.7,295.2 241.2,296.1 241.4,295.2 241.7,296.4 242.2,295.7 242.7,295.3 243.2,296.1 243.7,296.1 244.2,296.3 244.7,295.5 245.0,295.9 245.2,296.0 245.7,295.5 246.2,296.1 246.7,296.1 247.2,295.7 247.7,295.5 248.2,296.0 248.7,296.0 249.2,295.4 249.7,295.2 250.2,296.6 250.7,296.5 251.2,297.0 251.7,296.7 252.2,295.9 252.4,295.3 252.7,296.4 253.2,295.6 253.7,295.2 254.2,294.7 254.6,296.3 254.7,294.0 255.2,295.1 255.7,296.1 255.8,294.7" fill="none" stroke="#7050c0" stroke-width="1.15" stroke-linejoin="round" stroke-opacity="1.0"/>
<polyline points="18.2,257.1 18.7,260.0 19.2,261.5 19.7,263.6 20.0,264.7 20.2,266.2 20.7,266.7 21.0,266.9 21.2,267.7 21.6,267.8 21.7,267.5 22.2,266.7 22.7,265.4 23.0,266.5 23.2,266.6 23.7,265.5 24.0,265.8 24.2,265.4 24.7,265.2 25.0,266.8 25.2,265.3 25.7,263.0 26.2,263.9 26.7,262.6 27.0,263.4 27.2,262.4 27.7,261.0 28.0,261.3 28.2,260.7 28.7,261.6 29.0,262.0 29.2,262.1 29.4,263.1 29.7,263.6 30.2,263.3 30.7,263.8 31.0,262.2 31.2,264.7 31.7,265.2 32.2,265.9 32.7,267.0 33.0,267.5 33.2,266.6 33.7,267.6 34.0,267.7 34.2,268.0 34.7,268.1 35.0,269.3 35.2,268.7 35.7,269.0 36.0,268.7 36.2,268.6 36.7,268.8 37.0,269.5 37.2,268.8 37.7,268.7 38.0,269.0 38.2,268.9 38.7,269.3 39.2,268.9 39.7,268.2 40.0,270.7 40.2,270.6 40.7,271.3 41.2,271.4 41.7,271.5 42.2,271.9 42.7,272.7 43.0,272.3 43.2,273.2 43.7,273.5 44.2,272.7 44.7,273.1 45.0,273.5 45.2,271.8 45.7,272.2 46.2,273.1 46.7,272.9 47.0,274.1 47.2,274.7 47.7,274.1 48.2,274.9 48.7,275.7 49.2,276.8 49.7,276.9 50.0,278.0 50.2,277.5 50.7,277.9 51.2,278.9 51.7,277.5 52.2,278.5 52.7,279.9 53.0,280.5 53.2,281.8 53.7,282.2 54.2,281.4 54.7,282.1 54.8,282.0 55.0,282.1 55.2,281.7 55.7,283.6 55.8,282.0 56.2,283.0 56.7,282.6 57.0,281.8 57.2,283.1 57.7,281.2 58.2,283.4 58.7,282.7 59.0,283.1 59.2,283.0 59.7,282.9 60.0,283.1 60.2,283.8 60.6,283.7 60.7,286.1 61.2,284.4 61.7,282.3 62.0,284.3 62.2,283.9 62.7,283.9 63.2,284.1 63.7,284.1 64.2,284.0 64.7,284.5 65.0,284.3 65.2,284.2 65.7,284.3 66.2,284.3 66.7,285.4 67.2,285.0 67.7,284.6 68.2,282.3 68.7,284.3 69.2,283.4 69.7,283.9 70.0,284.4 70.2,284.6 70.7,284.1 71.2,284.7 71.7,285.0 72.2,284.9 72.7,285.8 73.2,284.9 73.7,285.7 74.2,285.7 74.7,284.8 75.0,284.4 75.2,284.7 75.7,284.6 76.2,284.8 76.7,284.9 77.2,284.6 77.7,286.1 78.2,286.2 78.7,285.3 79.2,285.3 79.7,285.6 80.0,285.0 80.2,285.5 80.7,284.8 81.2,284.5 81.7,284.1 82.2,284.0 82.7,285.1 83.2,284.6 83.7,285.8 84.2,286.1 84.7,284.9 85.0,285.5 85.2,285.6 85.7,285.9 86.2,286.2 86.7,286.8 87.2,285.9 87.7,285.8 88.2,285.8 88.7,286.0 89.0,287.0 89.2,286.7 89.7,286.2 90.2,285.7 90.4,283.1 90.7,287.6 91.0,289.6 91.2,289.1 91.7,290.3 92.2,290.5 92.7,289.8 93.0,291.6 93.2,293.1 93.7,291.4 94.0,292.2 94.2,291.2 94.7,290.5 95.0,289.4 95.2,288.7 95.7,289.7 96.2,290.0 96.7,289.4 97.0,289.5 97.2,285.7 97.5,280.6 97.7,279.9 98.2,277.1 98.7,275.5 99.2,272.8 99.4,271.9 99.7,270.7 100.2,269.1 100.7,269.5 101.2,268.5 101.6,267.4 101.7,267.2 102.2,266.3 102.7,268.3 103.2,266.6 103.7,267.3 104.0,267.1 104.2,267.2 104.7,267.4 105.2,268.2 105.7,267.1 106.0,267.3 106.2,267.7 106.7,266.9 107.2,266.6 107.7,264.9 108.0,265.5 108.2,265.6 108.7,265.2 109.2,265.2 109.7,265.3 110.2,263.2 110.5,263.0 110.7,262.3 111.2,263.9 111.7,263.7 112.0,264.3 112.2,263.8 112.7,264.2 113.2,265.3 113.7,265.7 113.8,265.7 114.2,266.2 114.7,266.4 115.2,266.6 115.7,267.4 116.2,268.7 116.7,268.8 117.0,269.6 117.2,269.1 117.7,269.2 118.2,269.5 118.7,272.5 119.2,270.3 119.7,270.4 120.0,270.4 120.2,270.3 120.7,271.3 121.2,270.9 121.7,269.3 122.2,272.8 122.7,273.1 123.0,273.6 123.2,274.5 123.7,274.5 124.2,275.3 124.7,275.7 125.2,275.5 125.7,277.5 126.0,276.2 126.2,277.1 126.7,277.3 127.2,278.0 127.7,278.1 128.2,278.5 128.7,275.3 129.2,272.9 129.3,272.3 129.7,271.9 130.2,271.2 130.7,271.9 131.0,271.1 131.2,272.4 131.7,271.3 132.2,270.9 132.6,270.3 132.7,270.5 133.2,271.0 133.7,268.7 134.2,270.8 134.7,269.8 134.8,271.6 135.2,272.8 135.7,271.5 136.0,271.3 136.2,271.7 136.7,271.5 137.2,270.7 137.7,270.9 138.2,271.9 138.7,271.6 139.2,273.5 139.7,274.2 140.2,274.0 140.7,275.6 141.2,277.4 141.7,276.5 142.2,276.9 142.6,278.1 142.7,278.1 143.2,280.2 143.7,280.4 144.2,278.6 144.7,278.8 145.2,279.9 145.7,279.5 145.9,279.3 146.2,279.8 146.7,279.0 147.2,276.5 147.7,281.2 148.2,280.4 148.7,279.8 149.2,280.1 149.7,280.4 150.2,281.4 150.3,280.6 150.7,281.3 151.2,281.3 151.7,282.2 152.2,281.9 152.7,282.3 153.2,283.1 153.7,282.3 154.2,283.5 154.7,283.3 155.2,286.4 155.7,283.5 156.2,283.9 156.7,282.6 157.2,282.2 157.7,281.9 158.2,281.7 158.7,282.1 159.2,280.7 159.7,279.9 160.2,279.4 160.7,277.5 161.2,276.2 161.7,276.2 162.2,275.9 162.5,275.3 162.7,274.7 163.2,275.6 163.7,274.7 164.2,274.9 164.7,274.1 165.2,274.3 165.7,274.0 166.0,275.4 166.2,274.0 166.7,273.7 167.2,273.0 167.7,271.7 168.2,271.8 168.7,272.1 169.2,271.8 169.7,274.8 170.2,271.3 170.7,269.5 171.2,270.6 171.7,269.6 172.2,268.5 172.7,268.0 173.2,268.5 173.7,266.7 174.0,266.4 174.2,267.2 174.7,266.4 175.2,266.5 175.7,265.7 176.2,265.4 176.7,266.3 176.9,265.1 177.2,265.9 177.7,266.0 178.0,266.4 178.2,266.7 178.7,266.8 179.2,268.1 179.7,267.9 180.2,268.3 180.7,270.1 181.2,272.0 181.6,270.9 181.7,272.1 182.2,271.1 182.7,271.9 183.2,272.0 183.5,271.2 183.7,271.0 184.2,270.8 184.7,270.2 185.2,271.4 185.7,270.6 186.0,272.3 186.2,271.4 186.7,272.4 187.2,271.3 187.7,270.5 188.2,271.0 188.7,270.3 189.2,270.1 189.7,270.2 190.2,270.3 190.7,270.4 191.2,269.4 191.6,270.5 191.7,269.2 192.2,268.7 192.7,269.2 193.2,269.7 193.7,269.7 194.2,268.3 194.7,268.8 195.2,268.9 195.7,268.9 196.0,268.7 196.2,269.9 196.7,272.9 197.0,275.2 197.2,276.2 197.7,279.7 198.2,278.8 198.7,278.2 199.2,278.5 199.7,279.8 200.2,279.5 200.4,279.5 200.7,279.8 201.2,280.5 201.7,280.9 202.2,280.9 202.7,282.4 203.2,279.2 203.7,280.3 203.8,280.4 204.2,276.0 204.7,272.9 205.2,267.8 205.7,263.2 206.0,260.6 206.2,261.4 206.7,262.8 207.2,263.2 207.7,264.7 208.2,266.3 208.7,267.8 209.2,268.5 209.7,269.0 210.2,271.0 210.4,271.0 210.7,270.6 211.2,270.8 211.7,271.4 212.2,271.2 212.6,271.5 212.7,272.1 213.2,273.5 213.7,276.0 214.2,278.0 214.7,277.8 214.8,281.0 215.2,278.8 215.7,280.5 216.0,279.4 216.2,278.7 216.7,277.3 217.2,277.7 217.7,278.2 218.1,278.0 218.2,277.4 218.7,277.1 219.0,276.6 219.2,276.7 219.7,276.6 220.2,278.2 220.7,277.3 221.2,277.6 221.5,277.8 221.7,277.8 222.2,278.4 222.7,278.4 223.2,278.5 223.7,278.7 224.2,279.6 224.7,279.8 225.2,279.8 225.7,280.5 225.9,281.1 226.2,281.5 226.7,282.5 227.2,282.6 227.7,282.8 228.2,285.5 228.7,285.0 229.2,285.6 229.7,285.7 230.2,286.3 230.3,286.2 230.7,285.2 231.2,286.3 231.7,286.3 232.2,286.2 232.7,286.3 233.2,287.0 233.7,287.0 234.2,287.9 234.7,287.8 235.2,288.4 235.7,288.5 236.0,289.3 236.2,288.6 236.7,290.4 237.2,291.2 237.7,290.7 238.0,290.4 238.2,290.2 238.7,290.3 239.0,290.4 239.2,291.0 239.7,292.0 240.2,291.4 240.7,292.2 241.2,292.9 241.4,291.7 241.7,292.9 242.2,291.8 242.7,292.7 243.2,293.3 243.7,291.6 244.2,292.2 244.7,292.0 245.0,292.5 245.2,292.1 245.7,291.1 246.2,291.8 246.7,292.5 247.2,292.0 247.7,291.8 248.2,292.5 248.7,292.5 249.2,291.6 249.7,291.5 250.2,293.0 250.7,292.7 251.2,293.3 251.7,295.2 252.2,293.1 252.4,292.6 252.7,293.1 253.2,292.7 253.7,291.6 254.2,290.3 254.6,291.9 254.7,289.9 255.2,290.4 255.7,291.0 255.8,290.1" fill="none" stroke="#a8202e" stroke-width="1.15" stroke-linejoin="round" stroke-opacity="1.0"/>
<polyline points="18.2,243.7 18.7,246.0 19.2,248.6 19.7,251.7 20.0,253.5 20.2,254.4 20.7,256.2 21.0,257.9 21.2,257.5 21.6,256.8 21.7,256.9 22.2,255.6 22.7,252.5 23.0,253.0 23.2,252.8 23.7,250.7 24.0,250.2 24.2,249.4 24.7,249.5 25.0,248.5 25.2,249.2 25.7,245.7 26.2,247.0 26.7,244.9 27.0,245.9 27.2,245.9 27.7,244.7 28.0,245.8 28.2,244.8 28.7,245.3 29.0,244.9 29.2,245.5 29.4,246.7 29.7,247.4 30.2,247.2 30.7,248.5 31.0,247.1 31.2,249.7 31.7,250.8 32.2,250.9 32.7,252.2 33.0,253.3 33.2,251.8 33.7,251.2 34.0,251.4 34.2,250.4 34.7,252.0 35.0,251.1 35.2,251.0 35.7,251.4 36.0,250.6 36.2,251.2 36.7,251.6 37.0,252.7 37.2,251.6 37.7,252.6 38.0,253.2 38.2,253.1 38.7,254.4 39.2,256.7 39.7,255.4 40.0,257.9 40.2,259.7 40.7,258.5 41.2,258.2 41.7,257.3 42.2,257.9 42.7,258.9 43.0,257.1 43.2,258.0 43.7,258.6 44.2,256.5 44.7,256.3 45.0,254.3 45.2,255.1 45.7,255.9 46.2,256.6 46.7,257.4 47.0,259.5 47.2,259.0 47.7,259.2 48.2,260.1 48.7,260.6 49.2,261.3 49.7,261.6 50.0,262.5 50.2,262.0 50.7,261.8 51.2,262.3 51.7,260.3 52.2,262.0 52.7,262.6 53.0,262.9 53.2,264.0 53.7,264.4 54.2,264.0 54.7,264.7 54.8,264.0 55.0,264.3 55.2,264.1 55.7,266.5 55.8,264.3 56.2,265.8 56.7,266.2 57.0,264.7 57.2,266.4 57.7,265.5 58.2,267.8 58.7,267.0 58.8,271.4 59.0,271.4 59.0,268.1 59.2,268.3 59.7,267.7 60.0,268.4 60.2,269.9 60.6,270.6 60.7,272.2 61.2,270.8 61.2,277.2 61.5,277.2 61.7,269.3 62.0,272.0 62.2,271.3 62.7,271.5 63.2,272.4 63.7,271.6 63.8,276.8 64.0,276.8 64.2,271.4 64.7,271.6 65.0,271.8 65.2,271.5 65.7,272.2 66.2,272.5 66.2,278.3 66.5,278.3 66.7,272.9 67.2,272.9 67.7,272.0 68.2,270.6 68.2,275.8 68.5,275.8 68.7,272.3 69.2,271.2 69.7,272.5 70.0,272.9 70.2,272.6 70.7,272.2 70.8,275.5 71.0,275.5 71.2,272.4 71.7,273.0 72.2,273.1 72.7,273.7 73.2,273.1 73.2,279.0 73.5,279.0 73.7,273.9 74.2,273.3 74.7,272.5 75.0,272.0 75.0,277.1 75.2,273.3 75.3,277.1 75.7,273.1 76.2,272.9 76.7,273.5 76.8,279.1 77.0,279.1 77.2,273.7 77.7,274.5 78.2,274.2 78.7,273.6 79.2,273.6 79.2,277.8 79.5,277.8 79.7,273.4 80.0,274.1 80.2,273.2 80.7,272.8 81.2,273.0 81.2,279.6 81.5,279.6 81.7,274.7 82.2,273.1 82.7,273.6 83.2,273.0 83.2,277.6 83.5,277.6 83.7,273.8 84.2,273.0 84.7,272.4 85.0,273.4 85.2,273.8 85.7,274.1 85.8,277.2 86.0,277.2 86.2,274.2 86.7,274.4 87.2,274.1 87.2,280.5 87.5,280.5 87.7,273.9 88.2,273.8 88.7,273.7 88.8,276.8 89.0,276.8 89.0,274.9 89.2,274.9 89.7,272.8 90.2,274.0 90.4,271.9 90.7,277.5 91.0,281.6 91.2,281.0 91.7,282.1 92.2,282.6 92.7,281.9 93.0,283.7 93.2,285.4 93.7,284.0 94.0,284.6 94.2,284.1 94.7,283.6 95.0,281.6 95.2,282.2 95.7,282.8 96.2,281.9 96.7,281.8 97.0,281.8 97.2,277.4 97.5,271.0 97.7,270.1 98.2,266.6 98.7,264.8 99.2,260.7 99.4,260.0 99.7,258.7 100.2,256.1 100.7,254.7 101.2,253.7 101.6,251.4 101.6,255.1 101.7,251.0 101.9,255.1 102.2,250.3 102.7,253.6 103.2,251.9 103.7,253.5 103.8,256.9 104.0,256.9 104.0,253.2 104.2,254.9 104.7,255.3 105.2,255.8 105.7,255.8 106.0,256.1 106.2,255.6 106.7,254.6 106.8,256.7 107.0,256.7 107.2,253.3 107.7,250.1 108.0,250.9 108.2,251.0 108.7,249.6 109.2,249.8 109.7,247.6 110.2,246.3 110.2,251.7 110.5,251.7 110.5,246.0 110.7,245.2 111.2,246.5 111.7,246.4 112.0,246.9 112.0,252.1 112.2,246.7 112.3,252.1 112.7,246.6 113.2,248.0 113.7,248.3 113.8,248.3 114.2,249.0 114.2,253.8 114.5,253.8 114.7,248.0 115.2,248.4 115.7,249.7 116.2,247.4 116.2,252.1 116.5,252.1 116.7,250.8 117.0,250.4 117.2,251.4 117.7,250.7 118.2,252.6 118.7,254.0 119.2,253.3 119.7,254.4 119.8,260.3 120.0,260.3 120.0,254.6 120.2,254.5 120.7,255.8 121.2,255.6 121.7,254.4 122.2,258.3 122.7,258.7 122.8,261.4 123.0,261.4 123.0,259.2 123.2,259.5 123.7,260.6 124.2,260.6 124.7,258.9 125.2,259.9 125.2,263.0 125.5,263.0 125.7,262.2 126.0,260.5 126.2,260.5 126.7,260.7 127.2,261.5 127.7,261.0 128.2,260.2 128.7,257.4 129.2,256.3 129.3,255.9 129.7,255.5 130.2,254.8 130.7,255.8 131.0,254.9 131.2,255.5 131.7,254.1 132.2,253.7 132.6,252.6 132.7,253.8 133.2,253.2 133.7,253.2 134.2,253.7 134.7,251.7 134.8,252.4 135.2,251.6 135.7,252.5 136.0,253.0 136.2,253.8 136.7,253.8 137.2,253.3 137.7,253.9 138.2,254.3 138.7,254.6 139.2,257.0 139.7,259.0 140.2,258.4 140.7,260.1 141.2,262.7 141.7,262.2 142.2,263.6 142.6,264.7 142.7,264.9 143.2,267.0 143.7,267.5 144.2,264.8 144.7,265.7 145.2,266.0 145.7,265.7 145.9,266.0 146.2,265.9 146.7,265.2 147.2,264.0 147.7,268.1 148.2,265.8 148.7,265.3 149.2,265.7 149.7,266.3 150.2,267.6 150.3,265.8 150.7,267.3 151.2,268.4 151.7,268.7 152.2,268.7 152.7,269.1 153.2,269.1 153.7,268.9 154.2,270.5 154.7,269.4 155.2,272.7 155.7,269.8 156.2,269.4 156.7,268.5 157.2,268.4 157.7,269.1 158.2,267.8 158.7,268.9 159.2,267.7 159.7,266.2 160.2,265.9 160.7,264.3 161.2,263.3 161.7,264.4 162.2,262.8 162.5,263.0 162.7,261.9 163.2,263.3 163.7,262.3 164.2,263.2 164.7,261.6 165.2,261.8 165.7,262.2 166.0,262.2 166.2,262.3 166.7,263.3 167.2,262.6 167.7,261.8 168.2,259.1 168.7,261.0 169.2,261.2 169.7,263.8 170.2,260.8 170.7,258.9 171.2,260.1 171.7,259.7 172.2,257.6 172.7,257.0 173.2,257.8 173.7,256.3 174.0,255.9 174.2,257.9 174.7,255.1 175.2,255.9 175.7,255.0 176.2,254.6 176.7,255.9 176.9,254.2 177.2,255.6 177.7,255.5 178.0,256.1 178.2,255.6 178.7,256.5 179.2,260.1 179.7,255.3 180.2,257.8 180.7,259.2 181.2,261.5 181.6,260.5 181.7,261.4 182.2,260.9 182.7,261.4 183.2,261.7 183.5,261.8 183.7,260.8 184.2,260.7 184.7,261.1 185.2,262.7 185.7,262.1 186.0,264.1 186.2,262.7 186.7,263.9 187.2,262.1 187.7,261.6 188.2,261.5 188.7,260.2 189.2,260.6 189.7,260.7 190.2,260.5 190.7,261.1 191.2,259.6 191.6,260.8 191.7,259.5 192.2,259.3 192.7,259.3 193.2,259.8 193.7,259.1 194.2,259.1 194.7,259.9 195.2,259.3 195.7,259.7 196.0,259.5 196.2,260.9 196.7,265.4 197.0,269.4 197.2,270.2 197.7,275.6 198.2,275.8 198.7,275.3 199.2,275.3 199.7,275.9 200.2,276.1 200.4,276.0 200.7,275.9 201.2,276.2 201.7,276.0 202.2,276.9 202.7,277.6 203.2,274.2 203.7,273.2 203.8,275.7 204.2,270.5 204.7,265.6 205.2,262.2 205.7,252.9 206.0,250.6 206.2,250.3 206.7,251.3 207.2,251.3 207.7,254.4 208.2,256.3 208.7,257.6 209.2,259.1 209.7,260.8 210.2,263.0 210.4,264.1 210.7,263.3 211.2,263.3 211.7,263.9 212.2,263.5 212.6,263.7 212.7,264.9 213.2,267.0 213.7,270.1 214.2,273.8 214.7,276.4 214.8,276.8 215.2,274.9 215.7,277.1 216.0,275.0 216.2,274.3 216.7,271.3 217.2,272.0 217.7,272.2 218.1,271.7 218.2,271.2 218.7,271.3 219.0,270.5 219.2,269.9 219.7,270.0 220.2,270.7 220.7,271.4 221.2,271.0 221.5,271.7 221.7,271.8 222.2,271.6 222.7,272.1 223.2,272.1 223.7,271.9 224.2,273.2 224.7,274.2 225.2,274.3 225.7,274.1 225.9,275.2 226.2,275.9 226.7,276.3 227.2,276.7 227.7,276.8 228.2,279.5 228.7,277.9 229.2,280.0 229.7,279.5 230.2,279.8 230.3,280.3 230.7,280.5 231.2,280.9 231.7,281.2 232.2,280.9 232.7,281.7 233.2,283.4 233.7,281.9 234.2,282.0 234.7,282.2 235.2,283.5 235.7,283.5 236.0,282.8 236.2,282.8 236.7,284.0 237.2,283.8 237.7,283.1 238.0,284.9 238.2,283.2 238.7,283.9 239.0,284.1 239.2,284.4 239.7,284.7 240.2,284.5 240.7,285.2 241.2,285.7 241.4,284.8 241.7,286.3 242.2,285.7 242.7,285.8 243.2,286.8 243.7,283.1 244.2,286.1 244.7,285.8 245.0,286.0 245.2,285.8 245.7,285.4 246.2,286.0 246.7,286.3 247.2,286.2 247.7,285.6 248.2,286.6 248.7,285.7 249.2,285.4 249.7,284.1 250.2,285.6 250.7,286.6 251.2,286.7 251.7,286.6 252.2,285.9 252.4,286.0 252.7,286.7 253.2,285.2 253.7,284.1 254.2,282.9 254.6,283.2 254.7,282.6 255.2,284.5 255.7,285.2 255.8,283.7" fill="none" stroke="#a0a030" stroke-width="1.15" stroke-linejoin="round" stroke-opacity="1.0"/>
<rect x="56" y="322" width="163" height="26.5" fill="none" stroke="#f4f4f4" stroke-width="0.8"/>
<line x1="60.2" y1="327.3" x2="77.2" y2="327.3" stroke="#4a72c8" stroke-width="1.0" stroke-opacity="1.0"/>
<text x="79.6" y="329.5" text-anchor="start" font-size="6.4" fill="#1e1e1e">UK 10 YR</text>
<line x1="112.4" y1="327.3" x2="128.8" y2="327.3" stroke="#ee8030" stroke-width="1.0" stroke-opacity="1.0"/>
<text x="131.3" y="329.5" text-anchor="start" font-size="6.4" fill="#1e1e1e">UK 1 YR</text>
<line x1="165" y1="327.3" x2="182" y2="327.3" stroke="#3fa45a" stroke-width="1.0" stroke-opacity="1.0"/>
<text x="184.5" y="329.5" text-anchor="start" font-size="6.4" fill="#1e1e1e">UK 20 YR</text>
<line x1="60.2" y1="335.3" x2="77.2" y2="335.3" stroke="#e0283a" stroke-width="1.0" stroke-opacity="1.0"/>
<text x="79.6" y="337.5" text-anchor="start" font-size="6.4" fill="#1e1e1e">UK 2 YR</text>
<line x1="112.4" y1="335.3" x2="128.8" y2="335.3" stroke="#404040" stroke-width="1.0" stroke-opacity="1.0"/>
<text x="131.3" y="337.5" text-anchor="start" font-size="6.4" fill="#1e1e1e">UK 30 YR</text>
<line x1="165" y1="335.3" x2="182" y2="335.3" stroke="#7050c0" stroke-width="1.0" stroke-opacity="1.0"/>
<text x="184.5" y="337.5" text-anchor="start" font-size="6.4" fill="#1e1e1e">UK 3 YR</text>
<line x1="60.2" y1="343.4" x2="77.2" y2="343.4" stroke="#a8202e" stroke-width="1.0" stroke-opacity="1.0"/>
<text x="79.6" y="345.6" text-anchor="start" font-size="6.4" fill="#1e1e1e">UK 5 YR</text>
<line x1="112.4" y1="343.4" x2="128.8" y2="343.4" stroke="#a0a030" stroke-width="1.0" stroke-opacity="1.0"/>
<text x="131.3" y="345.6" text-anchor="start" font-size="6.4" fill="#1e1e1e">UK 7 YR</text>
<line x1="291" y1="304.5" x2="535" y2="304.5" stroke="#f4f4f4" stroke-width="0.8"/>
<line x1="291" y1="281.1" x2="535" y2="281.1" stroke="#f4f4f4" stroke-width="0.8"/>
<line x1="291" y1="257.7" x2="535" y2="257.7" stroke="#f4f4f4" stroke-width="0.8"/>
<line x1="291" y1="234.3" x2="535" y2="234.3" stroke="#f4f4f4" stroke-width="0.8"/>
<line x1="291" y1="210.9" x2="535" y2="210.9" stroke="#f4f4f4" stroke-width="0.8"/>
<line x1="291" y1="187.5" x2="535" y2="187.5" stroke="#f4f4f4" stroke-width="0.8"/>
<line x1="325.0" y1="187.5" x2="325.0" y2="304.5" stroke="#f4f4f4" stroke-width="0.8"/>
<line x1="349.5" y1="187.5" x2="349.5" y2="304.5" stroke="#f4f4f4" stroke-width="0.8"/>
<line x1="374.1" y1="187.5" x2="374.1" y2="304.5" stroke="#f4f4f4" stroke-width="0.8"/>
<line x1="398.6" y1="187.5" x2="398.6" y2="304.5" stroke="#f4f4f4" stroke-width="0.8"/>
<line x1="423.1" y1="187.5" x2="423.1" y2="304.5" stroke="#f4f4f4" stroke-width="0.8"/>
<line x1="447.9" y1="187.5" x2="447.9" y2="304.5" stroke="#f4f4f4" stroke-width="0.8"/>
<line x1="472.0" y1="187.5" x2="472.0" y2="304.5" stroke="#f4f4f4" stroke-width="0.8"/>
<line x1="496.0" y1="187.5" x2="496.0" y2="304.5" stroke="#f4f4f4" stroke-width="0.8"/>
<line x1="519.8" y1="187.5" x2="519.8" y2="304.5" stroke="#f4f4f4" stroke-width="0.8"/>
<line x1="300.5" y1="187.5" x2="300.5" y2="304.5" stroke="#f4f4f4" stroke-width="0.8"/>
<line x1="535.0" y1="187.5" x2="535.0" y2="304.5" stroke="#f4f4f4" stroke-width="0.8"/>
<text x="288.3" y="306.7" text-anchor="end" font-size="6.6" fill="#1e1e1e">0</text>
<text x="288.3" y="283.3" text-anchor="end" font-size="6.6" fill="#1e1e1e">20</text>
<text x="288.3" y="259.9" text-anchor="end" font-size="6.6" fill="#1e1e1e">40</text>
<text x="288.3" y="236.5" text-anchor="end" font-size="6.6" fill="#1e1e1e">60</text>
<text x="288.3" y="213.1" text-anchor="end" font-size="6.6" fill="#1e1e1e">80</text>
<text x="288.3" y="189.7" text-anchor="end" font-size="6.6" fill="#1e1e1e">100</text>
<text x="290.8" y="313.5" text-anchor="middle" font-size="6.6" fill="#1e1e1e">2012</text>
<text x="312.9" y="313.5" text-anchor="middle" font-size="6.6" fill="#1e1e1e">2013</text>
<text x="337.1" y="313.5" text-anchor="middle" font-size="6.6" fill="#1e1e1e">2014</text>
<text x="361.8" y="313.5" text-anchor="middle" font-size="6.6" fill="#1e1e1e">2015</text>
<text x="386.4" y="313.5" text-anchor="middle" font-size="6.6" fill="#1e1e1e">2016</text>
<text x="410.9" y="313.5" text-anchor="middle" font-size="6.6" fill="#1e1e1e">2017</text>
<text x="435.4" y="313.5" text-anchor="middle" font-size="6.6" fill="#1e1e1e">2018</text>
<text x="460.4" y="313.5" text-anchor="middle" font-size="6.6" fill="#1e1e1e">2019</text>
<text x="483.7" y="313.5" text-anchor="middle" font-size="6.6" fill="#1e1e1e">2020</text>
<text x="508.3" y="313.5" text-anchor="middle" font-size="6.6" fill="#1e1e1e">2021</text>
<text x="531.3" y="313.5" text-anchor="middle" font-size="6.6" fill="#1e1e1e">2022</text>
<polyline points="291.6,227.7 292.0,227.2 292.1,227.1 292.6,225.9 293.1,224.6 293.6,224.8 294.0,225.0 294.1,224.6 294.6,226.2 295.0,226.3 295.1,226.6 295.6,226.5 296.1,227.3 296.5,226.7 296.6,227.3 297.1,229.3 297.6,226.9 298.0,230.4 298.1,231.4 298.6,228.9 299.0,229.1 299.1,229.4 299.6,225.4 300.1,227.3 300.6,227.0 301.1,225.1 301.2,225.0 301.6,225.5 302.1,226.3 302.6,227.8 303.0,228.8 303.1,229.1 303.6,228.0 304.1,227.9 304.6,227.9 305.0,229.8 305.1,230.3 305.6,230.7 305.8,230.4 306.1,229.9 306.6,229.4 307.1,229.2 307.6,229.3 308.0,229.2 308.1,227.4 308.6,228.5 309.1,227.0 309.6,227.9 310.1,226.6 310.6,226.7 311.1,224.8 311.5,223.3 311.6,225.0 312.1,226.6 312.6,228.1 313.0,228.2 313.1,228.1 313.6,229.0 314.1,229.8 314.6,230.3 315.0,232.2 315.1,232.8 315.6,231.3 316.1,231.5 316.6,228.9 317.0,231.4 317.1,232.5 317.6,232.4 318.1,233.0 318.6,231.4 319.1,231.1 319.6,228.0 320.0,232.4 320.1,236.0 320.6,236.1 321.1,237.2 321.6,233.6 322.0,236.7 322.1,239.3 322.6,240.4 323.1,242.1 323.6,246.5 324.1,244.4 324.2,240.6 324.6,244.1 325.1,243.3 325.6,240.6 326.1,242.5 326.5,237.8 326.6,236.8 327.1,235.7 327.6,237.4 328.1,237.6 328.6,237.0 329.1,238.3 329.6,238.8 330.1,240.4 330.6,239.8 331.0,240.6 331.1,241.4 331.6,241.6 332.1,246.0 332.6,242.6 333.1,244.8 333.6,244.3 334.1,244.5 334.6,245.2 335.0,246.4 335.1,246.3 335.6,245.0 336.0,247.1 336.1,242.8 336.6,240.7 337.1,240.1 337.6,238.3 338.0,237.5 338.1,238.4 338.6,240.2 339.1,239.4 339.6,243.9 340.1,244.9 340.4,245.0 340.6,246.3 341.0,245.8 341.1,245.5 341.6,244.4 342.1,243.2 342.6,242.9 343.0,242.3 343.1,242.7 343.6,241.2 344.1,240.5 344.6,240.5 345.0,240.5 345.1,242.4 345.6,234.8 346.1,230.7 346.6,226.4 347.0,224.7 347.1,223.0 347.6,220.6 348.1,216.6 348.5,212.2 348.6,212.5 349.1,215.9 349.6,218.9 350.1,221.8 350.6,221.6 350.8,222.8 351.1,228.2 351.6,234.2 352.0,234.4 352.1,234.7 352.6,237.9 353.1,239.5 353.6,244.3 354.1,249.4 354.2,251.3 354.6,248.6 355.1,249.6 355.6,249.0 356.0,250.2 356.1,251.5 356.6,248.7 357.1,246.6 357.6,245.8 358.1,245.9 358.6,244.4 358.8,244.0 359.1,241.7 359.6,242.6 360.1,244.5 360.6,245.2 361.0,249.9 361.1,245.9 361.6,246.5 362.1,250.1 362.6,247.0 363.0,247.4 363.1,246.8 363.5,248.8 363.6,247.9 364.1,249.8 364.6,244.2 365.1,247.8 365.6,243.1 366.1,245.8 366.6,245.4 367.0,246.2 367.1,247.1 367.6,244.8 368.1,243.7 368.6,242.5 369.1,239.7 369.6,239.5 370.0,236.3 370.1,237.9 370.4,236.0 370.6,237.2 371.1,238.0 371.6,239.0 372.0,238.6 372.1,238.1 372.6,237.5 373.1,236.6 373.6,235.8 374.1,236.1 374.6,234.7 375.1,236.0 375.6,235.5 375.8,236.3 376.1,236.5 376.6,240.7 377.1,238.1 377.6,240.2 378.0,240.4 378.1,238.4 378.6,239.9 379.1,244.2 379.6,243.3 380.1,244.9 380.4,246.2 380.6,246.2 381.1,247.1 381.6,247.5 382.1,247.1 382.6,249.0 383.0,246.0 383.1,246.6 383.6,245.0 384.1,248.7 384.6,248.7 385.1,247.2 385.6,248.9 386.1,248.5 386.2,248.9 386.6,251.3 387.1,254.0 387.6,255.4 388.1,254.9 388.5,256.6 388.6,257.7 389.1,257.6 389.6,256.0 390.1,257.3 390.6,258.9 391.1,259.3 391.6,259.3 392.0,261.5 392.1,260.5 392.6,262.5 393.1,264.0 393.6,263.7 394.1,264.7 394.6,267.1 395.1,262.9 395.4,265.7 395.6,265.0 396.1,267.4 396.6,266.1 397.1,265.6 397.6,266.4 398.1,265.9 398.6,266.8 399.1,266.4 399.6,269.8 400.0,266.6 400.1,262.7 400.6,267.4 401.1,265.5 401.6,266.3 402.1,270.6 402.6,268.8 403.1,269.0 403.6,266.0 404.1,270.0 404.6,268.2 405.1,255.8 405.6,246.2 405.8,241.7 406.1,245.9 406.6,244.2 407.0,244.1 407.1,248.3 407.6,244.9 408.1,248.7 408.6,249.8 409.1,248.1 409.2,250.5 409.6,248.2 410.1,249.4 410.6,249.7 411.1,250.2 411.6,250.0 412.1,250.3 412.6,251.2 413.0,254.3 413.1,248.7 413.6,253.1 414.1,250.6 414.6,250.9 415.1,251.2 415.6,250.4 416.1,249.8 416.2,250.2 416.6,251.0 417.1,246.7 417.6,246.2 418.1,244.9 418.6,243.0 419.1,242.2 419.6,240.1 420.1,238.0 420.6,236.3 421.1,236.0 421.6,235.1 422.0,233.8 422.1,232.3 422.6,229.3 423.1,229.7 423.6,228.0 424.1,225.8 424.2,226.5 424.6,226.6 425.1,224.8 425.6,227.5 426.0,229.0 426.1,228.8 426.6,230.1 427.1,231.6 427.6,232.7 427.7,231.8 428.1,235.9 428.6,236.3 429.1,241.0 429.6,242.0 430.0,245.2 430.1,245.8 430.6,248.8 431.1,250.5 431.6,255.0 432.1,255.0 432.3,258.1 432.6,257.0 433.1,261.4 433.6,254.5 434.0,252.2 434.1,251.9 434.6,251.2 435.1,251.8 435.6,250.5 436.1,250.1 436.6,247.6 436.9,247.0 437.1,248.5 437.6,248.8 438.1,250.5 438.5,250.0 438.6,253.3 439.0,251.6 439.1,252.6 439.6,252.9 440.1,251.7 440.4,251.8 440.6,251.0 441.1,250.6 441.6,252.5 442.0,249.4 442.1,250.4 442.6,248.6 443.1,247.5 443.6,246.7 443.9,246.3 444.1,244.7 444.6,244.9 445.1,245.2 445.6,246.4 446.0,242.5 446.1,247.0 446.6,248.6 447.1,246.0 447.6,246.2 448.1,246.1 448.5,248.1 448.6,248.9 449.1,250.7 449.6,252.6 450.0,253.9 450.1,257.1 450.6,260.1 451.1,260.0 451.6,263.6 451.9,263.6 452.1,261.8 452.6,261.9 453.1,258.6 453.6,261.6 454.1,265.6 454.6,261.3 455.0,261.7 455.1,261.5 455.4,261.1 455.6,261.4 456.1,259.3 456.6,261.4 457.0,262.2 457.1,261.7 457.6,261.9 458.1,261.7 458.6,263.0 459.1,262.8 459.6,262.3 460.0,262.1 460.1,262.3 460.6,262.4 461.1,262.4 461.6,261.3 462.0,261.8 462.1,261.7 462.6,260.8 463.1,261.9 463.6,260.0 464.1,260.9 464.2,261.4 464.6,257.5 465.1,258.3 465.6,257.6 466.1,258.5 466.5,259.4 466.6,258.0 467.1,257.0 467.6,258.1 468.1,257.8 468.6,257.8 469.0,256.3 469.1,257.3 469.6,256.9 470.1,256.9 470.6,253.5 471.1,256.1 471.6,254.8 472.0,255.7 472.1,257.2 472.6,256.6 473.1,256.1 473.6,255.4 474.0,256.8 474.1,256.2 474.6,256.0 475.1,256.0 475.6,257.9 476.0,257.7 476.1,256.4 476.6,256.5 477.1,256.6 477.6,257.0 478.0,256.8 478.1,260.3 478.6,259.6 479.1,261.0 479.6,259.4 480.1,264.0 480.4,258.9 480.6,260.7 481.1,256.6 481.6,255.2 482.1,252.6 482.5,249.0 482.6,248.0 483.1,240.6 483.6,232.8 483.8,228.9 484.1,232.3 484.4,237.1 484.6,240.5 485.0,244.7 485.1,242.7 485.6,242.6 486.1,243.1 486.6,244.0 487.1,244.3 487.6,244.5 488.1,244.8 488.5,245.0 488.6,248.4 489.1,261.9 489.2,263.6 489.6,265.9 490.1,266.4 490.6,267.2 490.8,267.2 491.1,266.9 491.6,266.7 492.1,267.2 492.6,266.9 493.1,268.5 493.6,267.1 494.1,267.2 494.2,267.4 494.6,266.9 495.1,268.7 495.6,268.5 496.1,269.4 496.6,269.1 497.1,269.5 497.6,269.2 498.1,268.9 498.6,269.7 499.1,269.8 499.6,269.1 500.1,269.9 500.6,270.2 501.1,268.9 501.2,268.2 501.6,269.7 502.1,270.1 502.6,269.5 503.1,269.4 503.6,269.5 504.1,269.9 504.6,268.8 505.1,269.2 505.6,269.3 506.1,268.8 506.6,269.2 507.1,269.3 507.6,268.9 508.1,268.6 508.6,268.8 509.1,268.8 509.6,268.1 510.0,266.8 510.1,267.4 510.6,268.4 511.1,269.4 511.6,267.8 512.1,267.8 512.6,268.6 513.1,268.2 513.6,268.2 514.1,267.8 514.6,268.1 515.1,268.5 515.6,268.2 516.1,267.9 516.6,268.0 517.1,267.7 517.3,267.6 517.6,267.2 518.1,266.7 518.6,265.9 519.1,264.9 519.6,264.2 520.1,265.1 520.6,263.9 521.1,264.1 521.6,263.7 522.0,263.8 522.1,264.2 522.6,264.3 523.1,264.1 523.6,264.4 524.1,264.8 524.6,264.4 525.1,265.0 525.6,263.9 526.1,265.3 526.6,264.0 527.1,265.1 527.6,264.8 528.1,265.0 528.6,265.7 528.8,265.1 529.1,265.4 529.6,264.3 530.1,264.4 530.6,265.0 531.1,264.8 531.2,265.1 531.6,261.5 532.1,256.9 532.6,252.9 533.1,247.7 533.5,244.8 533.6,246.4 534.1,250.7 534.6,254.7" fill="none" stroke="#4a72c8" stroke-width="1.15" stroke-linejoin="round" stroke-opacity="1.0"/>
<polyline points="291.6,294.7 292.0,295.0 292.1,294.3 292.6,294.8 293.1,294.8 293.6,294.3 294.0,295.2 294.1,295.8 294.6,296.2 295.0,296.2 295.1,296.3 295.6,294.3 296.1,295.4 296.5,294.6 296.6,294.8 297.1,294.8 297.6,293.5 298.0,294.8 298.1,295.8 298.6,294.7 299.0,295.0 299.1,295.7 299.6,295.2 300.1,295.1 300.6,294.7 301.1,294.7 301.2,294.7 301.6,294.9 302.1,295.1 302.6,295.8 303.0,296.6 303.1,296.5 303.6,295.8 304.1,296.0 304.6,295.6 305.0,296.0 305.1,296.4 305.6,296.1 305.8,296.0 306.1,295.5 306.6,294.5 307.1,294.8 307.6,295.2 308.0,294.6 308.1,293.8 308.6,294.5 309.1,294.5 309.6,294.2 310.1,293.8 310.6,293.4 311.1,292.5 311.5,291.9 311.6,293.9 312.1,293.0 312.6,293.7 313.0,292.5 313.1,294.0 313.6,293.9 314.1,294.2 314.6,295.0 315.0,295.5 315.1,295.0 315.6,295.1 316.1,295.0 316.6,295.3 317.0,295.6 317.1,295.4 317.6,295.6 318.1,296.4 318.6,296.1 319.1,295.3 319.6,294.3 320.0,295.5 320.1,298.2 320.6,297.6 321.1,297.4 321.6,295.3 322.0,296.0 322.1,296.9 322.6,297.2 323.1,297.7 323.6,299.0 324.1,296.7 324.2,295.8 324.6,297.8 325.1,298.1 325.6,296.8 326.1,298.8 326.5,296.4 326.6,296.5 327.1,296.0 327.6,297.0 328.1,296.3 328.6,296.0 329.1,297.1 329.6,296.8 330.1,297.2 330.6,296.4 331.0,296.3 331.1,296.9 331.6,297.1 332.1,297.7 332.6,296.1 333.1,297.7 333.6,297.0 334.1,297.6 334.6,297.3 335.0,297.5 335.1,297.0 335.6,297.2 336.0,299.2 336.1,297.1 336.6,296.5 337.1,296.4 337.6,296.4 338.0,296.9 338.1,296.6 338.6,297.2 339.1,295.3 339.6,297.0 340.1,297.2 340.4,296.6 340.6,297.7 341.0,297.1 341.1,297.0 341.6,296.7 342.1,296.3 342.6,296.6 343.0,296.0 343.1,296.8 343.6,296.4 344.1,296.2 344.6,296.9 345.0,296.9 345.1,298.0 345.6,295.7 346.1,295.3 346.6,294.7 347.0,294.6 347.1,294.6 347.6,295.9 348.1,295.3 348.5,293.7 348.6,293.7 349.1,294.6 349.6,294.7 350.1,294.7 350.6,294.9 350.8,294.3 351.1,295.7 351.6,297.3 352.0,296.6 352.1,296.9 352.6,296.9 353.1,296.2 353.6,296.7 354.1,297.5 354.2,298.6 354.6,296.8 355.1,298.0 355.6,296.9 356.0,298.7 356.1,299.7 356.6,297.8 357.1,297.2 357.6,297.5 358.1,298.0 358.6,297.0 358.8,297.9 359.1,296.5 359.6,296.9 360.1,297.4 360.6,297.6 361.0,298.1 361.1,298.1 361.6,297.7 362.1,299.7 362.6,297.6 363.0,297.3 363.1,297.3 363.5,297.6 363.6,297.2 364.1,296.9 364.6,295.3 365.1,298.2 365.6,297.4 366.1,297.8 366.6,296.9 367.0,297.7 367.1,298.4 367.6,298.0 368.1,298.4 368.6,299.0 369.1,298.4 369.6,298.9 370.0,297.7 370.1,298.0 370.4,297.3 370.6,297.1 371.1,297.5 371.6,296.4 372.0,298.5 372.1,297.9 372.6,297.4 373.1,297.3 373.6,297.4 374.1,297.4 374.6,297.0 375.1,297.8 375.6,297.5 375.8,298.0 376.1,298.1 376.6,299.1 377.1,296.8 377.6,297.4 378.0,297.3 378.1,296.5 378.6,296.9 379.1,298.3 379.6,297.6 380.1,298.3 380.4,297.8 380.6,298.3 381.1,297.9 381.6,298.2 382.1,298.2 382.6,298.7 383.0,298.4 383.1,298.3 383.6,298.3 384.1,298.8 384.6,298.4 385.1,298.0 385.6,298.3 386.1,298.2 386.2,298.4 386.6,298.9 387.1,299.9 387.6,299.8 388.1,299.2 388.5,299.1 388.6,299.8 389.1,299.7 389.6,299.4 390.1,299.8 390.6,302.0 391.1,300.0 391.6,300.2 392.0,300.4 392.1,300.0 392.6,300.6 393.1,300.8 393.6,300.7 394.1,301.1 394.6,302.0 395.1,301.3 395.4,301.4 395.6,300.5 396.1,301.9 396.6,301.1 397.1,300.9 397.6,300.9 398.1,300.2 398.6,300.9 399.1,301.2 399.6,303.1 400.0,301.1 400.1,299.6 400.6,301.2 401.1,299.1 401.6,300.9 402.1,301.4 402.6,301.5 403.1,301.5 403.6,299.9 404.1,301.0 404.6,301.1 405.1,300.1 405.6,299.3 405.8,299.5 406.1,301.0 406.6,299.1 407.0,299.0 407.1,300.2 407.6,299.9 408.1,299.8 408.6,300.4 409.1,299.0 409.2,300.0 409.6,299.4 410.1,299.6 410.6,299.5 411.1,299.9 411.6,299.1 412.1,299.2 412.6,301.5 413.0,301.3 413.1,298.6 413.6,300.6 414.1,299.2 414.6,299.5 415.1,299.7 415.6,299.7 416.1,299.1 416.2,299.5 416.6,299.8 417.1,298.3 417.6,298.7 418.1,298.6 418.6,298.4 419.1,298.9 419.6,298.4 420.1,298.4 420.6,298.4 421.1,298.2 421.6,298.0 422.0,298.1 422.1,296.7 422.6,295.6 423.1,297.1 423.6,296.6 424.1,296.3 424.2,296.3 424.6,296.3 425.1,295.0 425.6,296.5 426.0,297.0 426.1,297.0 426.6,297.1 427.1,297.0 427.6,298.0 427.7,296.6 428.1,297.7 428.6,297.2 429.1,298.1 429.6,297.9 430.0,298.3 430.1,298.5 430.6,299.0 431.1,298.8 431.6,299.3 432.1,299.2 432.3,300.0 432.6,299.5 433.1,300.7 433.6,298.6 434.0,298.9 434.1,298.6 434.6,298.9 435.1,298.8 435.6,298.7 436.1,299.0 436.6,298.8 436.9,300.3 437.1,299.2 437.6,298.7 438.1,299.0 438.5,298.8 438.6,300.1 439.0,299.1 439.1,299.8 439.6,299.5 440.1,298.5 440.4,298.9 440.6,299.0 441.1,299.2 441.6,300.3 442.0,299.2 442.1,300.1 442.6,299.5 443.1,299.7 443.6,300.0 443.9,299.7 444.1,299.5 444.6,299.3 445.1,298.9 445.6,299.8 446.0,300.4 446.1,300.0 446.6,300.9 447.1,299.7 447.6,299.2 448.1,299.2 448.5,299.7 448.6,299.7 449.1,299.4 449.6,299.1 450.0,299.0 450.1,300.3 450.6,301.0 451.1,300.1 451.6,300.8 451.9,300.6 452.1,300.1 452.6,300.5 453.1,299.9 453.6,299.7 454.1,301.5 454.6,299.2 455.0,299.3 455.1,299.7 455.4,299.4 455.6,299.8 456.1,299.0 456.6,299.7 457.0,300.0 457.1,298.8 457.6,298.9 458.1,299.5 458.6,299.4 459.1,299.5 459.6,298.9 460.0,298.8 460.1,299.2 460.6,299.2 461.1,299.4 461.6,298.8 462.0,299.2 462.1,299.5 462.6,299.2 463.1,299.5 463.6,298.8 464.1,299.6 464.2,299.4 464.6,298.1 465.1,298.8 465.6,298.7 466.1,299.1 466.5,298.5 466.6,299.0 467.1,298.3 467.6,299.0 468.1,298.6 468.6,298.8 469.0,298.5 469.1,298.5 469.6,298.0 470.1,298.2 470.6,297.4 471.1,298.2 471.6,297.5 472.0,297.0 472.1,298.2 472.6,297.8 473.1,298.0 473.6,297.6 474.0,297.9 474.1,296.8 474.6,297.3 475.1,297.5 475.6,298.8 476.0,297.8 476.1,297.9 476.6,297.6 477.1,297.1 477.6,297.5 478.0,297.5 478.1,299.5 478.6,298.7 479.1,298.4 479.6,298.6 480.1,300.7 480.4,299.3 480.6,299.9 481.1,299.0 481.6,299.4 482.1,299.1 482.5,298.4 482.6,298.2 483.1,296.5 483.6,295.8 483.8,294.3 484.1,293.7 484.4,294.3 484.6,295.3 485.0,296.4 485.1,295.5 485.6,295.1 486.1,296.5 486.6,297.2 487.1,297.0 487.6,298.4 488.1,297.0 488.5,297.1 488.6,297.5 489.1,298.9 489.2,298.8 489.6,299.7 490.1,299.9 490.6,299.9 490.8,299.8 491.1,299.7 491.6,299.8 492.1,299.7 492.6,299.2 493.1,300.2 493.6,299.3 494.1,299.5 494.2,299.5 494.6,299.2 495.1,300.1 495.6,300.6 496.1,300.2 496.6,300.1 497.1,300.2 497.6,300.0 498.1,300.4 498.6,300.1 499.1,300.1 499.6,300.3 500.1,300.2 500.6,300.4 501.1,300.3 501.2,299.7 501.6,300.1 502.1,300.1 502.6,300.0 503.1,300.1 503.6,300.1 504.1,300.3 504.6,299.7 505.1,299.9 505.6,300.2 506.1,299.7 506.6,300.1 507.1,299.9 507.6,299.9 508.1,299.7 508.6,299.8 509.1,299.7 509.6,299.5 510.0,299.0 510.1,299.7 510.6,299.8 511.1,300.4 511.6,299.7 512.1,299.8 512.6,299.9 513.1,299.6 513.6,299.5 514.1,299.4 514.6,299.6 515.1,299.8 515.6,299.7 516.1,299.8 516.6,299.7 517.1,299.5 517.3,299.7 517.6,299.5 518.1,299.5 518.6,299.1 519.1,298.9 519.6,298.5 520.1,299.3 520.6,298.6 521.1,298.9 521.6,298.7 522.0,298.8 522.1,299.7 522.6,299.1 523.1,298.9 523.6,299.2 524.1,299.4 524.6,299.2 525.1,299.5 525.6,298.8 526.1,299.5 526.6,299.5 527.1,299.7 527.6,299.6 528.1,299.7 528.6,299.5 528.8,299.8 529.1,300.0 529.6,299.4 530.1,299.5 530.6,299.6 531.1,299.8 531.2,299.9 531.6,299.6 532.1,298.9 532.6,298.2 533.1,297.4 533.5,296.4 533.6,297.3 534.1,297.8 534.6,298.4" fill="none" stroke="#ee8030" stroke-width="1.15" stroke-linejoin="round" stroke-opacity="1.0"/>
<polyline points="291.6,228.2 292.0,226.5 292.1,224.8 292.6,224.9 293.1,224.1 293.6,221.8 294.0,222.0 294.1,221.9 294.6,221.6 295.0,221.0 295.1,221.3 295.6,222.1 296.1,221.9 296.5,221.9 296.6,223.0 297.1,224.7 297.6,221.7 298.0,225.3 298.1,226.6 298.6,220.0 299.0,221.5 299.1,222.8 299.6,219.1 300.1,218.6 300.6,217.3 301.1,215.6 301.2,215.9 301.6,216.3 302.1,218.8 302.6,221.3 303.0,223.2 303.1,222.6 303.6,223.3 304.1,223.6 304.6,223.1 305.0,225.2 305.1,224.1 305.6,227.2 305.8,227.1 306.1,225.7 306.6,224.0 307.1,222.9 307.6,223.2 308.0,222.0 308.1,220.4 308.6,219.9 309.1,218.5 309.6,218.5 310.1,216.6 310.6,215.3 311.1,211.7 311.5,209.3 311.6,212.3 312.1,216.6 312.6,220.6 313.0,223.1 313.1,224.0 313.6,225.9 314.1,227.4 314.6,228.2 315.0,229.8 315.1,229.4 315.6,227.6 316.1,227.6 316.6,223.6 317.0,225.5 317.1,225.8 317.6,227.4 318.1,226.4 318.6,225.9 319.1,223.9 319.6,224.6 320.0,225.8 320.1,231.0 320.6,230.7 321.1,232.0 321.6,229.0 322.0,233.1 322.1,236.9 322.6,237.4 323.1,239.8 323.6,245.3 324.1,243.5 324.2,241.3 324.6,242.6 325.1,241.4 325.6,236.1 326.1,236.6 326.5,230.9 326.6,231.8 327.1,230.2 327.6,231.8 328.1,232.3 328.6,232.0 329.1,233.8 329.6,236.8 330.1,234.9 330.6,233.6 331.0,234.0 331.1,236.0 331.6,234.8 332.1,236.8 332.6,237.2 333.1,237.6 333.6,236.3 334.1,237.2 334.6,237.1 335.0,237.3 335.1,237.4 335.6,235.9 336.0,238.4 336.1,234.1 336.6,232.9 337.1,231.8 337.6,231.7 338.0,230.8 338.1,231.2 338.6,233.7 339.1,232.2 339.6,237.5 340.1,239.5 340.4,238.6 340.6,239.9 341.0,239.3 341.1,239.6 341.6,237.4 342.1,236.9 342.6,236.2 343.0,236.2 343.1,234.1 343.6,232.0 344.1,230.9 344.6,230.2 345.0,229.2 345.1,231.1 345.6,225.7 346.1,223.4 346.6,220.1 347.0,219.1 347.1,218.1 347.6,214.4 348.1,209.7 348.5,203.7 348.6,204.5 349.1,205.9 349.6,208.0 350.1,210.0 350.6,210.2 350.8,210.5 351.1,215.9 351.6,224.0 352.0,225.1 352.1,226.1 352.6,229.6 353.1,234.9 353.6,240.5 354.1,246.5 354.2,248.5 354.6,242.7 355.1,243.2 355.6,242.6 356.0,241.3 356.1,244.6 356.6,239.1 357.1,236.4 357.6,234.6 358.1,234.6 358.6,230.4 358.8,231.4 359.1,230.3 359.6,231.9 360.1,233.3 360.6,234.9 361.0,236.0 361.1,236.6 361.6,236.9 362.1,240.3 362.6,237.9 363.0,237.7 363.1,237.5 363.5,239.1 363.6,238.1 364.1,236.5 364.6,233.6 365.1,235.0 365.6,234.7 366.1,235.6 366.6,233.5 367.0,235.1 367.1,234.6 367.6,234.6 368.1,235.0 368.6,235.0 369.1,233.0 369.6,234.5 370.0,232.0 370.1,232.5 370.4,230.7 370.6,230.0 371.1,230.0 371.6,230.1 372.0,230.2 372.1,229.7 372.6,228.4 373.1,228.0 373.6,227.8 374.1,227.4 374.6,225.1 375.1,225.3 375.6,226.0 375.8,227.5 376.1,227.1 376.6,230.4 377.1,228.0 377.6,230.5 378.0,230.9 378.1,229.6 378.6,232.0 379.1,237.8 379.6,238.1 380.1,240.6 380.4,244.5 380.6,241.4 381.1,241.0 381.6,240.9 382.1,239.2 382.6,240.8 383.0,239.2 383.1,239.7 383.6,239.0 384.1,240.7 384.6,239.5 385.1,237.2 385.6,238.9 386.1,237.5 386.2,237.6 386.6,241.5 387.1,245.6 387.6,249.4 388.1,251.1 388.5,253.8 388.6,254.2 389.1,254.0 389.6,253.3 390.1,254.8 390.6,252.1 391.1,255.4 391.6,256.4 392.0,256.2 392.1,255.5 392.6,256.0 393.1,258.2 393.6,257.5 394.1,259.6 394.6,261.2 395.1,259.6 395.4,259.5 395.6,259.4 396.1,261.9 396.6,260.4 397.1,261.1 397.6,261.7 398.1,260.2 398.6,261.3 399.1,259.7 399.6,266.8 400.0,261.7 400.1,257.8 400.6,262.0 401.1,259.3 401.6,263.0 402.1,263.9 402.6,266.1 403.1,266.2 403.6,264.0 404.1,267.3 404.6,266.3 405.1,247.4 405.6,230.4 405.8,222.4 406.1,227.1 406.6,224.0 407.0,224.5 407.1,226.7 407.6,228.2 408.1,231.1 408.6,234.4 409.1,233.6 409.2,235.2 409.6,232.8 410.1,235.0 410.6,233.7 411.1,234.8 411.6,234.4 412.1,232.4 412.6,234.0 413.0,236.6 413.1,232.4 413.6,237.4 414.1,234.9 414.6,233.7 415.1,235.7 415.6,236.0 416.1,235.6 416.2,236.4 416.6,237.4 417.1,233.6 417.6,233.7 418.1,233.0 418.6,230.9 419.1,230.3 419.6,227.0 420.1,224.8 420.6,222.1 421.1,219.8 421.6,218.6 422.0,216.7 422.1,214.4 422.6,208.8 423.1,209.4 423.6,206.5 424.1,203.9 424.2,203.1 424.6,201.2 425.1,203.3 425.6,207.4 426.0,209.0 426.1,209.5 426.6,212.9 427.1,215.8 427.6,219.2 427.7,217.9 428.1,224.2 428.6,227.9 429.1,230.9 429.6,233.7 430.0,237.0 430.1,237.2 430.6,241.3 431.1,243.4 431.6,248.4 432.1,249.1 432.3,250.0 432.6,249.5 433.1,249.4 433.6,243.5 434.0,240.4 434.1,240.7 434.6,239.9 435.1,239.0 435.6,236.7 436.1,235.3 436.6,232.0 436.9,232.3 437.1,234.1 437.6,234.3 438.1,235.0 438.5,236.0 438.6,238.5 439.0,238.7 439.1,239.4 439.6,241.2 440.1,241.6 440.4,243.3 440.6,241.3 441.1,240.4 441.6,237.9 442.0,234.3 442.1,234.6 442.6,231.8 443.1,230.2 443.6,228.7 443.9,227.1 444.1,227.0 444.6,227.0 445.1,226.2 445.6,227.6 446.0,228.2 446.1,225.6 446.6,229.5 447.1,228.8 447.6,229.7 448.1,229.1 448.5,231.5 448.6,232.0 449.1,236.5 449.6,238.8 450.0,242.5 450.1,245.6 450.6,249.1 451.1,250.6 451.6,254.8 451.9,257.2 452.1,255.3 452.6,256.0 453.1,256.5 453.6,255.7 454.1,259.7 454.6,255.9 455.0,256.4 455.1,257.3 455.4,257.1 455.6,256.4 456.1,253.8 456.6,255.9 457.0,255.6 457.1,254.5 457.6,255.5 458.1,255.7 458.6,256.6 459.1,256.0 459.6,255.1 460.0,253.8 460.1,253.0 460.6,253.4 461.1,250.5 461.6,249.8 462.0,249.1 462.1,248.7 462.6,248.4 463.1,249.2 463.6,247.3 464.1,247.1 464.2,247.3 464.6,245.4 465.1,246.7 465.6,247.4 466.1,248.4 466.5,248.5 466.6,248.9 467.1,247.4 467.6,248.8 468.1,247.7 468.6,247.3 469.0,246.2 469.1,246.8 469.6,247.2 470.1,247.1 470.6,245.2 471.1,247.4 471.6,247.6 472.0,251.1 472.1,249.8 472.6,247.6 473.1,247.7 473.6,246.1 474.0,245.5 474.1,244.6 474.6,244.1 475.1,244.8 475.6,246.8 476.0,246.0 476.1,245.7 476.6,246.0 477.1,245.8 477.6,248.9 478.0,249.7 478.1,254.9 478.6,250.2 479.1,250.9 479.6,251.3 480.1,256.8 480.4,253.2 480.6,254.3 481.1,249.7 481.6,248.5 482.1,244.9 482.5,241.1 482.6,239.7 483.1,226.4 483.6,213.2 483.8,206.2 484.1,214.2 484.4,222.9 484.6,227.8 485.0,235.6 485.1,234.4 485.6,234.0 486.1,235.7 486.6,237.4 487.1,237.7 487.6,238.1 488.1,237.9 488.5,238.1 488.6,241.7 489.1,258.8 489.2,261.1 489.6,263.3 490.1,264.0 490.6,264.7 490.8,264.8 491.1,264.5 491.6,263.9 492.1,263.1 492.6,263.2 493.1,264.8 493.6,262.9 494.1,262.8 494.2,262.7 494.6,262.1 495.1,264.3 495.6,264.4 496.1,265.2 496.6,264.8 497.1,265.2 497.6,264.2 498.1,265.2 498.6,265.5 499.1,265.9 499.6,266.4 500.1,266.6 500.6,266.6 501.1,267.9 501.2,265.7 501.6,266.8 502.1,267.2 502.6,266.4 503.1,266.7 503.6,266.6 504.1,266.3 504.6,265.5 505.1,265.7 505.6,266.1 506.1,265.7 506.6,266.0 507.1,266.2 507.6,265.9 508.1,265.7 508.6,265.9 509.1,265.6 509.6,265.2 510.0,264.2 510.1,265.5 510.6,265.9 511.1,266.4 511.6,264.6 512.1,264.7 512.6,265.4 513.1,264.9 513.6,265.1 514.1,264.8 514.6,264.6 515.1,265.2 515.6,264.8 516.1,264.8 516.6,264.8 517.1,264.8 517.3,264.8 517.6,262.6 518.1,260.4 518.6,257.1 519.1,254.1 519.6,252.0 520.1,253.6 520.6,253.4 521.1,255.0 521.6,255.9 522.0,256.7 522.1,257.4 522.6,257.1 523.1,256.8 523.6,257.2 524.1,257.8 524.6,257.3 525.1,257.8 525.6,256.6 526.1,258.2 526.6,256.7 527.1,258.1 527.6,257.7 528.1,257.8 528.6,257.5 528.8,258.0 529.1,259.1 529.6,259.0 530.1,258.8 530.6,259.6 531.1,259.8 531.2,259.9 531.6,256.5 532.1,251.5 532.6,247.1 533.1,241.5 533.5,237.9 533.6,239.3 534.1,242.3 534.6,245.8" fill="none" stroke="#3fa45a" stroke-width="1.15" stroke-linejoin="round" stroke-opacity="1.0"/>
<polyline points="291.6,287.7 292.0,288.3 292.1,287.7 292.6,288.3 293.1,287.8 293.6,287.4 294.0,288.9 294.1,288.4 294.6,289.9 295.0,290.2 295.1,290.0 295.6,289.5 296.1,289.3 296.5,288.9 296.6,288.9 297.1,289.4 297.6,286.8 298.0,288.0 298.1,289.0 298.6,287.9 299.0,287.5 299.1,288.5 299.6,287.6 300.1,287.2 300.6,286.6 301.1,286.8 301.2,286.1 301.6,287.0 302.1,287.8 302.6,288.9 303.0,289.5 303.1,289.0 303.6,289.2 304.1,290.2 304.6,289.9 305.0,289.7 305.1,290.2 305.6,289.6 305.8,288.8 306.1,288.0 306.6,287.0 307.1,287.1 307.6,286.9 308.0,286.6 308.1,285.3 308.6,285.9 309.1,285.3 309.6,285.3 310.1,284.8 310.6,283.4 311.1,282.0 311.5,281.5 311.6,281.8 312.1,282.1 312.6,284.3 313.0,284.5 313.1,284.9 313.6,285.9 314.1,286.3 314.6,284.8 315.0,288.4 315.1,288.1 315.6,288.2 316.1,288.3 316.6,286.9 317.0,288.9 317.1,289.2 317.6,288.6 318.1,289.9 318.6,289.6 319.1,289.1 319.6,287.9 320.0,289.5 320.1,292.3 320.6,290.8 321.1,290.5 321.6,288.3 322.0,289.5 322.1,291.0 322.6,290.3 323.1,290.4 323.6,292.7 324.1,290.6 324.2,288.2 324.6,291.3 325.1,291.4 325.6,290.0 326.1,292.3 326.5,291.9 326.6,290.3 327.1,289.6 327.6,290.3 328.1,289.9 328.6,288.2 329.1,290.6 329.6,290.3 330.1,291.0 330.6,291.0 331.0,290.4 331.1,290.9 331.6,291.2 332.1,291.6 332.6,292.0 333.1,292.4 333.6,291.9 334.1,292.2 334.6,292.2 335.0,291.5 335.1,291.5 335.6,292.1 336.0,294.2 336.1,291.4 336.6,290.6 337.1,290.8 337.6,291.3 338.0,290.8 338.1,291.2 338.6,290.8 339.1,289.1 339.6,290.6 340.1,290.8 340.4,289.5 340.6,291.2 341.0,291.1 341.1,291.3 341.6,290.3 342.1,290.2 342.6,290.8 343.0,290.0 343.1,290.3 343.6,289.0 344.1,289.4 344.6,288.5 345.0,289.7 345.1,291.1 345.6,288.9 346.1,288.4 346.6,287.8 347.0,287.4 347.1,287.8 347.6,288.0 348.1,287.7 348.5,286.3 348.6,286.3 349.1,286.8 349.6,286.8 350.1,286.8 350.6,286.6 350.8,286.9 351.1,288.9 351.6,290.9 352.0,289.8 352.1,290.1 352.6,290.2 353.1,290.0 353.6,291.4 354.1,291.6 354.2,292.6 354.6,289.5 355.1,291.8 355.6,292.3 356.0,293.3 356.1,294.5 356.6,292.4 357.1,292.0 357.6,291.9 358.1,290.6 358.6,291.4 358.8,291.6 359.1,291.0 359.6,290.7 360.1,291.4 360.6,292.1 361.0,292.3 361.1,292.6 361.6,291.8 362.1,294.7 362.6,292.5 363.0,291.9 363.1,291.8 363.5,292.6 363.6,292.4 364.1,291.7 364.6,290.7 365.1,293.5 365.6,291.9 366.1,292.2 366.6,291.7 367.0,292.3 367.1,292.9 367.6,292.9 368.1,293.2 368.6,293.7 369.1,292.9 369.6,291.5 370.0,292.1 370.1,292.5 370.4,291.7 370.6,291.8 371.1,292.6 371.6,293.2 372.0,293.3 372.1,293.1 372.6,291.6 373.1,292.4 373.6,292.1 374.1,292.3 374.6,291.6 375.1,292.1 375.6,292.6 375.8,293.0 376.1,292.7 376.6,294.4 377.1,292.4 377.6,293.2 378.0,293.2 378.1,291.4 378.6,291.7 379.1,293.8 379.6,292.9 380.1,295.5 380.4,293.5 380.6,294.2 381.1,292.9 381.6,293.7 382.1,293.7 382.6,294.6 383.0,293.8 383.1,294.0 383.6,293.9 384.1,294.4 384.6,295.0 385.1,293.4 385.6,294.4 386.1,294.1 386.2,294.6 386.6,295.4 387.1,296.1 387.6,296.8 388.1,295.7 388.5,296.3 388.6,297.1 389.1,296.6 389.6,295.9 390.1,296.4 390.6,296.5 391.1,296.5 391.6,296.7 392.0,296.8 392.1,296.6 392.6,299.2 393.1,297.8 393.6,297.8 394.1,298.4 394.6,298.8 395.1,298.3 395.4,297.3 395.6,296.6 396.1,298.1 396.6,297.4 397.1,297.3 397.6,297.7 398.1,297.3 398.6,298.6 399.1,299.5 399.6,299.9 400.0,297.9 400.1,295.9 400.6,298.5 401.1,295.9 401.6,298.1 402.1,298.5 402.6,299.1 403.1,299.0 403.6,296.9 404.1,298.8 404.6,298.7 405.1,297.0 405.6,295.9 405.8,295.7 406.1,296.0 406.6,295.6 407.0,296.0 407.1,296.6 407.6,296.3 408.1,296.8 408.6,296.8 409.1,295.6 409.2,295.6 409.6,294.5 410.1,295.0 410.6,293.3 411.1,296.1 411.6,295.9 412.1,294.1 412.6,295.3 413.0,297.0 413.1,294.5 413.6,296.9 414.1,294.5 414.6,294.5 415.1,295.3 415.6,295.3 416.1,295.0 416.2,296.8 416.6,296.2 417.1,296.4 417.6,294.6 418.1,294.9 418.6,294.0 419.1,294.1 419.6,294.0 420.1,293.1 420.6,292.2 421.1,292.1 421.6,291.8 422.0,291.6 422.1,291.0 422.6,289.2 423.1,290.6 423.6,289.9 424.1,289.7 424.2,290.0 424.6,289.9 425.1,288.3 425.6,290.0 426.0,290.2 426.1,290.7 426.6,290.9 427.1,291.4 427.6,292.0 427.7,290.5 428.1,292.1 428.6,291.7 429.1,293.1 429.6,293.2 430.0,292.1 430.1,293.7 430.6,294.6 431.1,294.3 431.6,295.7 432.1,295.8 432.3,296.3 432.6,296.3 433.1,300.0 433.6,295.2 434.0,295.3 434.1,295.2 434.6,293.3 435.1,294.0 435.6,294.8 436.1,295.4 436.6,294.6 436.9,295.4 437.1,295.4 437.6,294.8 438.1,294.6 438.5,294.4 438.6,296.3 439.0,294.6 439.1,295.4 439.6,295.2 440.1,293.7 440.4,294.4 440.6,294.1 441.1,294.1 441.6,295.4 442.0,294.6 442.1,295.9 442.6,294.6 443.1,296.0 443.6,295.7 443.9,295.9 444.1,295.6 444.6,294.4 445.1,294.4 445.6,294.9 446.0,295.0 446.1,295.5 446.6,295.1 447.1,294.7 447.6,294.8 448.1,294.2 448.5,294.7 448.6,295.0 449.1,295.5 449.6,295.4 450.0,295.1 450.1,296.6 450.6,297.8 451.1,295.6 451.6,296.0 451.9,296.4 452.1,295.9 452.6,296.3 453.1,296.1 453.6,295.4 454.1,297.2 454.6,294.5 455.0,294.6 455.1,294.6 455.4,294.8 455.6,295.1 456.1,293.6 456.6,295.0 457.0,295.3 457.1,294.5 457.6,295.2 458.1,294.6 458.6,294.7 459.1,293.9 459.6,294.3 460.0,293.7 460.1,293.8 460.6,294.5 461.1,294.2 461.6,294.3 462.0,294.8 462.1,294.2 462.6,294.2 463.1,295.6 463.6,294.8 464.1,294.9 464.2,294.1 464.6,293.1 465.1,294.2 465.6,293.7 466.1,293.5 466.5,294.1 466.6,294.1 467.1,293.1 467.6,294.1 468.1,293.8 468.6,294.3 469.0,293.9 469.1,293.8 469.6,293.5 470.1,293.0 470.6,291.1 471.1,292.1 471.6,291.8 472.0,292.2 472.1,291.0 472.6,293.1 473.1,292.9 473.6,292.4 474.0,292.5 474.1,292.4 474.6,291.7 475.1,292.2 475.6,293.1 476.0,292.8 476.1,292.5 476.6,292.4 477.1,292.6 477.6,293.8 478.0,293.4 478.1,295.2 478.6,293.1 479.1,293.1 479.6,293.6 480.1,296.7 480.4,294.7 480.6,295.7 481.1,294.7 481.6,294.4 482.1,294.2 482.5,293.4 482.6,293.5 483.1,291.4 483.6,288.5 483.8,286.9 484.1,286.5 484.4,287.5 484.6,288.9 485.0,290.2 485.1,288.7 485.6,288.4 486.1,289.4 486.6,290.0 487.1,289.7 487.6,290.4 488.1,290.8 488.5,290.8 488.6,291.6 489.1,294.5 489.2,294.3 489.6,295.6 490.1,295.9 490.6,296.0 490.8,296.2 491.1,296.0 491.6,295.9 492.1,296.0 492.6,295.8 493.1,296.9 493.6,296.2 494.1,296.1 494.2,296.2 494.6,295.4 495.1,296.7 495.6,296.4 496.1,297.3 496.6,296.6 497.1,297.0 497.6,296.6 498.1,296.5 498.6,296.4 499.1,296.6 499.6,296.6 500.1,296.6 500.6,296.6 501.1,296.4 501.2,295.9 501.6,296.2 502.1,296.5 502.6,296.2 503.1,296.1 503.6,296.3 504.1,296.4 504.6,295.9 505.1,296.1 505.6,296.4 506.1,296.1 506.6,296.4 507.1,296.4 507.6,296.2 508.1,295.9 508.6,296.2 509.1,296.1 509.6,295.8 510.0,295.3 510.1,295.9 510.6,296.1 511.1,296.5 511.6,295.7 512.1,295.8 512.6,295.5 513.1,296.0 513.6,296.3 514.1,296.0 514.6,296.2 515.1,295.7 515.6,296.3 516.1,296.2 516.6,296.3 517.1,296.1 517.3,295.8 517.6,295.6 518.1,295.5 518.6,295.0 519.1,294.6 519.6,294.2 520.1,294.8 520.6,294.1 521.1,294.3 521.6,294.3 522.0,294.3 522.1,294.7 522.6,294.7 523.1,294.6 523.6,294.8 524.1,295.0 524.6,294.9 525.1,295.4 525.6,294.7 526.1,295.7 526.6,294.9 527.1,295.8 527.6,295.5 528.1,295.8 528.6,295.6 528.8,295.6 529.1,296.2 529.6,295.5 530.1,295.9 530.6,296.1 531.1,296.0 531.2,296.2 531.6,295.2 532.1,294.0 532.6,293.1 533.1,291.5 533.5,290.8 533.6,291.3 534.1,292.3 534.6,293.5" fill="none" stroke="#e0283a" stroke-width="1.15" stroke-linejoin="round" stroke-opacity="1.0"/>
<polyline points="291.6,224.1 292.0,222.7 292.1,222.2 292.6,222.1 293.1,221.3 293.6,218.2 294.0,219.5 294.1,218.6 294.6,218.2 295.0,216.5 295.1,217.5 295.6,218.6 296.1,219.3 296.5,219.7 296.6,220.3 297.1,222.3 297.6,219.9 298.0,220.6 298.1,224.5 298.6,219.9 299.0,220.3 299.1,220.5 299.6,217.3 300.1,217.4 300.6,215.7 301.1,213.5 301.2,213.1 301.6,213.6 302.1,216.3 302.6,218.6 303.0,222.5 303.1,220.7 303.6,221.5 304.1,222.3 304.6,222.5 305.0,224.0 305.1,224.2 305.6,221.0 305.8,223.4 306.1,223.5 306.6,221.5 307.1,217.8 307.6,219.3 308.0,218.6 308.1,216.1 308.6,216.0 309.1,214.7 309.6,213.6 310.1,212.0 310.6,212.1 311.1,207.9 311.5,206.2 311.6,207.3 312.1,212.1 312.6,217.6 313.0,221.1 313.1,220.7 313.6,222.4 314.1,223.5 314.6,225.8 315.0,227.1 315.1,225.7 315.6,223.6 316.1,226.6 316.6,219.6 317.0,222.0 317.1,222.9 317.6,222.3 318.1,222.4 318.6,223.3 319.1,221.0 319.6,217.1 320.0,222.0 320.1,226.5 320.6,225.6 321.1,230.8 321.6,225.3 322.0,229.6 322.1,232.8 322.6,233.1 323.1,236.2 323.6,241.7 324.1,240.1 324.2,235.6 324.6,239.7 325.1,236.0 325.6,232.3 326.1,234.0 326.5,227.2 326.6,227.7 327.1,225.9 327.6,223.9 328.1,228.8 328.6,228.4 329.1,230.7 329.6,229.2 330.1,229.1 330.6,229.6 331.0,229.4 331.1,230.4 331.6,230.6 332.1,233.8 332.6,234.9 333.1,236.4 333.6,234.9 334.1,236.1 334.6,236.5 335.0,237.2 335.1,236.5 335.6,234.9 336.0,237.2 336.1,232.3 336.6,229.8 337.1,229.0 337.6,228.3 338.0,227.9 338.1,228.3 338.6,231.0 339.1,230.1 339.6,234.6 340.1,232.2 340.4,235.6 340.6,238.7 341.0,233.5 341.1,236.4 341.6,238.6 342.1,233.3 342.6,235.3 343.0,230.8 343.1,231.5 343.6,228.6 344.1,228.2 344.6,228.2 345.0,228.2 345.1,229.5 345.6,222.7 346.1,218.9 346.6,215.9 347.0,215.2 347.1,212.8 347.6,205.6 348.1,198.3 348.5,193.2 348.6,189.7 349.1,195.2 349.6,199.3 350.1,202.6 350.6,205.3 350.8,206.8 351.1,212.0 351.6,219.8 352.0,220.7 352.1,222.6 352.6,227.5 353.1,231.0 353.6,237.6 354.1,244.0 354.2,246.9 354.6,240.2 355.1,241.1 355.6,238.7 356.0,239.9 356.1,242.0 356.6,237.2 357.1,238.0 357.6,233.3 358.1,232.9 358.6,229.9 358.8,228.7 359.1,227.3 359.6,228.1 360.1,229.6 360.6,231.9 361.0,232.1 361.1,233.8 361.6,233.1 362.1,237.4 362.6,234.0 363.0,234.2 363.1,234.3 363.5,236.5 363.6,233.7 364.1,233.3 364.6,230.1 365.1,234.7 365.6,230.1 366.1,228.2 366.6,228.8 367.0,230.7 367.1,231.5 367.6,230.9 368.1,230.7 368.6,231.8 369.1,230.3 369.6,230.8 370.0,227.6 370.1,229.1 370.4,226.3 370.6,226.7 371.1,227.0 371.6,227.5 372.0,227.8 372.1,227.6 372.6,225.7 373.1,224.9 373.6,224.1 374.1,223.1 374.6,226.2 375.1,222.3 375.6,222.1 375.8,223.5 376.1,222.8 376.6,227.1 377.1,223.8 377.6,226.0 378.0,226.5 378.1,224.1 378.6,227.5 379.1,233.9 379.6,233.4 380.1,236.7 380.4,237.1 380.6,238.0 381.1,236.3 381.6,237.8 382.1,236.8 382.6,241.9 383.0,235.7 383.1,235.8 383.6,233.3 384.1,234.2 384.6,234.2 385.1,231.5 385.6,233.3 386.1,232.9 386.2,232.0 386.6,236.0 387.1,240.4 387.6,244.2 388.1,245.2 388.5,249.8 388.6,251.2 389.1,250.4 389.6,247.1 390.1,250.5 390.6,251.6 391.1,251.2 391.6,252.0 392.0,248.8 392.1,252.0 392.6,253.4 393.1,254.3 393.6,254.8 394.1,256.0 394.6,257.9 395.1,256.0 395.4,256.5 395.6,256.6 396.1,260.2 396.6,258.1 397.1,257.2 397.6,258.5 398.1,257.1 398.6,259.2 399.1,259.8 399.6,263.6 400.0,258.7 400.1,255.9 400.6,260.4 401.1,256.8 401.6,259.9 402.1,261.7 402.6,262.7 403.1,261.5 403.6,258.7 404.1,262.9 404.6,263.1 405.1,243.3 405.6,225.0 405.8,218.9 406.1,223.7 406.6,220.6 407.0,222.1 407.1,224.9 407.6,225.5 408.1,228.4 408.6,231.4 409.1,231.3 409.2,233.1 409.6,230.2 410.1,232.7 410.6,231.4 411.1,232.7 411.6,231.3 412.1,228.4 412.6,230.1 413.0,233.4 413.1,228.3 413.6,233.6 414.1,231.0 414.6,230.8 415.1,230.8 415.6,230.9 416.1,231.3 416.2,231.4 416.6,233.4 417.1,229.2 417.6,228.5 418.1,229.3 418.6,226.8 419.1,227.3 419.6,224.8 420.1,222.7 420.6,219.1 421.1,219.3 421.6,215.6 422.0,214.2 422.1,211.4 422.6,205.6 423.1,204.9 423.6,203.4 424.1,198.6 424.2,197.9 424.6,203.0 425.1,198.6 425.6,204.3 426.0,206.4 426.1,206.6 426.6,210.0 427.1,212.1 427.6,216.1 427.7,215.5 428.1,220.5 428.6,222.0 429.1,228.2 429.6,230.5 430.0,232.8 430.1,233.7 430.6,237.9 431.1,240.3 431.6,245.1 432.1,245.7 432.3,247.0 432.6,246.0 433.1,247.0 433.6,241.0 434.0,239.1 434.1,239.0 434.6,236.2 435.1,236.0 435.6,233.5 436.1,234.1 436.6,230.6 436.9,229.9 437.1,230.1 437.6,231.3 438.1,233.2 438.5,233.5 438.6,236.4 439.0,234.6 439.1,237.1 439.6,239.0 440.1,237.7 440.4,239.3 440.6,238.1 441.1,234.9 441.6,234.6 442.0,229.7 442.1,229.2 442.6,226.9 443.1,226.3 443.6,224.3 443.9,222.6 444.1,222.2 444.6,226.0 445.1,222.7 445.6,225.7 446.0,225.5 446.1,226.1 446.6,226.7 447.1,226.9 447.6,227.7 448.1,226.2 448.5,228.3 448.6,229.5 449.1,233.2 449.6,235.3 450.0,238.2 450.1,241.7 450.6,247.0 451.1,248.6 451.6,252.1 451.9,255.0 452.1,252.5 452.6,252.0 453.1,251.4 453.6,251.6 454.1,255.4 454.6,252.5 455.0,252.8 455.1,254.2 455.4,254.8 455.6,254.8 456.1,250.7 456.6,251.8 457.0,251.1 457.1,249.8 457.6,251.8 458.1,251.5 458.6,252.7 459.1,252.4 459.6,251.7 460.0,250.8 460.1,250.0 460.6,248.8 461.1,247.9 461.6,246.1 462.0,245.8 462.1,246.0 462.6,245.0 463.1,245.1 463.6,242.9 464.1,243.9 464.2,247.2 464.6,244.8 465.1,244.9 465.6,244.2 466.1,245.7 466.5,246.7 466.6,245.7 467.1,244.4 467.6,245.0 468.1,243.4 468.6,243.1 469.0,241.6 469.1,242.1 469.6,241.3 470.1,241.9 470.6,240.1 471.1,242.9 471.6,242.9 472.0,243.5 472.1,243.7 472.6,244.0 473.1,244.0 473.6,242.5 474.0,238.8 474.1,240.2 474.6,241.6 475.1,242.0 475.6,244.1 476.0,243.2 476.1,242.6 476.6,244.4 477.1,239.4 477.6,244.1 478.0,246.1 478.1,245.4 478.6,247.1 479.1,247.9 479.6,248.4 480.1,253.5 480.4,250.0 480.6,250.1 481.1,247.4 481.6,246.3 482.1,243.0 482.5,239.1 482.6,236.8 483.1,220.7 483.6,199.0 483.8,189.4 484.1,200.7 484.4,214.1 484.6,220.0 485.0,233.5 485.1,230.0 485.6,228.4 486.1,230.0 486.6,231.3 487.1,231.4 487.6,232.1 488.1,231.7 488.5,231.7 488.6,235.3 489.1,252.7 489.2,255.0 489.6,257.5 490.1,258.5 490.6,259.0 490.8,259.0 491.1,258.8 491.6,258.4 492.1,258.5 492.6,257.5 493.1,259.3 493.6,257.5 494.1,257.3 494.2,255.7 494.6,256.7 495.1,259.3 495.6,259.2 496.1,259.7 496.6,259.3 497.1,259.9 497.6,258.5 498.1,259.7 498.6,260.2 499.1,260.5 499.6,260.6 500.1,261.0 500.6,260.7 501.1,260.8 501.2,259.4 501.6,260.7 502.1,260.8 502.6,260.5 503.1,260.5 503.6,260.9 504.1,260.9 504.6,260.0 505.1,260.2 505.6,261.0 506.1,260.6 506.6,259.7 507.1,260.8 507.6,260.5 508.1,260.0 508.6,260.1 509.1,260.4 509.6,259.7 510.0,258.3 510.1,259.9 510.6,260.4 511.1,260.5 511.6,260.0 512.1,259.4 512.6,259.9 513.1,259.6 513.6,259.6 514.1,258.9 514.6,258.9 515.1,259.1 515.6,258.9 516.1,258.8 516.6,258.6 517.1,258.4 517.3,258.4 517.6,256.8 518.1,254.2 518.6,251.3 519.1,248.5 519.6,245.8 520.1,247.9 520.6,247.8 521.1,249.0 521.6,249.9 522.0,251.1 522.1,251.3 522.6,252.1 523.1,251.5 523.6,252.1 524.1,252.5 524.6,251.9 525.1,252.4 525.6,251.1 526.1,252.6 526.6,251.5 527.1,253.1 527.6,252.8 528.1,253.0 528.6,254.3 528.8,252.9 529.1,253.9 529.6,252.9 530.1,253.4 530.6,254.1 531.1,253.9 531.2,254.0 531.6,250.1 532.1,245.2 532.6,240.6 533.1,234.8 533.5,231.1 533.6,232.2 534.1,236.3 534.6,240.0" fill="none" stroke="#404040" stroke-width="1.15" stroke-linejoin="round" stroke-opacity="1.0"/>
<polyline points="291.6,279.1 292.0,280.7 292.1,281.4 292.6,280.4 293.1,282.6 293.6,280.0 294.0,282.3 294.1,281.3 294.6,282.9 295.0,283.5 295.1,283.4 295.6,282.4 296.1,281.6 296.5,280.6 296.6,281.0 297.1,281.3 297.6,278.9 298.0,279.7 298.1,281.0 298.6,279.7 299.0,280.0 299.1,281.0 299.6,278.8 300.1,279.3 300.6,279.2 301.1,278.0 301.2,278.3 301.6,278.7 302.1,278.8 302.6,280.2 303.0,280.5 303.1,280.3 303.6,279.9 304.1,280.9 304.6,281.0 305.0,283.9 305.1,281.6 305.6,280.5 305.8,280.2 306.1,279.4 306.6,278.0 307.1,278.1 307.6,278.3 308.0,276.7 308.1,276.3 308.6,276.5 309.1,276.0 309.6,276.1 310.1,275.1 310.6,274.7 311.1,272.5 311.5,271.6 311.6,272.6 312.1,273.6 312.6,272.4 313.0,275.9 313.1,275.8 313.6,276.6 314.1,277.3 314.6,279.1 315.0,281.3 315.1,280.0 315.6,280.5 316.1,280.4 316.6,278.5 317.0,281.4 317.1,281.8 317.6,281.6 318.1,282.7 318.6,281.9 319.1,282.3 319.6,280.6 320.0,282.6 320.1,286.2 320.6,284.4 321.1,284.7 321.6,281.1 322.0,282.7 322.1,283.7 322.6,283.3 323.1,283.5 323.6,286.5 324.1,283.4 324.2,281.6 324.6,284.2 325.1,285.0 325.6,282.8 326.1,286.9 326.5,283.1 326.6,283.8 327.1,282.9 327.6,284.3 328.1,283.6 328.6,283.3 329.1,284.9 329.6,284.7 330.1,284.2 330.6,283.8 331.0,284.2 331.1,284.6 331.6,284.0 332.1,285.8 332.6,285.4 333.1,286.0 333.6,285.9 334.1,285.6 334.6,285.4 335.0,286.3 335.1,286.3 335.6,286.6 336.0,288.8 336.1,285.3 336.6,282.9 337.1,287.0 337.6,285.0 338.0,285.4 338.1,285.1 338.6,285.6 339.1,283.3 339.6,285.2 340.1,284.8 340.4,283.9 340.6,284.6 341.0,284.7 341.1,285.0 341.6,281.4 342.1,282.8 342.6,283.4 343.0,282.6 343.1,283.0 343.6,281.6 344.1,281.9 344.6,282.6 345.0,282.9 345.1,284.3 345.6,281.4 346.1,280.5 346.6,279.8 347.0,279.3 347.1,279.4 347.6,279.2 348.1,278.8 348.5,276.8 348.6,276.4 349.1,277.9 349.6,278.4 350.1,279.1 350.6,278.5 350.8,279.0 351.1,280.5 351.6,283.7 352.0,282.1 352.1,282.3 352.6,283.1 353.1,282.8 353.6,284.0 354.1,285.8 354.2,286.0 354.6,283.1 355.1,285.3 355.6,286.1 356.0,286.8 356.1,288.3 356.6,286.4 357.1,285.7 357.6,285.0 358.1,285.3 358.6,284.2 358.8,285.4 359.1,285.0 359.6,284.8 360.1,283.3 360.6,285.8 361.0,286.0 361.1,285.8 361.6,285.2 362.1,287.6 362.6,285.1 363.0,285.2 363.1,285.4 363.5,286.4 363.6,286.1 364.1,285.0 364.6,283.7 365.1,287.2 365.6,285.4 366.1,286.3 366.6,285.5 367.0,286.2 367.1,287.7 367.6,286.8 368.1,287.1 368.6,287.5 369.1,287.7 369.6,287.2 370.0,286.0 370.1,286.8 370.4,285.8 370.6,285.8 371.1,286.7 371.6,287.4 372.0,286.7 372.1,288.0 372.6,287.2 373.1,287.5 373.6,289.5 374.1,287.5 374.6,285.9 375.1,287.4 375.6,287.0 375.8,288.0 376.1,287.8 376.6,289.7 377.1,287.3 377.6,287.3 378.0,287.6 378.1,285.9 378.6,285.7 379.1,288.5 379.6,287.5 380.1,288.4 380.4,288.8 380.6,290.8 381.1,289.1 381.6,288.6 382.1,289.4 382.6,290.3 383.0,289.2 383.1,289.7 383.6,289.1 384.1,290.7 384.6,290.3 385.1,288.8 385.6,289.7 386.1,289.4 386.2,289.8 386.6,290.4 387.1,291.5 387.6,292.4 388.1,291.2 388.5,291.1 388.6,292.0 389.1,291.3 389.6,291.8 390.1,292.7 390.6,293.5 391.1,292.8 391.6,291.4 392.0,295.9 392.1,293.3 392.6,293.3 393.1,294.5 393.6,294.6 394.1,294.5 394.6,295.7 395.1,294.0 395.4,292.8 395.6,292.7 396.1,294.6 396.6,294.0 397.1,293.9 397.6,294.3 398.1,293.7 398.6,294.6 399.1,294.3 399.6,297.4 400.0,294.2 400.1,292.7 400.6,295.3 401.1,291.9 401.6,294.9 402.1,295.3 402.6,296.2 403.1,296.1 403.6,294.1 404.1,296.1 404.6,296.0 405.1,293.4 405.6,291.9 405.8,291.3 406.1,293.9 406.6,291.3 407.0,291.6 407.1,292.4 407.6,291.4 408.1,292.6 408.6,291.9 409.1,289.8 409.2,290.7 409.6,289.5 410.1,290.8 410.6,290.2 411.1,291.6 411.6,290.9 412.1,290.3 412.6,291.2 413.0,292.7 413.1,289.3 413.6,292.7 414.1,290.3 414.6,289.7 415.1,290.6 415.6,289.6 416.1,289.4 416.2,289.5 416.6,290.9 417.1,289.2 417.6,289.1 418.1,290.0 418.6,287.9 419.1,288.6 419.6,287.5 420.1,286.6 420.6,286.5 421.1,287.0 421.6,286.1 422.0,286.1 422.1,284.9 422.6,282.1 423.1,282.9 423.6,280.7 424.1,282.2 424.2,281.5 424.6,279.3 425.1,280.4 425.6,282.6 426.0,283.4 426.1,284.2 426.6,283.9 427.1,284.0 427.6,285.1 427.7,283.4 428.1,285.0 428.6,284.5 429.1,286.7 429.6,286.5 430.0,287.3 430.1,288.3 430.6,288.7 431.1,288.5 431.6,290.4 432.1,288.1 432.3,291.1 432.6,290.9 433.1,292.7 433.6,290.3 434.0,289.5 434.1,290.0 434.6,290.3 435.1,290.7 435.6,290.3 436.1,290.6 436.6,289.0 436.9,289.5 437.1,289.9 437.6,290.3 438.1,293.2 438.5,290.8 438.6,292.2 439.0,290.7 439.1,292.2 439.6,292.5 440.1,290.8 440.4,290.9 440.6,290.7 441.1,291.4 441.6,292.9 442.0,292.1 442.1,292.3 442.6,290.8 443.1,291.8 443.6,292.0 443.9,291.4 444.1,291.0 444.6,290.9 445.1,290.6 445.6,291.5 446.0,291.5 446.1,291.6 446.6,292.5 447.1,291.6 447.6,290.7 448.1,293.4 448.5,291.0 448.6,291.2 449.1,291.7 449.6,291.7 450.0,291.4 450.1,292.8 450.6,294.2 451.1,290.0 451.6,292.2 451.9,292.7 452.1,291.8 452.6,292.6 453.1,292.0 453.6,292.1 454.1,294.0 454.6,291.4 455.0,290.9 455.1,291.4 455.4,291.5 455.6,291.5 456.1,289.5 456.6,291.2 457.0,291.4 457.1,290.3 457.6,290.7 458.1,291.1 458.6,291.4 459.1,290.9 459.6,290.0 460.0,289.8 460.1,290.6 460.6,290.5 461.1,290.2 461.6,289.8 462.0,290.2 462.1,288.1 462.6,290.1 463.1,290.7 463.6,289.7 464.1,289.6 464.2,290.5 464.6,288.4 465.1,288.6 465.6,288.6 466.1,288.4 466.5,288.4 466.6,288.3 467.1,287.9 467.6,288.0 468.1,288.3 468.6,288.4 469.0,287.8 469.1,287.8 469.6,288.2 470.1,287.7 470.6,285.7 471.1,287.1 471.6,287.5 472.0,287.3 472.1,290.0 472.6,288.8 473.1,288.9 473.6,288.3 474.0,289.0 474.1,287.8 474.6,288.0 475.1,288.1 475.6,289.1 476.0,288.7 476.1,288.5 476.6,288.1 477.1,288.4 477.6,288.9 478.0,289.0 478.1,290.9 478.6,288.8 479.1,288.9 479.6,289.2 480.1,293.0 480.4,290.4 480.6,290.8 481.1,290.0 481.6,290.2 482.1,289.8 482.5,289.2 482.6,287.8 483.1,285.0 483.6,281.7 483.8,279.7 484.1,279.0 484.4,280.3 484.6,281.2 485.0,284.0 485.1,282.7 485.6,282.6 486.1,283.1 486.6,284.3 487.1,285.0 487.6,284.8 488.1,284.8 488.5,284.8 488.6,285.9 489.1,289.8 489.2,289.9 489.6,291.4 490.1,291.6 490.6,292.0 490.8,292.2 491.1,291.9 491.6,292.0 492.1,292.2 492.6,291.8 493.1,293.0 493.6,292.1 494.1,292.1 494.2,292.2 494.6,291.8 495.1,293.0 495.6,293.1 496.1,293.2 496.6,293.1 497.1,293.4 497.6,293.0 498.1,292.9 498.6,292.8 499.1,292.8 499.6,292.9 500.1,293.0 500.6,293.0 501.1,292.7 501.2,292.0 501.6,292.7 502.1,292.7 502.6,292.5 503.1,292.4 503.6,292.6 504.1,292.8 504.6,292.3 505.1,292.6 505.6,292.8 506.1,292.4 506.6,292.7 507.1,292.8 507.6,292.6 508.1,292.4 508.6,292.6 509.1,292.9 509.6,292.2 510.0,290.2 510.1,292.2 510.6,292.1 511.1,293.0 511.6,291.8 512.1,291.9 512.6,292.4 513.1,291.8 513.6,291.9 514.1,291.4 514.6,291.7 515.1,292.2 515.6,291.4 516.1,292.0 516.6,292.1 517.1,291.9 517.3,291.8 517.6,291.2 518.1,290.9 518.6,290.4 519.1,289.9 519.6,289.3 520.1,290.3 520.6,289.5 521.1,289.4 521.6,289.3 522.0,289.5 522.1,289.7 522.6,289.7 523.1,289.9 523.6,290.2 524.1,290.6 524.6,290.4 525.1,290.8 525.6,290.2 526.1,291.1 526.6,290.4 527.1,291.1 527.6,291.4 528.1,291.2 528.6,291.2 528.8,291.5 529.1,292.2 529.6,291.2 530.1,291.6 530.6,291.8 531.1,292.0 531.2,292.0 531.6,290.7 532.1,288.9 532.6,287.7 533.1,285.6 533.5,284.2 533.6,285.1 534.1,286.1 534.6,288.3" fill="none" stroke="#7050c0" stroke-width="1.15" stroke-linejoin="round" stroke-opacity="1.0"/>
<polyline points="291.6,254.2 292.0,256.3 292.1,255.5 292.6,257.6 293.1,257.2 293.6,258.1 294.0,260.0 294.1,259.8 294.6,260.7 295.0,259.9 295.1,260.5 295.6,260.0 296.1,258.8 296.5,258.9 296.6,259.5 297.1,261.4 297.6,259.0 298.0,261.0 298.1,263.2 298.6,261.6 299.0,262.4 299.1,262.6 299.6,257.1 300.1,260.1 300.6,260.2 301.1,258.4 301.2,258.5 301.6,259.3 302.1,260.3 302.6,261.5 303.0,262.7 303.1,261.2 303.6,262.7 304.1,263.5 304.6,264.3 305.0,265.1 305.1,264.8 305.6,265.0 305.8,264.3 306.1,263.3 306.6,262.6 307.1,262.6 307.6,262.1 308.0,262.0 308.1,261.1 308.6,261.7 309.1,261.2 309.6,261.5 310.1,260.9 310.6,259.7 311.1,257.1 311.5,254.9 311.6,257.9 312.1,258.8 312.6,260.9 313.0,261.7 313.1,260.8 313.6,261.6 314.1,262.0 314.6,260.5 315.0,261.9 315.1,263.6 315.6,263.6 316.1,264.9 316.6,263.3 317.0,265.8 317.1,263.4 317.6,266.0 318.1,267.5 318.6,267.9 319.1,266.8 319.6,264.4 320.0,268.5 320.1,272.3 320.6,271.1 321.1,271.6 321.6,270.2 322.0,269.9 322.1,272.7 322.6,271.3 323.1,272.7 323.6,276.5 324.1,272.9 324.2,270.9 324.6,273.5 325.1,274.0 325.6,271.8 326.1,274.7 326.5,270.0 326.6,270.7 327.1,270.0 327.6,270.9 328.1,269.4 328.6,268.9 329.1,270.0 329.6,268.1 330.1,268.9 330.6,268.1 331.0,268.6 331.1,268.6 331.6,268.8 332.1,270.8 332.6,271.3 333.1,272.5 333.6,272.0 334.1,273.1 334.6,272.5 335.0,272.9 335.1,273.4 335.6,273.7 336.0,277.8 336.1,274.4 336.6,274.0 337.1,274.6 337.6,276.2 338.0,276.7 338.1,276.7 338.6,277.6 339.1,273.3 339.6,275.9 340.1,274.8 340.4,273.2 340.6,275.3 341.0,274.1 341.1,274.4 341.6,272.7 342.1,272.0 342.6,272.3 343.0,270.8 343.1,270.9 343.6,268.8 344.1,269.4 344.6,269.6 345.0,269.4 345.1,270.5 345.6,267.9 346.1,267.7 346.6,266.9 347.0,265.2 347.1,266.0 347.6,265.6 348.1,264.1 348.5,262.2 348.6,263.3 349.1,265.2 349.6,265.7 350.1,263.7 350.6,266.5 350.8,266.8 351.1,269.0 351.6,273.6 352.0,272.1 352.1,272.1 352.6,273.3 353.1,272.8 353.6,274.6 354.1,276.7 354.2,278.1 354.6,273.6 355.1,275.9 355.6,275.8 356.0,277.4 356.1,279.2 356.6,275.5 357.1,273.3 357.6,275.2 358.1,274.3 358.6,272.9 358.8,273.6 359.1,273.1 359.6,273.1 360.1,273.8 360.6,274.1 361.0,274.4 361.1,274.7 361.6,273.7 362.1,277.0 362.6,273.0 363.0,273.1 363.1,272.5 363.5,273.5 363.6,273.1 364.1,271.8 364.6,269.4 365.1,272.9 365.6,271.1 366.1,271.1 366.6,270.0 367.0,271.8 367.1,272.2 367.6,270.5 368.1,271.0 368.6,271.4 369.1,270.3 369.6,269.8 370.0,267.1 370.1,268.7 370.4,266.9 370.6,267.0 371.1,268.2 371.6,269.5 372.0,268.8 372.1,268.2 372.6,267.4 373.1,267.9 373.6,267.8 374.1,267.6 374.6,266.1 375.1,267.0 375.6,267.1 375.8,268.1 376.1,267.5 376.6,271.5 377.1,268.4 377.6,269.0 378.0,269.0 378.1,267.5 378.6,267.8 379.1,271.1 379.6,269.9 380.1,271.4 380.4,270.2 380.6,270.8 381.1,270.4 381.6,271.7 382.1,273.6 382.6,273.8 383.0,272.4 383.1,272.2 383.6,272.4 384.1,273.7 384.6,273.9 385.1,272.9 385.6,274.5 386.1,275.6 386.2,274.3 386.6,275.7 387.1,277.5 387.6,278.6 388.1,275.5 388.5,278.6 388.6,279.9 389.1,278.1 389.6,278.2 390.1,279.1 390.6,280.4 391.1,278.8 391.6,280.0 392.0,280.8 392.1,280.7 392.6,280.8 393.1,281.9 393.6,281.8 394.1,281.5 394.6,284.3 395.1,282.3 395.4,281.8 395.6,280.8 396.1,282.4 396.6,281.1 397.1,281.2 397.6,282.2 398.1,280.8 398.6,282.6 399.1,282.0 399.6,285.3 400.0,281.7 400.1,278.2 400.6,282.6 401.1,279.0 401.6,282.3 402.1,283.2 402.6,283.9 403.1,283.7 403.6,281.2 404.1,284.4 404.6,284.7 405.1,278.5 405.6,274.5 405.8,272.2 406.1,275.6 406.6,272.6 407.0,273.0 407.1,274.1 407.6,274.2 408.1,275.5 408.6,276.2 409.1,274.7 409.2,275.5 409.6,273.7 410.1,274.9 410.6,274.6 411.1,274.6 411.6,274.2 412.1,273.1 412.6,274.2 413.0,276.3 413.1,272.5 413.6,276.0 414.1,273.1 414.6,273.4 415.1,273.2 415.6,273.3 416.1,272.5 416.2,272.9 416.6,273.7 417.1,271.1 417.6,272.1 418.1,272.4 418.6,270.7 419.1,271.1 419.6,268.8 420.1,268.3 420.6,270.4 421.1,266.7 421.6,266.7 422.0,265.8 422.1,264.0 422.6,261.5 423.1,262.7 423.6,260.4 424.1,259.2 424.2,259.4 424.6,259.3 425.1,257.7 425.6,261.3 426.0,261.8 426.1,262.8 426.6,262.7 427.1,263.6 427.6,264.1 427.7,262.7 428.1,266.7 428.6,265.5 429.1,268.3 429.6,269.8 430.0,271.3 430.1,271.2 430.6,272.9 431.1,272.7 431.6,275.0 432.1,276.3 432.3,276.4 432.6,277.4 433.1,280.0 433.6,276.7 434.0,276.8 434.1,275.2 434.6,275.4 435.1,276.9 435.6,275.2 436.1,276.0 436.6,275.3 436.9,275.1 437.1,276.7 437.6,275.5 438.1,276.0 438.5,275.4 438.6,277.5 439.0,275.5 439.1,276.7 439.6,276.5 440.1,274.9 440.4,275.6 440.6,274.6 441.1,275.7 441.6,276.8 442.0,275.1 442.1,275.6 442.6,278.4 443.1,275.1 443.6,275.6 443.9,275.9 444.1,273.4 444.6,274.7 445.1,275.0 445.6,275.4 446.0,276.7 446.1,276.6 446.6,277.3 447.1,277.1 447.6,276.6 448.1,276.6 448.5,279.9 448.6,276.5 449.1,276.0 449.6,276.6 450.0,276.9 450.1,278.3 450.6,279.8 451.1,277.0 451.6,278.2 451.9,278.1 452.1,276.8 452.6,277.3 453.1,276.4 453.6,278.1 454.1,277.1 454.6,275.0 455.0,275.6 455.1,276.7 455.4,276.8 455.6,277.6 456.1,274.8 456.6,276.3 457.0,276.0 457.1,275.3 457.6,276.4 458.1,276.1 458.6,276.1 459.1,276.4 459.6,274.9 460.0,274.6 460.1,274.6 460.6,275.3 461.1,275.4 461.6,274.9 462.0,275.5 462.1,275.8 462.6,275.6 463.1,277.4 463.6,276.3 464.1,276.7 464.2,276.5 464.6,274.3 465.1,275.6 465.6,274.6 466.1,275.5 466.5,275.6 466.6,272.7 467.1,274.9 467.6,275.9 468.1,274.4 468.6,275.2 469.0,273.8 469.1,275.2 469.6,274.6 470.1,274.8 470.6,272.5 471.1,273.8 471.6,273.5 472.0,273.3 472.1,274.3 472.6,273.6 473.1,273.9 473.6,273.6 474.0,274.6 474.1,273.4 474.6,273.6 475.1,274.0 475.6,274.3 476.0,274.0 476.1,273.2 476.6,273.3 477.1,273.4 477.6,274.1 478.0,273.6 478.1,275.7 478.6,274.6 479.1,274.8 479.6,275.9 480.1,279.8 480.4,276.7 480.6,276.9 481.1,274.2 481.6,273.2 482.1,270.6 482.5,267.4 482.6,266.9 483.1,260.2 483.6,255.4 483.8,251.4 484.1,252.8 484.4,257.9 484.6,259.6 485.0,263.6 485.1,261.9 485.6,261.6 486.1,263.3 486.6,264.2 487.1,264.1 487.6,264.5 488.1,264.6 488.5,264.9 488.6,267.4 489.1,278.6 489.2,279.5 489.6,281.6 490.1,282.3 490.6,281.6 490.8,283.2 491.1,283.3 491.6,283.3 492.1,283.3 492.6,282.8 493.1,285.4 493.6,283.3 494.1,283.3 494.2,282.9 494.6,282.5 495.1,283.9 495.6,284.0 496.1,284.1 496.6,283.8 497.1,284.2 497.6,284.1 498.1,283.9 498.6,284.2 499.1,284.3 499.6,283.5 500.1,284.3 500.6,284.3 501.1,284.3 501.2,283.4 501.6,284.1 502.1,285.0 502.6,283.9 503.1,284.8 503.6,284.1 504.1,284.1 504.6,283.3 505.1,283.9 505.6,284.0 506.1,283.6 506.6,283.9 507.1,284.0 507.6,283.6 508.1,283.2 508.6,283.4 509.1,283.6 509.6,283.1 510.0,282.2 510.1,284.3 510.6,283.5 511.1,284.3 511.6,283.2 512.1,283.2 512.6,283.8 513.1,282.9 513.6,283.6 514.1,283.0 514.6,283.1 515.1,283.7 515.6,283.6 516.1,283.1 516.6,283.1 517.1,281.8 517.3,282.6 517.6,282.3 518.1,281.8 518.6,280.5 519.1,279.9 519.6,279.2 520.1,280.1 520.6,279.1 521.1,279.3 521.6,279.4 522.0,279.4 522.1,279.7 522.6,279.8 523.1,279.6 523.6,279.9 524.1,279.7 524.6,280.2 525.1,280.1 525.6,279.8 526.1,281.1 526.6,280.2 527.1,281.2 527.6,281.4 528.1,281.2 528.6,281.1 528.8,281.4 529.1,282.0 529.6,280.8 530.1,281.1 530.6,281.7 531.1,281.9 531.2,282.1 531.6,279.9 532.1,277.2 532.6,275.2 533.1,272.2 533.5,270.3 533.6,271.4 534.1,274.0 534.6,276.2" fill="none" stroke="#a8202e" stroke-width="1.15" stroke-linejoin="round" stroke-opacity="1.0"/>
<polyline points="291.6,233.1 292.0,234.1 292.1,234.2 292.6,235.9 293.1,235.4 293.6,235.3 294.0,238.0 294.1,237.9 294.6,239.5 295.0,239.1 295.1,238.9 295.6,239.7 296.1,240.4 296.5,240.2 296.6,240.1 297.1,240.9 297.6,237.8 298.0,239.8 298.1,240.4 298.6,238.3 299.0,239.1 299.1,237.0 299.6,238.1 300.1,238.3 300.6,237.7 301.1,237.0 301.2,237.7 301.6,237.6 302.1,238.3 302.6,238.4 303.0,239.8 303.1,239.4 303.6,238.9 304.1,239.1 304.6,239.0 305.0,239.2 305.1,240.3 305.6,240.6 305.8,240.0 306.1,239.1 306.6,238.0 307.1,238.4 307.6,238.9 308.0,239.4 308.1,237.7 308.6,238.4 309.1,238.3 309.6,238.4 310.1,236.5 310.6,237.0 311.1,236.0 311.5,234.0 311.6,235.4 312.1,236.9 312.6,238.9 313.0,239.2 313.1,239.8 313.6,241.5 314.1,242.8 314.6,243.5 315.0,245.1 315.1,244.4 315.6,244.9 316.1,247.8 316.6,243.5 317.0,245.8 317.1,246.9 317.6,246.5 318.1,248.0 318.6,247.0 319.1,246.4 319.6,244.2 320.0,247.3 320.1,251.4 320.6,250.3 321.1,250.9 321.6,247.9 322.0,249.3 322.1,252.4 322.6,252.5 323.1,253.5 323.6,257.7 324.1,257.2 324.2,252.2 324.6,254.7 325.1,253.2 325.6,250.7 326.1,253.0 326.5,247.8 326.6,248.6 327.1,248.3 327.6,249.6 328.1,248.9 328.6,248.8 329.1,249.8 329.6,249.6 330.1,250.7 330.6,250.0 331.0,250.2 331.1,250.8 331.6,250.6 332.1,251.8 332.6,251.8 333.1,253.2 333.6,251.4 334.1,251.9 334.6,252.0 335.0,252.1 335.1,248.1 335.6,250.8 336.0,254.6 336.1,250.5 336.6,250.5 337.1,251.4 337.6,252.8 338.0,253.3 338.1,252.9 338.6,255.1 339.1,252.7 339.6,256.6 340.1,256.6 340.4,255.5 340.6,257.7 341.0,256.5 341.1,256.8 341.6,255.2 342.1,254.7 342.6,254.9 343.0,252.9 343.1,253.2 343.6,252.1 344.1,251.7 344.6,251.9 345.0,251.1 345.1,253.0 345.6,248.3 346.1,244.6 346.6,241.4 347.0,238.9 347.1,239.0 347.6,236.3 348.1,234.8 348.5,230.1 348.6,229.9 349.1,233.0 349.6,234.3 350.1,237.1 350.6,237.5 350.8,238.3 351.1,242.4 351.6,249.1 352.0,249.1 352.1,249.8 352.6,252.6 353.1,255.7 353.6,257.5 354.1,264.2 354.2,265.6 354.6,261.1 355.1,262.7 355.6,262.0 356.0,262.6 356.1,264.3 356.6,260.7 357.1,258.9 357.6,257.6 358.1,257.6 358.6,255.3 358.8,255.0 359.1,254.5 359.6,255.6 360.1,257.4 360.6,258.1 361.0,259.3 361.1,259.0 361.6,258.1 362.1,261.2 362.6,258.4 363.0,258.0 363.1,258.6 363.5,259.4 363.6,258.3 364.1,256.5 364.6,253.7 365.1,257.8 365.6,254.7 366.1,255.7 366.6,254.3 367.0,255.5 367.1,255.9 367.6,254.7 368.1,255.1 368.6,255.0 369.1,253.5 369.6,253.3 370.0,251.2 370.1,251.6 370.4,250.1 370.6,250.0 371.1,251.7 371.6,253.0 372.0,254.0 372.1,253.5 372.6,252.7 373.1,252.7 373.6,252.4 374.1,253.7 374.6,252.7 375.1,253.6 375.6,253.7 375.8,254.9 376.1,254.5 376.6,256.8 377.1,253.2 377.6,254.5 378.0,254.5 378.1,253.0 378.6,253.6 379.1,257.5 379.6,255.7 380.1,256.9 380.4,257.1 380.6,256.6 381.1,256.9 381.6,256.8 382.1,257.7 382.6,258.8 383.0,258.1 383.1,257.8 383.6,257.4 384.1,259.2 384.6,259.4 385.1,258.9 385.6,259.4 386.1,260.3 386.2,260.4 386.6,262.0 387.1,263.5 387.6,263.5 388.1,263.2 388.5,263.8 388.6,265.5 389.1,265.3 389.6,265.1 390.1,266.9 390.6,267.6 391.1,268.3 391.6,269.3 392.0,269.0 392.1,269.8 392.6,270.5 393.1,270.7 393.6,271.6 394.1,272.7 394.6,274.3 395.1,272.9 395.4,272.0 395.6,270.6 396.1,273.9 396.6,273.1 397.1,273.1 397.6,273.3 398.1,272.3 398.6,274.3 399.1,272.5 399.6,277.7 400.0,273.6 400.1,270.5 400.6,274.3 401.1,271.8 401.6,274.4 402.1,276.1 402.6,276.5 403.1,276.2 403.6,274.9 404.1,278.1 404.6,277.7 405.1,267.2 405.6,258.1 405.8,253.4 406.1,257.6 406.6,254.4 407.0,255.5 407.1,257.9 407.6,256.4 408.1,259.7 408.6,260.4 409.1,259.7 409.2,260.4 409.6,258.6 410.1,260.0 410.6,259.5 411.1,260.3 411.6,259.3 412.1,258.5 412.6,259.9 413.0,262.0 413.1,257.1 413.6,260.5 414.1,258.5 414.6,258.1 415.1,259.1 415.6,257.8 416.1,257.6 416.2,258.3 416.6,258.7 417.1,256.0 417.6,255.1 418.1,256.9 418.6,256.2 419.1,256.9 419.6,254.9 420.1,251.8 420.6,251.6 421.1,250.4 421.6,249.1 422.0,249.1 422.1,247.0 422.6,243.9 423.1,245.5 423.6,243.4 424.1,242.2 424.2,243.2 424.6,243.5 425.1,242.1 425.6,244.2 426.0,245.2 426.1,246.4 426.6,245.9 427.1,245.8 427.6,248.1 427.7,246.9 428.1,251.4 428.6,251.0 429.1,254.8 429.6,255.9 430.0,257.8 430.1,258.2 430.6,264.3 431.1,261.0 431.6,266.7 432.1,265.6 432.3,266.8 432.6,264.2 433.1,266.6 433.6,262.5 434.0,261.3 434.1,261.1 434.6,260.2 435.1,260.5 435.6,259.7 436.1,259.5 436.6,257.9 436.9,257.7 437.1,258.4 437.6,256.9 438.1,256.5 438.5,256.1 438.6,258.2 439.0,254.6 439.1,255.3 439.6,256.7 440.1,252.0 440.4,255.2 440.6,255.1 441.1,255.4 441.6,258.4 442.0,259.4 442.1,258.6 442.6,257.5 443.1,261.0 443.6,258.8 443.9,257.9 444.1,258.4 444.6,257.3 445.1,257.0 445.6,258.3 446.0,259.0 446.1,259.0 446.6,260.1 447.1,259.0 447.6,259.5 448.1,259.8 448.5,260.0 448.6,260.4 449.1,261.7 449.6,262.3 450.0,263.3 450.1,265.7 450.6,268.8 451.1,267.5 451.6,269.1 451.9,270.6 452.1,269.2 452.6,270.2 453.1,270.3 453.6,269.9 454.1,272.4 454.6,269.1 455.0,269.8 455.1,270.1 455.4,269.8 455.6,270.5 456.1,267.7 456.6,269.2 457.0,268.5 457.1,268.0 457.6,267.7 458.1,268.3 458.6,269.3 459.1,268.1 459.6,264.4 460.0,267.2 460.1,267.1 460.6,266.7 461.1,267.3 461.6,267.3 462.0,267.3 462.1,267.6 462.6,267.3 463.1,267.1 463.6,265.6 464.1,267.0 464.2,267.5 464.6,264.1 465.1,265.7 465.6,264.9 466.1,266.1 466.5,265.9 466.6,265.2 467.1,264.7 467.6,265.4 468.1,264.7 468.6,264.3 469.0,264.4 469.1,264.7 469.6,264.4 470.1,263.8 470.6,261.5 471.1,263.5 471.6,263.1 472.0,265.1 472.1,264.8 472.6,263.1 473.1,262.9 473.6,262.5 474.0,263.4 474.1,262.7 474.6,262.7 475.1,264.7 475.6,264.9 476.0,263.8 476.1,263.6 476.6,263.2 477.1,263.6 477.6,264.0 478.0,264.1 478.1,267.5 478.6,265.6 479.1,265.7 479.6,266.7 480.1,271.3 480.4,268.5 480.6,268.0 481.1,264.4 481.6,262.4 482.1,260.6 482.5,257.1 482.6,257.3 483.1,252.0 483.6,246.3 483.8,243.3 484.1,245.0 484.4,248.2 484.6,249.9 485.0,253.5 485.1,251.3 485.6,250.3 486.1,251.6 486.6,252.7 487.1,253.3 487.6,253.4 488.1,253.6 488.5,253.8 488.6,256.8 489.1,269.5 489.2,270.8 489.6,273.2 490.1,274.3 490.6,275.2 490.8,275.6 491.1,275.7 491.6,275.3 492.1,275.9 492.6,275.6 493.1,276.8 493.6,275.7 494.1,275.6 494.2,275.7 494.6,275.2 495.1,276.6 495.6,276.7 496.1,277.2 496.6,276.8 497.1,277.0 497.6,277.2 498.1,276.9 498.6,277.1 499.1,277.3 499.6,277.2 500.1,276.6 500.6,277.5 501.1,277.5 501.2,276.1 501.6,277.0 502.1,277.5 502.6,276.8 503.1,277.0 503.6,277.2 504.1,277.1 504.6,276.6 505.1,276.8 505.6,277.1 506.1,276.6 506.6,276.6 507.1,276.5 507.6,276.4 508.1,276.4 508.6,276.3 509.1,276.7 509.6,276.1 510.0,275.2 510.1,276.3 510.6,276.9 511.1,277.9 511.6,276.3 512.1,276.2 512.6,276.8 513.1,276.3 513.6,276.5 514.1,276.0 514.6,275.8 515.1,276.3 515.6,276.0 516.1,276.1 516.6,275.9 517.1,275.7 517.3,275.7 517.6,275.3 518.1,274.6 518.6,273.9 519.1,272.7 519.6,272.1 520.1,272.7 520.6,271.8 521.1,272.4 521.6,272.0 522.0,272.1 522.1,272.3 522.6,272.4 523.1,272.1 523.6,272.4 524.1,272.8 524.6,272.6 525.1,273.0 525.6,271.7 526.1,273.2 526.6,272.2 527.1,273.1 527.6,273.2 528.1,273.4 528.6,273.3 528.8,274.0 529.1,274.5 529.6,273.3 530.1,273.8 530.6,274.4 531.1,274.2 531.2,274.1 531.6,270.4 532.1,266.3 532.6,262.2 533.1,257.5 533.5,254.4 533.6,255.6 534.1,258.8 534.6,262.3" fill="none" stroke="#a0a030" stroke-width="1.15" stroke-linejoin="round" stroke-opacity="1.0"/>
<rect x="327" y="322" width="177" height="26.5" fill="none" stroke="#f4f4f4" stroke-width="0.8"/>
<line x1="331.6" y1="327.6" x2="348.4" y2="327.6" stroke="#4a72c8" stroke-width="1.0" stroke-opacity="1.0"/>
<text x="351.4" y="329.8" text-anchor="start" font-size="6.6" fill="#1e1e1e">JPN 10 YR</text>
<line x1="387.8" y1="327.6" x2="404.4" y2="327.6" stroke="#ee8030" stroke-width="1.0" stroke-opacity="1.0"/>
<text x="407.3" y="329.8" text-anchor="start" font-size="6.6" fill="#1e1e1e">JPN 1 YR</text>
<line x1="443.6" y1="327.6" x2="459.8" y2="327.6" stroke="#3fa45a" stroke-width="1.0" stroke-opacity="1.0"/>
<text x="462.5" y="329.8" text-anchor="start" font-size="6.6" fill="#1e1e1e">JPN 20 YR</text>
<line x1="331.6" y1="335.5" x2="348.4" y2="335.5" stroke="#e0283a" stroke-width="1.0" stroke-opacity="1.0"/>
<text x="351.4" y="337.7" text-anchor="start" font-size="6.6" fill="#1e1e1e">JPN 2 YR</text>
<line x1="387.8" y1="335.5" x2="404.4" y2="335.5" stroke="#404040" stroke-width="1.0" stroke-opacity="1.0"/>
<text x="407.3" y="337.7" text-anchor="start" font-size="6.6" fill="#1e1e1e">JPN 30 YR</text>
<line x1="443.6" y1="335.5" x2="459.8" y2="335.5" stroke="#7050c0" stroke-width="1.0" stroke-opacity="1.0"/>
<text x="462.5" y="337.7" text-anchor="start" font-size="6.6" fill="#1e1e1e">JPN 3 YR</text>
<line x1="331.6" y1="343.5" x2="348.4" y2="343.5" stroke="#a8202e" stroke-width="1.0" stroke-opacity="1.0"/>
<text x="351.4" y="345.7" text-anchor="start" font-size="6.6" fill="#1e1e1e">JPN 5 YR</text>
<line x1="387.8" y1="343.5" x2="404.4" y2="343.5" stroke="#a0a030" stroke-width="1.0" stroke-opacity="1.0"/>
<text x="407.3" y="345.7" text-anchor="start" font-size="6.6" fill="#1e1e1e">JPN 7 YR</text>
<line x1="17.5" y1="474.5" x2="248" y2="474.5" stroke="#f4f4f4" stroke-width="0.8"/>
<line x1="17.5" y1="458.2" x2="248" y2="458.2" stroke="#f4f4f4" stroke-width="0.8"/>
<line x1="17.5" y1="441.9" x2="248" y2="441.9" stroke="#f4f4f4" stroke-width="0.8"/>
<line x1="17.5" y1="425.6" x2="248" y2="425.6" stroke="#f4f4f4" stroke-width="0.8"/>
<line x1="17.5" y1="409.3" x2="248" y2="409.3" stroke="#f4f4f4" stroke-width="0.8"/>
<line x1="17.5" y1="393.0" x2="248" y2="393.0" stroke="#f4f4f4" stroke-width="0.8"/>
<line x1="17.5" y1="376.7" x2="248" y2="376.7" stroke="#f4f4f4" stroke-width="0.8"/>
<line x1="17.5" y1="360.4" x2="248" y2="360.4" stroke="#f4f4f4" stroke-width="0.8"/>
<line x1="48.7" y1="360.4" x2="48.7" y2="474.5" stroke="#f4f4f4" stroke-width="0.8"/>
<line x1="72.0" y1="360.4" x2="72.0" y2="474.5" stroke="#f4f4f4" stroke-width="0.8"/>
<line x1="95.4" y1="360.4" x2="95.4" y2="474.5" stroke="#f4f4f4" stroke-width="0.8"/>
<line x1="118.8" y1="360.4" x2="118.8" y2="474.5" stroke="#f4f4f4" stroke-width="0.8"/>
<line x1="141.8" y1="360.4" x2="141.8" y2="474.5" stroke="#f4f4f4" stroke-width="0.8"/>
<line x1="165.1" y1="360.4" x2="165.1" y2="474.5" stroke="#f4f4f4" stroke-width="0.8"/>
<line x1="188.3" y1="360.4" x2="188.3" y2="474.5" stroke="#f4f4f4" stroke-width="0.8"/>
<line x1="211.4" y1="360.4" x2="211.4" y2="474.5" stroke="#f4f4f4" stroke-width="0.8"/>
<line x1="233.7" y1="360.4" x2="233.7" y2="474.5" stroke="#f4f4f4" stroke-width="0.8"/>
<line x1="26.0" y1="360.4" x2="26.0" y2="474.5" stroke="#f4f4f4" stroke-width="0.8"/>
<line x1="248.0" y1="360.4" x2="248.0" y2="474.5" stroke="#f4f4f4" stroke-width="0.8"/>
<text x="14.8" y="476.7" text-anchor="end" font-size="6.35" fill="#1e1e1e">0</text>
<text x="14.8" y="460.4" text-anchor="end" font-size="6.35" fill="#1e1e1e">10</text>
<text x="14.8" y="444.1" text-anchor="end" font-size="6.35" fill="#1e1e1e">20</text>
<text x="14.8" y="427.8" text-anchor="end" font-size="6.35" fill="#1e1e1e">30</text>
<text x="14.8" y="411.5" text-anchor="end" font-size="6.35" fill="#1e1e1e">40</text>
<text x="14.8" y="395.2" text-anchor="end" font-size="6.35" fill="#1e1e1e">50</text>
<text x="14.8" y="378.9" text-anchor="end" font-size="6.35" fill="#1e1e1e">60</text>
<text x="14.8" y="362.6" text-anchor="end" font-size="6.35" fill="#1e1e1e">70</text>
<text x="18.5" y="483.4" text-anchor="middle" font-size="6.35" fill="#1e1e1e">2012</text>
<text x="36.9" y="483.4" text-anchor="middle" font-size="6.35" fill="#1e1e1e">2013</text>
<text x="60.5" y="483.4" text-anchor="middle" font-size="6.35" fill="#1e1e1e">2014</text>
<text x="83.6" y="483.4" text-anchor="middle" font-size="6.35" fill="#1e1e1e">2015</text>
<text x="107.3" y="483.4" text-anchor="middle" font-size="6.35" fill="#1e1e1e">2016</text>
<text x="130.2" y="483.4" text-anchor="middle" font-size="6.35" fill="#1e1e1e">2017</text>
<text x="153.5" y="483.4" text-anchor="middle" font-size="6.35" fill="#1e1e1e">2018</text>
<text x="176.7" y="483.4" text-anchor="middle" font-size="6.35" fill="#1e1e1e">2019</text>
<text x="200.0" y="483.4" text-anchor="middle" font-size="6.35" fill="#1e1e1e">2020</text>
<text x="222.9" y="483.4" text-anchor="middle" font-size="6.35" fill="#1e1e1e">2021</text>
<text x="244.5" y="483.4" text-anchor="middle" font-size="6.35" fill="#1e1e1e">2022</text>
<polyline points="17.4,415.2 17.9,408.3 18.4,402.6 18.5,400.7 18.9,402.4 19.3,403.2 19.4,403.5 19.9,406.4 20.0,407.9 20.4,410.9 20.5,412.2 20.9,416.7 21.0,416.6 21.3,419.7 21.4,420.8 21.9,425.3 22.0,425.4 22.3,429.2 22.4,428.6 22.9,424.6 23.0,423.0 23.4,421.9 23.9,417.1 24.0,416.9 24.4,416.5 24.9,413.6 25.0,411.8 25.4,409.4 25.9,408.7 26.4,408.1 26.9,404.3 27.2,403.4 27.4,407.0 27.5,401.7 27.9,404.5 28.4,407.7 28.8,408.0 28.9,408.9 29.4,410.9 29.9,412.4 30.0,412.3 30.4,415.7 30.9,413.8 31.4,415.1 31.9,418.2 32.4,418.3 32.9,420.6 33.0,421.4 33.4,422.0 33.5,422.4 33.9,424.3 34.4,424.2 34.9,426.1 35.0,425.4 35.4,426.3 35.9,427.1 36.4,427.6 36.9,427.8 37.4,429.3 37.5,428.6 37.9,430.6 38.4,430.5 38.9,430.2 39.4,432.1 39.9,434.2 40.0,434.2 40.4,435.7 40.9,436.8 41.0,437.7 41.4,439.1 41.9,439.7 42.0,441.0 42.4,439.9 42.9,442.4 43.0,441.6 43.4,441.4 43.9,442.4 44.0,443.4 44.4,441.6 44.9,441.7 45.0,442.0 45.4,440.3 45.9,439.5 46.4,438.6 46.9,433.3 47.0,436.5 47.4,435.7 47.9,435.5 48.4,433.5 48.9,434.3 49.0,431.8 49.4,432.3 49.9,432.2 50.0,431.8 50.4,432.5 50.9,432.7 51.0,431.9 51.4,431.1 51.9,431.4 52.4,429.6 52.9,427.8 53.0,427.9 53.4,427.9 53.9,428.0 54.4,428.0 54.9,428.0 55.0,427.9 55.4,427.4 55.9,428.1 56.4,427.8 56.9,426.9 57.0,427.2 57.4,427.5 57.9,426.9 58.4,429.5 58.9,428.6 59.4,428.3 59.9,430.0 60.0,428.9 60.4,430.6 60.9,430.3 61.4,430.5 61.9,430.2 62.3,429.3 62.4,429.3 62.9,431.0 63.4,431.7 63.9,432.4 64.0,431.7 64.4,431.4 64.6,432.1 64.9,432.1 65.0,432.7 65.4,434.2 65.5,435.6 65.9,435.5 66.0,434.5 66.4,434.5 66.9,435.8 67.4,436.0 67.9,436.0 68.4,436.3 68.8,437.1 68.9,438.7 69.2,437.8 69.4,437.9 69.9,437.4 70.0,435.9 70.4,438.1 70.9,438.8 71.4,438.7 71.9,440.2 72.0,439.7 72.4,440.2 72.9,440.9 73.0,442.6 73.2,442.6 73.4,442.9 73.9,440.0 74.4,441.3 74.9,441.3 75.0,436.7 75.0,441.2 75.2,436.7 75.4,441.6 75.9,440.8 76.4,440.8 76.9,440.7 77.4,440.6 77.5,444.9 77.7,444.9 77.9,441.1 78.4,441.0 78.9,441.2 79.4,440.7 79.5,437.3 79.7,437.3 79.9,441.9 80.0,442.0 80.4,442.5 80.9,441.9 81.4,441.2 81.9,441.4 82.4,441.6 82.5,441.2 82.7,441.2 82.9,442.3 83.4,441.8 83.9,442.3 84.4,441.3 84.9,442.2 85.0,440.4 85.0,442.3 85.2,440.4 85.4,442.9 85.9,442.7 86.4,443.8 86.5,443.3 86.7,443.3 86.9,444.3 87.4,444.4 87.9,443.7 88.4,443.9 88.5,442.6 88.7,442.6 88.9,445.5 89.4,443.8 89.9,443.3 90.0,442.8 90.4,443.9 90.9,444.1 91.0,446.3 91.2,446.3 91.4,444.2 91.9,443.2 92.4,443.1 92.9,443.4 93.4,442.8 93.5,445.7 93.7,445.7 93.9,442.8 94.4,443.3 94.9,443.6 95.0,445.4 95.2,445.4 95.4,442.7 95.9,441.9 96.0,442.4 96.4,439.8 96.9,434.7 97.0,431.4 97.4,433.6 97.5,437.8 97.7,437.8 97.9,432.4 98.4,432.5 98.9,431.9 99.4,433.0 99.9,433.1 100.4,434.6 100.5,428.8 100.7,428.8 100.9,432.8 101.4,433.6 101.9,433.2 102.4,434.4 102.9,433.5 103.4,434.1 103.5,431.1 103.7,431.1 103.9,433.8 104.4,434.6 104.9,433.8 105.0,433.6 105.4,436.7 105.9,434.3 106.0,437.5 106.2,437.5 106.4,434.2 106.9,433.7 107.4,434.2 107.9,433.7 108.4,434.1 108.9,434.4 109.0,439.7 109.2,439.7 109.4,434.2 109.9,434.7 110.0,434.9 110.4,435.3 110.9,435.1 111.4,434.4 111.5,438.7 111.7,438.7 111.9,433.8 112.4,434.1 112.9,434.1 113.4,435.9 113.9,436.3 114.0,433.1 114.2,433.1 114.4,435.4 114.9,435.0 115.0,435.2 115.4,434.7 115.9,435.5 116.0,435.5 116.2,435.5 116.4,434.7 116.9,435.3 117.4,434.8 117.9,434.8 118.4,434.2 118.9,435.1 119.0,434.5 119.2,434.5 119.4,436.1 119.9,435.7 120.4,435.2 120.9,435.8 121.4,436.6 121.9,436.3 122.0,431.8 122.2,431.8 122.4,433.7 122.9,436.9 123.4,437.0 123.8,438.0 123.9,433.9 124.4,419.3 124.9,404.3 125.0,401.6 125.4,401.7 125.9,401.4 126.4,402.6 126.9,404.6 127.3,404.6 127.4,405.0 127.9,405.6 128.0,405.4 128.4,406.2 128.9,407.4 129.4,408.6 129.6,407.5 129.9,407.9 130.4,410.4 130.9,410.5 131.0,410.2 131.4,411.6 131.9,411.9 132.4,411.2 132.9,411.9 133.1,411.5 133.4,412.7 133.9,413.9 134.4,413.9 134.9,414.4 135.0,412.9 135.4,414.0 135.9,413.4 136.4,414.2 136.5,411.3 136.9,417.3 137.4,421.3 137.5,423.0 137.9,429.9 138.4,432.1 138.8,436.4 138.9,434.6 139.4,429.3 139.9,426.4 140.0,425.5 140.4,425.0 140.9,425.0 141.4,425.9 141.9,426.8 142.3,424.5 142.4,425.4 142.9,424.5 143.4,424.4 143.5,425.4 143.9,425.3 144.4,426.4 144.6,426.2 144.9,426.9 145.0,426.9 145.4,426.7 145.9,427.6 146.0,427.8 146.4,428.2 146.9,427.6 147.4,429.0 147.9,429.7 148.0,428.6 148.4,429.9 148.9,428.1 149.4,430.3 149.9,431.7 150.4,431.8 150.9,431.0 151.4,431.9 151.9,432.5 152.4,431.5 152.9,432.6 153.0,432.6 153.4,432.2 153.9,431.1 154.4,429.6 154.9,432.5 155.0,433.4 155.4,433.8 155.9,434.1 156.4,434.8 156.9,435.8 157.3,435.1 157.4,433.0 157.9,435.0 158.4,435.4 158.9,437.8 159.0,435.9 159.4,435.8 159.9,436.0 160.4,437.0 160.9,436.1 161.4,435.8 161.9,436.5 162.4,437.0 162.9,436.1 163.0,437.5 163.4,437.1 163.9,436.3 164.4,438.4 164.9,437.6 165.4,436.8 165.9,436.8 166.4,436.2 166.9,435.0 167.0,434.3 167.4,434.7 167.9,433.3 168.4,432.2 168.8,431.2 168.9,432.9 169.4,432.8 169.9,432.6 170.4,432.5 170.9,435.0 171.0,432.1 171.4,432.5 171.9,431.5 172.4,432.5 172.9,431.8 173.4,429.8 173.5,430.8 173.9,431.3 174.4,432.4 174.9,433.4 175.4,433.9 175.9,434.2 176.0,433.4 176.4,435.5 176.9,434.6 177.4,435.3 177.9,435.0 178.1,435.5 178.4,434.7 178.9,435.7 179.4,435.1 179.9,436.0 180.0,435.7 180.4,434.1 180.9,435.8 181.4,435.3 181.9,434.6 182.0,437.9 182.4,435.4 182.9,436.9 183.4,436.6 183.9,436.0 184.4,435.8 184.9,438.0 185.0,435.8 185.4,436.6 185.9,436.6 186.4,435.4 186.9,437.3 187.0,437.6 187.4,437.4 187.9,435.2 188.4,437.7 188.9,437.0 189.4,437.3 189.9,437.8 190.0,438.0 190.4,438.7 190.9,439.1 191.4,438.7 191.9,439.2 192.4,440.4 192.9,439.1 193.4,439.4 193.5,439.9 193.9,441.1 194.4,441.7 194.9,441.6 195.0,440.9 195.4,441.3 195.9,441.2 196.4,442.6 196.9,441.6 197.0,442.6 197.4,437.8 197.9,428.7 198.0,427.6 198.4,419.7 198.9,412.7 199.2,407.0 199.4,406.7 199.9,407.8 200.3,407.6 200.4,409.3 200.9,408.9 201.4,410.8 201.5,411.6 201.9,412.9 202.4,412.9 202.5,416.6 202.9,417.1 203.4,419.9 203.8,421.0 203.9,419.9 204.4,423.4 204.9,427.4 205.0,428.2 205.4,430.4 205.9,434.2 206.2,434.6 206.4,434.7 206.9,435.3 207.0,436.3 207.4,437.4 207.9,437.3 208.4,437.5 208.5,437.1 208.9,437.7 209.4,438.2 209.9,438.0 210.0,438.4 210.4,438.6 210.8,437.7 210.9,438.6 211.4,438.9 211.9,437.6 212.0,438.7 212.4,440.0 212.9,438.9 213.4,439.2 213.9,439.4 214.0,438.9 214.4,440.0 214.9,439.9 215.4,439.9 215.9,439.7 216.4,439.6 216.9,439.7 217.4,439.5 217.9,439.5 218.0,439.8 218.1,436.4 218.4,436.9 218.9,436.9 219.4,437.0 219.9,436.8 220.4,437.0 220.6,436.9 220.9,441.1 221.0,442.5 221.4,442.3 221.9,442.0 222.4,442.5 222.9,442.3 223.4,442.5 223.9,442.4 224.4,442.6 224.9,442.6 225.4,442.6 225.9,442.5 226.4,442.7 226.9,442.5 227.4,442.6 227.9,442.5 228.4,442.4 228.9,442.4 229.4,442.0 229.9,442.3 230.4,442.4 230.9,442.3 231.4,442.6 231.9,442.0 232.0,442.6 232.4,440.3 232.5,439.9 232.9,439.9 233.4,439.9 233.9,439.9 234.4,440.1 234.9,444.1 235.0,444.9 235.4,444.9 235.9,444.8 236.4,444.5 236.9,444.6 237.4,444.9 237.9,444.6 238.4,444.6 238.9,444.9 239.4,444.8 239.9,444.7 240.4,445.1 240.9,444.3 241.4,444.8 241.9,444.8 242.0,444.9 242.4,436.1 242.5,433.3 242.9,433.8 243.4,434.3 243.5,434.7 243.9,435.1 244.4,435.6 244.9,436.0 245.0,436.0 245.4,436.5 245.9,436.2 246.4,436.4 246.9,436.4 247.4,436.7 247.7,436.7" fill="none" stroke="#4a72c8" stroke-width="1.15" stroke-linejoin="round" stroke-opacity="1.0"/>
<polyline points="17.4,466.2 17.9,464.4 18.4,463.2 18.5,462.3 18.9,463.6 19.3,465.2 19.4,465.8 19.9,464.9 20.0,465.5 20.4,466.2 20.5,466.9 20.9,467.5 21.0,467.3 21.3,468.3 21.4,467.8 21.9,469.7 22.0,469.8 22.3,469.2 22.4,469.7 22.9,468.4 23.0,467.8 23.4,467.7 23.9,466.4 24.0,466.4 24.4,466.2 24.9,465.3 25.0,463.9 25.4,462.7 25.9,463.2 26.4,462.5 26.9,461.1 27.2,460.7 27.4,462.1 27.5,459.0 27.9,460.4 28.4,461.4 28.8,461.2 28.9,461.5 29.4,462.3 29.9,462.8 30.0,462.5 30.4,462.7 30.9,463.0 31.4,463.5 31.9,464.2 32.4,464.8 32.9,464.9 33.0,467.1 33.4,466.0 33.5,466.1 33.9,466.5 34.4,466.0 34.9,466.8 35.0,466.6 35.4,467.2 35.9,467.2 36.4,467.0 36.9,466.8 37.4,467.6 37.5,467.3 37.9,468.0 38.4,467.5 38.9,467.2 39.4,468.0 39.9,468.6 40.0,468.9 40.4,469.1 40.9,469.1 41.0,469.5 41.4,469.6 41.9,469.2 42.0,469.7 42.4,469.2 42.9,470.5 43.0,469.6 43.4,469.7 43.9,470.1 44.0,472.2 44.4,470.1 44.9,470.7 45.0,470.7 45.4,470.7 45.9,470.1 46.4,469.4 46.9,466.9 47.0,468.8 47.4,468.5 47.9,468.7 48.4,467.8 48.9,468.5 49.0,467.6 49.4,467.6 49.9,467.6 50.0,467.1 50.4,467.2 50.9,467.7 51.0,467.2 51.4,467.2 51.9,467.5 52.4,466.5 52.9,466.4 53.0,466.5 53.4,466.6 53.9,466.6 54.4,467.0 54.9,467.0 55.0,466.8 55.4,467.0 55.9,466.9 56.4,467.3 56.9,466.7 57.0,467.6 57.4,467.4 57.9,467.1 58.4,468.3 58.9,467.7 59.4,467.5 59.9,468.1 60.0,467.3 60.4,468.2 60.9,468.0 61.4,467.8 61.9,467.7 62.3,468.3 62.4,466.7 62.9,468.6 63.4,468.8 63.9,468.6 64.0,468.4 64.4,468.3 64.6,468.6 64.9,468.6 65.0,468.9 65.4,469.4 65.5,470.2 65.9,468.7 66.0,469.3 66.4,469.4 66.9,471.2 67.4,469.7 67.9,469.6 68.4,469.1 68.8,469.3 68.9,470.3 69.2,469.5 69.4,469.3 69.9,469.1 70.0,468.2 70.4,469.0 70.9,469.4 71.4,470.5 71.9,469.7 72.0,469.2 72.4,468.8 72.9,469.9 73.4,471.0 73.9,469.5 74.4,469.7 74.9,470.0 75.0,469.7 75.4,469.6 75.9,469.3 76.4,469.9 76.9,469.2 77.4,469.1 77.9,469.2 78.4,469.3 78.9,469.2 79.4,469.3 79.9,469.9 80.0,469.5 80.4,469.5 80.9,469.2 81.4,469.1 81.9,469.2 82.4,469.4 82.9,469.8 83.4,469.6 83.9,470.2 84.4,469.8 84.9,469.8 85.0,470.1 85.4,469.8 85.9,470.2 86.4,470.8 86.9,471.2 87.4,471.1 87.9,470.4 88.4,470.6 88.9,470.2 89.4,470.4 89.9,469.7 90.0,469.7 90.4,470.1 90.9,470.2 91.4,470.6 91.9,470.4 92.4,470.2 92.9,470.6 93.4,470.0 93.9,470.1 94.4,470.8 94.9,471.2 95.4,470.7 95.9,470.4 96.0,470.6 96.4,469.7 96.9,469.8 97.0,468.1 97.4,469.6 97.9,468.9 98.4,468.6 98.9,468.5 99.4,468.8 99.9,469.2 100.4,469.0 100.9,469.2 101.4,469.1 101.9,469.4 102.4,469.6 102.9,470.0 103.4,469.1 103.9,468.7 104.4,469.4 104.9,468.5 105.0,468.5 105.4,470.1 105.9,469.2 106.4,468.9 106.9,468.6 107.4,468.6 107.9,468.3 108.4,468.8 108.9,468.5 109.4,468.6 109.9,469.2 110.0,468.9 110.4,469.1 110.9,469.1 111.4,468.3 111.9,468.4 112.4,468.4 112.9,468.5 113.4,469.4 113.9,469.4 114.4,469.5 114.9,469.3 115.0,469.1 115.4,469.0 115.9,469.6 116.4,469.2 116.9,469.5 117.4,469.1 117.9,468.2 118.4,468.5 118.9,469.3 119.4,469.4 119.9,468.8 120.4,468.8 120.9,468.4 121.4,469.9 121.9,469.4 122.4,468.0 122.9,469.4 123.4,469.4 123.8,469.8 123.9,468.8 124.4,467.4 124.9,465.8 125.0,466.2 125.4,465.9 125.9,466.0 126.4,466.5 126.9,466.3 127.3,466.8 127.4,467.3 127.9,467.2 128.0,466.9 128.4,467.1 128.9,467.7 129.4,467.8 129.6,467.2 129.9,468.1 130.4,468.1 130.9,468.5 131.0,468.5 131.4,468.9 131.9,469.8 132.4,468.1 132.9,468.5 133.1,468.4 133.4,468.4 133.9,469.4 134.4,469.2 134.9,470.6 135.0,469.0 135.4,469.5 135.9,469.4 136.4,469.4 136.5,467.7 136.9,469.7 137.4,470.3 137.5,470.6 137.9,472.6 138.4,472.2 138.8,472.8 138.9,472.8 139.4,471.7 139.9,471.3 140.0,471.3 140.4,471.5 140.9,471.2 141.4,471.5 141.9,471.8 142.3,471.1 142.4,471.5 142.9,471.0 143.4,470.7 143.5,470.7 143.9,470.3 144.4,470.8 144.6,470.8 144.9,471.1 145.0,471.5 145.4,471.7 145.9,471.3 146.0,471.4 146.4,471.3 146.9,470.9 147.4,470.8 147.9,471.4 148.0,470.7 148.4,470.8 148.9,470.2 149.4,470.8 149.9,471.2 150.4,471.8 150.9,470.9 151.4,471.1 151.9,471.4 152.4,471.0 152.9,471.0 153.0,471.2 153.4,471.1 153.9,470.8 154.4,469.3 154.9,470.3 155.0,470.9 155.4,471.5 155.9,470.9 156.4,471.4 156.9,471.8 157.3,471.8 157.4,470.6 157.9,471.3 158.4,471.4 158.9,472.5 159.0,471.4 159.4,471.8 159.9,471.7 160.4,471.6 160.9,471.3 161.4,470.5 161.9,471.3 162.4,470.9 162.9,470.9 163.0,471.1 163.4,470.9 163.9,470.5 164.4,471.1 164.9,471.0 165.4,470.8 165.9,471.2 166.4,471.2 166.9,471.1 167.0,470.9 167.4,470.8 167.9,471.0 168.4,470.8 168.8,470.8 168.9,471.5 169.4,470.7 169.9,470.6 170.4,470.5 170.9,472.2 171.0,471.1 171.4,471.6 171.9,471.2 172.4,471.4 172.9,471.0 173.4,469.9 173.5,470.4 173.9,470.3 174.4,470.8 174.9,471.1 175.4,471.2 175.9,471.4 176.0,470.6 176.4,471.5 176.9,471.1 177.4,470.8 177.9,470.9 178.1,471.3 178.4,470.8 178.9,471.5 179.4,471.2 179.9,471.8 180.0,471.4 180.4,470.6 180.9,471.5 181.4,471.0 181.9,471.0 182.0,472.8 182.4,471.4 182.9,472.1 183.4,472.2 183.9,471.9 184.4,471.8 184.9,472.6 185.0,471.3 185.4,472.9 185.9,471.4 186.4,471.2 186.9,472.1 187.0,472.0 187.4,472.2 187.9,471.8 188.4,472.2 188.9,471.7 189.4,471.7 189.9,471.1 190.0,471.9 190.4,472.0 190.9,472.4 191.4,473.2 191.9,472.1 192.4,472.2 192.9,471.8 193.4,471.5 193.5,472.2 193.9,473.0 194.4,472.8 194.9,472.4 195.0,472.7 195.4,472.2 195.9,472.2 196.4,472.7 196.9,471.9 197.0,471.9 197.4,472.2 197.9,470.4 198.0,470.4 198.4,468.6 198.9,467.1 199.2,466.0 199.4,465.4 199.9,466.4 200.3,466.2 200.4,466.8 200.9,466.3 201.4,466.6 201.5,466.9 201.9,466.9 202.4,466.5 202.5,467.8 202.9,468.0 203.4,467.9 203.8,469.4 203.9,468.5 204.4,468.3 204.9,469.2 205.0,469.6 205.4,469.9 205.9,469.9 206.2,469.7 206.4,469.4 206.9,470.0 207.0,470.7 207.4,471.0 207.9,470.8 208.4,470.9 208.5,471.2 208.9,471.0 209.4,471.0 209.9,470.8 210.0,471.0 210.4,471.1 210.8,469.5 210.9,471.1 211.4,469.7 211.9,470.2 212.0,470.2 212.4,471.0 212.9,470.5 213.4,470.2 213.9,470.9 214.0,470.5 214.4,471.1 214.9,471.1 215.4,471.1 215.9,471.1 216.4,471.0 216.9,471.1 217.4,471.3 217.9,471.2 218.0,471.4 218.1,470.9 218.4,471.1 218.9,471.1 219.4,471.2 219.9,471.2 220.4,471.2 220.6,471.1 220.9,471.4 221.0,471.4 221.4,471.3 221.9,471.4 222.4,471.5 222.9,471.3 223.4,471.4 223.9,471.4 224.4,471.5 224.9,471.6 225.4,471.5 225.9,471.4 226.4,471.6 226.9,471.5 227.4,471.5 227.9,471.5 228.4,471.4 228.9,471.5 229.4,471.3 229.9,471.5 230.4,471.5 230.9,471.5 231.4,471.6 231.9,471.5 232.0,471.5 232.4,471.3 232.5,471.5 232.9,471.5 233.4,471.5 233.9,471.5 234.4,471.6 234.9,471.4 235.0,471.4 235.4,471.4 235.9,471.4 236.4,471.3 236.9,471.2 237.4,471.3 237.9,471.3 238.4,471.2 238.9,471.3 239.4,471.3 239.9,471.3 240.4,471.4 240.9,471.3 241.4,471.2 241.9,471.3 242.0,471.3 242.4,470.2 242.5,469.6 242.9,469.8 243.4,469.9 243.5,470.1 243.9,470.1 244.4,470.3 244.9,470.4 245.0,470.3 245.4,470.5 245.9,470.5 246.4,470.5 246.9,470.4 247.4,470.6 247.7,470.6" fill="none" stroke="#ee8030" stroke-width="1.15" stroke-linejoin="round" stroke-opacity="1.0"/>
<polyline points="17.4,415.2 17.9,408.0 18.4,403.3 18.5,401.7 18.9,403.0 19.3,404.4 19.4,404.1 19.9,406.4 20.0,408.1 20.4,411.1 20.5,410.5 20.9,416.4 21.0,416.3 21.3,419.8 21.4,419.4 21.9,426.2 22.0,426.2 22.3,428.6 22.4,429.5 22.9,425.2 23.0,423.9 23.4,422.6 23.9,417.0 24.0,417.3 24.4,417.4 24.9,414.9 25.0,412.9 25.4,409.8 25.9,411.4 26.4,411.0 26.9,407.8 27.2,407.0 27.4,411.2 27.5,405.8 27.9,410.2 28.4,411.5 28.8,412.3 28.9,413.2 29.4,415.0 29.9,415.8 30.0,415.4 30.4,415.6 30.9,416.7 31.4,417.3 31.9,420.0 32.4,418.7 32.9,420.6 33.0,422.3 33.4,422.9 33.5,423.8 33.9,424.4 34.4,423.9 34.9,425.1 35.0,424.6 35.4,425.7 35.9,426.4 36.4,427.1 36.9,426.4 37.4,428.2 37.5,427.8 37.9,429.1 38.4,428.1 38.9,427.9 39.4,429.6 39.9,431.3 40.0,432.9 40.4,431.9 40.9,435.3 41.0,435.9 41.4,437.1 41.9,436.8 42.0,438.1 42.4,437.9 42.9,440.4 43.0,438.7 43.4,436.8 43.9,439.1 44.0,440.0 44.4,438.7 44.9,438.6 45.0,439.1 45.4,438.5 45.9,436.9 46.4,436.1 46.9,431.3 47.0,434.6 47.4,434.0 47.9,433.5 48.4,432.7 48.9,434.2 49.0,431.0 49.4,431.2 49.9,430.4 50.0,430.2 50.4,429.6 50.9,429.9 51.0,428.8 51.4,428.5 51.9,428.9 52.4,427.6 52.9,425.5 53.0,425.2 53.4,425.0 53.9,424.2 54.4,423.8 54.9,423.6 55.0,423.0 55.4,423.1 55.9,422.6 56.4,421.9 56.9,420.1 57.0,420.6 57.4,420.9 57.9,420.5 58.4,423.1 58.9,421.8 59.4,421.1 59.9,422.2 60.0,421.3 60.4,421.9 60.9,421.4 61.4,420.8 61.9,420.4 62.3,419.7 62.4,419.1 62.9,421.5 63.4,422.9 63.9,424.0 64.0,424.2 64.4,424.2 64.6,426.5 64.9,426.4 65.0,428.2 65.4,430.0 65.5,432.0 65.9,429.2 66.0,430.0 66.4,429.8 66.9,431.0 67.4,431.8 67.9,432.3 68.4,431.6 68.8,432.3 68.9,433.3 69.2,432.7 69.4,432.6 69.9,432.0 70.0,431.1 70.4,433.4 70.9,432.6 71.4,430.3 71.9,430.4 72.0,429.2 72.4,430.0 72.9,430.3 73.4,431.9 73.9,427.8 74.4,430.1 74.9,430.3 75.0,430.1 75.4,429.6 75.9,429.5 76.4,429.1 76.9,428.7 77.4,428.3 77.9,429.1 78.4,429.0 78.9,428.7 79.4,428.3 79.9,429.0 80.0,429.7 80.4,429.8 80.9,429.0 81.4,428.2 81.9,429.5 82.4,429.9 82.9,430.0 83.4,429.9 83.9,430.0 84.4,428.9 84.9,428.9 85.0,430.2 85.4,430.6 85.9,430.4 86.4,432.2 86.9,432.2 87.4,431.6 87.9,431.8 88.4,432.7 88.9,431.3 89.4,431.9 89.9,430.8 90.0,430.6 90.4,431.3 90.9,431.2 91.4,432.1 91.9,432.1 92.4,432.5 92.9,432.4 93.4,431.9 93.9,432.1 94.4,433.2 94.9,433.4 95.4,433.2 95.9,432.8 96.0,433.4 96.4,428.5 96.9,424.8 97.0,421.0 97.4,423.0 97.9,422.2 98.4,421.7 98.5,429.7 98.7,429.7 98.9,421.8 99.4,421.4 99.9,423.4 100.4,422.2 100.5,434.7 100.7,434.7 100.9,421.1 101.4,422.4 101.9,422.9 102.4,423.5 102.9,422.8 103.4,423.2 103.5,439.1 103.7,439.1 103.9,421.7 104.4,423.2 104.9,422.1 105.0,421.5 105.4,424.8 105.9,422.4 106.4,423.4 106.9,421.5 107.0,435.9 107.2,435.9 107.4,422.1 107.9,421.8 108.4,422.3 108.9,422.0 109.0,433.5 109.2,433.5 109.4,420.5 109.9,425.0 110.0,422.5 110.4,423.3 110.9,423.2 111.4,422.3 111.9,422.4 112.0,428.9 112.2,428.9 112.4,421.8 112.9,421.9 113.4,423.5 113.9,422.6 114.4,423.2 114.9,422.3 115.0,431.6 115.0,423.0 115.2,431.6 115.4,422.2 115.9,423.1 116.4,422.7 116.9,423.7 117.4,423.5 117.5,437.5 117.7,437.5 117.9,424.0 118.4,423.3 118.9,424.5 119.4,424.7 119.9,424.1 120.0,431.1 120.2,431.1 120.4,423.6 120.9,424.9 121.4,425.2 121.9,424.4 122.4,421.6 122.5,436.7 122.7,436.7 122.9,424.5 123.4,424.9 123.8,425.8 123.9,421.3 124.4,402.1 124.9,382.6 125.0,379.5 125.4,379.5 125.9,379.1 126.4,380.0 126.9,380.8 127.3,380.5 127.4,380.2 127.9,381.7 128.0,382.0 128.4,381.9 128.9,383.2 129.4,383.9 129.6,383.7 129.9,385.9 130.4,385.5 130.9,387.2 131.0,388.1 131.4,388.4 131.9,388.8 132.4,389.4 132.9,389.8 133.1,390.0 133.4,390.5 133.9,392.9 134.4,393.7 134.9,395.8 135.0,394.1 135.4,396.9 135.9,397.8 136.4,398.7 136.5,395.2 136.9,402.7 137.4,409.9 137.5,411.4 137.9,419.6 138.4,424.2 138.8,429.6 138.9,428.2 139.4,418.9 139.9,412.1 140.0,410.4 140.4,409.7 140.9,409.3 141.4,408.6 141.9,408.4 142.3,405.9 142.4,406.6 142.9,407.8 143.4,409.0 143.5,408.7 143.9,409.1 144.4,411.3 144.6,411.3 144.9,411.9 145.0,412.1 145.4,413.3 145.9,413.5 146.0,414.3 146.4,414.7 146.9,413.7 147.4,415.2 147.9,416.8 148.0,415.7 148.4,416.7 148.9,415.5 149.4,417.7 149.9,419.3 150.4,420.1 150.9,419.5 151.4,419.9 151.9,420.6 152.4,421.1 152.9,421.2 153.0,420.4 153.4,420.6 153.9,419.4 154.4,417.2 154.9,419.5 155.0,420.5 155.4,421.1 155.9,421.1 156.4,421.3 156.9,422.8 157.3,422.7 157.4,420.0 157.9,422.6 158.4,423.1 158.9,426.1 159.0,425.4 159.4,424.4 159.9,425.0 160.4,425.9 160.9,425.2 161.4,424.3 161.9,424.9 162.4,426.3 162.9,425.5 163.0,426.4 163.4,426.0 163.9,424.8 164.4,427.3 164.9,427.2 165.4,426.5 165.9,426.3 166.4,426.5 166.9,425.9 167.0,423.1 167.4,425.1 167.9,423.5 168.4,422.3 168.8,422.2 168.9,424.1 169.4,422.7 169.9,423.7 170.4,423.3 170.9,426.1 171.0,423.8 171.4,424.0 171.9,423.6 172.4,423.2 172.9,422.7 173.4,421.5 173.5,422.3 173.9,422.8 174.4,424.6 174.9,425.6 175.4,425.9 175.9,426.5 176.0,425.2 176.4,426.9 176.9,427.2 177.4,427.1 177.9,427.6 178.1,429.2 178.4,427.4 178.9,427.8 179.4,427.5 179.9,428.1 180.0,428.1 180.4,427.5 180.9,429.1 181.4,428.1 181.9,427.9 182.0,430.9 182.4,429.2 182.9,429.7 183.4,430.2 183.9,428.6 184.4,429.5 184.9,431.0 185.0,429.3 185.4,429.5 185.9,429.1 186.4,428.7 186.9,429.7 187.0,429.9 187.4,430.9 187.9,432.4 188.4,431.0 188.9,430.2 189.4,429.5 189.9,429.2 190.0,429.4 190.4,430.6 190.9,431.4 191.4,431.0 191.9,431.7 192.4,432.7 192.9,431.6 193.4,431.4 193.5,432.6 193.9,434.3 194.4,435.9 194.9,435.9 195.0,435.9 195.4,435.9 195.9,436.2 196.4,438.1 196.9,437.0 197.0,436.5 197.4,429.9 197.9,418.1 198.0,416.4 198.4,406.6 198.9,395.3 199.2,387.5 199.4,388.2 199.9,391.4 200.3,389.6 200.4,390.4 200.9,390.6 201.4,391.9 201.5,392.2 201.9,394.0 202.4,394.4 202.5,398.1 202.9,399.2 203.4,400.6 203.8,404.3 203.9,402.6 204.4,404.6 204.9,408.1 205.0,408.8 205.4,409.9 205.9,412.9 206.2,411.9 206.4,411.9 206.9,414.1 207.0,415.1 207.4,416.9 207.9,418.0 208.4,419.4 208.5,419.9 208.9,421.5 209.4,423.3 209.9,425.5 210.0,425.2 210.4,427.5 210.8,428.7 210.9,428.6 211.4,428.5 211.9,426.8 212.0,427.1 212.4,427.9 212.9,427.9 213.4,426.5 213.9,428.4 214.0,427.8 214.4,429.1 214.9,428.9 215.4,429.1 215.9,429.0 216.4,429.0 216.9,429.2 217.4,429.2 217.9,429.1 218.0,429.4 218.1,425.5 218.4,426.1 218.9,426.0 219.4,426.1 219.9,426.0 220.4,426.2 220.6,426.1 220.9,430.4 221.0,432.0 221.4,431.6 221.9,431.6 222.4,431.4 222.9,431.6 223.4,431.8 223.9,431.7 224.4,432.0 224.9,432.0 225.4,431.9 225.9,431.8 226.4,432.0 226.9,432.1 227.4,431.9 227.9,431.9 228.4,431.9 228.9,431.8 229.4,431.7 229.9,431.9 230.4,431.9 230.9,431.9 231.4,432.1 231.9,432.0 232.0,432.2 232.4,429.6 232.5,429.6 232.9,429.5 233.4,429.4 233.9,429.5 234.4,429.6 234.9,434.6 235.0,435.5 235.4,435.6 235.9,435.6 236.4,435.3 236.9,435.4 237.4,435.6 237.9,435.4 238.4,435.2 238.9,435.4 239.4,435.5 239.9,435.3 240.4,435.7 240.9,435.6 241.4,435.6 241.9,435.6 242.0,435.5 242.4,425.4 242.5,422.5 242.9,422.9 243.4,423.4 243.5,423.9 243.9,424.6 244.4,425.2 244.9,426.0 245.0,426.1 245.4,426.2 245.9,426.2 246.4,426.5 246.9,426.3 247.4,426.7 247.7,426.7" fill="none" stroke="#3fa45a" stroke-width="1.15" stroke-linejoin="round" stroke-opacity="1.0"/>
<polyline points="17.4,463.2 17.9,460.8 18.4,459.4 18.5,458.4 18.9,459.9 19.3,461.4 19.4,460.6 19.9,461.7 20.0,462.3 20.4,463.5 20.5,464.1 20.9,466.0 21.0,465.3 21.3,467.5 21.4,466.0 21.9,468.2 22.0,468.1 22.3,467.5 22.4,467.8 22.9,465.9 23.0,465.6 23.4,465.2 23.9,463.2 24.0,463.6 24.4,463.7 24.9,461.9 25.0,460.6 25.4,459.6 25.9,459.5 26.4,458.9 26.9,457.1 27.2,456.7 27.4,458.1 27.5,455.0 27.9,457.1 28.4,457.7 28.8,458.0 28.9,458.0 29.4,459.3 29.9,459.6 30.0,458.8 30.4,459.4 30.9,460.1 31.4,460.3 31.9,461.5 32.4,461.5 32.9,462.0 33.0,462.5 33.4,462.6 33.5,462.4 33.9,461.5 34.4,463.0 34.9,463.4 35.0,463.7 35.4,464.0 35.9,464.0 36.4,464.6 36.9,464.0 37.4,464.9 37.5,464.6 37.9,465.3 38.4,464.7 38.9,464.5 39.4,465.8 39.9,466.4 40.0,466.6 40.4,467.1 40.9,466.7 41.0,467.0 41.4,467.2 41.9,467.2 42.0,467.4 42.4,467.2 42.9,468.1 43.0,467.4 43.4,467.5 43.9,467.7 44.0,468.5 44.4,467.4 44.9,468.2 45.0,468.5 45.4,468.3 45.9,467.8 46.4,467.4 46.9,465.7 47.0,466.7 47.4,465.9 47.9,466.5 48.4,465.3 48.9,465.9 49.0,464.1 49.4,464.9 49.9,464.8 50.0,464.5 50.4,465.2 50.9,465.3 51.0,464.8 51.4,464.4 51.9,464.5 52.4,463.6 52.9,463.0 53.0,463.4 53.4,463.6 53.9,464.7 54.4,463.8 54.9,464.0 55.0,462.9 55.4,464.0 55.9,464.5 56.4,464.6 56.9,464.2 57.0,464.7 57.4,464.6 57.9,464.3 58.4,465.5 58.9,464.3 59.4,464.6 59.9,465.1 60.0,465.2 60.4,466.3 60.9,465.9 61.4,467.3 61.9,465.7 62.3,465.9 62.4,465.2 62.9,466.3 63.4,466.3 63.9,466.5 64.0,466.5 64.4,466.5 64.6,466.6 64.9,466.9 65.0,467.5 65.4,468.1 65.5,468.6 65.9,467.6 66.0,467.8 66.4,468.0 66.9,467.9 67.4,467.9 67.9,468.0 68.4,467.5 68.8,467.8 68.9,468.8 69.2,467.7 69.4,467.5 69.9,467.3 70.0,466.6 70.4,467.5 70.9,467.6 71.4,466.7 71.9,468.2 72.0,467.7 72.4,468.4 72.9,468.3 73.4,469.5 73.9,468.0 74.4,468.5 74.9,468.6 75.0,468.6 75.4,468.5 75.9,467.9 76.4,467.8 76.9,467.9 77.4,467.2 77.9,467.8 78.4,468.2 78.9,468.2 79.4,467.8 79.9,468.3 80.0,468.6 80.4,468.6 80.9,468.5 81.4,468.3 81.9,468.3 82.4,468.2 82.9,468.4 83.4,468.1 83.9,468.5 84.4,468.0 84.9,469.4 85.0,468.7 85.4,468.8 85.9,468.9 86.4,470.0 86.9,469.9 87.4,469.9 87.9,469.3 88.4,470.0 88.9,469.0 89.4,469.1 89.9,467.1 90.0,468.6 90.4,468.8 90.9,468.7 91.4,469.0 91.9,469.1 92.4,468.7 92.9,468.8 93.4,468.7 93.9,468.8 94.4,469.5 94.9,469.8 95.4,469.4 95.9,469.3 96.0,469.3 96.4,469.1 96.9,467.9 97.0,465.4 97.4,466.9 97.9,466.1 98.4,466.8 98.9,466.5 99.4,466.4 99.9,466.8 100.4,466.7 100.9,466.5 101.4,466.8 101.9,467.4 102.4,467.3 102.9,467.2 103.4,467.2 103.9,466.7 104.4,468.3 104.9,466.6 105.0,466.3 105.4,468.9 105.9,467.3 106.4,467.1 106.9,466.5 107.4,466.7 107.9,465.1 108.4,466.7 108.9,467.2 109.4,466.3 109.9,467.3 110.0,467.1 110.4,467.3 110.9,467.2 111.4,466.8 111.9,466.6 112.4,466.8 112.9,466.8 113.4,468.4 113.9,467.3 114.4,467.4 114.9,467.5 115.0,467.5 115.4,467.1 115.9,467.9 116.4,467.1 116.9,467.3 117.4,467.5 117.9,467.7 118.4,466.3 118.9,466.4 119.4,466.9 119.9,466.5 120.4,466.4 120.9,467.4 121.4,467.7 121.9,468.9 122.4,465.6 122.9,467.2 123.4,466.9 123.8,467.3 123.9,465.7 124.4,462.5 124.9,458.7 125.0,458.4 125.4,458.5 125.9,458.7 126.4,459.1 126.9,459.9 127.3,460.1 127.4,460.6 127.9,461.3 128.0,460.4 128.4,460.9 128.9,461.3 129.4,462.0 129.6,461.0 129.9,462.4 130.4,462.2 130.9,462.6 131.0,463.2 131.4,463.5 131.9,463.9 132.4,463.5 132.9,463.7 133.1,463.9 133.4,464.0 133.9,464.7 134.4,464.7 134.9,465.7 135.0,464.7 135.4,465.2 135.9,465.1 136.4,465.1 136.5,463.6 136.9,465.9 137.4,467.0 137.5,467.7 137.9,470.3 138.4,470.9 138.8,471.7 138.9,471.0 139.4,469.1 139.9,468.4 140.0,468.6 140.4,468.2 140.9,468.2 141.4,468.4 141.9,468.9 142.3,467.9 142.4,468.3 142.9,467.4 143.4,467.4 143.5,467.7 143.9,467.2 144.4,468.2 144.6,468.0 144.9,468.2 145.0,468.3 145.4,468.4 145.9,468.0 146.0,468.5 146.4,468.4 146.9,468.2 147.4,468.3 147.9,468.9 148.0,468.0 148.4,468.5 148.9,467.1 149.4,468.1 149.9,468.8 150.4,468.7 150.9,468.3 151.4,468.6 151.9,468.6 152.4,468.1 152.9,468.3 153.0,468.0 153.4,468.0 153.9,467.5 154.4,466.1 154.9,467.4 155.0,467.8 155.4,468.3 155.9,468.2 156.4,468.3 156.9,469.2 157.3,468.9 157.4,467.2 157.9,468.4 158.4,468.4 158.9,469.8 159.0,468.6 159.4,468.8 159.9,469.0 160.4,468.8 160.9,468.5 161.4,467.6 161.9,468.0 162.4,467.6 162.9,467.6 163.0,468.4 163.4,467.8 163.9,467.9 164.4,469.0 164.9,468.4 165.4,467.7 165.9,468.0 166.4,468.3 166.9,467.8 167.0,467.4 167.4,467.7 167.9,467.1 168.4,467.0 168.8,467.2 168.9,468.0 169.4,467.9 169.9,467.6 170.4,468.1 170.9,469.3 171.0,468.3 171.4,468.8 171.9,468.1 172.4,468.3 172.9,468.0 173.4,467.4 173.5,467.4 173.9,467.8 174.4,468.5 174.9,468.3 175.4,468.3 175.9,468.3 176.0,467.0 176.4,468.4 176.9,468.2 177.4,468.7 177.9,468.6 178.1,468.7 178.4,467.7 178.9,468.6 179.4,468.3 179.9,468.9 180.0,468.4 180.4,468.0 180.9,469.2 181.4,468.7 181.9,468.2 182.0,470.0 182.4,469.0 182.9,469.4 183.4,469.9 183.9,469.0 184.4,468.9 184.9,470.1 185.0,468.8 185.4,469.4 185.9,468.9 186.4,468.5 186.9,469.3 187.0,469.7 187.4,469.7 187.9,469.4 188.4,470.1 188.9,469.7 189.4,469.5 189.9,469.4 190.0,469.6 190.4,469.9 190.9,470.3 191.4,469.8 191.9,469.9 192.4,470.2 192.9,468.0 193.4,469.6 193.5,469.6 193.9,470.4 194.4,470.7 194.9,470.3 195.0,470.2 195.4,470.2 195.9,470.0 196.4,470.5 196.9,470.5 197.0,470.6 197.4,469.3 197.9,465.6 198.0,465.2 198.4,462.5 198.9,460.0 199.2,457.8 199.4,458.4 199.9,457.9 200.3,458.8 200.4,459.2 200.9,459.2 201.4,460.3 201.5,460.6 201.9,461.1 202.4,460.7 202.5,462.0 202.9,461.5 203.4,463.2 203.8,465.0 203.9,463.9 204.4,464.3 204.9,465.7 205.0,465.7 205.4,466.2 205.9,467.0 206.2,466.4 206.4,466.0 206.9,466.7 207.0,467.2 207.4,467.3 207.9,467.7 208.4,467.6 208.5,467.3 208.9,467.9 209.4,468.0 209.9,468.1 210.0,467.7 210.4,468.1 210.8,467.5 210.9,468.4 211.4,468.4 211.9,467.5 212.0,467.6 212.4,469.4 212.9,467.0 213.4,467.1 213.9,468.2 214.0,466.5 214.4,468.4 214.9,468.2 215.4,468.3 215.9,468.3 216.4,468.3 216.9,468.4 217.4,468.5 217.9,468.3 218.0,468.5 218.1,467.9 218.4,468.3 218.9,468.2 219.4,468.2 219.9,468.1 220.4,468.2 220.6,468.2 220.9,468.7 221.0,468.9 221.4,468.9 221.9,468.8 222.4,468.9 222.9,468.8 223.4,468.8 223.9,468.8 224.4,468.9 224.9,469.0 225.4,468.9 225.9,468.9 226.4,469.0 226.9,469.0 227.4,469.0 227.9,468.9 228.4,469.1 228.9,469.0 229.4,468.8 229.9,468.9 230.4,468.9 230.9,468.9 231.4,469.1 231.9,469.0 232.0,469.1 232.4,468.7 232.5,469.0 232.9,468.8 233.4,468.8 233.9,468.9 234.4,468.9 234.9,468.8 235.0,468.8 235.4,468.6 235.9,468.8 236.4,468.8 236.9,468.6 237.4,468.7 237.9,468.7 238.4,468.7 238.9,468.8 239.4,468.7 239.9,468.9 240.4,468.9 240.9,468.8 241.4,468.7 241.9,469.0 242.0,468.9 242.4,466.7 242.5,465.9 242.9,466.1 243.4,466.2 243.5,466.4 243.9,466.6 244.4,466.8 244.9,467.2 245.0,467.1 245.4,467.2 245.9,467.2 246.4,467.2 246.9,467.2 247.4,467.4 247.7,467.3" fill="none" stroke="#e0283a" stroke-width="1.15" stroke-linejoin="round" stroke-opacity="1.0"/>
<polyline points="17.4,412.3 17.9,407.1 18.4,401.5 18.5,400.9 18.9,401.8 19.3,402.1 19.4,402.0 19.9,402.6 20.0,403.8 20.4,408.0 20.5,409.6 20.9,415.1 21.0,415.9 21.3,419.6 21.4,418.9 21.9,425.4 22.0,425.5 22.3,428.5 22.4,428.1 22.9,421.0 23.0,418.8 23.4,418.7 23.9,415.0 24.0,415.6 24.4,414.2 24.9,411.8 25.0,410.8 25.4,407.0 25.9,408.2 26.4,408.2 26.9,406.3 27.2,405.7 27.4,409.8 27.5,404.4 27.9,407.8 28.4,409.0 28.8,410.0 28.9,411.3 29.4,413.5 29.9,415.5 30.0,415.6 30.4,415.8 30.9,416.1 31.4,416.4 31.9,417.0 32.4,421.3 32.9,419.8 33.0,421.4 33.4,422.6 33.5,422.7 33.9,424.0 34.4,423.5 34.9,425.0 35.0,425.1 35.4,425.1 35.9,425.7 36.4,426.1 36.9,425.3 37.4,427.1 37.5,426.5 37.9,426.3 38.4,426.8 38.9,427.0 39.4,429.6 39.9,430.6 40.0,431.5 40.4,430.8 40.9,428.9 40.9,434.3 41.0,429.3 41.2,434.3 41.4,432.3 41.9,435.0 41.9,443.3 42.0,436.6 42.2,443.3 42.4,434.3 42.9,434.3 43.0,431.6 43.4,433.5 43.9,436.9 43.9,444.2 44.0,439.4 44.2,444.2 44.4,436.8 44.9,436.0 45.0,435.9 45.4,435.4 45.4,440.4 45.7,440.4 45.9,434.8 46.4,434.2 46.9,429.1 47.0,433.2 47.4,430.8 47.9,430.2 48.4,429.3 48.9,431.0 49.0,428.2 49.4,428.0 49.9,428.0 50.0,428.5 50.4,428.4 50.9,427.7 51.0,427.0 51.4,426.0 51.9,425.6 52.4,423.9 52.9,421.7 53.0,422.1 53.4,422.4 53.9,422.1 54.4,421.7 54.9,421.6 55.0,418.8 55.4,420.9 55.9,420.2 56.4,421.3 56.9,417.8 57.0,420.1 57.4,419.3 57.9,416.8 58.4,421.8 58.9,419.6 59.4,419.4 59.9,420.6 60.0,419.4 60.4,420.3 60.9,418.9 61.4,418.0 61.9,416.2 62.3,416.0 62.4,415.9 62.9,418.4 63.4,419.5 63.9,421.3 64.0,421.0 64.4,423.0 64.6,424.1 64.9,425.4 65.0,426.5 65.4,428.9 65.5,430.7 65.9,427.5 66.0,428.9 66.4,428.2 66.9,428.8 67.4,430.2 67.9,428.4 68.4,429.8 68.8,430.2 68.9,432.4 69.2,430.9 69.4,431.3 69.9,430.7 70.0,429.3 70.4,431.4 70.9,431.0 71.4,429.1 71.9,429.9 72.0,428.7 72.4,428.9 72.9,429.7 73.0,445.0 73.2,445.0 73.4,432.1 73.9,429.3 74.4,429.3 74.9,429.1 75.0,428.5 75.4,428.5 75.5,437.6 75.7,437.6 75.9,426.9 76.4,427.9 76.9,426.4 77.4,426.5 77.9,426.8 78.0,446.6 78.2,446.6 78.4,426.7 78.9,426.6 79.4,427.9 79.9,426.8 80.0,436.1 80.0,427.8 80.2,436.1 80.4,427.7 80.9,428.6 81.4,427.6 81.9,428.2 82.4,427.8 82.9,426.5 83.0,442.6 83.2,442.6 83.4,427.3 83.9,427.2 84.4,427.2 84.9,426.8 85.0,442.8 85.0,428.8 85.2,442.8 85.4,428.9 85.9,429.0 86.4,430.7 86.9,430.3 87.4,430.8 87.9,429.9 88.0,440.4 88.2,440.4 88.4,431.0 88.9,429.3 89.4,430.5 89.9,429.5 90.0,428.8 90.4,429.8 90.9,430.4 91.0,446.7 91.2,446.7 91.4,430.1 91.9,430.1 92.4,429.6 92.9,429.9 93.0,440.1 93.2,440.1 93.4,429.9 93.9,429.6 94.4,431.0 94.9,431.8 95.4,431.6 95.9,431.4 96.0,443.5 96.0,431.3 96.2,443.5 96.4,429.0 96.9,423.3 97.0,418.9 97.4,421.0 97.9,418.9 98.0,434.7 98.2,434.7 98.4,419.5 98.9,418.2 99.4,418.4 99.9,419.6 100.0,427.6 100.2,427.6 100.4,418.7 100.9,417.6 101.4,419.6 101.9,419.2 102.0,432.9 102.2,432.9 102.4,418.6 102.9,418.4 103.4,418.8 103.9,417.0 104.4,418.3 104.5,433.6 104.7,433.6 104.9,417.6 105.0,414.8 105.4,421.1 105.9,418.9 106.4,418.6 106.5,428.8 106.7,428.8 106.9,417.5 107.4,418.8 107.9,417.8 108.4,418.2 108.9,418.5 109.0,428.8 109.2,428.8 109.4,417.7 109.9,418.7 110.0,419.0 110.4,419.7 110.9,418.9 111.4,418.2 111.5,432.2 111.7,432.2 111.9,418.6 112.4,418.9 112.9,418.5 113.4,420.5 113.9,420.7 114.0,433.3 114.2,433.3 114.4,420.3 114.9,419.9 115.0,419.8 115.4,419.7 115.9,420.3 116.0,430.3 116.2,430.3 116.4,420.6 116.9,421.1 117.4,422.6 117.9,421.2 118.4,419.1 118.5,430.4 118.7,430.4 118.9,420.8 119.4,421.9 119.9,420.4 120.0,430.8 120.2,430.8 120.4,421.1 120.9,421.8 121.4,422.4 121.9,421.9 122.4,418.9 122.9,421.7 123.0,438.2 123.2,438.2 123.4,422.1 123.8,422.9 123.9,417.2 124.4,395.2 124.9,374.4 125.0,370.3 125.4,370.0 125.9,369.4 126.4,370.2 126.9,372.3 127.3,372.0 127.4,373.1 127.9,377.9 128.0,377.4 128.4,377.7 128.9,379.3 129.4,380.2 129.6,379.1 129.9,382.1 130.4,383.6 130.9,385.8 131.0,386.2 131.4,386.3 131.9,385.3 132.4,385.2 132.9,384.6 133.1,384.5 133.4,384.9 133.9,387.0 134.4,386.8 134.9,388.3 135.0,387.0 135.4,388.2 135.9,388.0 136.4,388.2 136.5,385.0 136.9,390.7 137.4,392.7 137.5,393.6 137.9,406.8 138.4,417.8 138.8,429.6 138.9,427.9 139.4,416.9 139.9,407.3 140.0,404.9 140.4,403.2 140.9,401.8 141.4,401.0 141.9,399.3 142.3,396.1 142.4,397.5 142.9,399.3 143.4,402.4 143.5,402.5 143.9,405.2 144.4,410.5 144.6,411.5 144.9,412.1 145.0,414.8 145.4,413.2 145.9,412.8 146.0,413.6 146.4,413.7 146.9,412.0 147.4,413.0 147.9,413.7 148.0,412.4 148.4,414.0 148.9,413.9 149.4,417.0 149.9,418.8 150.4,420.6 150.9,419.2 151.4,419.9 151.9,420.2 152.4,419.3 152.9,418.2 153.0,418.5 153.4,417.3 153.9,416.3 154.4,412.5 154.9,414.0 155.0,415.6 155.4,416.9 155.9,416.5 156.4,419.0 156.9,418.6 157.3,419.0 157.4,416.7 157.9,419.1 158.4,420.2 158.9,423.4 159.0,421.0 159.4,421.0 159.9,421.9 160.4,422.0 160.9,421.9 161.4,421.2 161.9,423.3 162.4,423.0 162.9,422.7 163.0,423.7 163.4,423.2 163.9,422.6 164.4,424.6 164.9,424.6 165.4,423.7 165.9,423.1 166.4,422.2 166.9,421.2 167.0,420.6 167.4,420.2 167.9,418.2 168.4,416.1 168.8,414.5 168.9,416.7 169.4,415.4 169.9,415.7 170.4,415.8 170.9,419.5 171.0,415.6 171.4,416.0 171.9,414.6 172.4,415.2 172.9,414.0 173.4,411.8 173.5,412.3 173.9,413.3 174.4,415.0 174.9,416.1 175.4,417.4 175.9,418.2 176.0,417.0 176.4,419.3 176.9,420.7 177.4,421.6 177.9,422.1 178.1,423.1 178.4,422.2 178.9,423.4 179.4,422.8 179.9,424.0 180.0,423.9 180.4,422.4 180.9,422.0 181.4,423.0 181.9,422.7 182.0,426.1 182.4,423.8 182.9,424.9 183.4,425.8 183.9,424.5 184.4,425.3 184.9,427.1 185.0,423.6 185.4,424.5 185.9,423.8 186.4,425.2 186.9,424.7 187.0,425.1 187.4,425.0 187.9,424.5 188.4,424.9 188.9,424.4 189.4,425.4 189.9,424.1 190.0,424.8 190.4,426.4 190.9,426.2 191.4,426.1 191.9,427.1 192.4,427.8 192.9,427.1 193.4,426.4 193.5,427.3 193.9,428.3 194.4,430.3 194.9,431.0 195.0,431.3 195.4,429.2 195.9,433.0 196.4,435.9 196.9,436.7 197.0,437.0 197.4,424.7 197.9,405.1 198.0,401.1 198.4,391.3 198.9,381.3 199.2,374.3 199.4,376.6 199.9,383.6 200.3,389.5 200.4,389.8 200.9,385.0 201.4,383.3 201.5,382.9 201.9,386.4 202.4,392.0 202.5,396.1 202.9,398.5 203.4,400.9 203.8,407.0 203.9,405.4 204.4,405.4 204.9,407.1 205.0,407.2 205.4,410.1 205.9,413.4 206.2,413.2 206.4,411.6 206.9,410.6 207.0,411.4 207.4,414.3 207.9,416.6 208.4,419.9 208.5,419.1 208.9,420.5 209.4,419.1 209.9,418.0 210.0,417.6 210.4,424.3 210.8,430.0 210.9,430.6 211.4,428.7 211.9,425.6 212.0,426.7 212.4,427.0 212.9,424.9 213.4,423.6 213.9,424.1 214.0,423.5 214.4,423.6 214.9,423.7 215.4,423.5 215.9,423.3 216.4,422.9 216.9,423.0 217.4,422.9 217.9,422.4 218.0,422.6 218.1,417.1 218.4,417.7 218.9,417.7 219.4,417.7 219.9,417.7 220.4,417.9 220.6,417.7 220.9,421.4 221.0,422.6 221.4,422.3 221.9,422.4 222.4,422.5 222.9,422.4 223.4,422.5 223.9,422.6 224.4,422.6 224.9,422.8 225.4,422.6 225.9,422.6 226.4,422.9 226.9,422.7 227.4,422.6 227.9,422.6 228.4,422.5 228.9,422.4 229.4,422.3 229.9,422.5 230.4,422.4 230.9,422.6 231.4,423.2 231.9,422.7 232.0,422.9 232.4,418.2 232.5,417.7 232.9,417.6 233.4,417.5 233.9,417.6 234.4,417.7 234.9,425.3 235.0,426.7 235.4,426.9 235.9,426.8 236.4,426.5 236.9,426.5 237.4,426.7 237.9,426.5 238.4,426.4 238.9,426.7 239.4,426.6 239.9,426.4 240.4,426.9 240.9,426.7 241.4,426.6 241.9,426.7 242.0,426.8 242.4,414.0 242.5,410.5 242.9,411.7 243.4,413.3 243.5,413.8 243.9,414.6 244.4,415.6 244.9,416.8 245.0,416.8 245.4,417.1 245.9,417.1 246.4,417.4 246.9,417.4 247.4,417.8 247.7,417.7" fill="none" stroke="#404040" stroke-width="1.15" stroke-linejoin="round" stroke-opacity="1.0"/>
<polyline points="17.4,460.6 17.9,457.6 18.4,456.2 18.5,455.1 18.9,456.6 19.3,458.2 19.4,458.9 19.9,459.1 20.0,460.3 20.4,460.9 20.5,461.2 20.9,463.0 21.0,463.2 21.3,464.1 21.4,463.6 21.9,466.0 22.0,466.4 22.3,465.2 22.4,465.5 22.9,463.7 23.0,463.3 23.4,462.7 23.9,460.8 24.0,460.9 24.4,460.3 24.9,458.8 25.0,456.9 25.4,455.5 25.9,456.0 26.4,455.0 26.9,452.6 27.2,452.3 27.4,453.8 27.5,449.6 27.9,451.8 28.4,452.9 28.8,453.3 28.9,454.3 29.4,455.3 29.9,455.4 30.0,455.8 30.4,455.8 30.9,455.9 31.4,456.7 31.9,458.6 32.4,458.8 32.9,459.3 33.0,460.3 33.4,460.3 33.5,460.5 33.9,461.1 34.4,460.7 34.9,461.5 35.0,461.5 35.4,462.3 35.9,462.4 36.4,462.8 36.9,462.2 37.4,463.3 37.5,463.2 37.9,463.6 38.4,463.4 38.9,463.2 39.4,463.8 39.9,465.1 40.0,465.2 40.4,465.6 40.9,465.4 41.0,465.5 41.4,465.7 41.9,465.7 42.0,466.5 42.4,465.6 42.9,467.3 43.0,466.0 43.4,466.4 43.9,466.3 44.0,467.8 44.4,467.1 44.9,467.3 45.0,467.8 45.4,467.3 45.9,466.9 46.4,466.0 46.9,462.5 47.0,465.0 47.4,464.5 47.9,464.3 48.4,463.4 48.9,464.2 49.0,462.5 49.4,462.9 49.9,462.3 50.0,462.2 50.4,462.9 50.9,463.4 51.0,464.1 51.4,461.9 51.9,462.1 52.4,461.7 52.9,461.3 53.0,461.7 53.4,461.0 53.9,461.4 54.4,461.6 54.9,461.8 55.0,461.3 55.4,461.7 55.9,461.7 56.4,461.8 56.9,461.1 57.0,462.1 57.4,461.9 57.9,462.0 58.4,464.7 58.9,462.3 59.4,462.1 59.9,463.0 60.0,462.9 60.4,463.5 60.9,463.4 61.4,463.1 61.9,463.3 62.3,463.6 62.4,463.2 62.9,464.4 63.4,465.2 63.9,465.1 64.0,465.0 64.4,464.8 64.6,465.5 64.9,465.3 65.0,465.7 65.4,466.7 65.5,467.5 65.9,465.8 66.0,466.0 66.4,465.5 66.9,465.8 67.4,466.0 67.9,466.1 68.4,465.7 68.8,465.9 68.9,467.5 69.2,466.2 69.4,466.5 69.9,465.6 70.0,465.1 70.4,466.0 70.9,466.3 71.4,466.1 71.9,467.4 72.0,465.6 72.4,466.8 72.9,466.9 73.4,468.6 73.9,467.0 74.4,466.7 74.9,467.0 75.0,467.2 75.4,467.0 75.9,466.3 76.4,466.6 76.9,466.1 77.4,465.9 77.9,466.1 78.4,466.3 78.9,466.4 79.4,466.0 79.9,467.0 80.0,466.4 80.4,466.6 80.9,466.5 81.4,465.7 81.9,465.6 82.4,466.1 82.9,466.4 83.4,466.1 83.9,466.2 84.4,465.6 84.9,466.0 85.0,466.2 85.4,466.5 85.9,466.3 86.4,467.3 86.9,467.9 87.4,467.6 87.9,467.3 88.4,467.9 88.9,467.1 89.4,467.7 89.9,467.1 90.0,466.5 90.4,467.0 90.9,467.3 91.4,467.7 91.9,467.2 92.4,467.3 92.9,467.4 93.4,466.8 93.9,466.9 94.4,467.6 94.9,468.1 95.4,467.6 95.9,467.5 96.0,467.8 96.4,467.5 96.9,465.7 97.0,463.6 97.4,464.8 97.9,463.8 98.4,464.3 98.9,464.2 99.4,464.6 99.9,464.7 100.4,464.8 100.9,464.0 101.4,465.0 101.9,465.2 102.4,465.1 102.9,464.9 103.4,464.9 103.9,464.2 104.4,464.5 104.9,464.1 105.0,464.4 105.4,466.4 105.9,466.5 106.4,464.7 106.9,464.0 107.4,464.1 107.9,464.3 108.4,465.0 108.9,464.7 109.4,464.3 109.9,465.0 110.0,465.1 110.4,465.0 110.9,464.9 111.4,464.9 111.9,464.5 112.4,464.5 112.9,464.4 113.4,465.4 113.9,466.5 114.4,465.5 114.9,465.2 115.0,465.5 115.4,464.9 115.9,465.4 116.4,466.6 116.9,465.5 117.4,465.2 117.9,465.7 118.4,464.6 118.9,465.7 119.4,465.9 119.9,465.2 120.4,466.2 120.9,465.6 121.4,466.2 121.9,466.1 122.4,463.8 122.9,465.7 123.4,466.2 123.8,466.7 123.9,464.2 124.4,458.7 124.9,452.7 125.0,452.5 125.4,452.2 125.9,452.3 126.4,453.3 126.9,454.5 127.3,454.0 127.4,454.2 127.9,455.2 128.0,454.3 128.4,454.4 128.9,455.7 129.4,456.1 129.6,455.4 129.9,456.9 130.4,457.7 130.9,457.9 131.0,458.6 131.4,459.3 131.9,459.1 132.4,458.9 132.9,459.3 133.1,459.2 133.4,459.8 133.9,460.5 134.4,460.7 134.9,461.5 135.0,460.5 135.4,461.6 135.9,461.8 136.4,462.3 136.5,459.5 136.9,462.7 137.4,464.2 137.5,464.8 137.9,468.1 138.4,468.2 138.8,470.4 138.9,469.7 139.4,467.2 139.9,466.0 140.0,465.7 140.4,465.6 140.9,465.4 141.4,466.3 141.9,466.9 142.3,465.4 142.4,466.1 142.9,465.4 143.4,465.4 143.5,464.9 143.9,465.0 144.4,465.6 144.6,465.5 144.9,465.9 145.0,465.7 145.4,466.1 145.9,466.1 146.0,466.2 146.4,466.6 146.9,465.6 147.4,466.0 147.9,466.6 148.0,465.5 148.4,466.1 148.9,466.6 149.4,466.0 149.9,466.9 150.4,467.5 150.9,466.5 151.4,466.6 151.9,466.4 152.4,465.8 152.9,466.0 153.0,466.3 153.4,465.9 153.9,465.5 154.4,463.7 154.9,464.9 155.0,465.4 155.4,466.2 155.9,465.5 156.4,466.2 156.9,466.5 157.3,466.7 157.4,464.6 157.9,466.2 158.4,466.1 158.9,467.6 159.0,466.3 159.4,466.2 159.9,466.6 160.4,466.7 160.9,465.9 161.4,465.3 161.9,465.9 162.4,465.0 162.9,464.7 163.0,465.4 163.4,463.7 163.9,464.7 164.4,465.7 164.9,465.7 165.4,464.4 165.9,465.0 166.4,465.0 166.9,464.7 167.0,464.1 167.4,464.2 167.9,464.4 168.4,463.9 168.8,464.1 168.9,464.9 169.4,464.7 169.9,464.5 170.4,464.6 170.9,466.2 171.0,465.1 171.4,465.1 171.9,464.7 172.4,465.1 172.9,465.0 173.4,463.7 173.5,464.3 173.9,464.1 174.4,465.1 174.9,465.2 175.4,465.7 175.9,465.8 176.0,465.0 176.4,466.7 176.9,465.5 177.4,465.3 177.9,465.8 178.1,466.0 178.4,465.3 178.9,466.1 179.4,465.8 179.9,466.4 180.0,466.3 180.4,465.7 180.9,468.3 181.4,465.8 181.9,465.3 182.0,467.9 182.4,466.3 182.9,466.7 183.4,466.5 183.9,465.9 184.4,465.9 184.9,467.3 185.0,466.1 185.4,466.6 185.9,466.2 186.4,465.8 186.9,466.8 187.0,467.1 187.4,467.6 187.9,467.2 188.4,467.6 188.9,467.2 189.4,467.3 189.9,466.9 190.0,467.5 190.4,467.7 190.9,468.1 191.4,467.6 191.9,467.6 192.4,469.9 192.9,467.7 193.4,468.0 193.5,468.2 193.9,469.3 194.4,469.4 194.9,468.9 195.0,469.2 195.4,468.7 195.9,468.4 196.4,469.0 196.9,467.8 197.0,468.3 197.4,466.3 197.9,462.5 198.0,461.7 198.4,457.8 198.9,454.3 199.2,451.6 199.4,451.7 199.9,451.9 200.3,452.6 200.4,453.7 200.9,453.7 201.4,454.3 201.5,454.2 201.9,455.4 202.4,455.6 202.5,457.3 202.9,457.3 203.4,458.3 203.8,460.3 203.9,461.2 204.4,460.5 204.9,462.1 205.0,462.1 205.4,463.2 205.9,464.3 206.2,463.4 206.4,463.3 206.9,464.0 207.0,464.6 207.4,464.9 207.9,464.9 208.4,465.1 208.5,464.7 208.9,465.3 209.4,465.4 209.9,465.6 210.0,465.6 210.4,465.8 210.8,465.4 210.9,465.6 211.4,465.0 211.9,464.3 212.0,465.9 212.4,465.4 212.9,464.8 213.4,464.7 213.9,465.6 214.0,465.2 214.4,465.7 214.9,465.7 215.4,465.7 215.9,466.0 216.4,465.6 216.9,465.8 217.4,465.8 217.9,465.6 218.0,465.8 218.1,465.1 218.4,465.6 218.9,465.6 219.4,465.6 219.9,465.5 220.4,465.6 220.6,465.6 220.9,466.3 221.0,466.4 221.4,466.3 221.9,466.5 222.4,466.4 222.9,466.4 223.4,466.5 223.9,466.5 224.4,466.5 224.9,466.6 225.4,466.6 225.9,466.5 226.4,466.5 226.9,466.5 227.4,466.5 227.9,466.5 228.4,466.5 228.9,466.5 229.4,466.4 229.9,466.5 230.4,466.5 230.9,466.5 231.4,466.6 231.9,466.6 232.0,466.7 232.4,466.3 232.5,466.7 232.9,466.5 233.4,466.5 233.9,466.5 234.4,466.5 234.9,466.4 235.0,466.4 235.4,466.3 235.9,466.4 236.4,466.2 236.9,466.2 237.4,466.4 237.9,466.3 238.4,466.2 238.9,466.4 239.4,466.3 239.9,466.2 240.4,466.4 240.9,466.3 241.4,466.3 241.9,466.3 242.0,466.4 242.4,463.4 242.5,462.4 242.9,462.6 243.4,462.8 243.5,463.0 243.9,463.3 244.4,463.6 244.9,463.9 245.0,464.0 245.4,464.1 245.9,464.1 246.4,464.2 246.9,464.1 247.4,464.3 247.7,464.3" fill="none" stroke="#7050c0" stroke-width="1.15" stroke-linejoin="round" stroke-opacity="1.0"/>
<polyline points="17.4,432.6 17.9,430.6 18.4,428.9 18.5,427.9 18.9,429.8 19.3,430.8 19.4,430.0 19.9,430.6 20.0,431.1 20.4,432.2 20.5,432.9 20.9,433.8 21.0,433.8 21.3,438.9 21.4,439.2 21.9,449.5 22.0,451.6 22.3,449.6 22.4,450.5 22.9,447.3 23.0,446.9 23.4,446.2 23.9,443.5 24.0,443.4 24.4,443.5 24.9,440.5 25.0,440.7 25.4,439.9 25.9,440.7 26.4,440.3 26.9,438.3 27.2,438.0 27.4,440.4 27.5,435.8 27.9,438.8 28.4,439.2 28.8,440.0 28.9,440.0 29.4,441.2 29.9,440.7 30.0,441.9 30.4,441.7 30.9,441.8 31.4,441.8 31.9,442.9 32.4,443.0 32.9,443.4 33.0,444.0 33.4,444.3 33.5,444.7 33.9,445.3 34.4,445.1 34.9,446.8 35.0,446.7 35.4,444.9 35.9,447.4 36.4,447.8 36.9,447.8 37.4,448.4 37.5,448.2 37.9,449.1 38.4,449.0 38.9,448.5 39.4,450.2 39.9,451.8 40.0,451.7 40.4,452.4 40.9,452.9 41.0,453.4 41.4,453.6 41.9,454.1 42.0,454.8 42.4,454.6 42.9,457.0 43.0,455.9 43.4,457.3 43.9,456.8 44.0,458.5 44.4,458.2 44.9,459.1 45.0,460.0 45.4,459.4 45.9,459.2 46.4,457.9 46.9,453.8 47.0,457.0 47.4,456.6 47.9,456.0 48.4,455.0 48.9,456.2 49.0,453.6 49.4,453.9 49.9,455.7 50.0,453.6 50.4,454.4 50.9,454.7 51.0,453.2 51.4,453.1 51.9,452.7 52.4,451.4 52.9,451.0 53.0,451.5 53.4,451.1 53.9,451.6 54.4,451.3 54.9,451.6 55.0,450.2 55.4,451.3 55.9,454.4 56.4,452.7 56.9,451.7 57.0,452.2 57.4,451.9 57.9,452.0 58.4,453.7 58.9,452.6 59.4,452.9 59.9,453.7 60.0,453.2 60.4,453.8 60.9,453.9 61.4,454.2 61.9,453.7 62.3,453.4 62.4,453.4 62.9,453.8 63.4,454.4 63.9,455.0 64.0,454.4 64.4,454.8 64.6,455.4 64.9,455.3 65.0,454.1 65.4,456.7 65.5,457.8 65.9,455.7 66.0,456.2 66.4,456.6 66.9,456.7 67.4,457.1 67.9,457.8 68.4,457.6 68.8,457.7 68.9,459.1 69.2,458.1 69.4,458.6 69.9,458.8 70.0,457.8 70.4,458.8 70.9,459.4 71.4,458.8 71.9,460.1 72.0,459.1 72.4,460.1 72.9,460.3 73.4,462.2 73.9,460.3 74.4,460.6 74.9,460.7 75.0,460.9 75.4,461.2 75.9,460.0 76.4,460.2 76.9,459.2 77.4,459.0 77.9,459.4 78.4,459.4 78.9,459.2 79.4,459.4 79.9,460.4 80.0,460.4 80.4,460.5 80.9,460.3 81.4,459.7 81.9,459.7 82.4,459.7 82.9,459.9 83.4,460.0 83.9,459.5 84.4,460.0 84.9,459.7 85.0,460.2 85.4,460.8 85.9,460.5 86.4,461.7 86.9,461.6 87.4,461.3 87.9,460.9 88.4,461.7 88.9,460.7 89.4,460.7 89.9,460.6 90.0,460.3 90.4,461.3 90.9,460.9 91.4,461.0 91.9,460.7 92.4,460.6 92.9,461.0 93.4,460.3 93.9,459.8 94.4,461.3 94.9,459.7 95.4,461.6 95.9,461.2 96.0,461.1 96.4,459.9 96.9,456.2 97.0,453.3 97.4,455.5 97.9,454.2 98.0,450.2 98.2,450.2 98.4,455.0 98.9,454.1 99.4,454.1 99.9,454.7 100.4,454.3 100.5,452.9 100.7,452.9 100.9,453.9 101.4,455.0 101.9,455.4 102.4,455.5 102.5,452.9 102.7,452.9 102.9,454.8 103.4,454.8 103.9,454.3 104.4,454.7 104.9,453.9 105.0,454.0 105.4,456.6 105.9,455.1 106.4,455.5 106.5,457.0 106.7,457.0 106.9,454.8 107.4,455.2 107.9,455.2 108.4,455.9 108.5,453.5 108.7,453.5 108.9,455.2 109.4,454.6 109.9,455.6 110.0,455.5 110.4,455.3 110.9,455.6 111.4,454.9 111.9,454.6 112.0,457.0 112.2,457.0 112.4,454.4 112.9,454.2 113.4,455.6 113.9,455.2 114.4,455.2 114.5,456.7 114.7,456.7 114.9,454.6 115.0,456.6 115.4,454.9 115.9,454.7 116.4,454.3 116.9,454.8 117.0,454.6 117.2,454.6 117.4,454.6 117.9,454.6 118.4,453.5 118.9,454.3 119.4,454.8 119.9,454.1 120.4,454.0 120.5,455.6 120.7,455.6 120.9,455.0 121.4,455.7 121.9,455.2 122.4,452.7 122.9,454.8 123.0,453.7 123.2,453.7 123.4,455.0 123.8,453.9 123.9,452.5 124.4,445.0 124.9,436.8 125.0,436.6 125.4,435.8 125.9,436.5 126.4,437.3 126.9,438.3 127.3,438.5 127.4,438.7 127.9,438.6 128.0,437.4 128.4,438.7 128.9,440.4 129.4,441.1 129.6,440.5 129.9,441.6 130.4,441.6 130.9,441.7 131.0,441.7 131.4,442.7 131.9,442.8 132.4,442.4 132.9,442.4 133.1,442.5 133.4,443.0 133.9,443.7 134.4,444.9 134.9,444.4 135.0,442.9 135.4,444.3 135.9,443.9 136.4,445.1 136.5,442.0 136.9,446.8 137.4,449.9 137.5,450.7 137.9,454.8 138.4,458.0 138.8,460.1 138.9,459.2 139.4,457.3 139.9,455.8 140.0,455.7 140.4,454.6 140.9,454.2 141.4,453.8 141.9,454.2 142.3,452.2 142.4,453.0 142.9,452.3 143.4,452.0 143.5,452.1 143.9,452.1 144.4,453.9 144.6,453.3 144.9,453.5 145.0,453.9 145.4,454.4 145.9,453.9 146.0,454.1 146.4,452.3 146.9,453.9 147.4,454.4 147.9,455.2 148.0,454.2 148.4,454.9 148.9,454.3 149.4,456.0 149.9,457.3 150.4,457.9 150.9,456.7 151.4,457.0 151.9,457.5 152.4,457.0 152.9,456.8 153.0,457.1 153.4,456.5 153.9,455.6 154.4,454.1 154.9,457.5 155.0,456.3 155.4,456.2 155.9,455.8 156.4,458.6 156.9,457.2 157.3,457.2 157.4,454.7 157.9,456.9 158.4,457.0 158.9,458.5 159.0,456.7 159.4,456.8 159.9,456.6 160.4,456.7 160.9,456.2 161.4,455.7 161.9,456.1 162.4,455.3 162.9,454.7 163.0,455.6 163.4,454.8 163.9,452.4 164.4,455.1 164.9,455.9 165.4,455.5 165.9,454.5 166.4,454.9 166.9,454.7 167.0,453.9 167.4,454.7 167.9,454.0 168.4,453.7 168.8,453.1 168.9,454.0 169.4,453.5 169.9,453.8 170.4,453.8 170.9,455.6 171.0,454.3 171.4,454.3 171.9,453.4 172.4,454.1 172.9,453.7 173.4,452.3 173.5,452.9 173.9,452.8 174.4,454.4 174.9,454.0 175.4,454.8 175.9,454.9 176.0,454.2 176.4,455.5 176.9,455.0 177.4,455.5 177.9,455.4 178.1,455.2 178.4,456.4 178.9,455.6 179.4,455.3 179.9,455.8 180.0,455.7 180.4,453.5 180.9,456.4 181.4,455.5 181.9,455.7 182.0,457.6 182.4,456.5 182.9,456.9 183.4,456.9 183.9,456.4 184.4,456.7 184.9,457.9 185.0,456.4 185.4,456.7 185.9,456.3 186.4,456.0 186.9,457.3 187.0,457.9 187.4,458.3 187.9,458.1 188.4,458.5 188.9,458.0 189.4,457.7 189.9,457.7 190.0,457.9 190.4,459.2 190.9,459.8 191.4,459.1 191.9,459.5 192.4,457.9 192.9,458.6 193.4,458.8 193.5,458.5 193.9,460.1 194.4,460.7 194.9,460.4 195.0,460.2 195.4,460.0 195.9,460.0 196.4,460.8 196.9,459.6 197.0,459.7 197.4,456.4 197.9,449.8 198.0,449.5 198.4,443.7 198.9,438.6 199.2,433.8 199.4,434.7 199.9,434.8 200.3,435.4 200.4,436.5 200.9,436.1 201.4,437.4 201.5,437.9 201.9,438.8 202.4,439.2 202.5,441.3 202.9,441.9 203.4,443.5 203.8,446.0 203.9,445.0 204.4,445.6 204.9,448.5 205.0,448.6 205.4,449.9 205.9,451.4 206.2,450.5 206.4,450.8 206.9,451.5 207.0,452.5 207.4,453.2 207.9,453.2 208.4,453.1 208.5,453.4 208.9,454.5 209.4,454.4 209.9,454.2 210.0,454.3 210.4,454.8 210.8,454.4 210.9,455.2 211.4,454.9 211.9,454.9 212.0,454.8 212.4,457.3 212.9,455.7 213.4,455.7 213.9,457.7 214.0,457.6 214.4,458.3 214.9,458.4 215.4,458.3 215.9,458.2 216.4,458.2 216.9,458.4 217.4,458.4 217.9,458.4 218.0,458.5 218.1,456.5 218.4,457.0 218.9,456.9 219.4,456.9 219.9,456.9 220.4,457.0 220.6,456.9 220.9,458.8 221.0,459.4 221.4,459.3 221.9,459.3 222.4,459.5 222.9,459.3 223.4,459.5 223.9,459.5 224.4,459.5 224.9,459.7 225.4,459.6 225.9,459.5 226.4,459.6 226.9,459.6 227.4,459.5 227.9,459.4 228.4,459.4 228.9,459.4 229.4,459.2 229.9,459.4 230.4,459.5 230.9,459.4 231.4,459.6 231.9,459.8 232.0,459.6 232.4,458.2 232.5,457.9 232.9,458.1 233.4,458.5 233.9,458.2 234.4,458.2 234.9,459.7 235.0,460.0 235.4,460.0 235.9,460.0 236.4,459.8 236.9,459.9 237.4,460.0 237.9,459.9 238.4,459.8 238.9,459.9 239.4,459.8 239.9,459.8 240.4,460.1 240.9,459.9 241.4,459.9 241.9,459.9 242.0,460.1 242.4,454.2 242.5,452.5 242.9,452.7 243.4,453.0 243.5,453.4 243.9,453.8 244.4,454.1 244.9,454.5 245.0,454.4 245.4,454.6 245.9,454.5 246.4,454.6 246.9,454.6 247.4,454.8 247.7,454.7" fill="none" stroke="#a8202e" stroke-width="1.15" stroke-linejoin="round" stroke-opacity="1.0"/>
<polyline points="17.4,417.9 17.9,409.9 18.4,401.8 18.5,399.7 18.9,402.2 19.3,404.6 19.4,402.6 19.9,408.2 20.0,409.5 20.4,412.5 20.5,413.9 20.9,417.3 21.0,417.7 21.3,421.1 21.4,420.6 21.9,426.4 22.0,427.4 22.3,429.7 22.4,429.9 22.9,426.6 23.0,426.0 23.4,424.6 23.9,421.0 24.0,421.1 24.4,420.9 24.9,418.5 25.0,416.7 25.4,415.0 25.9,414.8 26.4,413.7 26.9,412.4 27.2,409.9 27.4,413.8 27.5,409.0 27.9,413.8 28.4,416.7 28.8,417.3 28.9,419.1 29.4,421.5 29.9,424.6 30.0,424.1 30.4,424.4 30.9,424.4 31.4,424.8 31.9,426.6 32.4,425.6 32.9,426.6 33.0,427.4 33.4,427.1 33.5,427.5 33.9,429.0 34.4,429.2 34.9,431.4 35.0,433.5 35.4,432.6 35.9,434.0 36.4,434.7 36.9,434.6 37.4,437.1 37.5,437.2 37.9,438.5 38.4,437.8 38.9,437.3 39.4,439.5 39.9,441.1 40.0,442.2 40.4,443.0 40.9,443.6 41.0,444.0 41.4,444.7 41.9,444.7 42.0,445.9 42.4,445.6 42.9,448.0 43.0,446.5 43.4,447.3 43.9,447.4 44.0,448.8 44.4,444.2 44.9,446.4 45.0,446.2 45.4,445.1 45.9,443.9 46.4,442.1 46.9,437.5 47.0,440.1 47.4,439.9 47.9,439.7 48.4,438.8 48.9,440.4 49.0,438.2 49.4,438.1 49.9,438.3 50.0,438.6 50.4,439.0 50.9,439.1 51.0,439.1 51.4,440.2 51.9,439.0 52.4,437.9 52.9,436.6 53.0,436.7 53.4,436.5 53.9,437.8 54.4,437.5 54.9,437.4 55.0,437.2 55.4,437.3 55.9,438.2 56.4,438.5 56.9,437.7 57.0,438.6 57.4,437.7 57.9,439.9 58.4,439.9 58.9,439.3 59.4,439.1 59.9,440.2 60.0,440.5 60.4,440.8 60.9,440.5 61.4,440.3 61.9,440.6 62.3,440.7 62.4,439.7 62.9,441.3 63.4,441.3 63.9,442.4 64.0,442.9 64.4,442.1 64.6,442.1 64.9,442.4 65.0,443.4 65.4,443.9 65.5,445.3 65.9,443.9 66.0,444.3 66.4,444.4 66.9,444.9 67.4,445.5 67.9,447.8 68.4,445.3 68.8,445.9 68.9,447.3 69.2,446.6 69.4,447.8 69.9,448.3 70.0,447.2 70.4,449.7 70.9,450.8 71.4,450.4 71.9,451.2 72.0,449.6 72.0,450.4 72.2,449.6 72.4,451.4 72.9,451.5 73.4,453.3 73.9,451.5 74.4,451.4 74.5,451.0 74.7,451.0 74.9,451.8 75.0,451.7 75.4,451.5 75.9,451.5 76.4,451.5 76.9,450.7 77.0,451.0 77.2,451.0 77.4,450.4 77.9,450.2 78.4,450.0 78.9,450.2 79.4,449.6 79.9,450.0 80.0,445.0 80.0,452.1 80.2,445.0 80.4,450.4 80.9,450.8 81.4,449.6 81.9,450.1 82.4,450.6 82.9,451.0 83.0,454.0 83.2,454.0 83.4,450.5 83.9,451.5 84.4,450.5 84.9,450.2 85.0,451.4 85.4,451.6 85.9,451.0 86.0,449.5 86.2,449.5 86.4,452.8 86.9,453.1 87.4,452.5 87.9,451.9 88.4,452.8 88.9,451.9 89.0,446.3 89.2,446.3 89.4,452.8 89.9,452.4 90.0,451.7 90.4,451.7 90.9,452.4 91.4,451.6 91.9,451.7 92.0,452.3 92.2,452.3 92.4,451.1 92.9,451.2 93.4,450.8 93.5,448.5 93.7,448.5 93.9,450.5 94.4,451.3 94.9,451.5 95.4,449.8 95.5,445.8 95.7,445.8 95.9,451.5 96.0,451.6 96.4,449.9 96.9,446.0 97.0,442.9 97.4,445.3 97.9,443.6 98.0,442.4 98.2,442.4 98.4,443.9 98.9,443.7 99.4,443.8 99.9,444.9 100.4,444.5 100.9,444.7 101.0,442.8 101.2,442.8 101.4,444.6 101.9,445.4 102.4,446.1 102.5,448.0 102.7,448.0 102.9,445.8 103.4,446.4 103.9,445.4 104.4,445.9 104.9,444.5 105.0,445.8 105.4,448.5 105.5,443.4 105.7,443.4 105.9,446.5 106.4,446.2 106.9,446.0 107.4,446.2 107.9,446.2 108.0,445.2 108.2,445.2 108.4,446.8 108.9,446.8 109.4,447.0 109.9,448.4 110.0,448.3 110.4,448.5 110.9,448.2 111.0,448.7 111.2,448.7 111.4,447.6 111.9,446.9 112.4,447.2 112.9,446.7 113.0,450.4 113.2,450.4 113.4,447.7 113.9,447.8 114.4,447.8 114.9,447.3 115.0,449.3 115.0,447.9 115.2,449.3 115.4,446.9 115.9,448.1 116.4,447.9 116.9,448.2 117.0,444.6 117.2,444.6 117.4,447.7 117.9,448.3 118.4,447.2 118.9,448.3 119.0,451.3 119.2,451.3 119.4,449.1 119.9,447.7 120.4,447.0 120.9,448.5 121.0,445.4 121.2,445.4 121.4,448.6 121.9,449.0 122.4,445.4 122.9,448.0 123.0,450.8 123.2,450.8 123.4,448.2 123.8,448.2 123.9,445.0 124.4,433.6 124.9,421.1 125.0,419.7 125.4,420.6 125.9,420.6 126.4,421.5 126.9,423.0 127.3,423.5 127.4,423.9 127.9,424.2 128.0,423.3 128.4,424.4 128.9,425.8 129.4,426.3 129.6,426.1 129.9,427.5 130.4,427.3 130.9,427.8 131.0,428.6 131.4,430.0 131.9,430.4 132.4,429.4 132.9,430.3 133.1,430.6 133.4,430.7 133.9,432.6 134.4,432.2 134.9,433.1 135.0,431.5 135.4,432.6 135.9,432.3 136.4,432.9 136.5,429.8 136.9,434.4 137.4,436.3 137.5,436.8 137.9,441.0 138.4,441.6 138.8,443.6 138.9,442.8 139.4,440.6 139.9,440.3 140.0,441.0 140.4,440.2 140.9,440.8 141.4,441.5 141.9,442.0 142.3,440.6 142.4,441.3 142.9,440.8 143.4,441.2 143.5,441.0 143.9,440.4 144.4,441.3 144.6,441.3 144.9,441.8 145.0,442.0 145.4,443.1 145.9,443.0 146.0,443.8 146.4,443.6 146.9,442.9 147.4,443.5 147.9,444.9 148.0,443.4 148.4,444.3 148.9,442.9 149.4,444.6 149.9,445.3 150.4,445.3 150.9,444.9 151.4,445.3 151.9,445.4 152.4,445.3 152.9,445.5 153.0,443.9 153.4,445.7 153.9,445.4 154.4,443.2 154.9,445.4 155.0,446.2 155.4,446.5 155.9,446.4 156.4,447.4 156.9,448.5 157.3,448.2 157.4,445.9 157.9,448.0 158.4,448.4 158.9,450.4 159.0,448.4 159.4,448.3 159.9,448.8 160.4,449.0 160.9,448.7 161.4,446.9 161.9,448.2 162.4,447.8 162.9,447.2 163.0,447.8 163.4,447.3 163.9,446.5 164.4,448.7 164.9,448.5 165.4,447.1 165.9,447.0 166.4,447.6 166.9,447.0 167.0,447.0 167.4,446.6 167.9,445.7 168.4,445.2 168.8,444.8 168.9,446.6 169.4,445.7 169.9,445.6 170.4,445.5 170.9,448.3 171.0,445.8 171.4,446.1 171.9,445.8 172.4,445.7 172.9,446.1 173.4,444.3 173.5,445.2 173.9,445.6 174.4,446.6 174.9,446.7 175.4,446.6 175.9,446.5 176.0,445.7 176.4,447.1 176.9,446.9 177.4,446.8 177.9,447.2 178.1,446.6 178.4,446.3 178.9,447.6 179.4,447.0 179.9,447.3 180.0,446.9 180.4,446.3 180.9,448.2 181.4,446.8 181.9,446.0 182.0,448.9 182.4,447.5 182.9,447.9 183.4,448.5 183.9,447.5 184.4,447.5 184.9,449.2 185.0,446.9 185.4,447.4 185.9,447.8 186.4,447.3 186.9,448.4 187.0,449.1 187.4,449.0 187.9,449.1 188.4,447.5 188.9,448.2 189.4,448.0 189.9,447.8 190.0,448.5 190.4,449.0 190.9,449.5 191.4,448.7 191.9,449.8 192.4,450.5 192.9,449.6 193.4,450.0 193.5,449.8 193.9,451.4 194.4,450.9 194.9,451.0 195.0,450.6 195.4,450.5 195.9,450.7 196.4,451.6 196.9,451.4 197.0,451.6 197.4,447.9 197.9,439.9 198.0,438.7 198.4,432.6 198.9,425.8 199.2,421.1 199.4,420.9 199.9,421.6 200.3,422.2 200.4,423.4 200.9,423.5 201.4,425.2 201.5,425.2 201.9,427.1 202.4,427.4 202.5,430.4 202.9,431.2 203.4,432.2 203.8,435.5 203.9,434.5 204.4,435.7 204.9,437.6 205.0,437.9 205.4,439.7 205.9,442.0 206.2,441.2 206.4,441.3 206.9,442.5 207.0,443.4 207.4,444.7 207.9,445.0 208.4,445.5 208.5,445.3 208.9,446.2 209.4,446.3 209.9,446.3 210.0,446.3 210.4,447.1 210.8,446.1 210.9,446.7 211.4,447.3 211.9,446.3 212.0,446.6 212.4,448.0 212.9,447.2 213.4,448.2 213.9,449.9 214.0,449.9 214.4,450.2 214.9,450.2 215.4,450.2 215.9,450.2 216.4,450.1 216.9,450.3 217.4,450.3 217.9,450.2 218.0,450.3 218.1,447.0 218.4,447.5 218.9,447.4 219.4,447.5 219.9,447.5 220.4,447.5 220.6,447.4 220.9,451.1 221.0,452.4 221.4,452.2 221.9,452.3 222.4,452.3 222.9,452.4 223.4,452.5 223.9,452.5 224.4,452.5 224.9,452.5 225.4,452.4 225.9,452.3 226.4,452.6 226.9,452.5 227.4,452.4 227.9,452.3 228.4,452.4 228.9,452.0 229.4,452.4 229.9,452.4 230.4,452.3 230.9,452.4 231.4,452.5 231.9,452.2 232.0,452.4 232.4,450.0 232.5,450.6 232.9,450.5 233.4,450.4 233.9,450.5 234.4,450.5 234.9,453.6 235.0,454.1 235.4,454.3 235.9,454.3 236.4,454.1 236.9,454.1 237.4,454.3 237.9,454.2 238.4,454.2 238.9,454.4 239.4,454.2 239.9,454.1 240.4,454.5 240.9,454.3 241.4,454.3 241.9,454.2 242.0,454.4 242.4,447.5 242.5,445.5 242.9,445.7 243.4,446.0 243.5,446.3 243.9,446.6 244.4,447.0 244.9,447.5 245.0,447.3 245.4,447.6 245.9,447.6 246.4,447.8 246.9,447.5 247.4,447.8 247.7,447.7" fill="none" stroke="#a0a030" stroke-width="1.15" stroke-linejoin="round" stroke-opacity="1.0"/>
<rect x="49" y="492" width="166" height="25.5" fill="none" stroke="#f4f4f4" stroke-width="0.8"/>
<line x1="52.6" y1="497.2" x2="68.8" y2="497.2" stroke="#4a72c8" stroke-width="1.0" stroke-opacity="1.0"/>
<text x="71.6" y="499.4" text-anchor="start" font-size="6.35" fill="#1e1e1e">GER 10 YR</text>
<line x1="106.8" y1="497.2" x2="123.2" y2="497.2" stroke="#ee8030" stroke-width="1.0" stroke-opacity="1.0"/>
<text x="125.8" y="499.4" text-anchor="start" font-size="6.35" fill="#1e1e1e">GER 1 YR</text>
<line x1="161.8" y1="497.2" x2="177.5" y2="497.2" stroke="#3fa45a" stroke-width="1.0" stroke-opacity="1.0"/>
<text x="180.0" y="499.4" text-anchor="start" font-size="6.35" fill="#1e1e1e">GER 20 YR</text>
<line x1="52.6" y1="504.7" x2="68.8" y2="504.7" stroke="#e0283a" stroke-width="1.0" stroke-opacity="1.0"/>
<text x="71.6" y="506.9" text-anchor="start" font-size="6.35" fill="#1e1e1e">GER 2 YR</text>
<line x1="106.8" y1="504.7" x2="123.2" y2="504.7" stroke="#404040" stroke-width="1.0" stroke-opacity="1.0"/>
<text x="125.8" y="506.9" text-anchor="start" font-size="6.35" fill="#1e1e1e">GER 30 YR</text>
<line x1="161.8" y1="504.7" x2="177.5" y2="504.7" stroke="#7050c0" stroke-width="1.0" stroke-opacity="1.0"/>
<text x="180.0" y="506.9" text-anchor="start" font-size="6.35" fill="#1e1e1e">GER 3 YR</text>
<line x1="52.6" y1="512.4" x2="68.8" y2="512.4" stroke="#a8202e" stroke-width="1.0" stroke-opacity="1.0"/>
<text x="71.6" y="514.6" text-anchor="start" font-size="6.35" fill="#1e1e1e">GER 5 YR</text>
<line x1="106.8" y1="512.4" x2="123.2" y2="512.4" stroke="#a0a030" stroke-width="1.0" stroke-opacity="1.0"/>
<text x="125.8" y="514.6" text-anchor="start" font-size="6.35" fill="#1e1e1e">GER 7 YR</text>
<line x1="297" y1="473.0" x2="542" y2="473.0" stroke="#f4f4f4" stroke-width="0.8"/>
<line x1="297" y1="459.2" x2="542" y2="459.2" stroke="#f4f4f4" stroke-width="0.8"/>
<line x1="297" y1="445.4" x2="542" y2="445.4" stroke="#f4f4f4" stroke-width="0.8"/>
<line x1="297" y1="431.7" x2="542" y2="431.7" stroke="#f4f4f4" stroke-width="0.8"/>
<line x1="297" y1="417.9" x2="542" y2="417.9" stroke="#f4f4f4" stroke-width="0.8"/>
<line x1="297" y1="404.1" x2="542" y2="404.1" stroke="#f4f4f4" stroke-width="0.8"/>
<line x1="297" y1="390.3" x2="542" y2="390.3" stroke="#f4f4f4" stroke-width="0.8"/>
<line x1="297" y1="376.5" x2="542" y2="376.5" stroke="#f4f4f4" stroke-width="0.8"/>
<line x1="297" y1="362.8" x2="542" y2="362.8" stroke="#f4f4f4" stroke-width="0.8"/>
<line x1="330.9" y1="362.8" x2="330.9" y2="473.0" stroke="#f4f4f4" stroke-width="0.8"/>
<line x1="355.4" y1="362.8" x2="355.4" y2="473.0" stroke="#f4f4f4" stroke-width="0.8"/>
<line x1="380.2" y1="362.8" x2="380.2" y2="473.0" stroke="#f4f4f4" stroke-width="0.8"/>
<line x1="404.8" y1="362.8" x2="404.8" y2="473.0" stroke="#f4f4f4" stroke-width="0.8"/>
<line x1="429.3" y1="362.8" x2="429.3" y2="473.0" stroke="#f4f4f4" stroke-width="0.8"/>
<line x1="453.9" y1="362.8" x2="453.9" y2="473.0" stroke="#f4f4f4" stroke-width="0.8"/>
<line x1="478.4" y1="362.8" x2="478.4" y2="473.0" stroke="#f4f4f4" stroke-width="0.8"/>
<line x1="502.9" y1="362.8" x2="502.9" y2="473.0" stroke="#f4f4f4" stroke-width="0.8"/>
<line x1="526.4" y1="362.8" x2="526.4" y2="473.0" stroke="#f4f4f4" stroke-width="0.8"/>
<line x1="309.5" y1="362.8" x2="309.5" y2="473.0" stroke="#f4f4f4" stroke-width="0.8"/>
<line x1="542.0" y1="362.8" x2="542.0" y2="473.0" stroke="#f4f4f4" stroke-width="0.8"/>
<text x="294.8" y="475.3" text-anchor="end" font-size="6.65" fill="#1e1e1e">0</text>
<text x="294.8" y="461.5" text-anchor="end" font-size="6.65" fill="#1e1e1e">10,000</text>
<text x="294.8" y="447.7" text-anchor="end" font-size="6.65" fill="#1e1e1e">20,000</text>
<text x="294.8" y="433.9" text-anchor="end" font-size="6.65" fill="#1e1e1e">30,000</text>
<text x="294.8" y="420.1" text-anchor="end" font-size="6.65" fill="#1e1e1e">40,000</text>
<text x="294.8" y="406.4" text-anchor="end" font-size="6.65" fill="#1e1e1e">50,000</text>
<text x="294.8" y="392.6" text-anchor="end" font-size="6.65" fill="#1e1e1e">60,000</text>
<text x="294.8" y="378.8" text-anchor="end" font-size="6.65" fill="#1e1e1e">70,000</text>
<text x="294.8" y="365.0" text-anchor="end" font-size="6.65" fill="#1e1e1e">80,000</text>
<text x="300.3" y="480.5" text-anchor="middle" font-size="6.65" fill="#1e1e1e">2012</text>
<text x="319.5" y="480.5" text-anchor="middle" font-size="6.65" fill="#1e1e1e">2013</text>
<text x="343.6" y="480.5" text-anchor="middle" font-size="6.65" fill="#1e1e1e">2014</text>
<text x="368.6" y="480.5" text-anchor="middle" font-size="6.65" fill="#1e1e1e">2015</text>
<text x="393.2" y="480.5" text-anchor="middle" font-size="6.65" fill="#1e1e1e">2016</text>
<text x="417.7" y="480.5" text-anchor="middle" font-size="6.65" fill="#1e1e1e">2017</text>
<text x="442.3" y="480.5" text-anchor="middle" font-size="6.65" fill="#1e1e1e">2018</text>
<text x="466.8" y="480.5" text-anchor="middle" font-size="6.65" fill="#1e1e1e">2019</text>
<text x="491.4" y="480.5" text-anchor="middle" font-size="6.65" fill="#1e1e1e">2020</text>
<text x="515.9" y="480.5" text-anchor="middle" font-size="6.65" fill="#1e1e1e">2021</text>
<text x="538.3" y="480.5" text-anchor="middle" font-size="6.65" fill="#1e1e1e">2022</text>
<polyline points="297.9,432.7 353.3,432.7 353.3,471.8 353.3,471.7 354.1,471.8 354.9,472.0 355.7,471.9 356.5,471.7 357.3,471.0 358.1,471.4 358.9,470.3 359.7,470.0 360.5,470.1 361.3,469.2 362.1,470.0 362.9,469.2 363.7,469.3 364.5,468.0 365.3,467.5 366.1,467.4 366.9,467.6 367.7,467.0 368.5,467.5 369.3,467.3 370.1,468.5 370.9,468.2 371.7,469.6 372.5,469.5 373.3,470.0 374.1,470.8 374.9,471.2 375.7,471.8 376.5,472.1 377.3,471.8 378.1,472.0 378.9,472.3 379.7,471.9 380.5,471.8 381.3,471.4 382.1,470.7 382.9,471.0 383.7,470.1 384.5,471.1 385.3,471.4 386.1,472.0 386.9,471.7 387.7,471.5 388.5,471.9 389.3,471.6 390.1,471.7 390.9,471.8 391.7,471.8 392.5,471.7 393.3,471.6 394.1,471.7 394.9,471.2 395.7,471.8 396.5,471.4 397.3,472.1 398.1,472.2 398.9,471.2 399.7,471.8 400.5,471.8 401.3,471.5 402.1,472.0 402.9,471.7 403.7,471.3 404.5,471.7 405.3,471.8 406.1,471.8 406.9,471.4 407.7,472.0 408.5,472.0 409.3,471.5 410.1,471.6 410.9,471.6 411.7,471.3 412.5,471.5 413.3,470.6 414.1,470.1 414.9,470.4 415.7,471.1 416.5,472.2 417.3,471.7 418.1,471.8 418.9,472.0 419.7,471.8 420.5,471.8 421.3,471.8 422.1,471.8 422.9,471.8 423.7,471.8 424.5,471.8 425.3,471.8 426.1,471.8 426.9,471.8 427.7,471.8 428.5,471.8 429.3,471.8 430.1,471.8 430.9,471.8 431.7,471.8 432.5,471.8 433.3,471.8 434.1,471.8 434.9,471.8 435.7,471.8 436.5,471.8 437.3,471.8 438.1,471.8 438.9,471.8 439.7,471.8 440.5,471.8 441.3,471.8 442.1,471.8 442.9,471.8 443.7,471.8 444.5,471.8 445.3,471.8 446.1,471.8 446.9,471.8 447.7,471.8 448.5,471.8 449.3,471.8 450.1,471.8 450.9,471.8 451.7,471.8 452.5,471.8 453.3,471.8 454.1,471.8 454.9,471.8 455.7,471.8 456.5,471.8 457.3,471.8 458.1,471.8 458.9,471.8 459.7,471.8 460.5,471.8 461.3,471.8 462.1,471.8 462.9,471.8 463.7,471.8 464.5,471.8 465.3,471.8 466.1,471.8 466.9,471.8 467.7,471.8 468.5,471.8 469.3,471.8 470.1,471.8 470.9,471.8 471.7,471.8 472.5,471.8 473.3,471.8 474.1,471.8 474.9,471.8 475.7,471.8 476.5,471.8 477.3,471.8 478.1,471.8 478.9,471.8 479.7,471.8 480.5,471.8 481.3,471.8 482.1,471.8 482.9,471.8 483.7,471.8 484.5,471.8 485.3,471.8 486.1,471.8 486.9,471.8 487.7,471.8 488.5,471.8 489.3,471.8 490.1,471.8 490.9,471.8 491.7,471.8 492.5,471.8 493.3,471.8 494.1,471.8 494.9,471.8 495.7,471.8 496.5,471.8 497.3,471.8 498.1,471.8 498.9,471.8 499.7,471.8 500.5,471.8 501.3,471.8 502.1,471.8 502.9,471.8 503.7,471.8 504.5,471.8 505.3,471.8 506.1,471.8 506.9,471.8 507.7,471.8 508.5,471.8 509.3,471.8 510.1,471.8 510.9,471.8 511.7,471.8 512.5,471.8 513.3,471.8 514.1,471.8 514.9,471.8 515.7,471.8 516.5,471.8 517.3,471.8 518.1,471.8 518.9,471.8 519.7,471.8 520.5,471.8 521.3,471.8 522.1,471.8 522.9,471.8 523.7,471.8 524.5,471.8 525.3,471.8 526.1,471.8 526.9,471.8 527.7,471.8 528.5,471.8 529.3,471.8 530.1,471.8 530.9,471.8 531.7,471.8 532.5,471.8 533.3,471.8 534.1,471.8 534.9,471.8 535.7,471.8 536.5,471.8 537.3,471.8 538.1,471.8 538.9,471.8 539.7,471.8 540.5,471.8 541.3,471.8" fill="none" stroke="#4a72c8" stroke-width="1.6" stroke-linejoin="round" stroke-opacity="0.8"/>
<polyline points="297.9,376.2 353.3,376.2 353.3,471.5 353.3,472.4 354.1,470.3 354.9,471.7 355.7,470.8 356.5,470.4 357.3,470.1 358.1,468.5 358.9,469.0 359.7,468.0 360.5,469.7 361.3,467.4 362.1,466.4 362.9,465.7 363.7,464.8 364.5,463.9 365.3,463.5 366.1,463.4 366.9,463.0 367.7,463.6 368.5,463.0 369.3,463.1 370.1,464.9 370.9,465.6 371.7,466.3 372.5,467.7 373.3,469.4 374.1,471.5 374.9,471.5 375.7,471.7 376.5,472.1 377.3,471.5 378.1,471.7 378.9,472.1 379.7,472.0 380.5,471.8 381.3,471.7 382.1,470.3 382.9,471.0 383.7,470.3 384.5,470.4 385.3,471.4 386.1,471.9 386.9,471.6 387.7,471.5 388.5,471.8 389.3,471.8 390.1,472.2 390.9,472.0 391.7,471.9 392.5,472.1 393.3,471.7 394.1,471.5 394.9,472.0 395.7,472.0 396.5,471.7 397.3,471.6 398.1,471.9 398.9,471.1 399.7,472.0 400.5,471.9 401.3,471.3 402.1,471.8 402.9,471.5 403.7,472.0 404.5,471.2 405.3,471.5 406.1,472.0 406.9,472.1 407.7,471.2 408.5,471.7 409.3,471.9 410.1,471.6 410.9,472.2 411.7,471.1 412.5,471.1 413.3,470.2 414.1,470.8 414.9,470.7 415.7,471.0 416.5,471.0 417.3,472.2 418.1,472.0 418.9,472.0 419.7,472.1 420.5,471.8 421.3,471.8 422.1,471.8 422.9,471.8 423.7,471.8 424.5,471.8 425.3,471.8 426.1,471.8 426.9,471.8 427.7,471.8 428.5,471.8 429.3,471.8 430.1,471.8 430.9,471.8 431.7,471.8 432.5,471.8 433.3,471.8 434.1,471.8 434.9,471.8 435.7,471.8 436.5,471.8 437.3,471.8 438.1,471.8 438.9,471.8 439.7,471.8 440.5,471.8 441.3,471.8 442.1,471.8 442.9,471.8 443.7,471.8 444.5,471.8 445.3,471.8 446.1,471.8 446.9,471.8 447.7,471.8 448.5,471.8 449.3,471.8 450.1,471.8 450.9,471.8 451.7,471.8 452.5,471.8 453.3,471.8 454.1,471.8 454.9,471.8 455.7,471.8 456.5,471.8 457.3,471.8 458.1,471.8 458.9,471.8 459.7,471.8 460.5,471.8 461.3,471.8 462.1,471.8 462.9,471.8 463.7,471.8 464.5,471.8 465.3,471.8 466.1,471.8 466.9,471.8 467.7,471.8 468.5,471.8 469.3,471.8 470.1,471.8 470.9,471.8 471.7,471.8 472.5,471.8 473.3,471.8 474.1,471.8 474.9,471.8 475.7,471.8 476.5,471.8 477.3,471.8 478.1,471.8 478.9,471.8 479.7,471.8 480.5,471.8 481.3,471.8 482.1,471.8 482.9,471.8 483.7,471.8 484.5,471.8 485.3,471.8 486.1,471.8 486.9,471.8 487.7,471.8 488.5,471.8 489.3,471.8 490.1,471.8 490.9,471.8 491.7,471.8 492.5,471.8 493.3,471.8 494.1,471.8 494.9,471.8 495.7,471.8 496.5,471.8 497.3,471.8 498.1,471.8 498.9,471.8 499.7,471.8 500.5,471.8 501.3,471.8 502.1,471.8 502.9,471.8 503.7,471.8 504.5,471.8 505.3,471.8 506.1,471.8 506.9,471.8 507.7,471.8 508.5,471.8 509.3,471.8 510.1,471.8 510.9,471.8 511.7,471.8 512.5,471.8 513.3,471.8 514.1,471.8 514.9,471.8 515.7,471.8 516.5,471.8 517.3,471.8 518.1,471.8 518.9,471.8 519.7,471.8 520.5,471.8 521.3,471.8 522.1,471.8 522.9,471.8 523.7,471.8 524.5,471.8 525.3,471.8 526.1,471.8 526.9,471.8 527.7,471.8 528.5,471.8 529.3,471.8 530.1,471.8 530.9,471.8 531.7,471.8 532.5,471.8 533.3,471.8 534.1,471.8 534.9,471.8 535.7,471.8 536.5,471.8 537.3,471.8 538.1,471.8 538.9,471.8 539.7,471.8 540.5,471.8 541.3,471.8" fill="none" stroke="#ee8030" stroke-width="1.2" stroke-linejoin="round" stroke-opacity="0.8"/>
<polyline points="297.9,440.0 353.3,440.0 353.3,471.5 353.3,472.5 354.1,471.6 354.9,472.0 355.7,471.7 356.5,471.7 357.3,470.9 358.1,471.8 358.9,471.0 359.7,470.9 360.5,470.3 361.3,470.2 362.1,470.5 362.9,470.5 363.7,470.2 364.5,470.2 365.3,469.8 366.1,469.3 366.9,469.6 367.7,469.5 368.5,469.3 369.3,469.6 370.1,470.1 370.9,470.0 371.7,470.2 372.5,470.9 373.3,471.7 374.1,471.3 374.9,471.7 375.7,471.8 376.5,472.2 377.3,471.2 378.1,471.9 378.9,472.2 379.7,471.6 380.5,472.2 381.3,471.7 382.1,471.0 382.9,470.8 383.7,470.2 384.5,470.7 385.3,471.9 386.1,471.4 386.9,472.3 387.7,471.8 388.5,472.1 389.3,471.8 390.1,471.1 390.9,471.6 391.7,471.9 392.5,471.5 393.3,471.4 394.1,471.9 394.9,471.6 395.7,471.3 396.5,471.6 397.3,472.1 398.1,471.7 398.9,472.1 399.7,472.3 400.5,471.8 401.3,471.5 402.1,471.4 402.9,471.8 403.7,472.1 404.5,471.9 405.3,472.0 406.1,471.7 406.9,471.9 407.7,471.7 408.5,471.7 409.3,471.4 410.1,471.3 410.9,471.5 411.7,471.1 412.5,470.7 413.3,470.8 414.1,470.4 414.9,471.5 415.7,471.4 416.5,471.3 417.3,471.9 418.1,471.9 418.9,471.6 419.7,472.1 420.5,471.8 421.3,471.8 422.1,471.8 422.9,471.8 423.7,471.8 424.5,471.8 425.3,471.8 426.1,471.8 426.9,471.8 427.7,471.8 428.5,471.8 429.3,471.8 430.1,471.8 430.9,471.8 431.7,471.8 432.5,471.8 433.3,471.8 434.1,471.8 434.9,471.8 435.7,471.8 436.5,471.8 437.3,471.8 438.1,471.8 438.9,471.8 439.7,471.8 440.5,471.8 441.3,471.8 442.1,471.8 442.9,471.8 443.7,471.8 444.5,471.8 445.3,471.8 446.1,471.8 446.9,471.8 447.7,471.8 448.5,471.8 449.3,471.8 450.1,471.8 450.9,471.8 451.7,471.8 452.5,471.8 453.3,471.8 454.1,471.8 454.9,471.8 455.7,471.8 456.5,471.8 457.3,471.8 458.1,471.8 458.9,471.8 459.7,471.8 460.5,471.8 461.3,471.8 462.1,471.8 462.9,471.8 463.7,471.8 464.5,471.8 465.3,471.8 466.1,471.8 466.9,471.8 467.7,471.8 468.5,471.8 469.3,471.8 470.1,471.8 470.9,471.8 471.7,471.8 472.5,471.8 473.3,471.8 474.1,471.8 474.9,471.8 475.7,471.8 476.5,471.8 477.3,471.8 478.1,471.8 478.9,471.8 479.7,471.8 480.5,471.8 481.3,471.8 482.1,471.8 482.9,471.8 483.7,471.8 484.5,471.8 485.3,471.8 486.1,471.8 486.9,471.8 487.7,471.8 488.5,471.8 489.3,471.8 490.1,471.8 490.9,471.8 491.7,471.8 492.5,471.8 493.3,471.8 494.1,471.8 494.9,471.8 495.7,471.8 496.5,471.8 497.3,471.8 498.1,471.8 498.9,471.8 499.7,471.8 500.5,471.8 501.3,471.8 502.1,471.8 502.9,471.8 503.7,471.8 504.5,471.8 505.3,471.8 506.1,471.8 506.9,471.8 507.7,471.8 508.5,471.8 509.3,471.8 510.1,471.8 510.9,471.8 511.7,471.8 512.5,471.8 513.3,471.8 514.1,471.8 514.9,471.8 515.7,471.8 516.5,471.8 517.3,471.8 518.1,471.8 518.9,471.8 519.7,471.8 520.5,471.8 521.3,471.8 522.1,471.8 522.9,471.8 523.7,471.8 524.5,471.8 525.3,471.8 526.1,471.8 526.9,471.8 527.7,471.8 528.5,471.8 529.3,471.8 530.1,471.8 530.9,471.8 531.7,471.8 532.5,471.8 533.3,471.8 534.1,471.8 534.9,471.8 535.7,471.8 536.5,471.8 537.3,471.8 538.1,471.8 538.9,471.8 539.7,471.8 540.5,471.8 541.3,471.8" fill="none" stroke="#3fa45a" stroke-width="1.2" stroke-linejoin="round" stroke-opacity="0.8"/>
<polyline points="297.9,438.5 409.6,438.5 409.6,472.0 410.1,471.9 410.9,472.2 411.7,471.8 412.5,471.2 413.3,470.9 414.1,470.8 414.9,470.9 415.7,470.8 416.5,471.8 417.3,471.7 418.1,472.3 418.9,471.8 419.7,472.0 420.5,471.8 421.3,471.8 422.1,471.8 422.9,471.8 423.7,471.8 424.5,471.8 425.3,471.8 426.1,471.8 426.9,471.8 427.7,471.8 428.5,471.8 429.3,471.8 430.1,471.8 430.9,471.8 431.7,471.8 432.5,471.8 433.3,471.8 434.1,471.8 434.9,471.8 435.7,471.8 436.5,471.8 437.3,471.8 438.1,471.8 438.9,471.8 439.7,471.8 440.5,471.8 441.3,471.8 442.1,471.8 442.9,471.8 443.7,471.8 444.5,471.8 445.3,471.8 446.1,471.8 446.9,471.8 447.7,471.8 448.5,471.8 449.3,471.8 450.1,471.8 450.9,471.8 451.7,471.8 452.5,471.8 453.3,471.8 454.1,471.8 454.9,471.8 455.7,471.8 456.5,471.8 457.3,471.8 458.1,471.8 458.9,471.8 459.7,471.8 460.5,471.8 461.3,471.8 462.1,471.8 462.9,471.8 463.7,471.8 464.5,471.8 465.3,471.8 466.1,471.8 466.9,471.8 467.7,471.8 468.5,471.8 469.3,471.8 470.1,471.8 470.9,471.8 471.7,471.8 472.5,471.8 473.3,471.8 474.1,471.8 474.9,471.8 475.7,471.8 476.5,471.8 477.3,471.8 478.1,471.8 478.9,471.8 479.7,471.8 480.5,471.8 481.3,471.8 482.1,471.8 482.9,471.8 483.7,471.8 484.5,471.8 485.3,471.8 486.1,471.8 486.9,471.8 487.7,471.8 488.5,471.8 489.3,471.8 490.1,471.8 490.9,471.8 491.7,471.8 492.5,471.8 493.3,471.8 494.1,471.8 494.9,471.8 495.7,471.8 496.5,471.8 497.3,471.8 498.1,471.8 498.9,471.8 499.7,471.8 500.5,471.8 501.3,471.8 502.1,471.8 502.9,471.8 503.7,471.8 504.5,471.8 505.3,471.8 506.1,471.8 506.9,471.8 507.7,471.8 508.5,471.8 509.3,471.8 510.1,471.8 510.9,471.8 511.7,471.8 512.5,471.8 513.3,471.8 514.1,471.8 514.9,471.8 515.7,471.8 516.5,471.8 517.3,471.8 518.1,471.8 518.9,471.8 519.7,471.8 520.5,471.8 521.3,471.8 522.1,471.8 522.9,471.8 523.7,471.8 524.5,471.8 525.3,471.8 526.1,471.8 526.9,471.8 527.7,471.8 528.5,471.8 529.3,471.8 530.1,471.8 530.9,471.8 531.7,471.8 532.5,471.8 533.3,471.8 534.1,471.8 534.9,471.8 535.7,471.8 536.5,471.8 537.3,471.8 538.1,471.8 538.9,471.8 539.7,471.8 540.5,471.8 541.3,471.8" fill="none" stroke="#e0283a" stroke-width="1.0" stroke-linejoin="round" stroke-opacity="0.8"/>
<polyline points="297.9,443.0 353.3,443.0 353.3,471.8 353.3,471.6 354.1,470.5 354.9,472.0 355.7,471.2 356.5,471.9 357.3,470.8 358.1,470.3 358.9,471.2 359.7,469.8 360.5,470.1 361.3,470.3 362.1,469.4 362.9,469.1 363.7,468.8 364.5,468.8 365.3,467.8 366.1,468.1 366.9,468.0 367.7,468.8 368.5,467.7 369.3,467.4 370.1,468.5 370.9,468.7 371.7,469.5 372.5,470.0 373.3,471.1 374.1,470.9 374.9,471.7 375.7,471.0 376.5,471.5 377.3,472.3 378.1,471.6 378.9,471.6 379.7,471.4 380.5,471.9 381.3,471.6 382.1,470.8 382.9,470.9 383.7,470.7 384.5,471.1 385.3,471.2 386.1,472.2 386.9,471.9 387.7,471.8 388.5,471.6 389.3,471.7 390.1,472.1 390.9,471.7 391.7,472.1 392.5,472.0 393.3,472.2 394.1,472.0 394.9,471.8 395.7,471.2 396.5,471.9 397.3,472.0 398.1,471.8 398.9,472.0 399.7,471.7 400.5,471.7 401.3,471.5 402.1,472.2 402.9,471.8 403.7,471.7 404.5,471.4 405.3,471.8 406.1,472.2 406.9,471.9 407.7,471.6 408.5,472.2 409.3,472.2 410.1,472.1 410.9,471.9 411.7,471.8 412.5,471.2 413.3,470.8 414.1,470.2 414.9,471.1 415.7,471.2 416.5,472.1 417.3,471.1 418.1,472.0 418.9,472.1 419.7,471.7 420.5,471.8 421.3,471.8 422.1,471.8 422.9,471.8 423.7,471.8 424.5,471.8 425.3,471.8 426.1,471.8 426.9,471.8 427.7,471.8 428.5,471.8 429.3,471.8 430.1,471.8 430.9,471.8 431.7,471.8 432.5,471.8 433.3,471.8 434.1,471.8 434.9,471.8 435.7,471.8 436.5,471.8 437.3,471.8 438.1,471.8 438.9,471.8 439.7,471.8 440.5,471.8 441.3,471.8 442.1,471.8 442.9,471.8 443.7,471.8 444.5,471.8 445.3,471.8 446.1,471.8 446.9,471.8 447.7,471.8 448.5,471.8 449.3,471.8 450.1,471.8 450.9,471.8 451.7,471.8 452.5,471.8 453.3,471.8 454.1,471.8 454.9,471.8 455.7,471.8 456.5,471.8 457.3,471.8 458.1,471.8 458.9,471.8 459.7,471.8 460.5,471.8 461.3,471.8 462.1,471.8 462.9,471.8 463.7,471.8 464.5,471.8 465.3,471.8 466.1,471.8 466.9,471.8 467.7,471.8 468.5,471.8 469.3,471.8 470.1,471.8 470.9,471.8 471.7,471.8 472.5,471.8 473.3,471.8 474.1,471.8 474.9,471.8 475.7,471.8 476.5,471.8 477.3,471.8 478.1,471.8 478.9,471.8 479.7,471.8 480.5,471.8 481.3,471.8 482.1,471.8 482.9,471.8 483.7,471.8 484.5,471.8 485.3,471.8 486.1,471.8 486.9,471.8 487.7,471.8 488.5,471.8 489.3,471.8 490.1,471.8 490.9,471.8 491.7,471.8 492.5,471.8 493.3,471.8 494.1,471.8 494.9,471.8 495.7,471.8 496.5,471.8 497.3,471.8 498.1,471.8 498.9,471.8 499.7,471.8 500.5,471.8 501.3,471.8 502.1,471.8 502.9,471.8 503.7,471.8 504.5,471.8 505.3,471.8 506.1,471.8 506.9,471.8 507.7,471.8 508.5,471.8 509.3,471.8 510.1,471.8 510.9,471.8 511.7,471.8 512.5,471.8 513.3,471.8 514.1,471.8 514.9,471.8 515.7,471.8 516.5,471.8 517.3,471.8 518.1,471.8 518.9,471.8 519.7,471.8 520.5,471.8 521.3,471.8 522.1,471.8 522.9,471.8 523.7,471.8 524.5,471.8 525.3,471.8 526.1,471.8 526.9,471.8 527.7,471.8 528.5,471.8 529.3,471.8 530.1,471.8 530.9,471.8 531.7,471.8 532.5,471.8 533.3,471.8 534.1,471.8 534.9,471.8 535.7,471.8 536.5,471.8 537.3,471.8 538.1,471.8 538.9,471.8 539.7,471.8 540.5,471.8 541.3,471.8" fill="none" stroke="#404040" stroke-width="1.1" stroke-linejoin="round" stroke-opacity="0.8"/>
<polyline points="297.9,411.5 353.3,411.5 353.3,471.8 353.3,471.9 354.1,471.5 354.9,471.2 355.7,471.0 356.5,471.7 357.3,470.1 358.1,470.2 358.9,469.9 359.7,469.8 360.5,469.6 361.3,468.3 362.1,467.7 362.9,468.1 363.7,468.2 364.5,467.5 365.3,466.8 366.1,466.2 366.9,466.4 367.7,466.2 368.5,466.7 369.3,465.9 370.1,467.0 370.9,467.6 371.7,468.8 372.5,469.4 373.3,471.3 374.1,471.6 374.9,472.4 375.7,471.2 376.5,471.7 377.3,471.6 378.1,472.0 378.9,471.1 379.7,472.2 380.5,472.0 381.3,471.1 382.1,470.9 382.9,470.5 383.7,470.6 384.5,471.1 385.3,472.0 386.1,471.6 386.9,472.0 387.7,471.8 388.5,472.3 389.3,472.0 390.1,472.2 390.9,471.5 391.7,471.7 392.5,471.6 393.3,472.3 394.1,472.0 394.9,471.7 395.7,471.7 396.5,471.9 397.3,471.6 398.1,471.5 398.9,471.9 399.7,472.5 400.5,471.7 401.3,471.6 402.1,471.4 402.9,471.4 403.7,472.0 404.5,472.1 405.3,471.8 406.1,471.9 406.9,471.8 407.7,471.8 408.5,471.3 409.3,471.7 410.1,471.8 410.9,471.4 411.7,471.3 412.5,470.8 413.3,470.5 414.1,470.7 414.9,470.5 415.7,471.1 416.5,471.8 417.3,471.9 418.1,472.3 418.9,471.2 419.7,472.1 420.5,471.8 421.3,471.8 422.1,471.8 422.9,471.8 423.7,471.8 424.5,471.8 425.3,471.8 426.1,471.8 426.9,471.8 427.7,471.8 428.5,471.8 429.3,471.8 430.1,471.8 430.9,471.8 431.7,471.8 432.5,471.8 433.3,471.8 434.1,471.8 434.9,471.8 435.7,471.8 436.5,471.8 437.3,471.8 438.1,471.8 438.9,471.8 439.7,471.8 440.5,471.8 441.3,471.8 442.1,471.8 442.9,471.8 443.7,471.8 444.5,471.8 445.3,471.8 446.1,471.8 446.9,471.8 447.7,471.8 448.5,471.8 449.3,471.8 450.1,471.8 450.9,471.8 451.7,471.8 452.5,471.8 453.3,471.8 454.1,471.8 454.9,471.8 455.7,471.8 456.5,471.8 457.3,471.8 458.1,471.8 458.9,471.8 459.7,471.8 460.5,471.8 461.3,471.8 462.1,471.8 462.9,471.8 463.7,471.8 464.5,471.8 465.3,471.8 466.1,471.8 466.9,471.8 467.7,471.8 468.5,471.8 469.3,471.8 470.1,471.8 470.9,471.8 471.7,471.8 472.5,471.8 473.3,471.8 474.1,471.8 474.9,471.8 475.7,471.8 476.5,471.8 477.3,471.8 478.1,471.8 478.9,471.8 479.7,471.8 480.5,471.8 481.3,471.8 482.1,471.8 482.9,471.8 483.7,471.8 484.5,471.8 485.3,471.8 486.1,471.8 486.9,471.8 487.7,471.8 488.5,471.8 489.3,471.8 490.1,471.8 490.9,471.8 491.7,471.8 492.5,471.8 493.3,471.8 494.1,471.8 494.9,471.8 495.7,471.8 496.5,471.8 497.3,471.8 498.1,471.8 498.9,471.8 499.7,471.8 500.5,471.8 501.3,471.8 502.1,471.8 502.9,471.8 503.7,471.8 504.5,471.8 505.3,471.8 506.1,471.8 506.9,471.8 507.7,471.8 508.5,471.8 509.3,471.8 510.1,471.8 510.9,471.8 511.7,471.8 512.5,471.8 513.3,471.8 514.1,471.8 514.9,471.8 515.7,471.8 516.5,471.8 517.3,471.8 518.1,471.8 518.9,471.8 519.7,471.8 520.5,471.8 521.3,471.8 522.1,471.8 522.9,471.8 523.7,471.8 524.5,471.8 525.3,471.8 526.1,471.8 526.9,471.8 527.7,471.8 528.5,471.8 529.3,471.8 530.1,471.8 530.9,471.8 531.7,471.8 532.5,471.8 533.3,471.8 534.1,471.8 534.9,471.8 535.7,471.8 536.5,471.8 537.3,471.8 538.1,471.8 538.9,471.8 539.7,471.8 540.5,471.8 541.3,471.8" fill="none" stroke="#7050c0" stroke-width="1.0" stroke-linejoin="round" stroke-opacity="0.8"/>
<polyline points="297.9,452.5 409.6,452.5 409.6,472.0 410.1,471.9 410.9,471.5 411.7,471.8 412.5,471.8 413.3,470.3 414.1,469.8 414.9,470.5 415.7,471.2 416.5,471.8 417.3,472.0 418.1,471.5 418.9,471.6 419.7,472.2 420.5,471.8 421.3,471.8 422.1,471.8 422.9,471.8 423.7,471.8 424.5,471.8 425.3,471.8 426.1,471.8 426.9,471.8 427.7,471.8 428.5,471.8 429.3,471.8 430.1,471.8 430.9,471.8 431.7,471.8 432.5,471.8 433.3,471.8 434.1,471.8 434.9,471.8 435.7,471.8 436.5,471.8 437.3,471.8 438.1,471.8 438.9,471.8 439.7,471.8 440.5,471.8 441.3,471.8 442.1,471.8 442.9,471.8 443.7,471.8 444.5,471.8 445.3,471.8 446.1,471.8 446.9,471.8 447.7,471.8 448.5,471.8 449.3,471.8 450.1,471.8 450.9,471.8 451.7,471.8 452.5,471.8 453.3,471.8 454.1,471.8 454.9,471.8 455.7,471.8 456.5,471.8 457.3,471.8 458.1,471.8 458.9,471.8 459.7,471.8 460.5,471.8 461.3,471.8 462.1,471.8 462.9,471.8 463.7,471.8 464.5,471.8 465.3,471.8 466.1,471.8 466.9,471.8 467.7,471.8 468.5,471.8 469.3,471.8 470.1,471.8 470.9,471.8 471.7,471.8 472.5,471.8 473.3,471.8 474.1,471.8 474.9,471.8 475.7,471.8 476.5,471.8 477.3,471.8 478.1,471.8 478.9,471.8 479.7,471.8 480.5,471.8 481.3,471.8 482.1,471.8 482.9,471.8 483.7,471.8 484.5,471.8 485.3,471.8 486.1,471.8 486.9,471.8 487.7,471.8 488.5,471.8 489.3,471.8 490.1,471.8 490.9,471.8 491.7,471.8 492.5,471.8 493.3,471.8 494.1,471.8 494.9,471.8 495.7,471.8 496.5,471.8 497.3,471.8 498.1,471.8 498.9,471.8 499.7,471.8 500.5,471.8 501.3,471.8 502.1,471.8 502.9,471.8 503.7,471.8 504.5,471.8 505.3,471.8 506.1,471.8 506.9,471.8 507.7,471.8 508.5,471.8 509.3,471.8 510.1,471.8 510.9,471.8 511.7,471.8 512.5,471.8 513.3,471.8 514.1,471.8 514.9,471.8 515.7,471.8 516.5,471.8 517.3,471.8 518.1,471.8 518.9,471.8 519.7,471.8 520.5,471.8 521.3,471.8 522.1,471.8 522.9,471.8 523.7,471.8 524.5,471.8 525.3,471.8 526.1,471.8 526.9,471.8 527.7,471.8 528.5,471.8 529.3,471.8 530.1,471.8 530.9,471.8 531.7,471.8 532.5,471.8 533.3,471.8 534.1,471.8 534.9,471.8 535.7,471.8 536.5,471.8 537.3,471.8 538.1,471.8 538.9,471.8 539.7,471.8 540.5,471.8 541.3,471.8" fill="none" stroke="#a8202e" stroke-width="1.0" stroke-linejoin="round" stroke-opacity="0.8"/>
<polyline points="297.9,455.6 409.6,455.6 409.6,472.0 410.1,472.1 410.9,471.7 411.7,471.3 412.5,470.6 413.3,470.5 414.1,469.8 414.9,470.5 415.7,471.3 416.5,472.0 417.3,472.0 418.1,471.5 418.9,471.9 419.7,471.6 420.5,471.8 421.3,471.8 422.1,471.8 422.9,471.8 423.7,471.8 424.5,471.8 425.3,471.8 426.1,471.8 426.9,471.8 427.7,471.8 428.5,471.8 429.3,471.8 430.1,471.8 430.9,471.8 431.7,471.8 432.5,471.8 433.3,471.8 434.1,471.8 434.9,471.8 435.7,471.8 436.5,471.8 437.3,471.8 438.1,471.8 438.9,471.8 439.7,471.8 440.5,471.8 441.3,471.8 442.1,471.8 442.9,471.8 443.7,471.8 444.5,471.8 445.3,471.8 446.1,471.8 446.9,471.8 447.7,471.8 448.5,471.8 449.3,471.8 450.1,471.8 450.9,471.8 451.7,471.8 452.5,471.8 453.3,471.8 454.1,471.8 454.9,471.8 455.7,471.8 456.5,471.8 457.3,471.8 458.1,471.8 458.9,471.8 459.7,471.8 460.5,471.8 461.3,471.8 462.1,471.8 462.9,471.8 463.7,471.8 464.5,471.8 465.3,471.8 466.1,471.8 466.9,471.8 467.7,471.8 468.5,471.8 469.3,471.8 470.1,471.8 470.9,471.8 471.7,471.8 472.5,471.8 473.3,471.8 474.1,471.8 474.9,471.8 475.7,471.8 476.5,471.8 477.3,471.8 478.1,471.8 478.9,471.8 479.7,471.8 480.5,471.8 481.3,471.8 482.1,471.8 482.9,471.8 483.7,471.8 484.5,471.8 485.3,471.8 486.1,471.8 486.9,471.8 487.7,471.8 488.5,471.8 489.3,471.8 490.1,471.8 490.9,471.8 491.7,471.8 492.5,471.8 493.3,471.8 494.1,471.8 494.9,471.8 495.7,471.8 496.5,471.8 497.3,471.8 498.1,471.8 498.9,471.8 499.7,471.8 500.5,471.8 501.3,471.8 502.1,471.8 502.9,471.8 503.7,471.8 504.5,471.8 505.3,471.8 506.1,471.8 506.9,471.8 507.7,471.8 508.5,471.8 509.3,471.8 510.1,471.8 510.9,471.8 511.7,471.8 512.5,471.8 513.3,471.8 514.1,471.8 514.9,471.8 515.7,471.8 516.5,471.8 517.3,471.8 518.1,471.8 518.9,471.8 519.7,471.8 520.5,471.8 521.3,471.8 522.1,471.8 522.9,471.8 523.7,471.8 524.5,471.8 525.3,471.8 526.1,471.8 526.9,471.8 527.7,471.8 528.5,471.8 529.3,471.8 530.1,471.8 530.9,471.8 531.7,471.8 532.5,471.8 533.3,471.8 534.1,471.8 534.9,471.8 535.7,471.8 536.5,471.8 537.3,471.8 538.1,471.8 538.9,471.8 539.7,471.8 540.5,471.8 541.3,471.8" fill="none" stroke="#a0a030" stroke-width="1.0" stroke-linejoin="round" stroke-opacity="0.8"/>
<rect x="330" y="488" width="176" height="25.5" fill="none" stroke="#f4f4f4" stroke-width="0.8"/>
<line x1="334.8" y1="493.5" x2="352" y2="493.5" stroke="#4a72c8" stroke-width="1.6" stroke-opacity="0.75"/>
<text x="354.5" y="495.8" text-anchor="start" font-size="6.65" fill="#1e1e1e">GRC 10 YR</text>
<line x1="392.7" y1="493.5" x2="409" y2="493.5" stroke="#ee8030" stroke-width="1.6" stroke-opacity="0.75"/>
<text x="412.0" y="495.8" text-anchor="start" font-size="6.65" fill="#1e1e1e">GRC 1 YR</text>
<line x1="450.2" y1="493.5" x2="467.3" y2="493.5" stroke="#3fa45a" stroke-width="1.6" stroke-opacity="0.75"/>
<text x="470.0" y="495.8" text-anchor="start" font-size="6.65" fill="#1e1e1e">GRC 20 YR</text>
<line x1="334.8" y1="501" x2="352" y2="501" stroke="#e0283a" stroke-width="1.6" stroke-opacity="0.75"/>
<text x="354.5" y="503.3" text-anchor="start" font-size="6.65" fill="#1e1e1e">GRC 2 YR</text>
<line x1="392.7" y1="501" x2="409" y2="501" stroke="#404040" stroke-width="1.6" stroke-opacity="0.75"/>
<text x="412.0" y="503.3" text-anchor="start" font-size="6.65" fill="#1e1e1e">GRC 30 YR</text>
<line x1="450.2" y1="501" x2="467.3" y2="501" stroke="#7050c0" stroke-width="1.6" stroke-opacity="0.75"/>
<text x="470.0" y="503.3" text-anchor="start" font-size="6.65" fill="#1e1e1e">GRC 3 YR</text>
<line x1="334.8" y1="508.6" x2="352" y2="508.6" stroke="#a8202e" stroke-width="1.6" stroke-opacity="0.75"/>
<text x="354.5" y="510.9" text-anchor="start" font-size="6.65" fill="#1e1e1e">GRC 5 YR</text>
<line x1="392.7" y1="508.6" x2="409" y2="508.6" stroke="#a0a030" stroke-width="1.6" stroke-opacity="0.75"/>
<text x="412.0" y="510.9" text-anchor="start" font-size="6.65" fill="#1e1e1e">GRC 7 YR</text>
</svg></body></html>
